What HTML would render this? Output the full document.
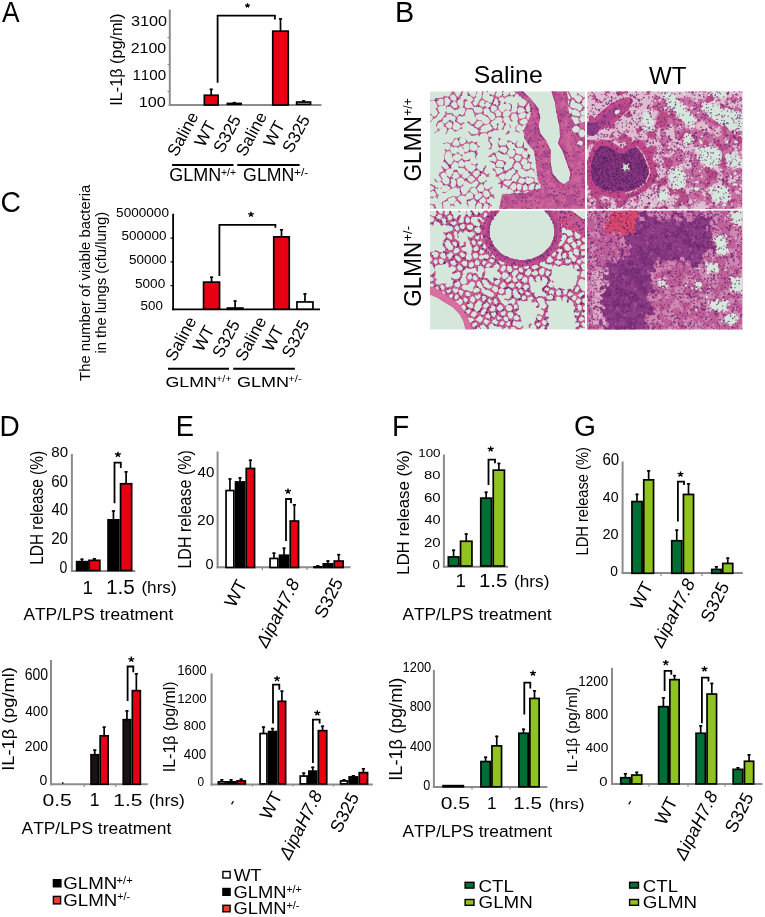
<!DOCTYPE html>
<html><head><meta charset="utf-8"><style>
html,body{margin:0;padding:0;background:#fff;}
svg{display:block;will-change:transform;filter:blur(0.3px);}
text{font-family:"Liberation Sans",sans-serif;font-kerning:none;}
</style></head><body>
<svg width="765" height="917" viewBox="0 0 765 917">
<rect width="765" height="917" fill="#fff"/>
<clipPath id="q1"><rect x="0" y="0" width="155" height="117.6"/></clipPath>
<g transform="translate(430,91.3)" clip-path="url(#q1)">
<rect width="157" height="119.6" fill="#d5e7db"/>
<path fill="#c75b96" fill-rule="evenodd" d="M9 110 5.5 112.5 4 113 0 112.5 0 113.5 2 113.5 3.5 115 4.5 117.5 6 117.5 5 113 7.5 111 9 110.5zM0 92.5 0 94 2.5 95 4 96.5 4 97.5 3 98.5 .5 99.5 0 101 3 99.5 4 99.5 6 103 6 104.5 4.5 105.5 0 105.5 0 106.5 4.5 106 5 105.5 6.5 105.5 7 106 9.5 103.5 8 103.5 7 102.5 5 98 6.5 96.5 8 96.5 7 96.5 4 94zM13.5 52 13.5 53 15 52 17.5 52 19 52.5 20.5 54 20.5 56.5 19 58.5 17.5 59 14.5 57.5 14.5 59 15.5 60 15.5 61 14 64 14 68.5 12.5 71.5 13.5 70.5 15.5 71 17.5 73 19 76 17.5 77.5 15.5 78 11.5 74.5 11.5 76 13.5 79 12 80.5 9.5 81.5 8.5 84 11 87 11.5 89 9.5 90.5 8 90.5 6.5 89.5 5.5 87.5 4 88 6 91 10.5 90.5 12.5 92 13 94.5 11.5 96.5 10 97 10.5 97.5 11.5 97.5 12.5 95 14 94 18 94.5 20 96 20 97.5 18 99.5 15.5 101 13 100.5 10.5 102.5 12 101.5 15 102 19.5 98.5 25.5 96 28 96 29 97 30 99.5 30 102 30.5 102.5 29 104.5 27 105.5 26 105 22.5 105 18 106.5 15.5 109 12 110.5 11.5 112.5 12 113 12.5 117.5 13.5 117.5 13 111.5 16.5 109.5 18 110 20 112 20.5 115.5 19.5 117 20.5 115 22.5 114 25.5 115.5 24 113 24.5 111.5 27 109.5 30.5 112.5 31.5 112.5 31.5 111.5 28 108 27.5 107 28 106 31 104 35 105 36 106 35.5 105.5 36.5 103 38 101 39.5 100 43 103 43.5 106 42.5 107 41.5 107 40 108 38.5 108 38 108.5 37 108 36.5 112 38 115 37.5 117.5 38.5 115 38.5 113 37.5 111 39 109.5 43 108 44 108 46 109.5 46 111.5 45 113.5 45 117.5 46 117.5 45.5 116 46 114.5 48.5 111 50 111.5 52 113.5 51.5 117.5 53 117.5 53.5 113.5 55 112 57 112.5 59 114.5 58 116.5 58 117.5 59 117.5 59 116.5 60.5 114.5 62 115 62 113.5 60.5 113.5 57 110.5 57 108 60.5 105.5 62 105.5 64.5 108 64.5 106 63.5 104.5 64 104 64 102.5 63 103.5 62 103.5 59.5 99.5 59.5 98.5 62.5 96.5 62 95 60 97 58 98 56 98 54 95.5 54 92.5 56 89.5 56 86.5 57 85.5 59.5 85.5 58.5 83.5 58.5 82 57.5 83 56.5 83 54 81 55 77.5 56.5 75.5 56 73.5 54 76 54 77 52.5 79.5 51 80 48 78 46.5 76 46.5 74.5 47.5 73 47 70.5 46.5 72.5 45 73.5 44 73.5 42.5 72.5 41.5 72.5 40 70.5 40.5 67 38 69 34.5 69 33.5 68.5 32 66.5 33 63.5 31.5 63.5 29.5 62.5 28 60.5 28 57 30 55 31.5 55 34.5 60 34 62.5 36.5 62 40.5 60 41 60.5 44.5 61 46 62 45 64 45 66.5 46 67.5 46.5 69.5 46 65.5 48 62.5 47 60.5 47 59 47.5 58.5 47.5 57 50 55.5 50 55 48.5 54.5 47 53 47.5 50 44.5 51.5 41.5 49.5 41.5 48 41.5 49.5 40 51 38 51 36 49 35 46.5 34.5 46.5 36 49 36 50.5 34.5 52 32.5 53 31 53 29 50 29 48.5 28.5 48 29.5 46.5 32 46 29.5 46 29 46.5 24.5 47 23 50 21 52 19.5 52 18 51zM53 106 54 106 56 108.5 56 110 54 112.5 50 111.5 49 110 49.5 109zM25 106 26.5 107.5 25 111 22.5 113 20.5 112.5 18 109.5 18 108 19 107 23.5 105.5zM53.5 100 55 99 57.5 99.5 59.5 102 60 104.5 56.5 106.5 55.5 106 53.5 104 53 102.5zM41.5 97 42.5 96.5 45 96.5 46.5 98 47.5 100 47.5 101.5 50.5 101.5 52.5 104 52 105 48 108.5 46.5 108.5 44.5 106 45.5 103.5 46.5 102.5 44.5 103.5 40.5 100 40 99zM51.5 92.5 53 93.5 54 95.5 54 98.5 53.5 99.5 52 100.5 49.5 100.5 47.5 98.5 47 97 48 95zM31.5 102 30.5 97 33 94 33.5 91.5 34.5 90 35.5 89.5 40 92.5 41.5 92.5 45.5 89.5 47 89.5 48.5 91 47.5 94 45.5 96 43 96 42.5 95.5 41 96 35.5 103 33.5 103.5zM22 87 24 87.5 26 90 26 94.5 23 96.5 22 96 20.5 94 20.5 89zM30 86 32 86.5 34 88.5 34 91 31.5 94.5 29 95 27.5 93 27 88.5zM40 84.5 42.5 85 45 87.5 45 88.5 41 91.5 37 88zM53.5 82.5 56 84.5 56 88.5 54 91 52 92 49 90 48 88.5 48 87.5 49.5 85 52 82.5zM14 81 15.5 81.5 17 84 17 85.5 19.5 88 19.5 91 18 93 15 93 13 91.5 13 90.5 11.5 89.5 12.5 88.5 12.5 87 11.5 86 10.5 83zM25 80 26.5 80.5 29.5 84.5 29.5 85 26.5 87.5 23.5 87.5 22 86 22 84zM35.5 79 37.5 79.5 40.5 83 36.5 87.5 34 87 32 85 33 82zM47 78.5 50 80.5 50 82 47 86 45.5 86 42.5 82.5 44.5 80zM35 78 35 79.5 31.5 83.5 30.5 83.5 28.5 81.5 27 78.5 23 78.5 23.5 80 22.5 83 20 86 18.5 85.5 17 84 16 81 16 79.5 17.5 78 19.5 77 22 77.5 21 76 21 75 22.5 72.5 24.5 70.5 26 70.5 27.5 71.5 28.5 73.5 28.5 77 31.5 76.5 32 77 34 77zM36 70 37.5 70 38 69.5 39.5 70 40.5 71 41.5 73.5 44.5 74 46 76 45.5 77.5 42.5 80.5 40.5 81 36 77 34.5 73 34.5 71.5zM31 69 32.5 69 34.5 71.5 34.5 74.5 33.5 75.5 30 75.5 28.5 74 28.5 71zM23 65 24.5 63 25.5 62.5 28 62.5 30 63.5 32 65.5 32 66.5 29.5 69 27.5 70 26 70 23 67.5zM26.5 55.5 28 57 28 60 26 62.5 24.5 63 21.5 61.5 22 65.5 23.5 68 23.5 69.5 21 73 19.5 73 18.5 72.5 14.5 68 15 67 14.5 66.5 14.5 64.5 16 61.5 17.5 60 20 60 20.5 60.5 20 57.5 21.5 55.5 22.5 55zM38 52 39.5 53.5 39.5 58 37.5 60.5 36 61 34.5 60 32.5 56 32.5 55 34.5 53zM41 52 43 51.5 45.5 52.5 47.5 55 47.5 57.5 46 59.5 42.5 59.5 40 58 40 53zM26.5 47 29 50 29 51.5 29.5 52 29.5 53.5 27.5 55 26.5 54.5 24 54.5 22.5 53.5 22.5 52.5 24 49.5zM58 45 58.5 45.5 58 50 58.5 50 61 53 60.5 56 58 58 61 58 61.5 58.5 61.5 56 62.5 54 62 52.5 60 50.5 59.5 48.5 61.5 46 63 45.5 60.5 46 59 45zM83 41.5 83 42 83.5 42 83.5 41.5zM80 33 79 33.5 80 35.5 79.5 38 76 42 75.5 43.5 76.5 43.5 79.5 40 79 39 79.5 37.5 81 36zM0 9 0 9.5 2 9.5 2.5 9 5 9.5 7.5 14.5 7 16 5.5 17.5 0 18 0 18.5 .5 18 5.5 17.5 8 21.5 6.5 24.5 5 25.5 3 25 0 22 0 23 1 23.5 3 26 2.5 27.5 1 29.5 0 30 0 31.5 3.5 27.5 6 26.5 8.5 23 9 20.5 7.5 17 8 16 10 14.5 14 14.5 15 13.5 14.5 7.5 16 6 17.5 6 19.5 8 20.5 10 20.5 11.5 19.5 13 18 14 17 14 15.5 15.5 16 16.5 16 19.5 15 21 15.5 23 14 24 13.5 25.5 11 28.5 8.5 29.5 7.5 30.5 6 33.5 6 35 7.5 36.5 7.5 38.5 7 39.5 5 41 6 41 13.5 35.5 16 36 17.5 38 16 41.5 15 42.5 16.5 42.5 17 42 18 39 19.5 37.5 21 37.5 23 38.5 25 40.5 27 40 29.5 38 31 38 31.5 36.5 31 35 31.5 34 35 31.5 33 31 31.5 32 30 32 27 29.5 26.5 28 27.5 26 29.5 24.5 33 24.5 33.5 25 35 24.5 35.5 20.5 37.5 18 41.5 18 43 19.5 43 20.5 44.5 23 44 24 46.5 27.5 46 30 43 33 41.5 33 39 30 37.5 30.5 41 34.5 42.5 34 44 36 46 37 48 39 48.5 40.5 48 42 43.5 43.5 41 42.5 39 40 38 40.5 41 44.5 43 44.5 45 43.5 48 43.5 49 45 50 45 50 43.5 52.5 42 56.5 42 58 44 58.5 44 58 43.5 58 42 63 39 68.5 39 69 38.5 73 38.5 74 38 74 36.5 75.5 34 75.5 32.5 74 30.5 73 27.5 74.5 25.5 76 25.5 76.5 25 78 25 79.5 26.5 80 29 81.5 30.5 84 29.5 87 29.5 88.5 31.5 88 33.5 85.5 35.5 85 37 85.5 37.5 85.5 39 84.5 40.5 86 40 88.5 41.5 90 41 90 40.5 88 40 86 38 86.5 35.5 88.5 33.5 90 33.5 92 35.5 92 36.5 92 35.5 94 33.5 95.5 33.5 96 34 96 35 95 36 93.5 39 92.5 38.5 91 40.5 93 39 93.5 39.5 94 45 95 48.5 100 55.5 104 60 104.5 65 105 65.5 105 68.5 105.5 69 105.5 72.5 106 73 106 77 106.5 77.5 106.5 81.5 107 82 107.5 88.5 111 94 111.5 96 109 97.5 105.5 98.5 105 98 105 96.5 106.5 93.5 109 93.5 108.5 92 107 92 105 90.5 104.5 89.5 104.5 87 103.5 86 101 86 98 85 94.5 86 91.5 86 88.5 83 87.5 81 88 79.5 90.5 77.5 92.5 77.5 95.5 80 97 80 101.5 78 103.5 79.5 105 82 105 84 105.5 84 104 77.5 102.5 77.5 101 76 101 73 102.5 71 99.5 70.5 98 68.5 99 66 100.5 65 100 64 98 62.5 97 60.5 97.5 58 97 57.5 95.5 57.5 94 56 94 51 93 50.5 93 53.5 91.5 55.5 87.5 55.5 86.5 54.5 86.5 52.5 88 49.5 87 49.5 86.5 51 85 52.5 82 51 81 49.5 77 49 77.5 51.5 78.5 50.5 80 50.5 82 51.5 85 54 85 55 86.5 57 88 56.5 92 56.5 94 58 94 59.5 91.5 63 88.5 63 86 61.5 85.5 58.5 84.5 57.5 84 58 80.5 58 78.5 57 77 55 77 53.5 76.5 53 77 52.5 75 54 70.5 54.5 68.5 52.5 68.5 49.5 70 47.5 71 47 73.5 47 68 46.5 68.5 47 68.5 50 67.5 52 68 52.5 68 54 69.5 56.5 69.5 58 68.5 59.5 66 61.5 64 61.5 62.5 60.5 63 61 62.5 62 58.5 65 58 64.5 58 65.5 59.5 66 62 64 64 63.5 66.5 67.5 66.5 69.5 65.5 70.5 63 70.5 61 69.5 59.5 69.5 60 70.5 63.5 71.5 65.5 74 65.5 76.5 66 77 66.5 76.5 71.5 77 73.5 79.5 71.5 81.5 67.5 83 66.5 82 65.5 78.5 64.5 77.5 62 77 62.5 78 65 80 66 82 65.5 86 66 85.5 67.5 85.5 71 90 70.5 91 68 91.5 68.5 93 70.5 93 71 93.5 70.5 96.5 71.5 97 72 95 73.5 94 77.5 96.5 77.5 98.5 76.5 100 78 98 80.5 97.5 82 98.5 83.5 100.5 83.5 101.5 81.5 102.5 72 103 69 117.5 155 117.5 155 43.5 153.5 45.5 151.5 46 150.5 45.5 148.5 43 149 40 151.5 38 153.5 38.5 155 40 155 41 155 30.5 151 31.5 149.5 29 149.5 26.5 150 26 149 25 145 24.5 142.5 23.5 141.5 22.5 142 19 145 18 149 20.5 150 22.5 150 24 151 25 155 25 155 24.5 152.5 24.5 151.5 24 150.5 22.5 150.5 21.5 152 19 155 17 155 16 154 15.5 151.5 12.5 152.5 9.5 155 7 155 6 154 6 149.5 3.5 147.5 1.5 147.5 0 147 3.5 145.5 5 147 4 149 4 152.5 6.5 151 10 149 11.5 146.5 10 144 6.5 142.5 6.5 141.5 5.5 139 0 121.5 0 125 11 126.5 22 127 22.5 128 29.5 129.5 34.5 130 45.5 128 52 132.5 59.5 140.5 82 139 89.5 134 93 129.5 90.5 122.5 82.5 122 78.5 121.5 78 121.5 75.5 121 75 121 72.5 120.5 72 120.5 58.5 117.5 53 116.5 50 110.5 42.5 108.5 36 109.5 28.5 110 28 110 25.5 109.5 25 108.5 17.5 101 8 93 0 83.5 0 86 2 82.5 4.5 81.5 4.5 80 3 79 0 78.5 0 79 .5 79 3 74.5 5.5 73.5 5 72.5 3.5 72.5 0 72 0 72 3.5 69.5 5.5 67 5.5 65.5 4 67 0 65.5 0 65 2 63.5 4 61.5 4 59.5 3 58 1.5 57.5 0 56.5 0 58.5 2 59.5 4 62.5 5 63.5 6 62.5 10 61.5 11.5 59.5 11.5 57 9.5 55.5 9.5 52.5 7 52.5 4 53 3.5 53.5 0 52 0 51.5 6.5 49 9.5 47.5 13 45 15 43 12.5 43 10 43.5 8.5 46.5 5.5 46 4.5 47.5 0 46.5 0 45.5 4.5 44 6 41 4.5 39.5 3 38 0 37.5 0 37.5 3.5 38 4 37.5 4.5 39 4 42.5 6.5 43 8.5 41 11 38 10 36 7.5 34 9 32.5 9 33.5 10 33.5 14.5 32.5 16 30 16 28.5 15 27.5 12 27.5 9.5 29 8 31 8 30.5 7.5 30.5 6 33.5 0 31.5 0 31 .5 31 1.5 28.5 5.5 27.5 5.5 26.5 4.5 24 0 22 0 20 4 18 5.5 16 5.5 14.5 4 14 5 12 6.5 5.5 7 5.5 7.5 4 8.5zM99 100.5 96 101.5 94 101.5 93.5 101 97.5 99.5zM84 101.5 84.5 100.5 86 99.5 88.5 99.5 92 101 88.5 102 84.5 102zM104 92.5 105 93.5 104.5 94 104 97.5 101.5 99 99.5 98.5 98.5 97.5 98.5 95 102 92.5zM95 92.5 98 95 98 97.5 96.5 99 94 99.5 93 98.5 93 95zM88 92.5 90.5 93 92 94.5 90.5 99 88 98.5 86.5 96 86.5 94.5zM84 91.5 86 93 86 97.5 84.5 99 83 99 80.5 97.5 80 96 81 94zM95.5 87.5 97 86 99 86 102.5 87 104 88.5 104 89.5 102.5 91 98 93 95.5 91zM91.5 86 93 86 95 88 95 90.5 92.5 92.5 90 92 88 90.5 89.5 87.5zM88 83 89 86 86 90.5 84.5 90.5 84 90 82 90.5 80 93.5 78 95 73.5 92 73.5 90.5 75 89.5 77 89.5 77.5 89 81 89.5 82 88.5 82 86.5 83.5 84 86.5 82zM74 82 75 83 74.5 87.5 74 88.5 72.5 89.5 69.5 87 68.5 85.5 68.5 84.5 72 82.5 73.5 82.5zM83.5 77.5 85.5 79.5 85 82 82 84 81 87 80 88 78.5 88 78 88.5 75.5 88 74.5 87 74.5 85.5 75 85 75 83.5 76 82.5 76 81.5 77.5 81 80 78.5 82 77.5zM98.5 71.5 99.5 72 100.5 73.5 100.5 76 99.5 77.5 96.5 79 93 76.5 93 75 97 71.5zM86 71 89 71.5 91.5 75.5 91 77 88.5 79 86 79 83.5 76.5 83.5 75zM67.5 70 68.5 69.5 71 69.5 73 70.5 74 72 73.5 75 71.5 76.5 71 76 68 76 67 75.5 66 74 66 72.5zM95.5 67.5 97.5 69 97.5 71 94 74 92 74 90.5 72 92 68.5 93 67.5zM86.5 63.5 90.5 64.5 91.5 66 90.5 68.5 89 70 87.5 70 85.5 69 84 66.5zM65.5 62.5 67 61 69 61 72 63 73.5 63 74 63.5 76.5 63 77.5 63.5 79.5 65.5 79.5 68 81 67 82.5 67 84.5 69.5 82 74.5 82.5 75.5 75.5 80 73.5 77 73.5 75 77 70.5 75.5 71 73 69 68.5 68.5 67 67zM94.5 59.5 96 59.5 98 62.5 98 65.5 96.5 67 94 66.5 92 64 92 62.5zM79.5 58 83.5 58 85.5 61 84 64.5 82 66 79.5 65 77 62 78 60.5 78 59.5zM70.5 56 72 55.5 76 55.5 77.5 57.5 76.5 60.5 74 62.5 71.5 61 69.5 59 69.5 57zM147 51.5 148.5 50 151 49.5 152.5 50.5 153 52.5 152 54 149.5 54.5 147 52.5zM144 35 147 34.5 149.5 36.5 150 38.5 148 41 145.5 41.5 144 41 142.5 39.5 142 37.5zM62.5 36.5 62 38 59 39.5 58 39.5 56.5 41 51 41 49.5 39.5 50 37.5 53 34.5 57 33.5 58 32.5 60 33zM19 30.5 21 30.5 22.5 32 22 35.5 20 37.5 17.5 36.5 15.5 34 16 33zM10 30.5 12 31 13.5 32.5 14 35 11 37.5 8.5 37.5 7 36 7 34.5 8.5 31.5zM52 30.5 53 31.5 52 33.5 49.5 36 47 36.5 45 35 45 33.5 47.5 30 50 29.5zM89.5 30 93.5 27.5 96 27.5 97 28 98 29.5 97.5 31.5 94.5 33.5 91.5 33 89.5 31zM67.5 26 71 26 72.5 27.5 72.5 29.5 72 30.5 70.5 31.5 73 31 74 32.5 74 33.5 71.5 38.5 69 38.5 68 37.5 68 34.5 69.5 32 67.5 33 67 36 66 37.5 64.5 37.5 62.5 35.5 60.5 32 62 30 65 28.5 65 27.5zM141.5 26 142.5 25 143 25.5 145.5 25.5 148.5 27 148.5 29.5 150 31.5 148 32.5 145 33 142.5 28 141.5 27zM16.5 23.5 22 23 25.5 26 26 27 25 29 25.5 30.5 29 32.5 31 35 31 36 28.5 38.5 25.5 39.5 23.5 38 22.5 36 23.5 33 23.5 30.5 22 29.5 19.5 29 15.5 32 13.5 32 12 30.5 12.5 28.5 13.5 27 16 25zM45.5 23.5 46.5 22.5 51.5 22.5 53.5 24 56.5 25 58.5 27 60 30 58 32.5 55.5 33 53.5 32 51.5 29 49 29 47 28 46 26.5zM82 22.5 85 22 86.5 23 88 27 88 28 87 29.5 82.5 29.5 81.5 28.5 80.5 25zM94.5 21 96 22.5 95.5 25.5 93.5 27 89.5 27.5 88 24 91.5 21.5zM100 20.5 100.5 21 100.5 24 99 27 99 28 98 28.5 96.5 26.5 96.5 23 97.5 21.5zM65 20.5 67.5 18.5 68.5 19 71 21.5 71.5 24 69.5 25 66.5 25 64.5 22zM55 17 58 17 59.5 18.5 60.5 21 64 22.5 65 24.5 65 27 64 28 62 29 60.5 28.5 58 24.5 56.5 23.5 55 23.5 53.5 22 53 19.5zM87.5 21 88 17 89 16 92.5 16.5 95 18.5 95 19.5 94 20.5 93 20.5 91.5 21.5 88.5 22zM32.5 16 34.5 17 35.5 18.5 34 22.5 32.5 24 30 23.5 29 22.5 28 19.5 28 18 29.5 16.5zM139 15.5 142 18 142 20 140.5 22.5 139 22 139 19.5 138.5 19 138.5 16zM18 14.5 21 16 23 18 27 18 28 19 29 23 27 25.5 24 24 23 22.5 21.5 21.5 17.5 22 16.5 21 16 19.5 16.5 16.5zM62.5 14 65.5 15 67 16.5 66.5 18.5 64 20.5 62 20.5 60.5 18.5 60.5 16.5zM98.5 12 99.5 13 100 20 99.5 20.5 97 20.5 95.5 18 95.5 17zM56.5 10.5 59.5 11.5 61 13.5 59 16.5 56 16.5 54.5 15 54.5 13zM35 11 36 10 38 10 40.5 11 43.5 15.5 48.5 15 51.5 16.5 52.5 17.5 52.5 20 51 21.5 46 21.5 44.5 20.5 43.5 17.5 42 16.5 36.5 17 34.5 14.5 35 13.5zM23.5 10 25 10 26.5 11.5 27.5 15.5 26 17 23.5 16.5 20.5 13 21 12zM138.5 9 139.5 10 138.5 13.5 138 13 138 9.5zM141 9.5 142 8.5 143 8.5 147 12 150.5 13 152.5 15 153 16 152.5 17 150.5 19 149 19.5 146.5 17.5 141.5 16.5 140 14.5zM52 8.5 54 9.5 55 11 54.5 14 53 16 49 14 49.5 11.5zM6.5 9.5 8.5 8 12.5 7.5 13.5 8.5 13.5 13 12.5 14 9 14 8 13zM65.5 7 67 7.5 69 12.5 68.5 13.5 67 14.5 64.5 13.5 63 12zM69.5 6.5 72.5 5.5 74.5 7.5 74.5 11 74 12 75.5 13 76.5 12 78.5 12 81 14 81 16.5 79.5 19 77.5 19 76.5 18 75 18.5 73.5 20.5 72 21 69 18.5 68.5 15.5 70.5 13 70.5 11.5 69 8.5 69 7zM96.5 10 96.5 11.5 94 15.5 89.5 14 88.5 13 88.5 11.5 88 11 87.5 11.5 87.5 17 86.5 20 84.5 21.5 83 21 81 21.5 80 23.5 78 25 74 25.5 72.5 24 73 21.5 76 19 78 19 80.5 20.5 81.5 20 81.5 17.5 82 17 82 14 81.5 13 78.5 11.5 78 12 76.5 12 74.5 9.5 74.5 7.5 76 6 79.5 4.5 80.5 5 83.5 5 87 2.5 89.5 4 92 7 93.5 7.5zM22 2.5 23 2.5 25.5 5 26.5 7 26.5 8.5 25 9.5 22.5 9.5 21 8 20 5zM137.5 .5 140.5 6.5 139.5 8 137.5 7 137.5 3 137 2.5 137 1z"/>
<path fill="#b4447f" fill-rule="evenodd" d="M92 0 92 1.5 100 9.5 107.5 19 108 23.5 108.5 24 108.5 29.5 107.5 33 107.5 37.5 109.5 44 115.5 51.5 116.5 54.5 119.5 60 119.5 73.5 120 74 120 76.5 120.5 77 120.5 79.5 121 80 121.5 84 128 91.5 132.5 94 135.5 94 140 91 140.5 87.5 141.5 85 141.5 80.5 133.5 58 129.5 51.5 131 47 130.5 33 130 32.5 130 30.5 129.5 30 128 21 127.5 20.5 126 9.5 123.5 2.5 123.5 1 123 0 121.5 0 125 11 126.5 22 127 22.5 128 29.5 129.5 34.5 130 45.5 128 52 132.5 59.5 140.5 82 139 89.5 134 93 129.5 90.5 122.5 82.5 122 78.5 121.5 78 121.5 75.5 121 75 121 72.5 120.5 72 120.5 58.5 117.5 53 116.5 50 110.5 42.5 108.5 36 109.5 28.5 110 28 110 25.5 109.5 25 108.5 17.5 101 8 93 0z"/>
<path fill="#8c3a86" fill-rule="evenodd" fill-opacity="0.35" d="M106.5 117 106.5 117.5 109 117.5 108 116zM94.5 117.5 98.5 117.5 96.5 116 95.5 116zM134.5 114 133.5 115 134.5 116.5 134.5 117.5 136.5 117.5 136.5 115.5zM114.5 114 113.5 114 113.5 117 114 117.5 115 115.5zM86 110 82.5 110.5 81.5 111.5 81 113.5 84 114 85 113zM117.5 109 117 109 116.5 110 117.5 110zM96 108.5 95 110.5 95.5 112 97 111 97 110zM127 108 126 109.5 126 113 127 115.5 128.5 115.5 130.5 114 131 111.5 129.5 108.5zM73.5 104.5 73 105 75.5 108.5 75 109 75 112 77.5 114 77.5 115.5 79 116 79.5 114.5 77.5 114 77 112.5 77.5 111 79.5 109 79.5 107 78 105zM120 103.5 119.5 104 119.5 105.5 121 106 121.5 105 121 103.5zM145 103 143.5 103.5 139 103.5 136.5 105 136 106.5 136.5 109 138 110.5 138 113 140 114.5 142.5 114 142.5 112 143.5 111 145 111 145.5 111.5 147.5 111 147.5 110 145 107.5 145 105.5 145.5 105 145.5 103.5zM116.5 103.5 116 103 115 103.5 113.5 105.5 112 105.5 110.5 104 109 104 107 105.5 107 106.5 112.5 108.5 116.5 106.5zM155 101.5 154.5 102 154 107.5 151 111.5 151 112.5 149.5 114 150 115.5 151.5 115 151.5 112.5 152.5 111.5 155 110.5zM93 101.5 90.5 101.5 88.5 104 87.5 103.5 87 102 85 102 85 105 87.5 108 87 109.5 90 109.5 90.5 109 90 107.5 90.5 106.5 94 104 94 103zM105.5 100 104.5 99 100.5 101 97.5 101 96.5 102 96 104 96.5 104.5 98.5 104.5 100 103.5 103 103.5zM110 97 108 97.5 106.5 100 109 100.5 110 99.5zM132.5 98.5 133 99 134.5 99 136.5 97.5 140 98 140.5 97 140 96.5 134.5 96.5 133 97zM143.5 92.5 141.5 94 141.5 96.5 144 98 145.5 100.5 146 100 145 98.5 146 96.5 146 93.5 145.5 92.5zM153.5 89.5 149.5 93 152.5 92.5 153.5 93.5 153.5 97 155 97.5 155 89.5zM110 87.5 110 88.5 112.5 89.5 113.5 91 114.5 91.5 115.5 91 115.5 89 113.5 89.5 112 87.5zM140 85 139.5 86 140.5 87 141.5 87 141.5 86zM114 86 115 87 116 87 117 85 114.5 85zM123.5 84.5 120.5 87 120.5 88 122 88.5 125 87 126 88 126 90 127 93 126.5 94 126.5 96.5 127 97 129.5 94 129.5 91.5 130 90.5zM151 81.5 151 83.5 152.5 84.5 153.5 83zM145.5 80.5 144.5 82 144.5 83.5 145 84 146.5 83 146.5 81.5zM155 71.5 153.5 75.5 153.5 76.5 155 78.5zM121 74 118 73.5 115 71.5 112 72 111.5 73.5 115 78.5 111.5 80.5 108.5 79.5 107.5 81 107.5 82.5 109 84 111.5 84 112.5 83.5 115 78.5 118.5 78.5 120 77.5 121.5 75.5zM141.5 68 140 69 140 70.5 141 71.5 142.5 71 142.5 69.5zM135 64.5 134.5 65.5 135.5 68.5 136.5 69 137.5 67 137.5 65 137 64.5zM155 64 154 65 154 66 155 66zM150 60 148 61.5 144.5 61 144.5 62.5 143 65.5 143 66.5 144.5 67 146 68.5 145.5 69.5 145.5 71 146 71.5 148 68.5 150 68.5 151.5 66.5 151 65.5 149 65.5 149 66.5 148 67.5 147 66.5 148 64.5 148 62.5zM120.5 60 119 60 116.5 58.5 113 62 109.5 64 108 64 106 61.5 104.5 61.5 104 60.5 104 61.5 105 62.5 105 64.5 106 64.5 108 66.5 114 66.5 117 63 119 61.5 120.5 61.5zM106.5 55.5 106.5 56.5 107.5 58 111 56 108 54.5zM132 52.5 130 55.5 131 56.5 133 61.5 134.5 61.5 136.5 60 136.5 59 133.5 55.5 133.5 53.5 134 53 134 51.5zM130 47 129.5 47 128.5 50.5 131.5 48.5zM155 46.5 151.5 46 151 45.5 151 47 152.5 49 152.5 51 153 51.5 152.5 53.5 151 54.5 149.5 54.5 147 52.5 147.5 49 148 48.5 147.5 47 144.5 47.5 143 50.5 143.5 51 145.5 51 148.5 55 150.5 55.5 153.5 53.5 155 53.5zM146 41.5 148 44 149.5 44.5 148.5 43 148.5 41.5 149 41zM97.5 31 97.5 32 94.5 37 97 39 98 40.5 98 42.5 98.5 43 100 42.5 100 41 101 40 102.5 40 103.5 41 103.5 41.5 101.5 43 102 45 103.5 46.5 103.5 48 102.5 49 100.5 49 100 49.5 97.5 49 97 50 98.5 52.5 98.5 53.5 99 54 103 51 106 51.5 108.5 50 108.5 48 107 46 107 44.5 108 43.5 110 44 112 46 112.5 47.5 114 47.5 113.5 46 111.5 44 110 41.5 110 40 108.5 35.5 105 34.5 103 37.5 100 37.5 98 35zM142 28.5 139 28.5 138.5 29 138.5 30.5 140 32 140 33.5 135.5 38 132.5 38 132 37.5 130.5 38 131.5 39 137 39.5 138 39 140.5 36 141.5 36 142.5 37 144 35 145 35 145 33 143.5 31.5zM101.5 30 104 30 105.5 29.5 106 28.5 104 26.5 102.5 26.5zM109.5 22.5 108.5 22.5 107.5 23.5 107.5 25.5 109 26.5 110 26 109.5 25zM100.5 21.5 100.5 23.5 101 23.5 101.5 22.5zM139 20 136.5 20.5 135.5 20 133.5 17.5 130.5 17.5 129.5 17 127 20.5 129.5 24 129.5 26 128 27 128 29.5 129 32.5 131.5 31 132.5 28.5 132.5 27 134 26 137.5 22 139 21.5zM100 17.5 101.5 17.5 101 17zM106.5 15 106 15 103.5 18 105 20.5 106 20.5 108.5 17.5zM122 0 122.5 4 123.5 7 125 9 127.5 9.5 133 7.5 135 10 137.5 10.5 138 9.5 137.5 6 137 5.5 137.5 3 136.5 0 133.5 0 133.5 1.5 136 4 136 5 133.5 7.5 129.5 2 127.5 2 127 2.5 126.5 2 127.5 0zM126.5 4.5 127.5 4.5 128.5 5.5 128.5 7 127.5 8 126.5 8 125 6.5zM89 0 87 2.5 94 7.5 94.5 5 95.5 4 97 4 93 0z"/>
<path fill="#d0689e" fill-rule="evenodd" fill-opacity="0.8" d="M152 117.5 153.5 117.5 153.5 117zM128.5 117 128.5 117.5 133 117.5 131.5 116 130 116zM122 116.5 122 117.5 124 117.5 124 116.5 123 116zM84 117 84 117.5 87 117.5 85.5 116zM88 117 88 117.5 93.5 117.5 92.5 115.5 89.5 115.5zM149.5 117.5 146 113.5 145 113.5 143.5 115.5 139 116 138.5 116.5 138.5 117.5zM74.5 114 73 113.5 72 116 71 117 69 116.5 69 117.5 74 117.5zM154.5 113 154 114 155 114.5 155 113zM97.5 113.5 97.5 114.5 100.5 115.5 100.5 117.5 104.5 117.5 107 114.5 108.5 114.5 110 116 110.5 117.5 112 117.5 112 113 113.5 112 114 111 112.5 110 110.5 110 109 108.5 106 108.5 105.5 110 106.5 111 110 111 110.5 111.5 109.5 113 108 113 106 114 101 114 100 112.5 99 112.5zM93 107.5 93 108 93.5 108 93.5 107.5zM71.5 106.5 71 107 70.5 110.5 71 110 73 110 73 108zM82.5 106 82 107.5 82.5 108 84 108 84 106.5zM134 105.5 132.5 106 131.5 107.5 131.5 110 132.5 112.5 133.5 111.5 135.5 111.5zM98.5 105.5 97.5 106.5 97.5 108 99 109.5 102 110.5 102.5 110 102.5 107 103 106 102.5 105.5zM78 102.5 72 103 78 103zM83 102 82.5 102 82.5 102.5zM152 101.5 151 101.5 150 104.5 149 105.5 148 105 146.5 107 149 109 151 108.5 152.5 106.5 153 104zM134 103 134.5 104 135 104 138 102 143 101.5 143.5 100.5 143 99.5 141 99.5 140.5 100 136 99.5 134 101zM131 100.5 130 100 128 101.5 127.5 101 125.5 101 124 100 123.5 98 122.5 97.5 120 98 118 99.5 118 100.5 119 101.5 121 101.5 122.5 102.5 124 106 124 108 120.5 109.5 120.5 110 117 113 117 115 117.5 115.5 120 115.5 121 113.5 124 111.5 124 108.5 126 107 126.5 104.5 128.5 102 131 102 131.5 101.5zM151 96 148 96.5 147.5 97 147.5 98.5 150.5 97.5zM131 91.5 131.5 93 133.5 92.5zM108 89 110 93 111.5 94.5 111.5 101.5 113 102 114.5 100.5 115 96.5 116 95 112.5 93 111 90.5zM118 88 117.5 89 117.5 92 118 92.5 117.5 95 118 95.5 119.5 95.5 121.5 94.5 122.5 95.5 124 95.5 125 94.5 125 92.5 124.5 92 122 92 121.5 91zM154 86 154 87.5 155 88 155 85.5zM151 86.5 148 84 146.5 85.5 145 86 142.5 89.5 140.5 90 139 88.5 139 89.5 138 90.5 134.5 92.5 135 93.5 138 94.5 138.5 94 138.5 92.5 140 90.5 142.5 90.5 144 89.5 145.5 90 147 91.5 148.5 91.5 149.5 90 149.5 89 151 87.5zM142.5 78.5 141 79.5 141.5 83 142.5 83 143 82 143 79zM122 78.5 121 78 119.5 79.5 116.5 80.5 115.5 81.5 115.5 82.5 120 83 122 80zM109.5 77 109.5 77.5 111 78.5 112 78 112 77.5 110.5 76.5zM138 72 138.5 73 140 73.5 140.5 74.5 143 76.5 145 75.5 145.5 73.5 144 72.5 140.5 73.5zM152.5 71.5 151 71 148.5 71 147.5 72.5 147.5 78.5 148 79.5 149 79.5 150 78.5 149.5 75.5 150.5 74.5 152 74.5 153 73zM119 71 119.5 72 120.5 72 120.5 71zM120.5 63.5 119.5 63.5 119.5 66 118 67.5 116 67.5 114.5 69 112.5 69 111 68 109 68.5 108 69.5 108 71 107 72 105.5 72 106 73 106 75.5 107 75 110.5 71 113 69.5 117.5 70.5 117.5 68.5 118 68 120.5 68.5zM142 63 140 63 139.5 63.5 139.5 65.5 140.5 65.5zM154 59.5 152.5 60 150.5 62.5 151 64 153.5 63.5 154.5 61zM114 58 113.5 57.5 111 59 111 60 111.5 59.5 113.5 59.5zM145.5 56 145 57.5 146.5 59 147.5 59 148 58.5 148 57 147 56zM155 54.5 153.5 55 152.5 56.5 153 57 155 57zM103 53.5 102 55 102.5 55.5 104 55.5 104.5 55 104.5 53.5zM149.5 48.5 149.5 49.5 151 49.5zM108.5 52 109.5 53.5 110.5 53.5 112 52.5 116 52.5 117.5 54 118.5 56 118.5 57.5 119 58 120 57.5 115.5 48.5 113.5 49 111.5 51.5zM109.5 46 109.5 47 110 47zM155 43.5 154 45 155 45zM140.5 40 139 40 137.5 41 137 42.5 135 44.5 135.5 45 136 49.5 136.5 50 136 55.5 137 56 138 57.5 138 60.5 138.5 61 142 58 142.5 56.5 142 55.5 141 55.5 140 54.5 140 52.5 139 50.5 139.5 48.5 141 47 140.5 43 141.5 42 143 43 144 45 145.5 45 146 44.5 145.5 43 143.5 41zM93.5 39.5 94.5 46 98 46 99.5 47 100.5 47 100.5 45.5 100 45 97.5 44.5 96.5 43.5 95.5 40 95 39.5zM100.5 33 100 34.5 101 35.5 102.5 35.5 102.5 33.5 102 33zM149.5 32 150.5 33.5 149.5 35.5 149.5 37 150 37.5 149.5 39.5 150.5 38.5 152.5 38 155 40 155 41 155 34 154.5 33.5 155 30.5zM109.5 29.5 106 32 106 32.5 108 34 109 33.5zM99.5 26.5 99 27 99 28.5 99.5 28zM140 24 138.5 25.5 137.5 25.5 136 26.5 136 28.5 134.5 29 133.5 30.5 133.5 34 133 34.5 130.5 34 131.5 35.5 134.5 36 137.5 33.5 137.5 32 136 29.5 136 28.5 139 26.5 141.5 26.5zM127 23 127.5 25.5 128 24zM104 22 103.5 22.5 103.5 24 104.5 25 105.5 25 106 23.5 105.5 22.5zM128 13.5 126.5 13.5 125.5 15 126 17.5 128.5 14.5zM130.5 11 131.5 14.5 132.5 15 136.5 14.5 138.5 16 138 13 136 13 132.5 10 131.5 10zM96.5 6 96 6.5 96.5 10 99.5 13 99.5 15.5 104 16 104.5 15 104.5 12.5 99 6z"/>
<path stroke="#4e1c62" stroke-opacity="0.6" stroke-width="1.2" stroke-linecap="round" d="M124.9 99.7h0M106.6 68.8h0M141.4 44.3h0M116.4 92.5h0M125.6 117.4h0M129.2 95.7h0M138.9 97.1h0M135.5 61.6h0M152.8 69.3h0M113.7 76.9h0M95.8 46.9h0M153.2 36.9h0M95.2 103.6h0M118.2 54.5h0M105.1 60.2h0M115.4 72.1h0M105.5 109.4h0M146 42.3h0M117.1 98.5h0M148.3 114.1h0M101.6 18.1h0M92.3 1.1h0M118.1 60.8h0M108.8 112.6h0M95.3 104.8h0M136.2 111.4h0M96.4 109h0M144.2 75.7h0M101.1 20.1h0M141.2 103.9h0M142.6 42.3h0M147.1 106.4h0M149.7 60.7h0M154.7 38.8h0M97.7 105.9h0M118 65.9h0M138.9 68.9h0M116.1 83h0M143.3 69.7h0M141.1 80.2h0M99.1 34.9h0M148.4 45h0M117 102.2h0M81.1 109.8h0M155.3 82.9h0M155.5 51.3h0M114.7 52.5h0M151.7 73.4h0M120.6 72.7h0M145.3 52.9h0M153.9 91.2h0M98.6 10.2h0M153.9 96.1h0M108.2 48.7h0M131 46.2h0M132.7 106.7h0M101.4 49.4h0M126.4 111.1h0M136.8 12.8h0M118.6 95.9h0M95.4 47h0M138.6 32h0M155.2 53.5h0M120.3 72.9h0M74.6 107.6h0M72.2 110.8h0M106.4 99.7h0M140 39.1h0M147.8 74.4h0M73.7 117.6h0M92.8 106.4h0M99.1 110.3h0M152.2 82.6h0M95 7.7h0M108.9 37.3h0M100.8 47.7h0M132.5 102.9h0M96.1 110.1h0M79.6 112.9h0M107.7 100.1h0M107.5 111.1h0M136.3 101.3h0M152.9 108.6h0M104.2 56.6h0M150.1 108.8h0M149.9 81.8h0M101.6 49.7h0M98.4 50.5h0M89.6 103.1h0M148 33.9h0M155.3 33.7h0M155 31.3h0M103.8 12.4h0M144.7 111h0M100.9 14.2h0M148.9 55.9h0M114.2 90h0M115.2 98h0M109.7 91.4h0M132.6 102.6h0M114.7 100.5h0M134.2 3.8h0M145 73.8h0M149.2 60.9h0M141.9 52.5h0M138 93.3h0M100.5 11.1h0M111.9 76.2h0M134.7 17.3h0M137.4 40.4h0M106.9 72.1h0M139.3 35.8h0M154.1 81.9h0M95.6 115.5h0M113.9 48h0M138.3 90.9h0M145.5 108.4h0M143.8 57.4h0M75.7 115.3h0M128 110.5h0M147.2 51h0M122.7 97.1h0M147.4 91.7h0M107.8 83.3h0M151.7 113.9h0M101.3 34.6h0M117.6 92.9h0M92.2 103h0M105.5 41.4h0M149 78.5h0M71.7 114.7h0M105.3 32.7h0M137.4 104.8h0M119.8 103.1h0M130.8 98.2h0M127.2 11.3h0M138.2 25.4h0M128.3 25.2h0M96.1 106.9h0M123.4 100.4h0M148.9 34.6h0M152.4 82.4h0M135.1 55.4h0M121 110h0M142.9 35.3h0M105.2 36.1h0M120.5 104.5h0M150 105h0M136.9 46.7h0M136 26.5h0M149.4 110.2h0M155 56.9h0M85.9 109.4h0M132.8 25.9h0M117.1 64.4h0M104.5 32.9h0M132.4 110.8h0M138.3 64.7h0M136.6 99h0M105.6 31.6h0M133.4 102.1h0M126.7 20.5h0M132.4 43h0M114.1 62.2h0M99.1 48.7h0M98.4 9.9h0M100.6 105.3h0M136.3 100.8h0M102 113.6h0M131.5 42.2h0M86.1 106.4h0M93.5 40.2h0M150.1 47h0M144.2 63.9h0M118.4 117.8h0M136.8 114.3h0M107.5 69.5h0M107.2 56.2h0M78 111.3h0M77.1 116.8h0M153.2 72.5h0M130.6 9.8h0M120.5 59.3h0M113 54.9h0M145.5 104.3h0M76.1 102.9h0M107.4 84.2h0M115.4 97.8h0M81.8 102.6h0M134.5 60h0M106.3 63.5h0M143.5 60.7h0M112.2 71.8h0M116.6 104.1h0M132.5 45.5h0M154.1 96.2h0M115.1 80.2h0M123.4 105.6h0M96.3 111.5h0M155.2 95.1h0M102 33.7h0M138.5 100.7h0M129.6 101.7h0M151 61h0M120.3 90.1h0M113.8 84.9h0M109.3 70.4h0M106.9 17.9h0M152.9 86.6h0M84 110.6h0M106.8 32.6h0M139.2 26.1h0M136.3 67.2h0M140.1 93.9h0M109.4 74.3h0M111.5 48.8h0M100.2 114.1h0M152.4 59h0M128.7 15.3h0M110.5 102.6h0M152.5 79.2h0M105.9 63.9h0M144.8 100.4h0M134 35.8h0M136.5 10.7h0M153.5 59.7h0M121.3 79.1h0M147.9 43.5h0M148.3 100.7h0M146.1 82.1h0M139.5 116.4h0M71 112.2h0M125.1 1.7h0M102.6 115.3h0M118.5 117.2h0"/>
<path stroke="#4e1c62" stroke-opacity="0.6" stroke-width="1.6" stroke-linecap="round" d="M118.2 105.8h0M107 116.7h0M152.7 77.4h0M148 96.6h0M100.8 13.8h0M101.2 117.9h0M91.2 110.2h0M98.9 48.8h0M134.7 103.6h0M120.8 81.5h0M109.6 44.7h0M94.7 46h0M96.8 35.2h0M148.9 99.9h0M107.6 52.5h0M113.9 93.2h0M139.9 25h0M105.1 13.9h0M108.2 22.6h0M111.8 84.1h0M89.5 4.5h0M92.2 116.6h0M123.1 103.8h0M101 40.2h0M109.8 26.2h0M118.4 65.3h0M109.3 48.1h0M97.8 117.6h0M130.9 29.6h0M134.6 113.8h0M114.7 117.9h0M116.9 62.5h0M153.3 108h0M148.2 32.6h0M152 113.6h0M113.2 55.1h0M110.8 68.3h0M125.9 110h0M109.5 24h0M102.4 23.2h0M136.2 62.3h0M101.2 109.4h0M132.1 23.5h0M102.2 103.4h0M154 52.7h0M141.4 82.9h0M134.8 15.9h0M124.1 91h0M115.5 64.8h0M125.1 105.8h0M135.9 20.4h0M133.8 30.7h0M82.9 109.4h0M111.2 44.7h0M146.6 43.1h0M125.9 104.1h0M104.3 55.7h0M99.9 46.3h0M135 102.7h0M107.6 60.8h0M92.6 109.3h0M101.2 46.5h0M149.2 102.2h0M125.7 88.9h0M144.2 95.2h0M74.4 117.1h0M114.3 60.4h0M150.4 82.9h0M99.7 103.6h0M148.1 54h0M117.1 72.3h0M132.2 39.7h0M119.6 62h0M124.2 100.4h0M84.6 102.3h0M96.3 42.3h0M152 95.3h0M138 22h0M72.1 109.9h0M105.8 63.1h0M98.3 51.6h0M130.1 23.1h0M138 95.8h0M151.7 48.6h0M143.8 103.6h0M97.4 117.7h0M121.3 102.5h0M149.3 54h0M118.7 104h0M91.9 106.4h0M90 101.9h0M94.8 39.2h0M141 79.1h0M145.1 46.4h0M143.7 44.3h0M115.2 95.8h0M137.7 35.5h0M139 76.2h0M153.6 72.5h0M107.2 55.2h0M86.8 112.1h0M124.9 86.1h0M111.1 94.8h0M134.4 60.8h0M137.4 61.4h0M112.9 73.9h0M137.7 114h0M124 104.2h0M100.9 19.7h0M152.4 88.6h0M95 106.8h0M105.5 38.1h0M125.9 109h0M145.9 112.8h0M106.1 105.2h0M102.4 16.4h0M124.3 107.7h0M134.3 2.8h0M121 97.3h0M134.9 24h0M131.7 7.4h0M142.6 65h0M148.3 78.7h0M101.8 17.2h0M82 115.7h0M97.4 44.5h0M113.3 86h0M99.9 117.3h0M137 6.1h0M147.5 60.4h0M106.9 33.5h0M109.9 110.6h0M72.2 110.3h0M133.1 95.3h0M141.9 78.1h0M125 85.8h0M123 83.7h0M127.4 104.1h0M72.1 114.7h0M147.4 105.1h0M93.1 104.7h0M130.1 101.6h0M146.7 101.9h0M139.2 64.8h0M107.1 26.9h0"/>
<path stroke="#4e1c62" stroke-opacity="0.7" stroke-width="1.2" stroke-linecap="round" d="M26.7 70.5h0M98.2 64h0M96.9 57.6h0M6.5 24.9h0M61.8 104h0M88.3 16.3h0M84.4 68.3h0M27.2 27.8h0M46.4 62.7h0M71.8 91.9h0M98.2 63.1h0M25.7 106.9h0M98.5 86.2h0M93.5 86.7h0M20.7 60.5h0M77.5 56.6h0M43.8 104.2h0M29.9 23.2h0M84.7 100.5h0M93.2 53.8h0M40.4 109.3h0M83.4 4.4h0M20.6 90.4h0M86.4 79.1h0M145.2 25.7h0M25.7 29.3h0M97.9 29.5h0M86.9 79.9h0M98.7 65.6h0M29.1 110.6h0M71.2 25.4h0M30.7 85.8h0M72.3 23.1h0M61.2 33.8h0M86.7 99.9h0M104.7 98.1h0M4.2 26.4h0M99.7 64.1h0M17.1 37.8h0M33 94.5h0M74.3 12.1h0M22.3 31.4h0M73.5 76.3h0M86.3 98h0M87.5 21.8h0M70 10.1h0M60.5 4.3h0M26.8 79.4h0M39.5 108.5h0M75.1 73.2h0M63.5 9h0M83.7 58.1h0M15.4 109.5h0M17.9 85.2h0M45.1 36.3h0M1.1 23.4h0M72.3 91.5h0M105.1 96.5h0M12.2 28.8h0M79.2 40.8h0M49.4 111h0M31.7 101.6h0M95.7 17.9h0M17.2 73h0M20.1 88.8h0M18.7 94.7h0M91.1 73.1h0M60.3 19h0M25.6 29.6h0M38.2 4.1h0M15 70.8h0M40.3 17.5h0M22.8 32h0M81.5 16.4h0M62.9 38.5h0M81.2 14.4h0M57 25h0M59.6 11.5h0M81 24.8h0M33.8 14.8h0M77.1 56.4h0M97.6 71.7h0M140.8 24.1h0M92.3 6.8h0M78.3 50.6h0M5.1 41.2h0M44.3 15h0M54.8 12.1h0M8.9 39.5h0M141.1 17.4h0M105.3 98.3h0M65.5 72.3h0M30.7 24.3h0M50.5 84.1h0M94.7 87.1h0M13.8 52.3h0M46.2 23.2h0M19 6.8h0M68.7 13.1h0M20.7 30.8h0M6.2 7.2h0M6 7.7h0M47.7 110.3h0M139.3 12.4h0M95.2 91.9h0M99.4 66.9h0M84.9 71.3h0M22 11.3h0M68.5 83.9h0M48.5 102h0M79.1 4.6h0M14.6 78.4h0M48.5 109h0M45.3 78.5h0M44.6 89.7h0M9.6 30.4h0M83 76.2h0M22.5 9.9h0M5.4 116.2h0M97.6 93.3h0M58.9 82.8h0M47.6 23h0M87.5 16h0M26.3 27.4h0M49.1 14h0M60.4 51.7h0M104.8 94.8h0M149.5 25h0M52.5 112.2h0M16.7 5.6h0M17.6 37.7h0M150.9 11.1h0M58.3 98.2h0M19.8 94.2h0M37 88.1h0M24.8 18.4h0M150 26.3h0M27.4 7.3h0M150.2 29.8h0M44 105.1h0M16 25.3h0M60.7 17.5h0M45.3 60.6h0M33.2 56.7h0M90.9 100h0M20.2 87.2h0M29.9 46.6h0M33.7 69.5h0M50.1 81.1h0M56.3 89.9h0M63.6 78.8h0M40.5 82.8h0M81.4 97.8h0"/>
<path stroke="#4e1c62" stroke-opacity="0.7" stroke-width="1.6" stroke-linecap="round" d="M74.6 71.5h0M35 8.7h0M72.9 .4h0M19.9 12.7h0M8.9 21.4h0M30.4 112.3h0M4.3 99.2h0M46.3 78.5h0M45.2 61.8h0M45.7 108.9h0M62.7 70.8h0M146 11h0M75.6 80.6h0M73 62.3h0M83.6 90.9h0M75.5 32.7h0M88.3 31.2h0M48.6 15.3h0M97.1 78.8h0M50.7 101.2h0M38 69.2h0M39 81.4h0M98 95.9h0M59.3 112.3h0M59.4 16.6h0M47.7 94.8h0M62.1 35.2h0M21.9 3.2h0M65.4 13.6h0M55.5 15.7h0M43 43.5h0M38.8 100.8h0M20.5 11.8h0M71.5 61.1h0M22.5 83.5h0M73.2 62h0M28.7 48.6h0M28.8 14.7h0M24.9 39.2h0M83.9 4.8h0M69.5 48.4h0M61.3 64.9h0M47.1 73.2h0M65.3 22.8h0M73 77.1h0M96.3 21h0M25.6 79.9h0M95.3 57.5h0M98 65.6h0M26.2 94h0M69.4 55.5h0M2.1 106.3h0M140.6 9.8h0M140.6 23h0M151 10.6h0M7.2 106.5h0M152.8 16.9h0M31.5 3.8h0M72.9 3.2h0M39.6 60.4h0M53.3 20.8h0M36.7 49.8h0M38.1 31.2h0M8 9h0M43.9 9.7h0M22.5 87h0M19.9 29.2h0M85.8 54.8h0M97.8 21.8h0M82.7 52.1h0M25.8 17.7h0M42.5 33.9h0M53 91.6h0M22.6 24h0M64.3 63.1h0M152.8 19h0M16.6 71.3h0M97.5 93.8h0M84.5 83h0M50.2 38.1h0M78.2 41.8h0M46.5 15.2h0M45 43.7h0M68.9 11.1h0M94.9 17.1h0M20.4 76.5h0M36 87.8h0M24.5 63.3h0M31.9 24.7h0M61.1 53h0M54 77.5h0M39.6 80.8h0M14.9 69.1h0M18.7 74.3h0M53.5 114h0M50.6 80.6h0M5.8 9.6h0M27.4 96.4h0M7.6 97h0M67.5 33.1h0M71.7 95.6h0M39.2 3.5h0M30.3 99.9h0M62.4 12.3h0M62 39.7h0M27.6 8.1h0M57.4 0h0M23.6 55.5h0M13.7 92.8h0M58.4 107.1h0M91.9 86.5h0M80.9 78.1h0M18.6 14.6h0M20.4 91.5h0M45.2 52.3h0M63.4 9.9h0M61 3.7h0M106.9 91.9h0M94.1 93h0M71.1 91h0M37.6 109.3h0M28.6 47.9h0M20.4 75.1h0M94.8 15.2h0M76.7 55.5h0M60.9 46.4h0M31.7 36.7h0"/>
</g>
<clipPath id="q2"><rect x="0" y="0" width="155.3" height="117.6"/></clipPath>
<g transform="translate(587.1,91.3)" clip-path="url(#q2)">
<rect width="157.3" height="119.6" fill="#e0bcd0"/>
<path fill="#c86ea2" fill-rule="evenodd" d="M41 117 41 117.5 48.5 117.5 48.5 117 46.5 116.5 45 115zM69.5 116 70 117.5 76 117.5 76.5 116.5 78 117.5 81.5 117.5 81 115.5 79.5 114 78.5 114.5 75.5 114 74.5 114.5 73 116.5 71 115zM63 114.5 62 114 62 113 62 114 61 115 57 114.5 56.5 117 57 117.5 59.5 117.5 60 117 62.5 117.5 62 115zM70.5 106.5 72.5 107 72.5 106zM78 98.5 78 99 78.5 99 78.5 98.5zM39.5 94 41 93.5 43 95 43 96.5 41.5 98 40.5 98 40.5 99 43.5 102 43.5 104.5 44 105.5 45 106 46 104.5 48 104.5 49 105.5 49 107 48.5 107.5 46.5 107.5 46.5 110 48 111 51 111.5 52.5 109 52.5 107 51 106 51 103 48.5 101 49 100 48.5 96.5 47.5 95.5 44.5 96 43.5 95 43.5 93.5 43 93zM97 91.5 97 92.5 97.5 92.5 97.5 91.5zM6 86 6.5 87.5 9 90.5 9 92 8 93 8 95 8.5 95.5 9.5 95 9.5 92.5 10.5 91.5 13 91.5 15 89.5 17 89.5 17.5 90 17.5 92.5 12 98.5 7.5 98.5 4.5 97 3.5 99.5 2.5 100.5 2.5 102.5 4 106 3 107 0 107 0 111.5 2 111.5 2.5 112 3 111.5 3 108 4 106.5 5 106.5 8 108 8.5 109 8.5 113 4.5 114.5 2.5 114.5 0 113 0 117 .5 117.5 2.5 117.5 2.5 116.5 4 115.5 5 116.5 5 117.5 6 117.5 5.5 116 7 115 8 115.5 9.5 117.5 21 117.5 21 116.5 20 116 20 114.5 21.5 114 22 114.5 22 116.5 24 116.5 25 117.5 23.5 115.5 23.5 114.5 25 112.5 24 111 22 110.5 20 108 18.5 108.5 18.5 110 17.5 111 16.5 111 15 109 13.5 109 13 108.5 14 106 15 105 15 102 17 100.5 18.5 100.5 21 103.5 23.5 104 25.5 106 26.5 108 26.5 110 27.5 110 29 111 29.5 112 29 113.5 29.5 115 29 117.5 30 117.5 31 116 33 117 37 113.5 38 114 36 116.5 36 117.5 37 117.5 39.5 112 43 109 43 107.5 41.5 104 36.5 103.5 34.5 104.5 34 106 31 108.5 30.5 108 30.5 106.5 29.5 105.5 28 105.5 27.5 105 27.5 103.5 28.5 102.5 28.5 100 29 99.5 28.5 97 29.5 96 30.5 96 32 94 33.5 94 34 94.5 35 94 36 95 37 95 37 94 35.5 94.5 33 91 31.5 91.5 30.5 90.5 30 87.5 28 87 27.5 87.5 24 88 22.5 86 15.5 84 14.5 82.5 12 82.5 11.5 82 9.5 83 8.5 85.5zM17.5 89.5 18 89 19 89.5 18.5 90zM11 86.5 12 86 13 87.5 11.5 88zM3.5 79 2.5 79.5 2.5 80.5 1.5 81.5 0 81.5 0 94.5 2 93.5 3.5 91.5 5.5 90.5 5.5 88.5 3.5 88.5 2.5 87 2.5 84 3.5 82zM67.5 78 66 80.5 66.5 81.5 67 81.5 68 79.5zM126.5 74 125.5 74.5 126.5 74.5zM128.5 73 128 73.5 129.5 74.5 129.5 73.5zM46 72.5 45 74 45 75 47.5 76.5 48.5 81.5 50.5 82.5 49.5 83.5 48 83.5 47 82.5 45 82 43.5 80 42.5 79.5 40 80 39.5 80.5 39.5 82 41.5 83.5 41.5 84.5 42.5 85.5 44 86 44.5 88 46.5 89.5 45.5 91 46 92 47 92.5 49.5 95.5 51.5 94.5 51.5 93 50 90.5 48 89.5 48 88.5 49 87.5 49 86 50.5 83.5 51.5 83 52.5 81.5 54 81.5 54 80 55 78.5 54.5 78 50 78 48.5 76.5 47.5 76.5 47 76 47.5 74 47 73zM42 71.5 41.5 71 40 72.5 41.5 73zM0 68.5 0 74 4 76 6 75 7.5 72.5 10 73 12 76 14 76 14.5 75.5 14.5 72.5 13.5 71.5 13.5 70 14 69.5 13.5 68.5 13 69 10.5 69 6 67.5 5 70.5 2.5 68.5 2 69 1.5 68.5zM132.5 67 132 68.5 133 69 132.5 70.5 133 70.5 133 67.5zM140 65.5 140 66.5 140.5 66zM111 61.5 112.5 65 111 66 111 66.5 112.5 66.5 113 63.5 112.5 63.5zM2 60.5 1.5 61.5 2.5 62 3 61zM104.5 47 104.5 48 105.5 47.5zM99.5 44.5 99 44.5 99 45zM44 39.5 45 41 46.5 40.5 46 39.5zM38 39.5 38.5 41 41 41 43 40 43 39.5 42 39 40.5 39.5 38.5 39zM83.5 35.5 83 37 83.5 37.5 83 37 84.5 36 85 37.5 85 36.5zM52 34 48.5 37 48.5 38.5 49.5 40 49.5 42 50 42.5 52 42.5 52.5 41 55 39.5 54.5 36.5zM50.5 35 52 35.5 52 36.5 51 37.5 49.5 37 49.5 36zM129 27.5 129 28.5 130.5 28.5 131 29 131.5 28.5zM4 24 2 24.5 1.5 25.5 2 30 0 31.5 0 33.5 .5 34 0 35.5 0 41.5 1.5 42 2.5 41.5 1.5 40.5 1.5 38.5 2 38 3.5 38 4.5 39.5 6.5 40 7 38.5 8.5 37.5 8 37 8.5 33.5 10 31 10 30 7.5 28.5 7.5 26.5zM8 30.5 9 30 9.5 31.5 9 32zM89.5 23 90 24 91 24zM53 20 51 22.5 50 22 50 20.5 50 22 52 24 52.5 23.5 52 22zM117.5 19 117.5 19.5 118 19.5 118 19zM43 18.5 42 18.5 41 19.5 41 20.5 38.5 23 39.5 25.5 39.5 27 39 27.5 44.5 25 45.5 24 45 22.5 43.5 22.5 43 22 43.5 21zM5 18.5 4 18.5 2 20 2.5 20.5 5 20.5zM3.5 19.5 4 19 4.5 19.5 4 20zM29.5 17.5 28.5 17.5 26 20.5 24.5 19.5 22.5 19.5 21.5 20.5 21.5 23.5 22 24.5 26 27 26 28.5 25 29.5 23.5 29 22 29.5 22 34.5 21 35.5 21.5 36.5 21 39.5 21.5 40 24 37 25.5 38 27.5 38 29.5 35 27 32 27.5 31 29 31.5 30.5 31 30 31.5 29 30.5 29.5 29.5 31 30 29.5 28 29.5 27 30.5 25.5 32 25.5 32 25 31 25.5 29.5 25 29 20.5 31 19zM27 35.5 28 34.5 29 35 28.5 36zM27 25.5 27.5 25 29 25 29.5 26 28 27zM23 24 24.5 23.5 25.5 24.5 25 25 23.5 25zM26.5 22.5 27 21.5 28 22 27 23zM98 16.5 97.5 18 98.5 18.5 98.5 17zM41.5 15 41.5 16 42 16 42 15zM155 14.5 154.5 15 154.5 16.5 155 17 155 15.5 154.5 15zM52.5 12.5 50.5 15 49 14.5 50 13 49.5 12.5 48.5 13 48 15.5 49 17 50.5 17 51 17.5 50.5 19.5 51.5 18 51.5 16.5 53 15 54.5 14.5 54.5 13.5zM53 13 54 14 52.5 15 52 14zM126.5 12 126 11.5 124 12 126 13zM23.5 11 22.5 12.5 23.5 13.5 24.5 13.5 24.5 12 24 11zM22.5 12 24 11.5 24.5 13 23.5 13.5zM131 5.5 130 5.5 131 7 131 8 130.5 8.5 129 8.5 128 9.5 128.5 10.5 130.5 10.5 130.5 9 132.5 7.5zM132.5 10.5 133 13.5 134.5 13.5 135 14 134.5 15 133 15.5 133 16.5 133.5 17 135.5 17 137 19 137.5 19 137.5 18 136.5 16.5 138 15.5 139.5 16.5 140.5 16.5 141.5 18 145 17.5 148.5 20 150 20 152 19 154 20.5 153.5 22 155 22 155 20 154 19 154 18 152 17 149.5 14.5 148.5 14.5 147.5 16.5 144 17 141 14 141 11 140.5 10.5 141 9.5 143 8.5 143.5 10 145.5 12 147 12 149 10 150.5 10 151 10.5 152.5 10.5 153.5 9.5 155 10 155 7 153 6.5 151 7.5 149.5 5.5 147 5.5 145.5 4.5 143 6.5 142 6 140 6 139.5 6.5 139.5 8 138 10 138.5 10.5 138.5 12.5 137.5 13.5 135.5 13zM150 9 151.5 8.5 152 9.5 151 10zM137 4.5 136.5 5 137 5zM43 4.5 42.5 6 44 6.5 44 5zM45.5 3 45 5 46.5 6.5 48.5 6.5 49 5.5 47.5 3 47.5 4.5 46.5 5zM84 2 84.5 3 86 2.5zM4 5.5 4.5 6.5 4.5 9.5 6.5 8 8 8 8.5 9 7.5 11 8 11.5 10 11.5 12 13 11.5 12 12 11 13 11 14 12 15 10.5 18 9.5 18.5 8.5 17 6 17 8 13.5 11 11 9 10.5 7.5 9 7 9 5 8 4 8 2.5 7 2 7.5 2.5 7 4 4.5 4.5 5 4.5 6.5 6.5 5 7zM4.5 1 4.5 1.5 6 1.5 6 1zM142 0 141.5 0 140.5 1.5 139.5 1 139 2.5 140.5 3.5 142 2zM155 116.5 155 114.5 153.5 113 153 110.5 155 109.5 155 103.5 154 102.5 153 102.5 151.5 103.5 150 103.5 147.5 100.5 148.5 99.5 150.5 99 155 101.5 155 96.5 152 95 152 94 153 93 155 93 154.5 91.5 155 91 155 78 154 77.5 154 76.5 152 76.5 151.5 76 152 76.5 151 77.5 148.5 78 148 77.5 148 76 148.5 75.5 150 75.5 150 75 148 75 146.5 76 146 77 147 78.5 145.5 79 145 78.5 145 77 144 76.5 142 74 141.5 74.5 143 76.5 142 77.5 141 77.5 140 76.5 140.5 74.5 140 75 139 74.5 139 73 140 71.5 139 70 139 67.5 138.5 67.5 137.5 66 138.5 64.5 138 63 138.5 62.5 140.5 62.5 141 61.5 142 62 142.5 63.5 144.5 63.5 144.5 62 145.5 60.5 147 60 147.5 59 147 57 146.5 57 145 55 146 54 147.5 54.5 149.5 54 150 54.5 149.5 57 151 58.5 151 60.5 152 61.5 150.5 63.5 152 63.5 153 64.5 153 67 154 67.5 153 65.5 155 64 155 63 154 63 153 62 153 60.5 154 59.5 155 59.5 155 46.5 152 45 151.5 44 152.5 43 155 43 155 40 154 41 153 39.5 151.5 39.5 151 40.5 149.5 40.5 148 39.5 149.5 39 149.5 37.5 147 39 145 39 144 40 142.5 39.5 140.5 36.5 137.5 34 137.5 32.5 137 32 135 33 136.5 35 135 35.5 133 33 131.5 33 131 32.5 131 31 129 30.5 124.5 27 124.5 24.5 125 24 124.5 23 124.5 24.5 123 26.5 121.5 25.5 121.5 24.5 122.5 23.5 120.5 23.5 119 21.5 118.5 21.5 118 22.5 116 21 116.5 20 115 19.5 114.5 18.5 113.5 18 114 16.5 115.5 15.5 115.5 14.5 114 13.5 115 11 115.5 11 116 12 118 10 118.5 11 119.5 11 121 12 122 11 123.5 11 124 10 126.5 9.5 126.5 8 127.5 7 128.5 7 128 5.5 127.5 5.5 127 7 126 6 126 5 125 3.5 125.5 2 124.5 1 124.5 0 123.5 0 123 1 122 .5 120 2.5 119 4.5 119 6.5 117 9 115 7.5 113.5 7.5 112.5 8 109.5 11.5 108.5 11.5 107.5 10 105.5 9 105 6 102 6 100 5 99 6.5 98 5 99.5 4 99.5 3.5 98 4.5 97 6 95 7 93.5 7 93 6.5 92 7.5 91 6 89 7 89 7.5 91.5 8 92 9.5 93.5 10 93.5 11 93 11.5 92.5 11 93 12 96 11 96.5 11.5 96.5 14.5 97.5 13 98 14 100 14 101.5 16 101.5 18 100.5 18.5 101.5 20.5 102 19.5 103.5 20.5 103 23.5 104 24 104.5 23 105.5 22.5 106 23 105.5 24 108 25.5 107.5 28 108 28 109 26.5 110 27.5 110 30 109 31 107 30.5 108 32 106.5 33 107 34 107.5 33.5 109 34 108.5 35.5 107 37 106 37 105 35.5 105 36.5 106.5 38.5 106 39 103.5 38.5 101.5 36.5 102 35 103.5 34.5 103 34 100 34 100 35 101.5 36 99 37.5 97.5 34.5 98 33 95.5 31.5 95 28.5 92.5 28 91.5 26.5 90.5 26 89.5 26.5 89 25.5 88 25 88.5 23.5 87.5 22 89.5 21 88 19.5 87 20.5 84.5 18.5 83.5 19 81.5 16.5 82.5 15.5 84 15.5 83.5 15 83 15.5 80 15 79 14 81.5 11 81 11 80 12.5 78.5 11.5 79.5 10 79.5 8.5 76 7.5 76 6.5 77 5 76 5.5 75 7.5 74 7.5 68 2.5 67 4 67 6 66 7 66 15.5 65.5 16 63.5 16 62.5 14.5 60.5 14 59.5 15.5 60 18.5 61 17.5 64 18.5 65.5 16.5 66 17 66 21 67.5 19 69 19 71 20.5 71 22 68.5 25 69 28 68.5 28.5 69.5 30.5 68.5 31.5 67.5 31.5 68 32.5 67 34 68 36 68 38 66.5 39 65.5 40.5 62.5 40.5 61.5 40 60 40.5 59 42 59 43.5 61 45.5 63 46.5 63.5 47.5 62.5 48.5 51.5 48.5 50 50.5 50.5 53.5 49 55 47.5 55 46.5 54 46.5 52.5 48.5 51 50 48.5 46 48.5 46.5 49 46.5 51.5 45.5 52.5 44.5 51.5 45 48.5 43.5 48 44 45.5 43 46 41.5 45 39.5 45 38.5 42 34.5 41.5 33.5 42.5 33.5 44 33 44.5 32 44 31.5 44.5 31.5 46 31 46.5 29.5 46.5 25.5 43 25.5 41.5 24.5 43.5 23.5 42.5 24 41 23 44 22 45 22 46.5 24.5 48 24 48.5 20 48.5 20.5 49 22.5 48.5 23.5 50 23.5 52 24 52.5 26 52.5 26 50 27 49 28 49 30 50.5 32.5 50.5 34 51.5 35.5 51.5 37.5 50.5 39 53.5 38 58 40 58 40 56.5 39 55.5 39 54.5 40.5 53.5 41.5 53.5 44 57 43 58.5 40.5 59.5 38.5 61.5 36.5 62.5 33.5 62.5 32 61.5 30 63 30 64.5 29.5 65 26 64.5 25 63.5 24 63.5 22.5 62.5 23 61 23 56.5 21.5 54.5 20.5 54.5 21 55.5 20 56.5 18.5 55.5 18 54.5 18.5 53.5 16 51.5 16 49 15.5 48.5 13 48.5 12.5 50 9.5 48.5 5.5 48.5 5 49 0 48.5 0 58 1 58 2 55 3.5 53.5 5 53 7 54.5 7.5 55.5 7.5 59.5 8 60.5 9 61 12 61 12 57 13.5 55.5 14.5 55.5 15.5 56.5 15.5 58 16 58.5 17.5 58.5 19.5 57 22.5 59.5 19 62 19 64 20.5 67.5 22 68 23.5 69.5 24 73.5 23 75.5 20 77 18.5 79.5 20.5 78 22.5 79 24.5 76.5 25.5 76.5 27 79.5 29 79 30 80 30 81 32.5 81.5 34 82.5 35.5 81 35 77 37.5 75 38.5 75.5 39 74 37.5 75 34.5 75.5 33 74 31.5 74 30.5 73 31.5 72 32.5 72 36.5 67 39 67 40.5 65.5 43 65.5 43.5 66 43.5 68.5 45 69.5 48.5 69.5 49.5 67 52 67.5 56 72 55.5 75.5 58 79 63 79.5 63 78 61 77 61 75 62.5 73 63 73 65 75.5 69 75.5 70.5 77 72.5 77.5 73 75.5 72 74 72 73 65.5 68.5 65.5 67.5 66.5 66.5 66.5 64 67.5 63 70 63.5 69.5 61 70 60.5 70.5 56 68.5 54 64 54.5 58.5 57 56.5 55.5 58 53 61.5 51 62.5 48.5 70 48.5 71 47.5 72.5 51.5 74 52.5 74 53.5 75.5 55.5 75.5 57.5 74.5 58.5 74.5 59.5 73 60 72 61.5 72 62.5 73.5 64.5 74.5 67.5 77 69.5 77 72.5 76.5 73 74 72.5 74 73 75.5 74 75.5 77 77.5 76.5 79 78 79 79.5 78 80.5 79 82 79 83 76.5 86 74.5 86.5 72 89.5 69.5 88 66.5 88 62.5 85 62.5 83 60 80.5 57 81.5 56.5 82 57.5 83.5 57.5 84.5 56 85.5 56 87 55.5 87.5 56 91.5 54.5 93.5 54.5 94.5 56 95.5 58.5 95.5 59 96 61 95.5 62.5 97.5 65 99 65 100.5 66.5 101 67 102.5 68 102.5 69.5 103.5 71 103.5 71 103 69.5 103 68.5 101.5 69.5 101 70.5 102 70.5 101 71 100.5 71.5 101 72 100 71.5 99.5 73 98.5 72.5 98 73 96.5 76 94.5 78.5 95 80 96.5 79.5 97 80 97 82 99.5 81.5 100 83 101 83 102 81.5 103 81.5 103.5 83 104 83 105.5 86 103 88 103 89.5 104 91 104 92 106 90 107.5 90.5 110 89 111.5 88 111 87 111.5 87.5 117.5 89.5 117.5 89.5 116.5 91 115 93.5 115 94 114.5 95 115 98 114.5 98.5 115.5 100 116 101 117.5 102.5 117.5 106.5 112.5 108.5 112.5 109 112 109.5 112.5 111 112.5 111 111.5 109.5 111.5 108 109.5 106.5 109.5 106 109 107 107.5 110 108.5 111 109.5 113 109.5 114 111 115 111 114.5 110.5 115.5 109.5 116.5 110.5 116 111 117 110 118 110.5 118 111.5 119.5 111 120 111.5 118.5 112.5 120 114 120 115 124.5 112 125 113.5 122.5 114.5 121.5 115.5 121.5 117.5 148 117.5 148.5 116.5 149.5 116.5 151 115.5 153.5 115.5zM146.5 115 147 114.5 148 115 147.5 115.5zM131 114.5 132 115 131.5 116.5 130 115.5zM151.5 113 152.5 114 152 115 150.5 114.5zM131.5 112.5 132 112 132.5 112.5 132 113zM144.5 111.5 145.5 112.5 145.5 114 145 114.5 143.5 113.5 143.5 112.5zM138 111.5 139 112.5 139 114.5 138.5 116 137 117.5 135 115 135 113.5zM126 111 126.5 110.5 127 111.5 126.5 112zM95 110.5 97.5 113.5 97 114.5 96 114.5 93.5 112zM133.5 110.5 134 110 135 110.5 134.5 111zM102 108 104 108 106 109.5 106 110.5 104 112.5 102 112.5 100.5 110.5 100.5 109.5zM116.5 108 117 107 118.5 107.5 117.5 108.5zM142.5 100.5 143 100 143.5 100.5 143 101zM86.5 100 88 99.5 88.5 100.5 87 101zM88 99 88.5 98.5 89 99 88.5 99.5zM95 98 96.5 97.5 97 98.5 95.5 99zM152 97 153.5 96.5 154.5 98 153.5 99 152.5 99 152 98.5zM114.5 95.5 115.5 95.5 116.5 96.5 116 100 119.5 101 118.5 102.5 118.5 104 119 104.5 118.5 105.5 117.5 105.5 114.5 102.5 114.5 99.5 113.5 98.5 113.5 96.5zM106.5 99 106.5 97.5 108 95.5 109 96 111.5 96 112.5 97.5 111 99.5 107 99.5zM105.5 95.5 106 97 105 100.5 102 102.5 99.5 102 98.5 100.5 99.5 98.5 98.5 98.5 97.5 97.5 98 97 100 97.5 99.5 96.5 101 95 103 96zM121.5 94 123 95 121.5 96 120.5 95zM102 94.5 103 94 103.5 95 102.5 95.5zM109 93.5 109.5 93 110 93.5 109.5 94zM99 93.5 99.5 93 100 93.5 99.5 94zM79.5 93 80.5 94 79.5 95 78.5 94zM66.5 92.5 68.5 92.5 70.5 95.5 70.5 96.5 69 99 70 99.5 69 100.5 65 97 64.5 94zM145 93.5 147.5 91.5 149 91.5 150.5 93 150 94.5 146.5 94.5zM101.5 91.5 102.5 91 103 92.5 102 93zM129.5 91 130 90.5 130.5 91.5 130 92zM118 90 119 89.5 120 90.5 119 91.5zM111.5 90 111.5 91.5 111 92 105.5 92 105 91.5 110 89.5zM105 85 105.5 85 106.5 86.5 105.5 87.5 103.5 86.5zM100.5 85.5 101.5 85 102.5 86.5 101 87zM118.5 84.5 119.5 85.5 118 86.5 117 85.5zM107.5 85 108 84.5 108.5 85 108 85.5zM153.5 84 154.5 87.5 153.5 89 153 89 151.5 87 149 90.5 147 90.5 144.5 92 142 92 141 91 141 89.5 140.5 89 140.5 87 141 86.5 142.5 86.5 144 87.5 145 87.5 148 85 149 86 148.5 86.5 149.5 87 148.5 85.5 150 83.5 153 83.5zM142.5 84 144 83.5 145.5 86 144 87 142.5 85.5zM112.5 84 113 83.5 114.5 83.5 115.5 84.5 116 86.5 114.5 87zM101 82 102 81.5 102.5 82.5 101.5 83zM149 80.5 149.5 81 149.5 82.5 148 84 146.5 83 146.5 82 148 80.5zM80.5 79.5 82.5 80.5 81 83 80.5 83 79.5 81.5 79.5 80.5zM140 79.5 140.5 79 141.5 80.5 141 81zM111.5 79 113 78.5 114 80 112.5 81 111.5 80zM150.5 78.5 151 78 152 78.5 151.5 79zM31 78.5 31.5 78 32 78.5 31.5 79zM133.5 77 135 78 135 79 134 80 132.5 78.5zM146 77 147 76.5 148 77.5 147 78.5zM113.5 77 114.5 76.5 115.5 78 114.5 78.5zM118 73.5 118.5 74 118.5 76 117 76.5 116 75zM70 74 70.5 73.5 71 74 70.5 74.5zM112.5 71 113 70.5 113.5 71 113 71.5zM105.5 66.5 106.5 67.5 106 68.5 104.5 68zM92 66.5 93 67.5 92.5 69 91 68.5 91 67.5zM30.5 67 31 66.5 31.5 67.5 31 68zM76.5 65.5 77 65 77.5 65.5 77 66zM101.5 64 103.5 65.5 102.5 67 102.5 70 101.5 70.5 102 71.5 103.5 71.5 104 71 104.5 71.5 104 73.5 105 75.5 102 77.5 99.5 78 98.5 79.5 96 79 94.5 80 94.5 80.5 96.5 80 97.5 81 97.5 82 99.5 83 98.5 83.5 100 85.5 99.5 88 98.5 88.5 98 88 98 86 97.5 86 97.5 87.5 96 89 96 89.5 96.5 89.5 98 88 98.5 88.5 98.5 90.5 99.5 91.5 99.5 92 98.5 92.5 99 93.5 98 95 98.5 96.5 98 97 96.5 97 95 96 91 98.5 90 98.5 89.5 97.5 88 97.5 87.5 98.5 85.5 98.5 85 98 85.5 96 85 96 84.5 95 84 95 84.5 96.5 83.5 97.5 83 96 81 95 81.5 94.5 80.5 92 81.5 90.5 80 89.5 80.5 88 79 87 79.5 86 79 84 80 83.5 81 85 81 83 82.5 81 82 78 83.5 77 84 75.5 86 75 87 76 85.5 78.5 86.5 79 88 77.5 88.5 75.5 89.5 74.5 90 75 91.5 74.5 92.5 73 95.5 72 97.5 69.5 100 70.5 100.5 69 99 69 98.5 69.5 97 66 98 64zM76 64.5 76.5 64 77 64.5 76.5 65zM51.5 65 52 64 53 64.5 52 65.5zM45 64 45.5 64.5 44 65.5 43.5 65zM88 63.5 89.5 65 88.5 66.5 87 65.5 87 64.5zM94 63 96 62 97 63.5 96.5 64 94.5 64zM75.5 62 76.5 63 76 64.5 75 64.5 74 63.5zM98 62 99 61.5 99.5 62.5 98.5 63zM74.5 60 75 59.5 76.5 59.5 77 61 76.5 61.5 75 61.5zM45 59 45.5 58.5 47 59 46.5 59.5zM143 57.5 144 57 144.5 58 143.5 58.5zM81.5 55 82.5 55 83.5 56 83.5 57 84.5 58 84.5 60.5 86.5 59.5 88 60.5 88 61.5 87 62.5 86 62.5 83 66 82.5 65.5 80 66 79.5 65.5 78 65.5 77 64.5 77 64 79 62.5 81 62.5 82 63.5 83 63 83 62 81.5 61 82.5 58 81.5 58 80 56.5zM151 54 152.5 54.5 152.5 56 153 56.5 152 57.5 150.5 55.5zM121.5 53.5 122 52.5 123.5 52 125 52.5 124.5 53.5 123 53.5 122.5 54zM42 52.5 43.5 52 44 53 42.5 53.5zM85.5 52 86.5 51.5 87.5 52.5 87.5 53.5 86.5 54 85.5 53zM79.5 51 80 52.5 79 53.5 78 52.5zM124.5 51 125.5 50.5 126 51.5 125 52zM83.5 50.5 84.5 51.5 84.5 53 83 54.5 82 54.5 81 53.5 81 52.5 82 51zM149 48.5 151 50 151 51 150 52 147.5 52 147 51.5 147 50zM141 48.5 142 49.5 141 51 141 52 139.5 52.5 137.5 50.5 138.5 49.5zM112.5 48 115.5 50.5 115.5 53 114.5 54 113 53 113 52 112 50.5 112 48.5zM37.5 48 38 47.5 39 48 38.5 48.5zM138.5 46.5 139.5 48 138.5 49 137.5 49 137 48zM24 47.5 25 46 27 46 28 47 27 48.5 25 48.5zM127 45 128 45.5 127.5 47 126 46zM86.5 45.5 87.5 45 88.5 46 87 46.5zM115.5 44 116 45 115.5 46 114 47 113.5 46.5 113.5 45zM70 44 71 46 70.5 47.5 69 47zM108 43.5 109 43 109.5 44 108.5 44.5zM68.5 41.5 69 41 69.5 42 69 42.5zM124.5 39.5 125.5 40 125.5 42 125 42.5 124 42 124 40zM93 40 93.5 39.5 94 40 93.5 40.5zM147 39 148.5 40 148.5 41.5 149 42 148 43.5 146.5 43 147 41.5 146 40zM116 39.5 117 39 118 39.5 118.5 40.5 118 41 116.5 41zM70.5 36.5 73.5 36.5 74 37 73 40 73 44.5 74.5 46.5 73 47.5 71.5 46.5 71.5 45 70.5 44.5 70 43.5 69.5 44.5 69 44 69 43 70.5 40.5 70.5 39.5 69.5 38zM132.5 35 133.5 36 132.5 37.5 132.5 38.5 133 38 134.5 40 134 40.5 132.5 40.5 132 39.5 132 40.5 134 42 134 43.5 131 45.5 129.5 45.5 128 44 128 42.5 127 42.5 125.5 40 127 37.5 129.5 37zM125 36 126 35 127.5 35.5 127 36.5 125.5 36.5zM96 35 95.5 36.5 94.5 37.5 93 37.5 92.5 39 90 39.5 89 38.5 90 36.5 93 34 95 34zM136 34 137 33.5 138 34.5 136.5 35zM84 32.5 85 33 85.5 35 87 34 88.5 35 87 37 87 39 88 40.5 88 42 87.5 42.5 88 44 86.5 45 86.5 46 89 47 90.5 48.5 93 49 95 51 94.5 54 95.5 54 96.5 52.5 95.5 52 96.5 49.5 95.5 48 95.5 47 96 46.5 97 47.5 97.5 47 97.5 46 97 46 96 44.5 97.5 43 98 41.5 100.5 41.5 101 41 102 42.5 103.5 42.5 104 42 105 43 104 44.5 104 45.5 105 46 106 45 107 46 106.5 47.5 107.5 48.5 106.5 50 107 51 106.5 52 101.5 52 101.5 53.5 102.5 54 106 52.5 106.5 54 105 54.5 106 55.5 110 55.5 111 54.5 113 54.5 113.5 55 110.5 59 114.5 56 116 56.5 117.5 56 117 54.5 117.5 53.5 119 54 119 55.5 121.5 55.5 122 55 123 55.5 123 55 124 54.5 124.5 55 124 56 124.5 55 126 55 126 54 127 53 128.5 54.5 127.5 56.5 127 56 127 57 128.5 56 131 56 131.5 57 130.5 58 129.5 58 129.5 58.5 133.5 59 134 60 135 60.5 134.5 63.5 136 65.5 134 68 134.5 71 133 72.5 131.5 72.5 131 73 132.5 75 131 76 130 76 131 76 132.5 77 132.5 79.5 135 81.5 135.5 86 135 87 133 88.5 135 89.5 135 94 135.5 94.5 137 94 138 95 137.5 95.5 138 96.5 140 95.5 141.5 96 143 98 142.5 98.5 140.5 98.5 140.5 99.5 142.5 101 141.5 102 141.5 103 143 102.5 144.5 103 144 104.5 143 105 142 104 141 105 141 106.5 143 105.5 144.5 106 144.5 107 142.5 110 142 110 141.5 108.5 141 108.5 141.5 109.5 140 110.5 139.5 112 138 111 136.5 112 135.5 111 135.5 110 134 109.5 132.5 110.5 131.5 112 130.5 112 130.5 113.5 129 114.5 128 113.5 127.5 111.5 126.5 110.5 125.5 111 124.5 110 124.5 106.5 123.5 105.5 124 104.5 123.5 103.5 121 102 121.5 99.5 122.5 98.5 122 98.5 121.5 99.5 120.5 99 119.5 100 119 100 118 98.5 119.5 97 120.5 98 122.5 95.5 124.5 95.5 125 94 127.5 91.5 130.5 92 131 91 130.5 90 130.5 85 133 82 132.5 81.5 130.5 81.5 129.5 80.5 129.5 79.5 127 78 126 76.5 125 76.5 124 78 123 78 122.5 77.5 122.5 76 120 76 118.5 73.5 117 72.5 116.5 74 115.5 74.5 114 74 113 73 113 72 114 71.5 113 70.5 113.5 69.5 110.5 68.5 109.5 67 109.5 64.5 110 64 108.5 64.5 107.5 64 106.5 62.5 107.5 60.5 105 60 102.5 61 96.5 61 94.5 58 93 58.5 92 58 90.5 56 89.5 56 89.5 58 89 58.5 87 58.5 83.5 56 83.5 54.5 84 54 87.5 54.5 88 53.5 87.5 52.5 88 50.5 85 50.5 82 47 81 47 78.5 42.5 76.5 41.5 76.5 40 79 38 80.5 38.5 81 38 81 35.5 82.5 35zM68 32.5 68.5 32 69 32.5 68.5 33zM119.5 32 120.5 31.5 121.5 33 120.5 33.5zM124 29.5 124.5 29 125 29.5 124.5 30zM110.5 31 113.5 31 115 28.5 116 29.5 116 31 117 30.5 118.5 31 119 32.5 121.5 35 121.5 36.5 124 38 123.5 41 122.5 42 121.5 40.5 116.5 38 115 38 114.5 38.5 111 38.5 109 37 109 33zM70 24 71 25 70.5 26.5 69 25.5zM81.5 21 82.5 21 83.5 22 83.5 22.5 82 23.5 80.5 23 80.5 22zM85.5 21 86 20.5 87.5 21 87 21.5zM111 19.5 113 21 111.5 22.5 110.5 22.5 109.5 21.5zM79.5 18.5 80.5 17.5 82 17.5 82.5 18 82 19.5 80.5 19.5zM69 17 69.5 16.5 70.5 18 70 18.5zM75 16 75.5 17.5 74.5 18.5 74 17zM102 17.5 104 15 105 15 107.5 16.5 104.5 18.5 103 18.5zM79.5 14.5 80 15 80 17 77.5 19 76.5 18 77 16.5zM111.5 11 112.5 12 112 13.5 111 12zM112 10.5 112.5 10 113 10.5 112.5 11zM114.5 9.5 115 9 115.5 9.5 115 10zM116 9 116.5 8.5 117 9 116.5 9.5zM68 8.5 69.5 9.5 68.5 11 67 9.5zM71.5 8 72 7.5 73.5 8 74 9.5 72.5 10.5 71.5 9.5zM103.5 7 104.5 6.5 105 7.5 104 8zM122.5 2 123.5 3 123.5 4 122.5 5 120.5 5 120 4zM123 2.5 123.5 1 125 1.5 124 3zM114 .5 115 .5 116 2 119 1.5 120 0 114 0zM108 0 108 1.5 109 2 108 1zM102 0 102 .5 104 2 104.5 3.5 105.5 4 105.5 2.5 105 2 105.5 0 104.5 0 104 1 103 1zM70.5 0 70.5 1 71.5 2 75 2 75.5 0 74 2 72.5 2 71 0zM59 0 59.5 3.5 60 4 62 3.5 62.5 3 62.5 1 61.5 0zM29 0 29 1.5 30.5 3.5 31.5 4 34 4 36 2.5 37.5 3 38 2 40 3.5 40 2 41 1 41 0 37.5 0 36.5 1.5 36 1.5 35 0 31 0 30.5 .5zM15 0 15.5 1.5 17 3 18.5 3 19.5 3.5 20.5 2 21 2.5 22.5 2.5 23.5 0 16.5 0 18 1.5 16.5 2.5z"/>
<path fill="#b4447f" fill-rule="evenodd" fill-opacity="0.8" d="M2.5 116.5 1.5 117 1.5 117.5 2.5 117.5zM56.5 116.5 57 117.5 59.5 117.5 60 117 61.5 117.5 60 115 58.5 115zM72 117.5 76 117.5 76.5 116.5 78 117.5 81 117.5 81 116.5 78.5 114.5 75.5 114.5zM1 109.5 0 109.5 0 111.5 1.5 110.5zM149 109 148 108 144 107.5 142.5 110 142 110 141.5 108.5 141 108.5 141.5 109.5 140 110.5 140 111 143.5 112 148 110zM120 106.5 119.5 107 120 108 122 110 123.5 110.5 124 110 123.5 108.5 122 107zM40 106 37.5 105 36 105 35.5 105.5 35.5 107.5 34 109.5 31 109.5 30.5 109 29 109 28.5 109.5 30 114 30 117.5 31 116 33 117 36 114 38.5 112.5 41 108zM48 103 48 104 50 107 51 106 51 105 49.5 103.5zM108.5 102 108 102.5 108 104 109.5 105.5 112.5 106.5 113 106 113 104.5 111.5 103zM154.5 99.5 154 101 155 101.5 155 99.5zM43.5 99.5 44.5 101 45 100 44.5 99zM85 96 83.5 97.5 81 98 82 99.5 81.5 100 83 101 83 102 81.5 103 81.5 103.5 82.5 103.5 83 104.5 84 104.5 86 103 89.5 102.5 90 102 91.5 102.5 93 104 93 106 90.5 108.5 90.5 110 89 111.5 89.5 114.5 88.5 117.5 89.5 117.5 89.5 116.5 91 115 95 113.5 93.5 112 95 110.5 97 113 99.5 111.5 100 104 94.5 99 90 98.5 89.5 97.5 88 97.5 87.5 98.5 85.5 98.5 85 98 85.5 96zM86.5 100 88 99.5 88.5 100.5 87 101zM88 99 88.5 98.5 89 99 88.5 99.5zM147 95.5 146 95.5 144 97 144.5 99.5 146.5 99.5 147.5 98.5 147.5 96zM97 91.5 97 92.5 97.5 92.5 97.5 91.5zM97 88 96 89.5 97 89zM29 88 27.5 88 27 87.5 21.5 90 18 94 16.5 94.5 15 96 14.5 99 13.5 100 11.5 100 10 99 7 98.5 3.5 100.5 3 102.5 4 104.5 5 105.5 7.5 106.5 9.5 108.5 9.5 112.5 9 113 9.5 117.5 16 117.5 16 116.5 18.5 114 21 113 20 112 19 112.5 15.5 112.5 14.5 112 12.5 110 11.5 107 13.5 103 16.5 100.5 19 100.5 25.5 103.5 26.5 103 28.5 97 29.5 96 30.5 96 31 95 32.5 94 32 91.5 30.5 90.5 30.5 89.5zM15 86 14 85 12 84.5 10 86 10 88 11 89 13 88.5zM11 86.5 12 86 13 87.5 11.5 88zM41.5 82.5 41.5 84.5 42.5 85.5 43.5 85.5 44 86.5 47 89 48 92.5 49.5 93 50 92.5 50 91 49.5 90 48 89.5 46.5 84.5 45 83.5 43.5 83.5zM0 82.5 0 93.5 1 93.5 2.5 92.5 3 89.5 2.5 89 2 84zM104.5 82 104 82.5 104 84.5 106.5 85 107 84.5 107 83 106 82zM57.5 82 57.5 85.5 56.5 88.5 56.5 93.5 58 94.5 61.5 95 64.5 92.5 68 92 68.5 91.5 70 91.5 71.5 93 72 94.5 73.5 94.5 76.5 93 78.5 93 79.5 92.5 80 91.5 80 88.5 80.5 88 79 87 79.5 86 77 86.5 73.5 88.5 72.5 88.5 72 89.5 69.5 90 67 89 62 85.5 60 83 60 80.5zM50.5 78 50.5 79 51 79 51 78zM153.5 76.5 152.5 78 152.5 79 153.5 80 155 80 155 78 154.5 78 154 76.5zM119 75 118.5 75 118 76.5 117 76.5 117 78 120 83 120.5 85.5 116.5 90.5 115 91 115 92 118.5 95.5 124.5 89 129 85.5 130 83.5 129.5 81.5 128 80 125.5 79.5 124 78 123 78 122.5 77.5 122.5 76 120 76zM118 90 119 89.5 120 90.5 119 91.5zM133 69.5 132.5 70.5 133 70.5zM13.5 70.5 12 69.5 7 69.5 5 70.5 4 70 0 70 0 72.5 1 73 4 73 6 71.5 8 71.5 11 73.5 13 73.5zM88 68.5 88.5 69.5 92.5 71 93.5 71 94.5 70 94.5 69 92.5 67 93 68.5 92.5 69 91 68.5 91.5 66.5 89.5 67zM136 66 134 68.5 134.5 69 134.5 71 133 72.5 132 72.5 136.5 77.5 138.5 77.5 140 76.5 140.5 74.5 140 75 139 74.5 139 72.5 138 71 138 68 138.5 67.5 137.5 66zM76 66 75.5 68 77 69.5 77 71.5 79.5 74 80 76 82 79 82 78 83.5 77 83.5 76 85.5 74.5 85.5 72.5 86.5 69.5zM112.5 65.5 111.5 66.5 112.5 66.5zM22 63.5 21.5 66.5 24.5 70.5 25.5 76 28.5 78.5 33 79.5 33.5 79 33.5 77 32 75.5 29.5 74.5 28.5 73.5 29 69 24 64zM31 78.5 31.5 78 32 78.5 31.5 79zM74 62.5 74 64 75.5 64.5 74 63.5 75 62.5zM44 62 43 61 40.5 61 37 64.5 33 64.5 32.5 66.5 33.5 68 35.5 68 37.5 66 42 65.5 44 64zM92 60.5 91.5 62 93 62 93 61zM9.5 57 9 58 9.5 59 10.5 59 10 57zM51.5 49.5 51 50 51 52.5 52.5 55 51 56.5 47.5 57.5 47 61.5 49 64 52.5 64 53.5 65.5 53.5 68 56 72 58 79 60 79.5 60.5 76 62.5 73 63 73 65 75.5 70 75.5 71 75 71.5 74 69.5 72 67 71 65 69 66 64 68.5 60 68.5 56.5 66 55.5 62 55.5 58 58.5 56 58.5 53.5 55.5 53.5 54.5 54.5 53 54.5 50.5 53.5 49.5zM70 74 70.5 73.5 71 74 70.5 74.5zM106.5 50.5 107 51.5 110 51 111 50 111 49 108 49 107.5 48.5zM0 48.5 0 58 .5 58 .5 55 2.5 53 5 52 7.5 52.5 9.5 55 11 54.5 17.5 55 17 52.5 14.5 49.5 11.5 50.5 8.5 50.5 3 48.5zM130 48.5 129.5 49.5 129.5 52.5 131.5 54.5 131.5 56.5 133 59 134 59.5 136.5 59.5 141 56 141.5 55 141 54 136 54.5 133.5 53.5 132.5 52 132.5 48zM119 48 118 48 116.5 49.5 116 51 116 55.5 116.5 56 117.5 56 117 54.5 117.5 53.5 119 54 119 55.5 120 55.5 121.5 54.5 121.5 53 122 52.5 121.5 51zM104.5 47 104.5 48 105.5 47.5zM99.5 44.5 99 44.5 99 45zM26 43.5 24 43.5 23.5 44 23 46 24 47 26.5 45.5 26.5 44zM31.5 46.5 31 48 32 49.5 36 49.5 36.5 49 38 50 39 52.5 40.5 53.5 42.5 53.5 42 52.5 43.5 52 44 51 44 48.5 43.5 47.5 39.5 45 38.5 42.5 36.5 42.5 34.5 43.5zM37.5 48 38 47.5 39 48 38.5 48.5zM113 41 112.5 40.5 111.5 41 111.5 42 112.5 42zM103.5 41.5 101.5 39.5 97.5 39.5 92.5 43.5 92.5 45.5 94 47.5 95.5 47.5 96 46.5 97 47 97.5 46 97 46 96 44.5 97.5 43 98 41.5 100.5 41.5 101 41 102 42.5 103.5 42.5zM66 39.5 65.5 40.5 62 40.5 60.5 41.5 60.5 45 62.5 46 63 47 64 46.5 68.5 47 69 46.5 68.5 42.5 67.5 40.5zM149 37.5 147 39 145 39 145.5 43.5 142 46 143.5 47.5 145 48 145.5 47.5 147.5 47.5 148 49 149.5 48.5 151 50 151 51 149.5 52 151 53 155 52 155 47 153.5 47 152 46 149 46 148.5 45.5 151 41 153 39.5 151.5 39.5 151 40.5 149.5 40.5 148 39.5 149.5 39 149.5 37.5zM147 39 148.5 40 148.5 41.5 149 42 148 43.5 146.5 43 147 41.5 146 40zM53 35 52 35.5 52 36.5 51 37.5 49.5 37 48.5 38 49.5 40 49.5 41.5 52 41.5 55 39 54.5 36.5zM91 28.5 91.5 30 94 31 95.5 31 95 28.5 94 28zM129 27.5 129 28.5 130.5 28.5 131 29 131.5 28.5zM29 25 29.5 26 28 27 27.5 26.5 25.5 26.5 26 27 26 28.5 25 29.5 23 29 22 30 22 34.5 21.5 35 21.5 36.5 22 37 24.5 37 27.5 36 27 35.5 27.5 35 27.5 32.5 27 31.5 30 29 29.5 28 30 25.5zM113.5 25.5 114 27 119 27 120 27.5 122.5 31 126 32 127 33.5 133.5 34.5 135.5 37 135.5 40 136 40.5 136 43.5 136.5 44.5 138 45.5 140.5 45.5 139.5 43.5 139.5 39.5 141 37.5 136.5 32.5 135 33 136.5 35 135 35.5 133 33 131.5 33 131 32.5 131 31 129 30.5 127.5 29 126 30 124.5 30 124 29 120.5 27.5 118 24.5 115 24.5zM136 34 137 33.5 138 34.5 136.5 35zM4 24 3 24 2 25 2 30 0 32 0 33.5 .5 34 0 35.5 0 41.5 1.5 41.5 2 41 1.5 40.5 1.5 38.5 2 38 3.5 38 4.5 39.5 6.5 38 7.5 35 7.5 33 8.5 31.5 8 30.5 9 30 9 29 7.5 28.5 7.5 26.5zM24.5 21.5 23.5 21.5 23.5 23.5 24 23.5zM43 20 41 20 38.5 23 39.5 26 42.5 26 44.5 24.5 45 22.5 43.5 22.5 43 22 43.5 21zM30.5 19 28 19.5 27 21.5 28 22 27.5 22.5 29.5 24 29 20.5 30.5 19.5zM150.5 18 149.5 19 150 19zM135 15 133.5 17 135.5 17 137 19 137.5 19 137.5 18 136.5 16.5 137.5 15.5 140 16.5 139.5 15.5 137.5 14.5zM64.5 16 68 17 69 18 71.5 19 73 21 73 23 72.5 23.5 71.5 29 71 30 68.5 32 69 32.5 68.5 33 69.5 34 72.5 34.5 75.5 36 78.5 36 80 34 80.5 27.5 81.5 26.5 83.5 26.5 85.5 28.5 85.5 30 87 32 88.5 31 88.5 30 86.5 27.5 87.5 24 87.5 22 88.5 21 88 19.5 87 20.5 85.5 19 84.5 19 82 21 82.5 21 83.5 22.5 82 23.5 81 23.5 80.5 23 81 21.5 77 21 73 19 72.5 15.5 70.5 14 67 14 66 14.5 65.5 16zM85.5 21 86 20.5 87.5 21 87 21.5zM69 17 69.5 16.5 70.5 18 70 18.5zM49.5 13 49 16 50.5 16 51.5 15 51.5 13.5 50.5 15 49.5 15 49 14.5 50 13.5 50 13zM117 11 113 11 112 11.5 112.5 12 112 13.5 111 12 111 15 112.5 17 114 17 114 16.5 115.5 15.5 115.5 14.5 114 13.5 114.5 13 114.5 11.5 115.5 11 116 12zM101 11 101.5 12.5 103 12.5 103.5 11.5 102 10.5zM79 10 76.5 10.5 75.5 12 76.5 13 78.5 13 79 12.5 78.5 11.5zM69 7 69 8.5 70.5 9 70.5 7.5zM17 6 17 8 16.5 8.5 18 8zM130 6 131 5.5 130 5.5zM43.5 5 43.5 6.5 44 6.5 44 5zM45 4.5 46.5 6.5 48.5 6.5 49 6 48.5 4.5 47.5 4 47 5 46.5 5 46 4zM7.5 3 7 4 5.5 4.5 6.5 6.5 5.5 7 5.5 8.5 8 8 8.5 8.5 8 9.5 10 9.5 10.5 9 10.5 7.5 9 7 9 5 8 4 8 3zM125 1.5 122.5 5 121 5 118.5 9 118.5 11 119.5 11 121 12 122 11 123.5 11 124 10 126.5 9.5 126.5 8 127.5 7 128.5 7 128 5.5 127.5 5.5 127 7 126 6 126 5 125 3.5 125.5 2zM59.5 0 60 2.5 61 3.5 62 3.5 62.5 3 62.5 1 61.5 0zM29 0 29.5 2 30.5 3.5 31.5 4 34 4 36.5 2 40 1 40 0 37.5 0 36.5 1.5 36 1.5 35 0 31 0 30.5 .5zM19 0 20 2 21 2 22 1 22 0z"/>
<path fill="#d5e7db" fill-rule="evenodd" d="M76.5 117 76.5 117.5 77.5 117.5zM3.5 116 3 117.5 4.5 117.5 4.5 116.5zM130.5 115.5 131.5 116 131.5 115zM20.5 114.5 20.5 116 21.5 116.5 21.5 117.5 24.5 117.5 24 117 22 117 21.5 116.5 21.5 114.5zM37.5 114 36 114.5 33 117.5 31 116.5 30.5 117.5 35.5 117.5 35.5 116.5zM151.5 113.5 151 114.5 152 114.5zM62.5 112.5 62.5 114 66 115 66 114 65 112.5zM138 112 135.5 113.5 135.5 115 137 117 138.5 114.5 138.5 112.5zM95 111 94 112 96 114 97 114zM115.5 110 115 110.5 115.5 111 116 110.5zM117 108 118 107.5 117 107.5zM69 101.5 69.5 102.5 70.5 102.5zM87 100 87 100.5 88 100.5 88 100zM69.5 99.5 69 99.5 69 100zM95.5 98 95.5 98.5 96.5 98.5 96.5 98zM98 97.5 98.5 98 101.5 98zM80 97.5 77.5 97.5 74.5 100 74 100 73.5 99 72 99.5 72.5 100 71.5 102 71.5 103.5 71 104 69.5 104 69.5 105.5 71 108 70.5 109.5 72.5 109 73.5 110 72 110.5 72 111 73 111 73.5 110 75 109.5 76 110.5 75.5 111 76 111.5 76 110 74.5 109 75.5 107.5 77 108 77 109.5 78 109.5 79 108 80 108 81.5 109.5 82.5 109.5 83 108.5 82.5 104 81 104 80.5 103.5 81 102.5 82.5 102 82.5 101 81 100 81.5 99.5zM70 106.5 71.5 105.5 73 106 72.5 107.5zM80.5 105 81.5 106 81.5 107.5 81 108 80 107.5 80 105.5zM79 101 79.5 100.5 80.5 101.5 79.5 102zM77 98.5 78.5 98 79 99 78 99.5zM152.5 97 152.5 98.5 153.5 98.5 154 97.5zM107 99 111 99 112 97.5 111.5 96.5 109 96.5 108 96 107 97.5zM121 95 121.5 95.5 122.5 95 121.5 94.5zM102.5 94.5 102.5 95 103 95 103 94.5zM120.5 98.5 122 99.5 122.5 100.5 122 101.5 124 103 123.5 101.5 124.5 100.5 126 101.5 126 103.5 125.5 104.5 124 105.5 125 107 129 110.5 129 111.5 128 112 128.5 112.5 131.5 111.5 132 110.5 134 109 135 109 136.5 111.5 138 110.5 139.5 111.5 139.5 110.5 141 109.5 140.5 109 141 108 142 108.5 142 109.5 143 109 144 106 143 106 141.5 107 140.5 106.5 140.5 105 142 103.5 143 104.5 144 104 144 103 142.5 103.5 141 103 141 102 142 101 140 99.5 140 98.5 140.5 98 142.5 98 141.5 96.5 140 96 138 97 137 96 137.5 95 137 94.5 133.5 95 133 93.5 132 93.5 131.5 94 132.5 95 132.5 96.5 132 97 131 97 130 96 130.5 94.5 128.5 94.5 128 95.5 128.5 96.5 128 97 126.5 95.5 126 95.5 125 97 124 96 122.5 96zM121.5 99 122 98 123 98.5 122 99.5zM79.5 93.5 79 94 79.5 94.5 80 94zM82.5 92.5 82.5 95.5 83.5 96 83.5 97 84 96.5 83.5 96 83.5 92.5zM145.5 93.5 146.5 94 150 94 150 93 149 92 147.5 92zM118.5 90 119 91 119.5 90.5zM111 90 105.5 91.5 111 91.5zM105 85.5 104 86.5 105.5 87 106 86.5 105.5 85.5zM101 85.5 101 86.5 102 86.5 102 86zM143 84 143 85.5 144.5 86.5 145 86 144.5 84.5zM101.5 82 101.5 82.5 102 82.5 102 82zM149 81 148 81 147 82 147 83 148 83.5 149 82.5zM80.5 80 80 81.5 80.5 82.5 81 82.5 82 80.5zM112 79 112 80 113 80.5 113.5 79.5zM133.5 77.5 133 78.5 134 79.5 134.5 78zM146.5 77 147 78 147.5 77.5zM84 76 84 77 82.5 78 82.5 79.5 84 82 81 85.5 80 84 79.5 84 80 85.5 79.5 87 81 88 80.5 89.5 82.5 91 83.5 91 85.5 93 85 94 85 95.5 86 96 85.5 98 87.5 98 88 97 89.5 97 90 98 91 98 95 95.5 96.5 96.5 98 96.5 97.5 95 98.5 93.5 98 92.5 99 92 98 90.5 98 88.5 99 88 99.5 85.5 98 84 98 83.5 99 83 97.5 82.5 96.5 80.5 95 81 94 80.5 94 79 94.5 78.5 94 78 95 77 93.5 75.5 92.5 76.5 90.5 76.5 88.5 77.5 86 79.5 85 78.5 86.5 76 86 75.5zM95.5 93.5 96 93 96.5 94 96 94.5zM96.5 91.5 97.5 91 98 92.5 97 93zM82 86 83.5 86.5 82.5 88.5 81.5 88 81.5 86.5zM98 85.5 98.5 86 98.5 88 96 90 95.5 89 97 87.5 97 86zM92.5 78 93 77.5 94 79 93 79.5zM118 74 116.5 75 117 76 118 76zM92 67 91.5 68.5 92.5 68.5zM98.5 62 98.5 62.5 99 62.5 99 62zM138.5 63 139 64.5 138 66 138.5 67 139.5 67.5 139.5 69 141.5 71 141.5 71.5 139.5 73 139.5 74.5 140.5 74 141 74.5 140.5 76 141 77 142.5 76.5 141 74.5 142 73.5 143.5 75 145.5 75 146 75.5 147 75.5 148 74.5 150 74.5 150.5 75.5 150 76 148.5 76 148.5 77.5 151 77 152 76 154 76 154.5 77.5 155 77.5 155 66.5 153.5 65.5 154.5 67.5 153.5 68 152 67 151 64 148.5 64 148 64.5 146.5 64 148 61.5 151 62 151.5 61.5 149.5 60.5 148 61.5 147 60.5 146 60.5 144.5 64 142.5 64 141.5 63 141.5 62 141 62 140.5 63zM151 76 151.5 75.5 152 76 151.5 76.5zM139.5 66.5 140 65 141 66 140 67zM75 60 75 61 76.5 61 76.5 60zM143.5 57.5 143.5 58 144 58 144 57.5zM96 57.5 95 57.5 95.5 58.5zM96.5 54 96.5 54.5 97.5 55 97.5 54.5zM111 55 111 55.5 108.5 57.5 109 60.5 109.5 61 111 61 112 62 110 64.5 110 67 110.5 68 111.5 68 114 69.5 113 71 113.5 70.5 114.5 71.5 114.5 72.5 115.5 74 115 72 116 71.5 118 72.5 120 75.5 122.5 75.5 123 76 123 77.5 124 77.5 125 76 126 76 126 75 125 74.5 126 73.5 127.5 74.5 128 76.5 129 75.5 132 75 130.5 73 131.5 72 133 72 134 71 133.5 68 135.5 65 135 65 134 63.5 134.5 60.5 134 60.5 133.5 59.5 129.5 59 129 58 130.5 57.5 131 56.5 128.5 56.5 127 57.5 126.5 56 128 55 127 53.5 126 55.5 124.5 55.5 124 56.5 122.5 55.5 121.5 56 119 56 118.5 55.5 118.5 54 117.5 54 118 55 117.5 56.5 116.5 57 114.5 56.5 111.5 58.5 111 57.5 113 55zM128.5 72.5 130 73.5 129.5 75 127.5 74zM132.5 66.5 133.5 67.5 133.5 70.5 133 71 132 70.5 132.5 69 131.5 68.5 131.5 67.5zM112 62.5 113.5 63.5 113.5 64.5 113 65 113 66.5 112.5 67 111 67 110.5 66 112 65 111.5 64.5 111.5 63zM111 58 111.5 59 110.5 59.5 110 59zM106 53 102.5 54.5 106 54zM124.5 52.5 122 53 122 53.5 124.5 53zM86 52 86 53 87 53.5 87 52.5zM79.5 51.5 78.5 52.5 79 53zM150.5 50 149 49 147.5 50 147.5 51.5 150 51.5zM141.5 49.5 141 49 138 50.5 139.5 52 140.5 52 140.5 51zM112.5 48.5 112.5 50.5 113.5 52 113.5 53 114.5 53.5 115 53 115 50.5zM126.5 46 127.5 46.5 127.5 45.5zM87 45.5 87 46 88 46zM115.5 44.5 114 45 114 46.5 115 46zM54 43 53.5 43.5 54 44 54.5 43.5zM101 41.5 100.5 42 98 42 98 43 96.5 44.5 96.5 45 98 46 98 47 97 48 96 47 96 48 97 49.5 96 52 98 52.5 98.5 54 101.5 54.5 100.5 53 101.5 51.5 106.5 51.5 106 50 107 49 106 47.5 106.5 46 106 45.5 104.5 46.5 103.5 45.5 103.5 44.5 104.5 43 104 42.5 103.5 43 102 43zM97 49 97.5 48.5 98 49 97.5 49.5zM104 48 104.5 46.5 106 47.5 105 48.5zM101.5 44.5 102 44 102.5 44.5 102 45zM98.5 45 99 44 100 44.5 99 45.5zM25 41 24 41.5 24.5 43zM58.5 40.5 58.5 41 59.5 41zM124.5 40 124.5 42 125 42 125 40zM116.5 39.5 116.5 40.5 118 40.5 118 40zM133 38.5 132.5 40 134 40zM83.5 37 84.5 37.5 84.5 36.5zM8.5 36 8.5 37 9 37zM125.5 36 127 36 127 35.5zM51.5 35.5 50.5 35.5 50 37 51 37zM28.5 35 27.5 35.5 28.5 35.5zM17 33.5 18 35 19 35 18.5 33.5zM120 32 120 32.5 121 33 121 32.5zM8.5 30.5 9 31.5 9 30.5zM30.5 30 29.5 30 30 31zM38.5 28 38 29.5 38.5 30.5 39.5 31 40.5 29.5 39.5 28zM66.5 26.5 67 28 67 26.5zM50.5 26 49.5 25.5 48.5 27 46.5 28.5 47 29 49.5 29 50.5 28zM70 24.5 69.5 25.5 70.5 26zM52.5 24 52.5 25 53 25 53 24zM23.5 24 23.5 24.5 25 24.5zM81 22 81 23 83 22.5 82.5 21.5zM63 20.5 63.5 21.5 65.5 21.5 65 20.5 64 20zM58 18.5 57 19 57.5 20.5 56 21.5 56 22.5 57 24 54.5 25 54.5 26 57 27 56.5 28 54.5 29.5 54.5 30.5 55.5 31.5 57 31.5 58 32.5 58.5 35.5 58 36 56.5 36 55.5 35 54.5 35 54.5 36 57.5 38.5 57 39.5 58.5 39 59 39.5 65.5 40 65.5 39.5 67.5 38 67.5 37 65 36 64 35 64 34 65 32.5 66 34.5 67.5 32.5 67 32 67.5 30 64 28 63.5 27 65 26.5 66.5 24.5 65 24 64.5 26 63.5 26.5 62.5 25.5 63 22.5 62 22.5 61 21.5 62 20 59.5 18.5 59 19zM63 38 63.5 37.5 64 38 63.5 38.5zM60.5 37.5 61.5 38.5 60.5 39.5 59.5 38.5zM57.5 20.5 58.5 19.5 60 20.5 59.5 21 58 21zM52 18.5 51.5 18.5 50.5 20 50.5 22 51 22 52.5 20zM99 16.5 99 17.5 100.5 17 100.5 16.5zM18 15 20 15 19.5 14.5zM53.5 14 53 13.5 52.5 14.5zM23 12 23 12.5 24 13 24 12zM12 11.5 12.5 13 13.5 13.5 14 12.5 13 11.5zM150.5 9 151.5 9.5 151.5 9zM68 9 67.5 9.5 68.5 10.5 69 9.5zM72 8 72 9.5 73 10 73.5 8.5zM104 7 104 7.5 104.5 7.5 104.5 7zM4.5 5 4.5 6 6 6.5 6 6zM93 3.5 92 4 92.5 5zM46 3 46.5 4.5 47 4.5 47 3zM38 2.5 38 4 39 4 39 3zM125 0 125 1 123.5 1.5 123 3 122 2.5 120.5 4.5 122.5 4.5 123 3 124 2.5 125 1 126 2 125.5 3.5 126.5 5 126.5 6 127 6.5 127 5.5 128 5 129 7 127 8 127 9.5 126.5 10 124 10.5 123.5 11.5 122 11.5 121 12.5 118 11 116 12.5 115.5 11.5 115 11.5 115 13 114.5 13.5 116 14.5 116 15.5 114.5 16.5 114 18 114.5 18 115 19 116 19 117 20 116.5 21 118 22 118 21.5 119 21 120.5 23 122.5 23 123 23.5 122 24.5 122 25.5 123 26 124.5 22.5 125.5 23.5 125 24.5 125 27 129 30 131 30.5 131.5 31 131.5 32.5 133 32.5 135 35 138 34 141 36.5 142.5 39 144 39.5 145 38.5 147 38.5 149.5 37 150 37.5 150 39 148 40 147.5 39.5 146.5 40 147.5 41.5 147 43 148.5 42.5 148 41.5 148 40 148.5 39.5 151 40 151.5 39 153 39 154 40.5 155 39.5 155 22.5 153.5 22.5 153 22 153.5 21 153 20 152 19.5 150 20.5 148.5 20.5 145 18 141.5 18.5 140.5 17 139.5 17 138 16 137 16.5 138 18 138 19 137 19.5 135.5 17.5 133.5 17.5 132.5 16.5 132.5 15.5 133.5 14.5 134.5 14.5 134.5 14 131 14 130.5 13.5 131 13 130.5 12 129.5 13 127 13 126.5 13.5 125.5 13.5 123.5 12 125.5 11 127 11.5 128 10.5 127.5 9.5 129 8 130.5 8 130.5 7 129.5 6 130 5 131 5 132 6 132.5 5.5 133.5 7 134.5 7 137 4 137.5 5.5 136.5 6.5 137 7 138 5.5 138.5 6.5 139 6.5 140 5.5 139 5 139.5 3.5 138.5 2.5 139.5 .5 140.5 1 141 0zM151 37 151.5 36.5 152 37 151.5 37.5zM142.5 37 143 36.5 144 37 143.5 37.5zM137 31.5 138 32.5 138 34 137.5 34.5 136.5 34 136 35 134.5 33zM133.5 32 134 31.5 135 32 134.5 32.5zM128.5 27.5 129.5 27 132 28.5 131 29.5 130.5 29 129 29zM151 22.5 151.5 22 152 22.5 151.5 23zM121 21.5 121.5 21 122 21.5 121.5 22zM143.5 20 144 19.5 145.5 19.5 146 20 146 21.5 145.5 22 144.5 21.5zM117 19 118 18.5 118.5 19.5 117.5 20zM139.5 18.5 140 18 140.5 18.5 140 19zM129.5 15.5 130 15 131.5 15.5 131 16zM122 0 123 .5 123 0zM108.5 0 109 1.5 110.5 1 110.5 0zM102.5 0 104 .5 104 0zM95 0 96.5 2.5 96 3 97 4.5 98.5 4 99 3 97 1 97 0zM76 0 76 .5 77.5 1 75.5 2.5 75.5 4 77.5 5 76.5 6.5 76.5 7.5 78 7.5 80 8.5 80 10 79 11 79.5 12 80 12 81 10.5 82 11 82 11.5 79.5 13.5 80 14.5 77.5 16.5 77 18 77.5 18.5 79.5 17 79.5 15 80 14.5 81.5 14.5 82 15 83.5 14.5 84.5 15.5 84 16 82.5 16 82 17 82.5 17 83.5 18.5 84.5 18 87 20 88 19 90 21 89 22 88 22 89 23.5 88.5 25 91.5 26 92.5 27.5 95 28 96 31.5 97.5 32.5 99 32.5 99.5 33 99 34.5 100.5 36 101 36 99.5 35 99.5 34 100 33.5 103 33.5 104 34.5 102.5 35 102 36.5 103.5 38 104.5 38 104 36 105 35 106 36.5 107 36.5 108.5 34 107 34.5 106 33.5 106.5 30.5 107 30 109 30.5 109.5 30 109.5 27.5 109 27 108.5 28 107.5 28.5 107 28 107.5 25.5 106.5 25.5 105 24 105.5 23 103.5 24.5 102.5 23.5 103 20.5 102 20 101.5 21 100 19 98 19 97 18 97 17 98.5 15 97.5 13.5 96.5 15 96 14.5 96 11.5 93 12.5 92 11.5 92.5 10.5 93 11 93 10 92 10 91.5 8.5 88.5 7.5 88 6 89 5 90 5.5 90 4.5 88 4.5 86.5 3 85.5 3.5 84 3 83.5 1.5 84.5 0zM89 23 90 22.5 91.5 24 90 24.5zM84.5 17 85 16.5 86.5 17 86 17.5zM93.5 13.5 94 13 94.5 13.5 94 14zM81 1.5 81.5 1 82.5 1.5 82 2zM71.5 0 72.5 1.5 74 1.5 75 .5 75 0zM35.5 0 36 1 37 .5 37 0zM15.5 0 16 1.5 17 2 17.5 1.5z"/>
<ellipse cx="24" cy="23" rx="26" ry="8.5" transform="rotate(-37 24 23)" fill="#c24c8c"/>
<ellipse cx="22" cy="25" rx="19" ry="4.5" transform="rotate(-37 22 25)" fill="#a8458c"/>
<ellipse cx="4" cy="38" rx="8" ry="6.5" fill="#8a3c88"/>
<ellipse cx="30" cy="20.5" rx="3" ry="2" transform="rotate(-37 30 20.5)" fill="#d5e7db"/>
<polygon points="0,70 5,56 13,48 22,49 30,54 35,57 42,52 50,48 57,51 62,60 67,72 71,84 66,92 58,100 46,106 36,108 22,106 10,103 2,98 0,90" fill="#c04888"/>
<polyline points="50,55 57,64 63,80 59,91 49,99 38,102" fill="none" stroke="#d5e7db" stroke-width="1"/>
<polygon points="4,72 8,60 14,54 23,56 32,62 37,62 44,57 50,56 55,63 59,73 62,82 57,91 49,97 39,100 27,100 15,98 7,93 4,84" fill="#86367e"/>
<polygon points="36,72 39,74 42,71 41,76 44,79 40,79 38,82 37,78 33,78 36,76" fill="#d5e7db"/>
<path stroke="#6a2468" stroke-opacity="0.75" stroke-width="1.2" stroke-linecap="round" d="M61.8 60.4h0M82.2 114.5h0M74.9 1.9h0M98.9 60h0M87 32.3h0M88.6 61.5h0M104 98.9h0M2.3 61.9h0M8.8 110.7h0M53.6 26.5h0M77.4 9.6h0M120.8 92.3h0M64.6 60.9h0M71.2 75.5h0M27.2 35.9h0M145.5 16.8h0M58.2 91.3h0M36.5 116.8h0M141.4 99.9h0M119.7 45.5h0M8.2 22.8h0M99.8 56h0M112.5 4.1h0M79.2 91.2h0M149.4 79.8h0M97.9 101.1h0M.8 106.9h0M57 57.5h0M102.4 39.7h0M50.4 42.3h0M95.6 51.2h0M114.2 19.2h0M2.1 67.3h0M80.1 82.3h0M66.4 83.7h0M60.8 61.9h0M59.5 95.6h0M78.5 72.2h0M143.6 49.6h0M61.4 77.5h0M112 54.8h0M96.2 75.5h0M86.2 35h0M121.7 1.3h0M153.4 45.3h0M60.6 105h0M55.7 .9h0M100.7 107.6h0M93 68.5h0M64.5 54.2h0M155.2 17.5h0M110.1 48.3h0M105.9 .9h0M149.4 109.7h0M89.9 32.6h0M107.8 69.3h0M131.7 42.9h0M91 47.7h0M66.8 97.9h0M83.1 77.3h0M105.9 3.7h0M14.5 3.2h0M5.4 107.5h0M25 6.3h0M144.9 80.8h0M108.4 80.2h0M4.6 88h0M82.7 97.3h0M59.9 59.8h0M110.5 19.9h0M12.8 102.4h0M26.9 7.4h0M68.6 27.5h0M2.5 88.5h0M106.8 114.8h0M59.7 53.2h0M74.3 39.5h0M.2 16.1h0M119.8 94.4h0M119.2 37.3h0M86.3 66h0M72 90.5h0M77.2 26.8h0M126.3 115.8h0M121.9 5h0M80.1 54.8h0M94.2 45.6h0M8.3 28.1h0M97 63.1h0M33.6 46.9h0M59.1 95h0M73.5 54.2h0M9.5 41.8h0M59 116.7h0M84.8 110.3h0M47.7 116.6h0M97.3 62.3h0M112.9 78.2h0M59.8 68.5h0M109.8 26h0M36.4 53.4h0M71.1 26.8h0M154 5.9h0M53.3 28.6h0M71 69.5h0M84.6 23.3h0M20.4 113.6h0M67.2 97.6h0M119.8 32.2h0M84.8 1.7h0M96.9 65.3h0M151.1 83.7h0M51.6 48h0M81.4 38.1h0M74.6 57.5h0M93.1 65h0M94 7.5h0M55.3 26.8h0M3.4 55.3h0M12.6 19.3h0M108.3 64.9h0M70.1 61.3h0M137.3 67.5h0M65.6 91h0M34.1 59.5h0M152.7 51.4h0M151.2 79.3h0M6.9 49.5h0M141.1 94.7h0M115.2 15.1h0M26.1 100.5h0M97.5 5h0M70 78.9h0M12 96.6h0M18.9 2.6h0M77.9 114.4h0M71.4 95.8h0M118.7 100.5h0M142.9 54.6h0M105.6 75.3h0M143.1 43.9h0M44.6 53.9h0M66.4 50h0M90.9 8.2h0M136.4 63h0M109.5 73.9h0M46.8 54.2h0M45.2 103.3h0M36.3 6.3h0M152.8 105.5h0M102.7 99.8h0M37.7 20.7h0M9.2 25.6h0M19.3 99.3h0M2.5 27.5h0M32.9 26.1h0M34 15.2h0M28.2 112.9h0M3.7 83.8h0M38.3 9.9h0M43.4 47.9h0M79.1 81.8h0M106.3 113h0M96 49.1h0M26.6 117.4h0M122.6 92.2h0M153.1 6.1h0M37.5 12.3h0M113.7 40.7h0M106.2 110.3h0M46.8 15.1h0M152.7 100.6h0M141.7 98.9h0M77.8 44.6h0M72.5 98.8h0M54.6 21.9h0M147.9 53.2h0M53.6 103.9h0M70.4 83.2h0M68.3 69.2h0M1.1 81.1h0M107.8 44.1h0M155.4 43h0M63.6 54.5h0M7.9 97.3h0M115.4 38h0M23.1 50.6h0M109.5 77.4h0M93 110.9h0M94.5 97.5h0M28.8 39.7h0M143.7 11.8h0M146.9 9.6h0M122.4 91h0M108.1 11.3h0M20.3 117.2h0M59.1 112.2h0M50.4 98h0M105.9 .1h0M72.9 50.1h0M38.3 60.2h0M52.8 9h0M133.7 13h0M70.9 94.2h0M42.4 32.3h0M118.5 27h0M146.5 44.5h0M63.6 77.6h0M65.6 108.5h0M25.1 45.7h0M91.2 76.3h0M58.6 99.3h0M47 98.9h0M97.6 38.9h0M41.4 17.8h0M24 53.9h0M63.5 12.8h0M128 91.7h0M116.9 38.9h0M9.8 33.4h0M93.4 46.9h0M150.1 80.6h0M22.6 9.2h0M58 92.8h0M139.6 44.9h0M56.5 45.7h0M66.4 51.6h0M11.2 30h0M19.4 35.8h0M119.9 54.5h0M15.1 14.2h0M67.8 84.8h0M51.1 24.2h0M101.7 42.1h0M35 51.1h0M135.1 81.6h0M104.1 64.3h0M113.9 9.7h0M5.1 49.2h0M1.3 85.7h0M108.1 55.1h0M3.3 57.7h0M139.1 92h0M26.9 2h0M85.6 23.9h0M128.1 80.8h0M19.8 17.9h0M58.2 115h0M7.1 23.2h0M21.4 11.4h0M136.9 5.3h0M118.3 113.2h0M74.3 34.9h0M146.9 51.8h0M57.3 6.2h0M102.5 103.2h0M68.6 56.2h0M87.6 110h0M145.7 3.5h0M98.9 .9h0M145.5 15h0M95.1 105.2h0M122.2 36.1h0M7.5 13.9h0M129.7 73.9h0M77.2 25.8h0M66.2 40.6h0M134.7 13h0M50.1 108.2h0M68.5 105.6h0M105.7 109.6h0M105.4 116.5h0M76.4 91.1h0M145.6 52.8h0M69.4 115.5h0M138.2 67.9h0M49 116.7h0M80.8 111.1h0M151.5 94.5h0M76.6 54.9h0M41.8 113.1h0M52.9 29.9h0M53.5 13.2h0M35.1 34.7h0M58 101h0M38 109.7h0M138 10.7h0M27.1 22.8h0M133.5 16.9h0M120 110.8h0M33.6 22.1h0M55.8 111.4h0M37.2 109.6h0M132.4 88.1h0M104.9 58.6h0M82 82h0M69.5 5h0M3.9 111h0M4.6 115.4h0M126.5 80.7h0M35.3 35.9h0M26.7 47.2h0M117.9 24h0M80.5 34.4h0M144.6 91.6h0M31.8 31.7h0M102.2 70.3h0M79.9 83.5h0M2 76h0M22.6 111.5h0M140 72.1h0M122 44.2h0M30.1 32.9h0M109.8 114.5h0M71.4 84.3h0M53.1 26.3h0M71.9 58.5h0M135.4 93.2h0M52.1 96.1h0M73.2 38.4h0M116.3 38.4h0M75.9 7.3h0M61.8 7.3h0M64.6 76.8h0M103.3 101.2h0M61.7 105.7h0M120.3 112h0M71.8 62h0M54 103.6h0M11.3 47.1h0M51.1 9.8h0M26.9 106.5h0M137.3 72.1h0M110.4 72.7h0M97.6 99.3h0M149.4 2.2h0M71.5 54.5h0M69 62.9h0M46.9 106.9h0M124.9 111.2h0M139.8 2h0M89 55.6h0M91.4 73h0M74.6 51.3h0M4.2 63.8h0M40.3 52.5h0M118.5 79.7h0M93.7 113.9h0M141.3 12.5h0M.7 105.5h0M102.2 81.4h0M133.1 88.6h0M97.1 76.9h0M104.4 80.5h0M14.2 17.3h0M66.3 96.1h0M105.3 82.1h0M146.5 109.4h0M126.7 47.3h0M130 8.5h0M109.7 48.7h0M65.1 50.7h0M96 44.2h0M153.2 9h0M32 9h0M124.9 84.6h0M75.6 109.2h0M82.1 46.6h0M117.2 27.9h0M139.4 96.4h0M37.4 23.2h0M94.7 40.8h0M119 38.8h0M72.2 87.5h0M83.5 98.8h0M135.3 68.9h0M84 60.9h0M103.5 20.9h0M138 82.3h0M54.7 43.1h0M44.2 15.4h0M119.2 106.2h0M15.4 11.2h0M53.1 105.5h0M49.5 1.6h0M35.5 4.8h0M95.7 71.7h0M51.5 3.2h0M147.3 56.8h0M112.3 18.2h0M9.4 18.6h0M101.8 55.7h0M58.8 42h0M84.1 70.1h0M12.8 115.7h0M90 65.1h0M139.3 45.1h0M91.4 48.9h0M84.1 36.1h0M104.7 100.8h0M104.7 63.2h0M77.9 66.7h0M151.3 86.1h0M37.2 20.2h0M92.4 44.8h0M77.1 92.8h0M154.7 80.1h0M143.3 113.2h0M152 16.6h0M144.1 109.2h0M128.6 85.6h0M155.2 107.5h0M40.5 101.5h0M40.6 13h0M54.4 12h0M10.5 48.2h0M99.5 89.4h0M40.8 113.1h0M148.9 88.3h0M123.6 3.2h0M52.4 114.9h0M106.7 92.6h0M88.8 20.9h0M21.1 5.9h0M41.9 112.9h0M24.6 107.6h0M75.1 99.2h0M16.4 45.6h0M10.2 8.4h0M60.9 67.9h0M34.9 3.8h0M151.1 48.9h0M136.5 89.7h0M77.3 33.2h0M13 23.4h0M42.6 23.2h0M32.2 105.1h0M19.7 116.7h0M81.6 70.2h0M144 94.6h0M62.1 68.2h0M132 113.4h0M40 22.6h0M12.5 19.7h0M5.2 25h0M33.2 26.2h0M109.2 69.7h0M66.3 107.2h0M10.7 31.3h0M90.6 38.6h0M18.6 108.2h0M15.4 98.9h0M53.6 106.8h0M5.8 13.4h0M81.1 45.1h0M13.8 99.2h0M67 88.4h0M133.6 83.7h0M107.4 107.5h0M108.3 49.8h0M11.6 44.5h0M17.3 32h0M127.9 96.1h0M127.2 39.6h0M43.1 114.1h0M89 111.2h0M26.5 17h0M10.5 52.6h0M4.4 43.7h0M130.7 90.3h0M116.3 38.7h0M72.1 63.1h0M108.8 88.5h0M60.4 48.6h0M124.1 106.8h0M79.8 17.9h0M128.2 85.9h0M74.7 112.4h0M97.7 79.1h0M65.2 88.2h0M25 51.5h0M113.3 56.2h0M7.1 61.8h0M55.2 104h0M87.9 36.2h0M81.3 110.5h0M16.5 23.2h0M147.8 107.7h0M124.4 35.4h0M44.8 8.1h0M84.4 22.6h0M137.2 79.5h0"/>
<path stroke="#6a2468" stroke-opacity="0.75" stroke-width="1.6" stroke-linecap="round" d="M107.3 71.8h0M145.2 41.1h0M53.3 38.1h0M66.2 90h0M26.3 48.5h0M50.2 114.2h0M79.3 81h0M107.2 46.4h0M59.6 105.4h0M6 41.1h0M143.2 61.8h0M154.6 7.7h0M88.7 42.8h0M62.2 65.8h0M49.8 51.7h0M86.9 28.2h0M101 52.7h0M79.8 12.6h0M116.7 3.4h0M6.3 22.9h0M105.9 44.7h0M117.1 6.3h0M19.3 117.7h0M48.9 .3h0M17.6 30h0M141.8 112.4h0M106.8 14.7h0M107.6 45.1h0M141 88.4h0M140.8 43.9h0M23.2 107.1h0M22.3 19.3h0M145.7 58.7h0M92.7 2.1h0M92.5 47.6h0M132.1 67.7h0M104.4 92.4h0M71.6 85.6h0M30.2 58.7h0M149.3 3.8h0M138.5 116.7h0M34 28.2h0M64.5 102.9h0M77.7 28.5h0M1.3 22.8h0M65.4 5.6h0M69 35.9h0M62 87.4h0M39.6 38.7h0M136.2 92.4h0M147.2 46.1h0M7.6 59.9h0M113.3 83.9h0M48 46h0M80.9 79.8h0M65.9 87.4h0M48.1 30.9h0M150.6 3.5h0M71.9 95.4h0M42.2 35.9h0M14.2 45.7h0M33.1 41.7h0M14 42.4h0M50.3 33h0M3.3 116.3h0M148 9.7h0M130.4 32.5h0M65.3 102.9h0M102.4 114.3h0M122.9 36.5h0M118.3 85.3h0M87.9 24.8h0M154.8 101.8h0M78.4 52.2h0M135.3 89.6h0M68.1 84.8h0M116.3 97.9h0M17.2 44.3h0M57.6 92.4h0M45.2 3.9h0M10.8 43.3h0M101.9 .8h0M120.8 103h0M29.4 9.4h0M12.4 111.3h0M8.7 34.8h0M33.9 54.8h0M79.1 30.3h0M87.3 107.1h0M50.7 8.1h0M84.9 59.1h0M25.4 49.3h0M97 100.7h0M103.6 66.6h0M47.4 35.7h0M74.1 44.4h0M39.8 44.4h0M43.5 7.8h0M122.5 103.7h0M42.6 15.1h0M47.6 108.4h0M49.9 32.6h0M44.4 33.2h0M91.1 33.7h0M106.5 43.9h0M106.4 17.8h0M83 15.8h0M23.4 34.8h0M63.2 22.5h0M107.5 7.6h0M109.8 109.6h0M26.8 33.7h0M71 28h0M131.5 74h0M72.7 66.1h0M84.8 48.3h0M150.6 103.4h0M133.9 80.5h0M95.7 97.6h0M72.6 19.4h0M121.7 80.1h0M27.7 14.8h0M5 94.2h0M123 85.8h0M46.3 29.4h0M73.4 61.7h0M31 4.3h0M99.9 90.6h0M47.7 22h0M140.4 7.8h0M122.7 117.4h0M74.8 38.4h0M136.3 80.3h0M139.3 53.3h0M63.4 84h0M95.2 54h0M.9 79.5h0M75.3 48.5h0M63 97.3h0M89.2 108.1h0M52.7 57.7h0M10.1 100.9h0M100.9 18.4h0M140.5 92.6h0M112.8 4.6h0M4.5 41.1h0M68.1 35h0M42.4 111.7h0M24.8 12.1h0M6.9 110.1h0M94.7 35.9h0M98.6 66h0M92 37.1h0M147.7 19.4h0M68.3 6.7h0M55.5 62.5h0M58.1 3.2h0M133.2 40.5h0M102.3 17.9h0M154.3 13.9h0M108.6 17.9h0M151.2 88.8h0M102.2 91.2h0M.3 108.4h0M92.2 48.3h0M22.4 49.5h0M39.9 31.9h0M133.3 69.7h0M72.4 5.7h0M11.3 23.5h0M61.2 76.2h0M6.5 59.7h0M108 63.3h0M140.3 82h0M92.6 67h0M70.4 36.7h0M94.4 98.5h0M20.4 114.6h0M69.9 100.2h0M119.8 41.7h0M147.2 45.2h0M40.3 1h0M18.1 3.5h0M18.2 19.3h0M141.5 110h0M31.2 25.2h0M110.4 71.6h0M150.7 13.7h0M58.4 69.2h0M114.2 26.7h0M69.7 83.4h0M66.2 117.1h0M45.3 10.4h0M52.9 35.7h0M97.3 56.3h0M152.6 86h0M25.8 101h0M64.7 10h0M3.4 4h0M8.5 17.3h0M114.6 101h0M98.9 77.9h0M.3 26h0M133 54.3h0M124.3 36.9h0M141.2 84.7h0M148.8 91.5h0M25 43.7h0M91.4 28.8h0M6.6 3h0M19.9 43.4h0M31.9 101.7h0M118 41.4h0M144 116.6h0M21.7 12h0M91.4 116.6h0M54.5 94.3h0M92.3 41.9h0M13.6 11.4h0M6.4 20.9h0M56.9 104.2h0M52.1 9.8h0M35.8 7.8h0M12.2 18.4h0M113.4 91.8h0M145.9 4.4h0M77.9 53.6h0M67.8 94.4h0M25.4 55.9h0M91.7 98.8h0M91.1 40h0M67.7 85.8h0M20.6 43.8h0M49.3 47.2h0M105 72.7h0M145.6 10.1h0M62.8 112.3h0M111.7 28.8h0M18.6 25.6h0M106 72.3h0M37.1 40.6h0M135.5 66.5h0M127.8 39.1h0M67.9 95h0M19.2 112h0M55.7 102.3h0M82.9 58.3h0M72 6.9h0M146 39.8h0M93 28.5h0M144.4 7.4h0M70.1 61.6h0M133 84.5h0M142.1 112.9h0M89.6 52.7h0M75.6 45.2h0M40 19.3h0M69.7 85.2h0M136.8 32.8h0M28.3 110.3h0M49.5 103.2h0M30.3 110.1h0M71.3 111.9h0M76.5 75.8h0M112.3 19.7h0M111.7 83.9h0M13.5 108.9h0M111.8 8.5h0M6.8 51.3h0M74.3 30.6h0M37.2 112.5h0M30.3 101h0M70.4 113.5h0M77.2 41.3h0M36.8 112.5h0M43.8 46.6h0M22.7 9.6h0M10 31.8h0M18.7 25.3h0M112.7 .2h0M120.4 24.3h0M5.2 111.8h0M47 19.7h0M24.5 7.8h0M4.9 113.3h0M154.9 .7h0M78.3 41.6h0M40.7 40.9h0M147.7 11.6h0M155.5 47h0M87.7 60.2h0M22.1 101.3h0M6.3 58.4h0M96.7 13h0M109.2 13.8h0M84 57.3h0M33.8 54.2h0M127.9 88h0M75.6 73.5h0M66 51.8h0M89.1 7.7h0M126.8 114.9h0M112.4 66.3h0M82.7 35.6h0M122.7 85.8h0M144.6 83.3h0M155.5 90h0M77.3 116h0M135.1 59.3h0M.3 45.2h0M88.7 28h0M151.9 81.2h0M18.8 7.5h0M100.5 105h0M106.7 58.9h0M87.9 40.6h0M63.8 86.8h0M111 84.4h0M48.8 15.3h0M82.2 20.5h0M68.6 74.2h0M30 37.1h0M46 100h0M118.6 95.2h0M72.8 78.5h0M131.7 8.7h0M117.2 56.3h0M99.4 45.5h0M142.4 55.3h0M56 38.3h0M31.8 28.6h0M119.5 102.2h0M18.5 32.6h0M153.7 109.2h0M19.1 11.3h0M33.3 28.9h0M150.2 55.9h0M53.4 99.4h0M69.3 116.9h0M76.2 19.2h0M75.4 79.4h0M123.4 117.6h0M131.7 87.3h0M13.6 115.8h0M47.5 50.6h0M105 79.2h0M149.9 89.5h0M37.5 110.4h0M39.5 106.5h0M3.9 107.2h0M146.4 40.5h0M15.5 100.6h0M135.6 88h0M111.9 111.1h0M16.3 34.3h0M93.5 64.5h0M85.1 113.7h0M1 31h0M21.1 38.5h0M31.8 29.1h0M148.3 3.2h0M30 115.2h0M73.3 12.8h0M101.4 91.3h0M3.8 80.6h0M100 84.8h0M127 51h0M101 19.1h0M76.4 7.9h0M139.9 57.8h0M17.4 43.2h0M145.9 85.7h0M129.6 81.3h0M107.8 102.4h0M83.4 48.1h0M70.5 37.3h0M63.2 19h0M118.7 22.5h0M118.7 32.1h0M87.5 63.5h0M109.5 45.2h0M125.2 82.4h0M97.1 38h0M32.7 41.6h0M47 6.2h0M75.4 37.9h0M68.5 116.6h0M75.9 58.6h0M24.6 53.7h0M107.1 93.6h0M36.9 55h0M75.1 15.1h0M38.5 116.4h0M30.2 108.1h0M28.7 6.8h0M53.9 35.7h0M73.1 35.6h0M52.2 8.2h0M22 115.7h0M42.2 24.8h0M54.7 7.9h0M54.6 113.6h0M19.1 37.8h0M50.7 105.2h0M50.5 33h0M78.1 112.6h0M14.7 105.4h0M33.1 7.4h0M17.8 45.3h0M42.4 12.3h0M23.4 13.1h0M44.8 9.2h0M55 13.3h0M92.2 57.3h0M87.7 33.9h0M39.3 34.5h0M68.8 39.3h0M79.3 81.1h0M136.9 47h0M135.5 14.4h0M68.5 47.2h0M71.8 71.8h0M116 22.6h0M129 82.9h0M91.9 114.6h0M140.1 86.1h0M134 53.5h0M1.4 33.2h0M6.2 31.9h0M19.9 45.3h0M150.6 10.9h0M142.3 15.9h0M101.3 74h0M11.6 37h0M101.2 113.8h0M152.2 95.4h0M145.3 56.7h0M109.2 40.7h0M121.5 46.1h0M76.6 54.1h0M30.4 18.1h0M114.4 97.9h0M13.4 36h0M54.6 109.5h0M93.6 33.6h0M44.6 32.4h0M106 1.8h0M52.7 12.2h0M152.9 88.3h0M21.9 50.2h0M100.4 110.2h0M107.9 12.3h0M41.4 58.1h0M4.1 91.5h0M72.8 74.3h0M16.3 23.7h0M116.6 5.5h0M63.4 40.6h0M56.8 40.6h0M14 32.1h0M50.2 111.5h0M148.1 95.5h0M.2 80.1h0M5.1 4.9h0M143.2 48.3h0M45.9 52.1h0M51.7 96.5h0M94.9 67.2h0M107.1 94.9h0M76.9 5.2h0M27.9 25h0M27.3 58.5h0M136.7 90.9h0M49.5 12.4h0M5.5 43.2h0M108 75.5h0M48.9 12.3h0M126.2 54.3h0M111.9 3.4h0M5 33.3h0M147.3 .2h0M107.9 67.4h0M37.8 16.9h0M39.4 15.5h0M46 101.4h0M72.6 82.9h0M141.8 53.9h0M124.8 44.5h0M62 111.8h0M32.1 25.7h0M52.3 43.4h0M23.5 102.1h0M17.1 108.8h0M111.1 69.2h0M119.9 81.2h0M122.1 92.3h0M116.8 44.3h0M153.9 111.1h0M35.2 31.8h0M.9 109.3h0M122.7 104.6h0M96.5 9.5h0M132.7 9.1h0M87.6 2.8h0M79.6 37.1h0M128.1 49.6h0M56.6 56.5h0M58 60.6h0M138.6 90.6h0M72.8 93.3h0M14.7 30h0M18.8 36.8h0M60.6 112.9h0M152.3 .3h0M102.9 101.2h0M136.6 89.4h0M12.5 9h0M72.7 56.5h0M94.7 63.7h0M74.8 87.7h0M65.5 89.9h0M.8 98.2h0M11.3 35.5h0M152.3 42.9h0M1.6 31.7h0M89 51.4h0M142.6 49h0M105.4 80.2h0M63.3 61.3h0M51.9 45.6h0M52.1 9h0M82.6 67.7h0M79 18.5h0M74.7 47h0M49.7 33.5h0M2.6 78.9h0M139.8 93.4h0M151.7 37.5h0M48.7 7.2h0M61.4 103.2h0M142.3 51.8h0M76 72h0M95.1 60.3h0M102.8 10.1h0M102.5 117.7h0M88 104h0M145.6 87.3h0M107.7 3.8h0M120.6 93h0M74 16.3h0M31.8 51h0M2.2 84h0M111.8 100h0M140.2 13h0M1.5 5.7h0M141.4 105.6h0M85.3 19.7h0M58.4 35.3h0M37 46.2h0M151.1 59.2h0M118.3 23.8h0M30.5 102.9h0M51.3 30.7h0M127.4 48h0M67.3 101.9h0M149.5 41.6h0M38.9 55.6h0M77.1 82.8h0M69.9 14.3h0M100.8 62h0M124.8 6.9h0M101.5 96h0M155 15.2h0M154.4 99.7h0M22.9 108.9h0M65.4 15.1h0M127.1 112.3h0M61.8 5.7h0M106.4 52h0M19.2 108.6h0M58.6 92h0M68.8 43.8h0M5.3 17h0M79.1 67.4h0M122.5 28.7h0M128.3 51.4h0M98.6 71.2h0M73.1 93.9h0M47.6 103.8h0M30.8 39.4h0M15 43.3h0M100.9 65.3h0M54.7 38h0M34.8 114.7h0M49.6 101.6h0M94.2 58.8h0M44.2 9.5h0M94.3 69.2h0M70.2 31.5h0M45 115.2h0M102.5 69.5h0M109 64.1h0M5.1 1.2h0M108.8 48.2h0M15.6 37.1h0M148.6 8.6h0M63 72.3h0M122.2 99h0M115 39.2h0M32.9 51h0M22.4 9.6h0M94.9 100.8h0M19 12.6h0M90.2 34.9h0M15.2 51.6h0M105.2 1.1h0M44.2 48.4h0M115.5 23h0M127.2 111.4h0M73.6 116.6h0M90.5 52h0M20.6 35.8h0M94.5 34.2h0M76 38.2h0M100 105h0M56.5 6.3h0M49.7 3.6h0M48.2 19.5h0M105.9 85.4h0M3 38.4h0M37.8 57h0M88.2 65.5h0M1.1 49.9h0M6.7 37.1h0M19.7 4.4h0M8.4 101.8h0M107.8 17.8h0M114 36.1h0M44.6 24.6h0M112.4 46.2h0M115.1 46.7h0M81.2 33.5h0M146.2 10.2h0M31.3 44h0M94.2 64.1h0"/>
<path stroke="#6a2468" stroke-opacity="0.75" stroke-width="2" stroke-linecap="round" d="M8.4 32h0M143.6 17.3h0M136.1 88.4h0M140.7 2.6h0M100.4 110.8h0M107 99.3h0M109.6 16.3h0M92.8 112.9h0M6 111.5h0M24.4 5.7h0M139.3 85.6h0M84.8 93.7h0M142.1 50.4h0M90.8 41.4h0M42.1 21.6h0M64 104.1h0M83.2 48.5h0M151.1 53.9h0M4.7 103.1h0M90.8 51.5h0M51.5 102.5h0M31.6 41h0M120.9 107h0M34.1 53.4h0M62.1 112.6h0M41.5 104.8h0M26.3 12.1h0M101.1 53.1h0M68.1 75h0M31.5 105.1h0M46.3 13.9h0M61.1 89.4h0M15.3 116.6h0M139.7 89.2h0M106.1 78h0M11.5 18.5h0M119.2 38.5h0M70.3 68.5h0M22.3 113.7h0M50.5 106.3h0M75.4 53.2h0M135.8 13.9h0M141.2 1.1h0M119.6 117.4h0M31.7 2.7h0M104.1 69.7h0M28.4 17.8h0M13.2 10.6h0M115.3 96.9h0M131.6 95.6h0M107.5 42.4h0M101.1 108.9h0M51 50.6h0M130.3 53.4h0M71.3 94.7h0M79.6 74.4h0M32.2 13.7h0M87 78.8h0M69.4 49.8h0M60.2 115.4h0M30 2.2h0M52.2 27.2h0M38.3 44.5h0M154.8 112.4h0M22 31.3h0M26.8 20.4h0M87.1 114.6h0M80 50.2h0M38.1 24.5h0M16.6 20.5h0M111.4 28.8h0M107.2 74.5h0M63.1 51.6h0M130.1 41.9h0M68.1 65.1h0M105.4 44h0M146 115.8h0M109.4 46.5h0M113.6 90.1h0M70.7 97.6h0M108.9 85h0M3.2 69.6h0M29.4 57.1h0M110.7 54.8h0M43.2 3.7h0M119.7 42.8h0M79.1 14.4h0M148.1 46.1h0M16.5 14.5h0M91.8 8.3h0M81.7 46.7h0M152.6 86.2h0M61.8 111.6h0M61.2 46.4h0M89.9 68.2h0M45.1 27.5h0M64 25.1h0M81.6 35h0M100.5 73.7h0M131.3 49.9h0M79.6 58.1h0M67.3 97.1h0M61.7 14.2h0M82.2 45h0M.2 71.5h0M24.5 9.8h0M62.6 .3h0M71.2 25.6h0M91.2 58.6h0M73.8 70.1h0M77.9 89.3h0M2.7 33.2h0M17 25.3h0M77.5 110.2h0M122 77h0M1.7 103.2h0M87.4 55.3h0M117.8 43.5h0M61.7 106.9h0M136.8 32.1h0M35.5 21.9h0M20.4 12.9h0M81.9 58.9h0M70.8 101.4h0M5.7 43.8h0M108.9 41.7h0M72 118h0M145.9 99.4h0M139.6 44h0M44 109.8h0M59.8 49.9h0M17.7 99.7h0M4.8 112h0M79.2 116.8h0M108.7 23.8h0M75.7 17.7h0M9.4 8.6h0M71.3 103.9h0M137.5 53.5h0M3.1 66.6h0M93.1 53h0M152.3 46.2h0M44.7 103.9h0M19 115.8h0M26.5 41.3h0M60.7 16.6h0M75.6 61.5h0M15.7 30.6h0M43.6 11.2h0M43.2 31.3h0M101.5 60.2h0M48.7 115.6h0M47 21.6h0M2.2 97.1h0M5.4 13.8h0M153.3 18.8h0M21.7 32.7h0M127.1 111.6h0M67.2 89.2h0M43.7 4.4h0M71.6 12.7h0M53.8 45.4h0M88.9 46.8h0"/>
<path stroke="#6a2a72" stroke-opacity="0.75" stroke-width="1.2" stroke-linecap="round" d="M84 18h0M102.4 86.5h0M129.7 24.2h0M129.6 67.5h0M101.3 43.9h0M148.1 23.9h0M121.3 19.2h0M82.1 107.6h0M149.9 49.4h0M111.6 57.4h0M117.4 68.5h0M149.5 21.4h0M144.5 26.7h0M117.9 59.9h0M80.4 87.8h0M86.9 16.5h0M133.3 107.7h0M83.8 10.1h0M62.9 40.1h0M86.9 86.6h0M133.7 32h0M75.9 61.1h0M135.9 105.5h0M99.2 20.3h0M130.5 13.7h0M124.8 61.7h0M90.6 25.5h0M121.5 63.5h0M96.7 30.8h0M144 65.8h0M101.3 31.6h0M129 24.1h0M126.8 68.7h0M99.6 17.1h0M83.5 3.9h0M132.4 .9h0M96.7 54.6h0M134.7 19.7h0M98.4 85.4h0M131.4 70.6h0M148.6 65.1h0M86.4 82.2h0M106.4 25.3h0M125.3 72.5h0M148.5 67.8h0M96.4 17.7h0M90.8 86.2h0M97.4 32.5h0M123.8 61.4h0M75.2 60.3h0M87.2 17.3h0M123.3 73.1h0M114.9 72.7h0M84.7 80.7h0M82.7 22.8h0M66.9 27.9h0M142.2 69.6h0M88.7 23.1h0M96.5 31h0M136.1 25.9h0M146 67.9h0M39.3 3.4h0M128.3 2.8h0M123.8 71.5h0M97.7 52h0M129.2 99.1h0M133.8 60.7h0M132.5 23.3h0M100 51.1h0M115.5 69.2h0M78.5 101.7h0M135.1 25.6h0M88.2 14h0M136.6 102.4h0M137.9 115.3h0M60.8 36.4h0M105.4 33h0M124.3 106h0M130.7 23.7h0M140.2 31.3h0M149.1 31.7h0M153.6 35.3h0M61 28.5h0M80.1 1.5h0M87.5 86.2h0M123.7 67.4h0M72.2 110.6h0M129.4 0h0M149.3 21h0M93.6 14.5h0M77.7 2.7h0M120.9 62.4h0M62.5 22.7h0M120.1 20.9h0M92.1 24.8h0M151.1 26.6h0M88 13.9h0M124.3 21.6h0M136.8 115.3h0M73.9 1.7h0M112.7 69.3h0M90 88.6h0M123.9 65.4h0M112.9 59.3h0M114.6 60.7h0M90.6 94.2h0M105.1 49.2h0M103.2 47.7h0M133.4 110.2h0M87.9 98.2h0M149.3 69.5h0M87.8 16h0M143.9 20.6h0M86.2 16.3h0M84.9 91.7h0M134.6 108h0M121.2 16.3h0M92.6 22.7h0M129.1 108.6h0M105.3 30.5h0M116.2 63.7h0M114.4 53.3h0M78.9 7.2h0"/>
<path stroke="#6a2a72" stroke-opacity="0.75" stroke-width="1.6" stroke-linecap="round" d="M106.7 51.1h0M137.5 24.3h0M85.2 18h0M114.7 66.2h0M49.3 27.7h0M96.8 113.1h0M141.5 76.2h0M104.1 50.4h0M155.3 32h0M80.1 85.8h0M82.2 89.7h0M139.4 32.1h0M152.8 23.8h0M134.7 29.2h0M108.9 .8h0M144.2 71.9h0M106.1 46.3h0M150.4 25.8h0M126.8 56h0M62.4 36.8h0M117.9 21h0M150.3 37.2h0M127.8 99.2h0M78.2 1.3h0M88.6 93.5h0M88.4 85.6h0M85.4 77.3h0M152.7 27.3h0M143.1 73.2h0M59.2 39.5h0M150.8 23.7h0M105.6 50.1h0M154.3 40.7h0M136.9 106.7h0M71.2 105.1h0M85.5 17.8h0M120.6 61.2h0M124.3 18.2h0M36.4 .9h0M62.3 35.9h0M149.1 27.6h0M146.9 31.1h0M134.1 14.5h0M134.4 97.1h0M78 2.1h0M66 38.2h0M81.1 101.6h0M126.1 61.6h0M80.8 87.9h0M59.8 28.2h0M137.8 16.2h0M53.4 14.7h0M135.4 65h0M131.3 100.6h0M135.2 24.9h0M120.1 65.4h0M143.2 71.3h0M138.9 101.5h0M95.7 112h0M104.5 37.3h0M24.8 41.9h0M83.2 18h0M133.7 14.4h0M151.6 34.4h0M88.5 13.3h0M111.9 67.8h0M155.3 27.4h0M95.9 23.8h0M94.1 91h0M141 32.1h0M82.7 11.2h0M96.9 85h0M65.3 38.2h0M81.4 7.8h0M152.6 73.6h0M121.7 94.6h0M152.6 71.3h0M119.5 16.6h0M107.4 91.9h0M131 95.7h0M130.6 1.3h0M63.1 21.5h0M144.9 70h0M141.1 24.9h0M133.2 2.5h0M140.4 19.8h0M150.2 77.5h0M134 14.7h0M152.2 32.2h0M82.4 5h0M61.9 37.4h0M92.3 83.2h0M119.4 12.9h0M117 19.2h0M126.5 97.9h0M101.9 31h0M94.4 80.1h0M126.1 70.7h0M151.5 72.9h0M153.6 24.4h0M61.1 31.6h0M152.5 25.9h0M76.5 99.6h0M61.1 20.5h0M72.7 100.8h0M128.2 4.1h0M151.8 30h0M113.6 63.7h0M125.9 99.4h0M88.3 11.3h0M70.4 18h0M132.9 106.6h0M137.6 34.6h0M84.5 78.2h0M130 5.6h0M77.5 98.7h0M144.6 18.5h0M55.9 35.1h0M150.5 26.6h0M126 14.7h0M91.3 78.7h0M36.9 114.9h0M124.2 56.6h0M119.1 68.9h0M145 27.3h0M86.4 90.3h0M137.2 29.6h0M141.9 98h0M39 29.8h0M132.4 63.8h0M152.3 20.4h0M131.8 22.9h0M146.3 28.8h0M154.7 66.8h0M103 24h0M134.8 24.5h0M123.2 21.6h0"/>
<path stroke="#4a1a58" stroke-opacity="0.7" stroke-width="1.2" stroke-linecap="round" d="M52.4 87.1h0M48 95.3h0M7.7 66.1h0M31.4 79.9h0M9 76.4h0M15.6 68.8h0M17.8 93.8h0M31.5 62.9h0M20.2 86.5h0M6.2 65.8h0M53.6 81.2h0M10.7 69.9h0M38.9 78.8h0M51.4 84h0M37.4 70h0M53.8 79h0M17.7 87.2h0M36.7 74h0M38.4 79.7h0M10.1 88.5h0M28.4 89.3h0M29 78.6h0M41 81.9h0M48.7 74.9h0M43.8 59.6h0M28.6 91.6h0M46.3 88.6h0M23.6 85h0M35.3 66.6h0M20.5 67.4h0M22.2 69.7h0M5.6 85.2h0M56.8 80.8h0M45.7 92.7h0M15.4 68.3h0M24.2 94.4h0M4.3 74.6h0M45.2 96.2h0M15.1 74.6h0M22.4 83h0M56.4 69.5h0M28.5 99.8h0M10.6 87.4h0M48.7 78.2h0M34.4 97.3h0M59.2 86.3h0M34.4 98.6h0M18 76.2h0M18.5 60.7h0M57.3 77.7h0M47.4 92.8h0M17.4 92.9h0M6 76.8h0M17.5 95.3h0M12.1 73.7h0M47.9 68.2h0M40.4 89.6h0M26.9 84.9h0M44.9 64.1h0M42.5 95.9h0M59 74h0M44.2 57.9h0M10.4 62h0M38.3 80.5h0M45.1 64h0M52 73.4h0M38.6 91.2h0M46.9 62.8h0M39.3 80.1h0M33.4 97.9h0M35.8 76h0M57.3 86.4h0M17.7 87.9h0M61.2 83.1h0M9.2 72.7h0M55.2 76.3h0M52.4 77.9h0M8.3 65.7h0M57.7 81h0M11.6 77.1h0M44.4 87h0M48.7 60.3h0M5.4 69.8h0M52.9 72.6h0M38.1 64.5h0M41.3 74.5h0M12.6 77.1h0M46.1 94.6h0M19 66.2h0M18.6 96.4h0M50.3 75.9h0M42.7 65h0M13.6 72.2h0M34.1 96.7h0M51.8 76.2h0M30.1 79.3h0M12.2 56.6h0M41.3 93.1h0M14.6 66.6h0M25.9 60.1h0M19 83.3h0M18.5 90.7h0M9.8 92.7h0M14.6 91.8h0M14.6 91h0M8.1 84.7h0M50.8 69.4h0M25.8 62h0M44 85.9h0M36.4 70.2h0M41.4 84.9h0M30.8 68.4h0M5.3 87.2h0M57.2 68h0M41.3 69.6h0M17.8 68.6h0M8.1 71h0M16.1 75.7h0M31.7 67.1h0M41.3 67.1h0M54.6 72.3h0M37.9 67.7h0M46.9 64.8h0M17.9 73.2h0M13 76.6h0M15.4 73.6h0M26 85.7h0M20.4 95.2h0M11.7 68.1h0M51.9 71.9h0M32.1 77.5h0M18.5 87.5h0M13.8 57.9h0M12.3 78.4h0M30.6 72.4h0M41.7 78.3h0M38.8 80.4h0M55.6 89.9h0M15.3 94.5h0M34.2 74.5h0M27.8 82.2h0M39.3 75.7h0M24.3 69h0M34 87.6h0M56.7 84.2h0M12.4 88.6h0M18.4 97.4h0M45.8 85.3h0M32.9 90.7h0M16.8 70.7h0M21.5 98.8h0M58 74.6h0M36.9 65.2h0M32.5 95.5h0M34.5 77.5h0M54.1 73.9h0M35.2 67.6h0M47.4 67.1h0M8.9 61.5h0M17.2 66.3h0M46.1 59.3h0M24.7 96.4h0M48.3 76.7h0M60.2 78.9h0M8.6 75.8h0M50.2 89.9h0M20.4 67.3h0M19.3 77.7h0M26 64.8h0M30.9 86.5h0M52.5 80.2h0M27.8 63.8h0M21 62.1h0M36.5 89.7h0M35.6 87.1h0M43.9 83.9h0M44.2 77.4h0M27 62.3h0M16.3 89.9h0M41.4 75.8h0M23.4 58.3h0M39.3 62.3h0M54.6 74h0M49.7 82.5h0M8 80.2h0M12.3 84.4h0M19.9 69.8h0M26.3 64.3h0M47.6 88.1h0M31.6 74h0M17 72.1h0M4.3 80.7h0M25.4 82.4h0M32.6 73.7h0M56.1 68h0M9.4 60.1h0M15.2 96.6h0M42.7 59.5h0M7.4 73.8h0M5.6 89.2h0M18.1 65.3h0M38.9 100.1h0M17.5 55.3h0M42.4 73.8h0M15.2 69.9h0M14.4 95h0M24.9 94h0M47.1 58.3h0M20.9 70.5h0M51.9 81.8h0M20.1 89.1h0M43.5 78.4h0M28.6 69.7h0M12.7 66.4h0M48.7 71.2h0M24.4 90.7h0M5.8 82.1h0M35.3 79.8h0M20 95.3h0M10.8 90.7h0M25.1 70.2h0M27.6 77.6h0M15.3 91.5h0M53.2 69.9h0M45.4 66h0M27 60.1h0M9.5 70.4h0M14.2 56.7h0M39.8 91.1h0M12.6 59h0M10.4 65.7h0M8.2 78.1h0M53.3 89.4h0M49.3 67h0M49 73.9h0M22.9 85.2h0M5.7 76.3h0M7 69.9h0M5.8 79.7h0M11.1 67.7h0M47.8 91.9h0M47.1 64.3h0M16.5 65.7h0M26.4 92.9h0M39.9 69.6h0M6.3 66.7h0M48.2 57.6h0M10 82.7h0M42.9 94.6h0M24.5 96.9h0M34.9 98h0M25.2 80.2h0M38.4 85.3h0M27.4 80.5h0M47.4 57.3h0M11.3 69.8h0M50.2 72.5h0M12.7 85.1h0M38 80.9h0M26.5 99.6h0M42.6 59.8h0M39.7 67.9h0M23.8 60.2h0M33.4 62.5h0M25.7 94.5h0M43.9 58.5h0M44.5 76h0M48.7 87h0M34.6 62.9h0M44.5 82.9h0M35.2 99h0M46.5 96.9h0M18.9 63.9h0M43.4 75.1h0M45 96.4h0M17.4 60.4h0M25.9 63.6h0M31.6 96.4h0M52.6 63.1h0M45.3 87.4h0M55.7 69.5h0M59.8 86.4h0M27.9 64.5h0M19.4 90.1h0M6.6 77.4h0M34.3 82h0M15.3 97.2h0M51.5 67.2h0M24.6 92.3h0M52 75.5h0M56.5 86.2h0M56.8 90.3h0M34.3 63.1h0M40.9 88.1h0M29.1 77.7h0M6.7 85h0M40.4 78.3h0M29.9 90.6h0M38.9 94.8h0M31.6 69.4h0M30.1 64.6h0M31 87.5h0M5 75.8h0M13.2 56.4h0M43.9 95h0M32.3 79.5h0M55.1 89.2h0M55.8 73.1h0M31.2 83.2h0M16.1 77.3h0M43.6 77.7h0M41.8 71.2h0M24 69.7h0M58.2 89.8h0M7.3 67.2h0M12.7 69.6h0M57.2 76.6h0M35.6 64.6h0M51.5 75.5h0M54.7 68.8h0M17.6 66.6h0M11.4 90.4h0M22.8 58.7h0M38.8 64.4h0M25.9 64.6h0M54.2 63.8h0M8.6 88.3h0M28.5 94.4h0M38.8 63.2h0M47.9 60.8h0M26.6 61.7h0M52.4 62.6h0"/>
<path stroke="#4a1a58" stroke-opacity="0.7" stroke-width="1.6" stroke-linecap="round" d="M44 96.1h0M8 78.3h0M6.8 68.4h0M15.3 81.6h0M38.2 65.8h0M12.3 86.3h0M39.4 86.6h0M19.9 81.7h0M43.3 89.4h0M15.3 80h0M48.7 94.7h0M58.8 76.3h0M25.8 82.8h0M19.9 73.2h0M17.1 71.1h0M60.4 82.2h0M20.6 56h0M28.8 82.5h0M21.8 63.7h0M28.1 65.8h0M11.5 92.3h0M51.1 81.2h0M57.4 85.7h0M16.4 66.3h0M43.7 74.6h0M17.2 72.3h0M26.8 88.8h0M20.7 58.6h0M19.6 66.7h0M50.8 64.3h0M50.1 91h0M19.6 60.2h0M32.3 85.2h0M15.7 75.7h0M21.4 87.2h0M15.5 55.7h0M49.8 73.1h0M28.1 87.9h0M32.9 83h0M21.6 85h0M11.7 88h0M9.8 82.5h0M46.3 96.3h0M16 85h0M59.9 74h0M28.6 94.5h0M57.4 83.9h0M56.2 80.6h0M28.3 71.2h0M42.2 90.4h0M36.2 64.4h0M48.5 86.2h0M18.7 80.2h0M32.9 85.3h0M21.8 97.6h0M27.4 85.2h0M8.9 77.8h0M49.1 91.7h0M19.7 98h0M36 90.7h0M21.7 90h0M12.9 74.8h0M45.5 79.5h0M48.5 70.4h0M29.7 87.7h0M35.6 78.1h0M41.2 70.8h0M57.2 91.3h0M37.6 70h0M31.3 76.6h0M43.4 64.3h0M44.2 61.5h0M54.2 71.9h0M19.5 79.5h0M27 93.9h0M50.9 89.7h0M31.7 72.5h0M55.1 74.8h0M15 64.1h0M55.8 83.1h0M24.8 77.6h0M24.4 74.9h0M16.5 97.1h0M5.9 84.3h0M40.4 65.2h0M15.2 83.6h0M15.3 61.3h0M7.4 75.1h0M16.5 78.7h0M10.2 84.1h0M30.1 82.4h0M12 79.6h0M21.5 58.4h0M22.8 65.2h0M24.5 75.9h0M30.7 65.2h0M43.6 72.2h0M8.8 62.7h0M46.2 95.5h0M30.1 83.5h0M56.5 70.5h0M13.3 64.9h0M46.3 62.1h0M23.4 67.9h0M39.5 72.8h0M47 72.4h0M24.7 68.4h0M34.3 66.5h0M23.7 91.2h0M10.9 74.1h0M25.2 83.1h0M21.9 73.9h0M27.9 68.2h0M32.7 92.4h0M41.5 63.8h0M5.9 75h0M57.5 79.3h0M14.9 81.6h0M40 91.8h0M10.8 77.6h0M29.3 67.8h0M33.9 68.9h0M52.1 67.3h0M6.1 86.9h0M52.8 90.4h0M40.8 97.9h0M9.4 81.1h0M51.3 95h0M8.3 90.2h0M15.9 89.3h0M35 76.1h0M52.7 65.6h0M20.5 96.2h0M35.8 87.6h0M40.3 72.3h0M19.3 75.1h0M7 78.1h0M42.5 70.9h0M8.3 79.9h0M22.4 66.6h0M22.3 57.7h0M18.7 56.1h0M17.2 85.4h0M16.3 94.9h0M24.3 59.2h0M27.7 68.6h0M26.5 85h0M51.5 77.5h0M46.4 77.4h0M37.1 66.9h0M57.9 75.2h0M38 89.8h0M35.4 84h0M59.2 75.3h0M44 71.9h0M9.6 63.9h0M10.3 88.3h0M14.2 73h0M30.7 97.8h0M24.5 97.1h0M23.5 58.6h0M21.7 93h0M18.6 81.2h0M45.8 81.3h0M36.5 67.1h0M37.9 88.7h0M45.2 90.6h0M24.5 60.7h0M48.6 79.5h0M25.5 77.3h0M31.5 89.2h0M30.4 97h0M50.4 93.9h0M29.9 77.2h0M36.1 89h0M29.3 92.3h0M17.9 97.4h0M36.9 63.4h0M29.5 80.1h0M44.7 65.4h0M20.5 83.5h0M27.2 86.1h0M25.5 99.2h0M12.9 71.4h0M39.2 96.7h0M57.4 76.4h0M29.2 83.6h0M41.1 70.3h0M39.6 78.3h0M44.8 96.9h0M19.7 82.5h0M22.3 78.8h0M32.2 98.4h0M54.1 70.1h0M60.3 83.3h0M8.5 82.8h0M39.8 64.2h0M20.6 69.4h0M14.6 87.5h0M20.8 78.9h0M35.5 64.9h0M11.3 65.7h0M19.1 96.5h0M15 90.2h0M44.9 93.8h0M21.6 83.6h0M19.4 69.1h0M54.4 83.3h0M42.1 82h0M23.6 72.4h0M44.4 67.6h0M10.6 89.6h0M33.9 89.1h0M42.4 99h0M39.5 71h0M28.6 74.5h0M44.6 84.5h0M11.9 58.3h0M55.6 77.8h0M37.6 68.2h0M32.4 92.1h0M56.1 78.5h0M19.6 78.6h0M15.2 71.1h0M34.3 78.5h0M36.7 89.3h0M43.8 92.9h0M19.1 70.4h0M20.5 76.9h0M35.9 82.6h0M27.8 62.7h0M10.8 59.8h0M33.4 96.3h0M40.1 87.9h0M13.5 83.2h0M13.1 93h0M54.2 93.2h0M22.5 71.2h0M43.1 61.4h0M14.8 77.1h0M17.2 67.6h0M9.2 93.9h0M18.4 70.3h0M44.3 74.5h0M51.5 82.4h0M25.7 99.4h0M15.5 80.6h0M21.6 88.2h0M28.1 71h0M9.5 94h0M13.8 55.9h0M42.6 71.3h0M57.8 71.7h0M10.3 63.1h0M54 76.5h0M43.7 78.7h0M18.1 66.7h0M11.9 59.3h0M7.1 81.8h0M40.6 84.4h0M16.7 57.6h0M9.6 79.1h0M35.7 97.6h0M57.7 87.4h0M58 79.1h0M20.6 69.7h0M26.7 64.3h0M5.6 73.2h0"/>
</g>
<clipPath id="q3"><rect x="0" y="0" width="155" height="119"/></clipPath>
<g transform="translate(430,210.6)" clip-path="url(#q3)">
<rect width="157" height="121" fill="#d5e7db"/>
<path fill="#c75b96" fill-rule="evenodd" d="M102 113.5 101 113 99.5 113 98.5 115 99 117.5 100 117.5 100.5 115.5zM28 0 29 2 30 1.5 30 0zM0 4.5 0 5.5 2 6 4 8 4 10 2.5 11.5 0 12 0 14 1.5 14 3 15 4 15 3.5 13.5 4 12 6 10 7 10 12 14.5 13.5 14.5 14 14 17 14.5 18 14 19 15.5 21.5 15.5 23.5 18 21.5 20.5 18.5 21 16.5 22 13.5 22 13 21.5 13.5 23 16 25.5 15.5 28 13.5 30 13 33.5 12.5 34 12.5 35 15 38 15 40 12.5 41.5 9.5 41.5 8.5 40.5 7.5 40.5 6 39.5 4 41 0 41.5 0 46 .5 46 2.5 48.5 2 50 0 51.5 0 53 1.5 53.5 3.5 55.5 4 58 5 59.5 4 62 2 64 0 64.5 0 66 2.5 67 3.5 68.5 3.5 70 3 70.5 0 71 0 73 2.5 73 4 74.5 2.5 76.5 0 76 0 84 9 88 11.5 90 22.5 96.5 29.5 103.5 33.5 111 35 117.5 36 119 45 119 47.5 116.5 49 116.5 50.5 119 51 119 51 118 50 116.5 50 114 50.5 113.5 53.5 114 56.5 117 56.5 118 58 119 58.5 116 61 113 63.5 113.5 65.5 115.5 68.5 115.5 71 116.5 72 117.5 72 119 73.5 119 73.5 118 75 116 77.5 116.5 78.5 118 78.5 119 80 119 81.5 116.5 84 116.5 85 117 86.5 119 91 119 93.5 116.5 93 115 90 117.5 88.5 117.5 86 115.5 83 115 82 113 83 110.5 84.5 110.5 86.5 111.5 87 111 91 111 91.5 111.5 90 104.5 88.5 104.5 85.5 102 87 100 88.5 99.5 89 100 88 93.5 87 91 89.5 89.5 90.5 89.5 92 91 93 90.5 95.5 90.5 96 90 98.5 90 97.5 89 97.5 88 98.5 87 101.5 86 103.5 87 103 88.5 101 90.5 102.5 92.5 104.5 90.5 106 90.5 108 93 108 94.5 105.5 96.5 106.5 97.5 109 97 109.5 96 109.5 93.5 107 90 107 88.5 109 87 113 88 114.5 89.5 115 93 116.5 94.5 116.5 96 115 98 114 98.5 111 97.5 111 99 112 99 114 100.5 113.5 104 112.5 105 111 105 109.5 103.5 107.5 103.5 106 109 104 113.5 106 116 106.5 119 109.5 119 109.5 118 112 115.5 113.5 115 115 116 115 119 117 119 117.5 116 119 115 119 113 118 112.5 117 111 117 109.5 118.5 108 118.5 106 118 106.5 116 106.5 115.5 106 116 102.5 116.5 102 118 102 118 100.5 117.5 100 118 95.5 117.5 95 117.5 93.5 116.5 92.5 116.5 90.5 118 89.5 120.5 90.5 122 90 124.5 90 125 90.5 127 90 125.5 88 126 87 127.5 86 130 86.5 131.5 88.5 131.5 90 132.5 90.5 132.5 87.5 133.5 86 136 86 137.5 87.5 137.5 89.5 136.5 91.5 137.5 92 139 89.5 140.5 89.5 143.5 92.5 143.5 95.5 144 95.5 145 97 145 98.5 144 99.5 144 103 146 101 147.5 101 149 102.5 149 104.5 147.5 105.5 145.5 105 144.5 104 144.5 107 147 108.5 146.5 110.5 145 111.5 145 113.5 146 111.5 148 111.5 149.5 113 149.5 114.5 146.5 117 145.5 117 145.5 119 148.5 119 151 116.5 152.5 116.5 155 118 155 117 152.5 116 151 113.5 152.5 112 155 111 155 106 152.5 105 151 103 152.5 101.5 155 101.5 155 99.5 154 99.5 153 98.5 153 96.5 154 95 155 95 155 93 153.5 93 153 92.5 152 89.5 154 87 155 87 155 81 153 80.5 150.5 78 150 75.5 148.5 74.5 148 73 149 70 150.5 68.5 152.5 68.5 154 69.5 155 69.5 155 67 152 66.5 150.5 65.5 150.5 62.5 151 61.5 152.5 60.5 155 60 155 59.5 152.5 59 151 57.5 151 54.5 152.5 53 155 53 155 52.5 151.5 49.5 151 48 152 47 155 46.5 155 44.5 152.5 45 151 44 150.5 42.5 151.5 41 155 40.5 155 38.5 151 38.5 150 37.5 150 36.5 151.5 35 153.5 34 155 34 155 32 154 32 152 30 152 28 153.5 27 155 27.5 155 9.5 150.5 7 141.5 0 114 0 118.5 4.5 121 8 123 12 124 15.5 124 17.5 124.5 18 124 27 120.5 35 113.5 42.5 104.5 47.5 101.5 48.5 99.5 48.5 99 49 96.5 49 96 49.5 88.5 49.5 88 49 85 49 84.5 48.5 81 48 76 45.5 75 45.5 70.5 42.5 63.5 35 60 27 59.5 18 60 17.5 60 15.5 61 12 64 6.5 70 0 60.5 0 59 1.5 58.5 1.5 57.5 0 54.5 0 51.5 3 50 3 49 2 48.5 0 48 0 48.5 2.5 46.5 5 44 3 43 0 40.5 0 42 3.5 40.5 5.5 39 6 38 5.5 36.5 3.5 37 3 37 0 36.5 0 36.5 3.5 33.5 7 34 10 33.5 11.5 32 12.5 30.5 12.5 28.5 11 28.5 10 30.5 7 30.5 5.5 30 5 28.5 5 26.5 8.5 24.5 8 23.5 7 23 4.5 22 3.5 20.5 0 19.5 0 19 3 16 5 14.5 3.5 15 0 13 0 12.5 2.5 11.5 3.5 9.5 3 8 0 6 0 6.5 3.5 5 5.5 3 6zM46.5 112 47 112.5 47 114 45 116 43 116.5 42 114.5 42.5 113.5 44.5 112zM108 111.5 109 111.5 110.5 112.5 110.5 114.5 108.5 116.5 108 116.5 106 114 106 113zM77.5 110.5 79.5 110.5 80 111 80.5 114 79.5 115.5 77.5 115.5 76 113.5zM72.5 110.5 73.5 111 74.5 112.5 73 115 71 114.5 69.5 113 71 111zM113.5 109 115 109 116.5 110.5 117 112.5 115.5 114.5 114 114.5 112 112.5 112 111zM54.5 109 57 109 59.5 111 57 114 55.5 113.5 53.5 111.5 53.5 110zM63 109 65.5 108.5 67.5 110.5 68 111.5 66.5 114 64.5 113.5 62 111.5 62 110zM37.5 107.5 38 107 41 107 43.5 108 44.5 109.5 42 111.5 40.5 112 40 113zM149 109.5 149 107.5 150 106 152 106 155 108.5 152 110.5 150 110.5zM75 106 77 106 78 107 78 110 77.5 110.5 75.5 110.5 74 109.5 73.5 107.5zM108 105 109.5 105 112 106.5 112 107.5 110.5 109.5 108 109.5 107 108.5 106.5 106.5zM68.5 105 71.5 107.5 70 109.5 68.5 109.5 67 108 67 106.5zM49.5 105 51 105.5 53 107.5 52.5 110 50 112 45 109 47 108zM83 107 84 105 86.5 104.5 89 106.5 89.5 108 88 109.5 85.5 109.5 84.5 109zM58 103 59 103 60 104.5 60 106 60.5 106.5 59.5 108 57 107.5 55.5 106.5 55.5 105.5zM79.5 101.5 82.5 102 83.5 104 83 106 81.5 108 80 108 78 106 77.5 104.5 78 102.5zM62.5 101.5 64.5 101.5 66 102.5 66 104 64 106.5 62.5 106.5 61 103.5zM43 101 45 101 47 103 46.5 105 45 106.5 43.5 106.5 41 105 41 103zM74 100 75 100.5 76 102 75 104.5 73 105.5 70.5 103.5 70.5 102zM37 98.5 39 98.5 40.5 99.5 40.5 101.5 38.5 103.5 37.5 103 35.5 100.5zM56 98.5 56.5 100 55.5 102 53 104.5 51.5 104.5 50.5 103.5 51.5 100.5 54 98zM62 95 64 95 65.5 97.5 65 100 63.5 101 61.5 101 59.5 99.5 60 97.5zM76 96.5 78 94.5 80 94.5 81.5 95.5 82.5 97.5 82.5 99 80.5 100.5 78 100.5 76 98.5 75.5 97.5zM32.5 94.5 34.5 94.5 35.5 95.5 36 97.5 34.5 100 34 100 31 96.5zM147.5 94.5 149.5 94 151.5 95.5 152 97.5 150.5 100 148.5 100 147 98.5 146.5 96zM83.5 95.5 84.5 94 87 94 88 95.5 88 97 86 98.5 84.5 98.5 83.5 97zM70.5 94 73 96.5 73 98 71 100 68.5 101 67 99 67 96.5 68.5 94.5zM55.5 92 57 92 59 94 59 95 56.5 98 54.5 97.5 53 95.5 53.5 93.5zM37 94 39.5 92 40.5 92 43 94 43.5 96.5 42 97.5 40 97.5 37 95zM49.5 90 52 92 51.5 97 50.5 97.5 50 99 47 101.5 44.5 99.5 44 97 45 96 45 94 48 90.5zM149.5 88 150.5 89 151 91 149.5 93 148 93.5 146 92 146 90.5 147.5 88.5zM31.5 88 33 91.5 31 94 29.5 94.5 27.5 92.5 25 91 28.5 90 29.5 88.5zM65 87.5 67 89 68 92 66 93.5 65 93.5 63.5 91.5 63.5 89.5zM59.5 87.5 61.5 89 62 90.5 60.5 93 58 91 57.5 90 57.5 88.5zM34.5 87 36.5 87.5 38 89 38 90 35.5 92 34.5 91.5 33.5 89.5 33.5 88zM53 85.5 55 85.5 56.5 87 56.5 88.5 54 90.5 52.5 90.5 51 88.5 51.5 87zM42.5 85.5 44.5 87 45.5 89 45.5 90 44 92 42.5 92 40 90 40.5 87zM144 85 145.5 85 146.5 86.5 146.5 88 145 90 143 89.5 141.5 87.5 141.5 87zM93 85 94.5 85 96 86.5 96 88 94.5 89.5 93 89.5 92 88.5 92 87 91.5 86.5zM116 86.5 116.5 85.5 118.5 84 120.5 84 123.5 86 123 88 121 89 118.5 89 117.5 88.5zM27 84 28.5 85.5 28.5 87 27 88.5 25.5 89 24.5 88 24.5 86 26 84zM49.5 83.5 50.5 84.5 50.5 86.5 47.5 89 45.5 87.5 45 85 46.5 84zM22.5 83.5 23 84 23 86.5 21 88 19 86 19 85 21 83.5zM147.5 85 147.5 84.5 151 81.5 153.5 81.5 155 83 151 86.5 150 86.5zM142 81.5 143.5 83.5 141.5 85.5 139 86 138 85 138 83 139.5 81.5zM35.5 82.5 36.5 81.5 38.5 81.5 40.5 83.5 40.5 84.5 39.5 85.5 37 85.5 35.5 84.5zM95.5 82.5 97 81 98 81 100.5 83.5 99.5 84.5 97.5 85 95.5 83.5zM11.5 81.5 13 80.5 15.5 82.5 15.5 83.5 14.5 84zM128.5 79 130 79 131.5 81 131.5 83 131 84 129.5 85 127.5 85 126 83.5 126.5 80.5zM121.5 79 124 80.5 124 83 123 84 120.5 83.5 119 82 119 81zM30.5 79 32.5 80 33.5 81.5 32 85 31 85 29.5 83.5 28.5 81 29 80zM89.5 79 91 78.5 93.5 81.5 92 83 90.5 83 89 80.5zM84 78.5 85.5 78.5 86.5 79.5 88.5 84 89.5 84 90.5 85 91 86.5 90 87.5 87 88 83 85.5 82.5 81zM20 78.5 21 79.5 21 80.5 19.5 82 18 82.5 16.5 81.5 16.5 80zM78 77.5 80.5 78.5 81.5 79.5 81.5 81.5 81 82 81.5 85.5 78.5 88.5 76.5 88.5 75 87.5 74.5 88 74.5 89.5 79.5 90 81 89.5 83.5 87.5 85 89 85.5 91 84 94 82.5 94 80.5 93 78.5 93 77.5 94.5 75.5 95.5 70.5 91.5 70.5 90.5 68.5 88 67.5 85 68.5 84 70.5 84 72.5 85 75 84 76 81.5 75.5 80 76 79zM71 77.5 73 78 74.5 80.5 74 82 72 83.5 69.5 83 68.5 81.5 69 79zM48.5 77.5 50 79.5 49 81 45 82.5 43 81 43.5 79 46 77zM23.5 77.5 25 77 27.5 78 28.5 80 27 82 25 82.5 22.5 79.5zM116 76.5 117.5 76.5 119 78.5 118.5 80 117 81 114.5 79zM148 76 149 77 149.5 79 147 81.5 145.5 81.5 145 81 145 78 146.5 76zM62.5 76 64.5 75.5 67 76.5 68 77.5 68 80 66.5 82 64.5 81.5 62 79 62 76.5zM6.5 75 7.5 75.5 9 78.5 8 79.5 4.5 77 4.5 76.5zM97.5 74 99 75.5 98.5 77 96.5 79.5 95 79.5 93.5 78 93 76 94.5 74.5zM11.5 74 12.5 74 14.5 76.5 14.5 78.5 13 79.5 11 79 10 77.5 10.5 75zM80 73 81.5 72.5 83.5 73 84.5 74.5 84 76.5 82.5 77.5 79.5 76.5 78.5 75.5 78.5 74.5zM88.5 72 89.5 72 91.5 74 91.5 75.5 90 77.5 88.5 77.5 86 75.5 86 74zM74 71.5 75.5 73 76 75.5 73.5 77.5 71.5 77.5 70 75.5 70.5 74 73 71.5zM45.5 73.5 43 77.5 43.5 78.5 42 81 40.5 81 37 79.5 35.5 79.5 35 80 31.5 77.5 32.5 75 34.5 74 37.5 74.5 38.5 74 40.5 71.5 42 71 44 71.5zM47.5 71.5 48.5 70.5 49.5 70.5 51 72 52 75 54 78 55.5 78 58.5 80 60 80 60.5 81 62.5 82 64.5 84.5 63 86 61 86.5 58 85.5 56 84 54 84 51.5 81 51.5 78.5 51 77.5 49.5 77.5 47 75.5 47 74 46.5 73.5zM27 70 28 70 30 72.5 30 75.5 28 77 24.5 75.5 24.5 73.5zM69 69 70 70 70 71 68.5 73.5 67 74.5 65.5 74 64 72.5 64.5 71 67.5 69zM52 70 53.5 69 56.5 70 58.5 72.5 62 75.5 61.5 77 60 78 57.5 78 55.5 76.5 54.5 76.5 53.5 75.5 53.5 73.5 52 71.5zM96 66.5 97 67.5 97.5 70 96 72 94 72.5 91.5 70.5 91.5 69.5 94 66.5zM80.5 66 81.5 67.5 81 70 79 71.5 77 71.5 76 70.5 76.5 68 78 66.5zM100 66.5 102 66 104 68.5 103.5 71 104 70.5 106 70.5 105.5 68 107.5 65.5 108.5 65.5 110 66.5 111 72 111.5 70.5 111 69 112.5 66.5 115 66.5 118 69 117 73 115.5 75 112 78 112.5 80 116 83 116.5 84.5 115.5 86 114 86.5 112 85.5 110.5 85.5 110 86 108.5 85.5 107.5 86.5 105.5 86.5 104 84 105 82 103.5 82 103 82.5 101.5 82 101.5 81 100 78.5 100.5 78 100.5 76 99 71 99 68zM44.5 64.5 45.5 65 47.5 67.5 47.5 69 46.5 70 44 69.5 42.5 67.5 43 66zM89 64 91.5 64 93 65.5 90.5 69 89 69 87.5 67.5 87.5 65.5zM39.5 63.5 40.5 63.5 42 65 42 67 40.5 69 38.5 69 37.5 67.5 37.5 65.5zM73.5 62 76 62 79 64.5 78 66 75 68.5 73.5 68.5 71.5 66 71.5 64.5zM117 60 119 60 120.5 61.5 120.5 62.5 118 65.5 116.5 65 115.5 63.5 116 61zM101.5 62 104 60 106 60 108 61.5 108 63.5 107 65 103.5 65 102 63.5zM86.5 59.5 88 60.5 88.5 62 85.5 65.5 85.5 66.5 86.5 67.5 87.5 70.5 86.5 71.5 84 72 82.5 69 82.5 68 83.5 66.5 82 64 82 62 83.5 60zM98 58.5 99.5 58.5 101 60.5 101 62.5 99 65 97.5 65 95 63.5 95.5 60.5zM111.5 57 112.5 57 114.5 58.5 114.5 61 113.5 63.5 112.5 64.5 111 64.5 109 62 109 60.5zM90 56.5 91 56.5 93 59 93 61.5 92.5 62 91 62 89 60.5 88.5 59zM79 55 81 56 82 58.5 82 60 81 61.5 79 61.5 77 59 77.5 56zM75 55 76 56.5 75.5 58.5 73.5 61 72 61 70.5 59.5 70.5 58.5 73 55zM53.5 57 54.5 60 54 61 52.5 62 52 66 50.5 67.5 48.5 66 47.5 63.5 45.5 62.5 43.5 63 42 62 38.5 62 37.5 62.5 36.5 64 36.5 65.5 35.5 67 36.5 68.5 37 72.5 33.5 74 32 73.5 30.5 72 30.5 70.5 30 70 30.5 68.5 32 67 32.5 61.5 35 58 37.5 57.5 39 58.5 41.5 58.5 42.5 57.5 44.5 57 46 58.5 46.5 61 47.5 61 48 60.5 47.5 56.5 49 55 51 55zM101.5 56.5 102.5 55.5 105 54.5 107 54.5 108.5 55.5 108 57.5 105 59 103 58.5zM98.5 54.5 99.5 56 99 57 97 58.5 95.5 58.5 93.5 56.5 94 55zM83 55 83.5 54.5 87 54.5 88 55 88.5 56 87 57.5 84.5 58zM144.5 55 146 54 147.5 54.5 149.5 57 149 58 147.5 59 145 58.5 144 57zM125 54 127.5 56 129.5 56 132.5 54.5 135.5 54.5 137 55.5 139.5 54 142 54 143 55.5 143 57 142.5 57.5 147 59.5 147.5 60.5 149 61 150 62.5 148.5 65 147 65 147.5 69 146.5 70.5 146.5 74 144 75.5 143.5 78.5 142.5 79.5 141 79.5 139 78 137 79 138 80.5 137.5 81 137.5 82.5 135.5 84 134 84 133 82.5 133 80 134.5 79 129 77 128 78.5 125.5 79 124.5 78 124 76.5 124.5 75.5 123.5 75 123.5 73.5 123.5 75.5 123 76.5 121.5 77.5 120 77 118.5 75.5 118 74 121 70.5 123 72 123 70 121.5 70.5 119.5 68 119.5 66 122 62.5 121.5 58 122.5 57.5 122.5 56zM29.5 54 31 54.5 33 57 33 58 31.5 60 29.5 60 28.5 59.5 27.5 58 27.5 56zM61.5 54.5 59 56.5 57.5 57 56 56 56 55 58 53 60 53zM67 52.5 69 54.5 69.5 56 69 58 67.5 59.5 67 59 67.5 61.5 68.5 61.5 70.5 63 71 65.5 70.5 67 69 68.5 67.5 68.5 65.5 67 63 67.5 64 69 64 71 63 72 61 72 60 71.5 57 68 55 67.5 54 66.5 54 64.5 55.5 62 54.5 58 58 57 63 57 64.5 56.5 64 56 64 54.5 66 52.5zM16 52 17 52 18 53 19.5 57.5 21 56 22.5 55.5 25.5 57 26 58.5 25.5 60 23.5 61.5 22 61.5 22 63.5 27 62 28.5 61 30.5 62.5 30 66.5 27.5 68.5 24.5 68.5 21.5 67 21 67.5 21 69 22 69 23.5 70.5 22.5 73 22.5 75.5 22 76 19.5 76 17.5 77 16.5 76.5 15.5 75 15.5 74 17 73 11.5 73 9.5 74 7 74 5 71.5 7 69 6.5 68 5.5 68 4 67 4.5 65 6 63.5 5.5 63 5.5 60.5 5 60 4.5 56 9 54 9.5 54.5 13.5 54zM41.5 51 42.5 51.5 44 53.5 44 55 42.5 56.5 40.5 57 39 56 39 53.5 39.5 52.5zM109.5 52 111.5 50.5 114 50.5 115.5 51.5 116 53.5 117.5 54 121.5 54 122.5 55.5 122.5 56.5 121 59 118 58.5 116.5 57.5 115.5 57.5 114.5 56.5 112 56.5 109.5 54.5zM55 50 56.5 52 54 54.5 53 54.5 51.5 53 51.5 52 53.5 50zM124.5 51.5 125.5 50 127 49.5 131.5 51 132 52 130.5 53.5 127.5 54.5 126.5 54zM69 50.5 70.5 49.5 74.5 51.5 75 52.5 73.5 54 71 54 69.5 52.5zM45.5 49.5 47.5 49.5 49.5 51.5 49.5 53.5 48.5 54.5 46 54.5 45 53.5 44.5 50.5zM32.5 50 34.5 49.5 37 51.5 37 54 36 55.5 34 55.5 31.5 53 31.5 51zM22.5 49.5 24 49.5 27 52.5 27 53 24.5 55 22 54.5 20 52 20 51.5zM6.5 49 7.5 50.5 7.5 52.5 5.5 54 3.5 52 3.5 50.5 5 49zM149 48.5 150 48.5 151.5 50.5 151 52 149.5 53.5 147 52 147 50.5zM134.5 50 136 48 139 48 140.5 49 141 51 139 52.5 136.5 53 134.5 51.5zM60.5 48 63 48.5 64.5 50 62.5 52.5 60 51.5 59 50zM8.5 49.5 9.5 48 11 48 14 50 14 51.5 12 53.5 10.5 53.5 9.5 52.5zM120 45 121 47 123 49 123 50.5 121 52 118.5 52.5 117 51.5 116.5 50 117.5 47.5zM25 46 26.5 45 28 45.5 30.5 48 31 50 29.5 51 27.5 50 25 47.5zM61 44 62 43.5 65 46 65.5 47 65 47.5 62 46.5 61 45.5zM59 46 57.5 48.5 54 48 50.5 49 49 47.5 49 46 51 44.5 52.5 45 56 43.5 57.5 43.5zM44 42.5 46.5 42.5 48 44 48 46.5 46 48 44.5 48 43 46 43 44.5 42.5 44zM134 42 135.5 42 136.5 44 136.5 47 135.5 48.5 133.5 48 132 46 132 44.5zM31 42 33 42 35 43.5 35 45 33.5 47 32.5 47 30 44.5 30 43zM12.5 42 14 42 15.5 44 15.5 45.5 16 46 14.5 48.5 11.5 47.5 10 45.5 10.5 43.5zM19 41.5 21.5 42 23 43 22.5 46 19.5 48.5 18 48 17 44.5 17.5 43zM139.5 41 141.5 41 143 43 143 44.5 146.5 47.5 146.5 49 144.5 51.5 143 51.5 142 50.5 141.5 48 139.5 46.5 138 43.5zM125 41 126.5 43 123.5 46.5 121.5 44zM3 41.5 5.5 41 7.5 42 8.5 43.5 8.5 45 6.5 47 4.5 47 1.5 43.5zM57.5 39.5 58 39 60.5 42 60 42.5 58.5 42 57.5 40.5zM50 39 52 39 54.5 41 54.5 41.5 51.5 44 49 41.5 49 40zM144.5 38.5 146 38 148.5 39.5 149 40.5 149 43 148 45 145 44.5 143.5 42.5 143.5 39.5zM131 38 132.5 39 132.5 40.5 131 42 130.5 44.5 131.5 46 131.5 48 129 49 127 48 127 46.5 128.5 43 128.5 42 127.5 40.5 127.5 39 129.5 38zM27.5 37 29.5 39.5 29 41 26.5 43 24.5 43 23.5 42 23.5 39.5 26.5 37zM45 35 46 35 49 37 49 38.5 47 40.5 44.5 40.5 43.5 39 44 36.5zM135.5 33.5 137 33.5 140.5 36 141 38 139 40 137.5 40 137 40.5 135 39 134 35.5zM54 33 55 33.5 55.5 35.5 56.5 36.5 56 38 54 38 51.5 36zM143 31.5 144.5 31.5 146.5 34 146.5 36 145 38 143 37.5 141.5 36 141 34.5 141.5 33zM22.5 31 23 30.5 24.5 30.5 27 32.5 27 35 25.5 36 24.5 35.5 22.5 33.5zM147 30.5 149.5 30 151 31.5 151 33.5 149.5 35 148 35 147 34 146.5 31zM49 30 50.5 30 52.5 32 50.5 34.5 49.5 34.5 47.5 32.5zM42.5 29.5 44.5 30 46 31.5 46 32.5 44.5 34.5 43.5 34.5 42 33 41.5 31zM16.5 29.5 19 30 20.5 31.5 21 33.5 23 36 23 38.5 21 40 18 39 15.5 35.5 15.5 34.5 14 33 14.5 31.5zM141 26.5 142 27 143.5 29 143 31 140 32.5 138 32 137 31 138 28 139 27zM51.5 24.5 52.5 25 52.5 27.5 53 28 52.5 28.5 51 27.5 51 25zM135 24 136.5 26 136.5 27.5 132.5 34.5 129 36 128.5 34.5 130.5 31 131.5 26 133 24.5zM47.5 24 48 24 49.5 26 49 28 48 29 47 29 45 27.5 45.5 26zM18 23 19.5 23 22 25.5 22.5 26.5 22.5 28.5 22 29 20.5 29 17.5 27 16.5 25zM145 21 150.5 24.5 150.5 26 149 28 146.5 28.5 145 27.5 144 25 145 23 144.5 22zM24 21 26 21 27 22 27 25 28 26.5 27.5 24 28.5 23.5 30 21 31.5 21 32.5 22.5 33 22.5 35 20 36 20 38.5 21.5 43.5 21 44.5 22 44.5 24 41.5 27 40 27 37 25 37.5 25.5 38 29 39.5 30.5 40 33.5 41 34.5 42.5 38 41.5 40.5 41.5 42.5 40.5 43.5 41.5 45 42 47.5 40.5 49.5 38 50 36 48.5 35.5 47.5 36 47 36 45.5 37.5 43 36 41 33.5 40.5 31.5 39 31.5 37.5 32 37 35 36.5 36 35.5 36 33 35.5 32.5 36.5 31 33.5 31.5 34 34 32.5 35.5 31 36 30 35.5 29 34 30 32.5 29 30.5 28 30.5 24.5 27.5 24.5 25 23 23 23 22zM132 18 134.5 16.5 136.5 18.5 138.5 19.5 140.5 19.5 142.5 21.5 143 23.5 141.5 25 138.5 25.5 135 22.5 133 22.5 132.5 23 132 22.5zM45.5 17 46.5 16.5 49 16.5 51 19.5 51 20.5 49.5 22.5 47.5 22.5 44.5 20 44.5 18.5zM27 15 27.5 15 29 17 29 19 28 20 26.5 20 25 19 25 16.5zM131.5 14.5 132 14 132.5 14.5 132 15zM38 14.5 39.5 14 42 14.5 43 16 43 17.5 41 19.5 38.5 19 37 17.5 37 15.5zM131 14 131.5 13.5 132 14 131.5 14.5zM31.5 13.5 34 13.5 35 15 34.5 17.5 33 19 31.5 19 30 17 30 14.5zM20.5 12 23.5 10 25 10.5 26.5 12 26.5 13 24.5 14.5 22.5 14.5 20.5 13zM13 7 14.5 7 16 9.5 16.5 12.5 15.5 13.5 13 13 11 10.5 11.5 8zM37.5 6.5 39.5 8 40 10.5 39 12 37 12.5 35.5 11 35.5 8.5 36 7.5zM41 8.5 42 7 44 6 45 6.5 47.5 6.5 48.5 6 51.5 7 54 9.5 54 11 53 12 48.5 8 47.5 8.5 47.5 11 48.5 11.5 50.5 14 50.5 15 49 16.5 48 16.5 44.5 15 43 13 41.5 12 41 11zM20.5 4.5 22 6 22 8 19.5 10 18 8.5 17.5 6 19 4.5zM9.5 3.5 11.5 5 12 6.5 11 8 8.5 9 6.5 7.5 6.5 5.5 8 4zM56 2 57.5 4 55 7 54 6.5 52.5 4.5 54.5 2.5z"/>
<path fill="#c24e8e" fill-rule="evenodd" d="M55.5 8 53.5 14.5 53.5 17 53 17.5 53 24.5 53.5 25 54 29.5 57 37 61.5 43 67 48 71.5 51 80 54.5 84 55 84.5 55.5 87 55.5 87.5 56 96 56 96.5 55.5 100 55.5 108.5 53 116.5 48.5 122.5 43 127 37 130 29.5 130.5 25 131 24.5 131 17.5 130.5 17 130 12.5 127.5 6 123 0 114 0 118.5 4.5 121 8 123 12 124 15.5 124 17.5 124.5 18 124 27 120.5 35 119 37 111.5 44 101.5 48.5 96.5 49 96 49.5 88.5 49.5 88 49 85 49 84.5 48.5 81 48 76 45.5 75 45.5 70.5 42.5 63.5 35 60 27 59.5 18 60 17.5 60 15.5 61 12 64 6.5 70 0 61 0 58 3.5z"/>
<path fill="#a24488" fill-rule="evenodd" fill-opacity="0.8" d="M58.5 10 57 15 57 17 56.5 17.5 56.5 24 57 24.5 57.5 29 60.5 36 62.5 39 70 46 75.5 49 82.5 51.5 87.5 52 88 52.5 96 52.5 96.5 52 101.5 51.5 110 48.5 116 44.5 120 40 121.5 39 123.5 36 126.5 29 127 24.5 127.5 24 127.5 17.5 127 17 127 15 125.5 10 122 4 118.5 0 114 0 118.5 4.5 121 8 123 12 124 15.5 124 17.5 124.5 18 124 27 120.5 35 119 37 111.5 44 101.5 48.5 96.5 49 96 49.5 88.5 49.5 88 49 85 49 84.5 48.5 81 48 76 45.5 75 45.5 70.5 42.5 63.5 35 60 27 59.5 18 60 17.5 60 15.5 61 12 64 6.5 70 0 65.5 0 62 4z"/>
<path fill="#d7709f" fill-rule="evenodd" d="M0 76 0 84 9 88 11.5 90 22.5 96.5 29.5 103.5 33.5 111 36 119 42 119 38.5 109 34 100 27.5 92.5 20.5 88.5 13 82.5 7 78.5z"/>
<path fill="#d0406a" fill-rule="evenodd" fill-opacity="0.6" d="M149.5 117.5 147.5 119 148.5 119zM115 117.5 115 119 115.5 119zM100 117 99 117.5 100 117.5zM87 118 87 119 90.5 119 90 117.5 88.5 117.5 88 117zM74.5 115.5 74.5 116.5 75.5 116zM69 115.5 69 116 71 116.5zM151 114.5 151 115 152 115zM115.5 114.5 116.5 116 118 115.5 118 115 117 114.5zM113 115 111.5 114 110.5 114 109 116.5 110 117.5 111 116 113 115.5zM110 116 110.5 115.5 111 116 110.5 116.5zM74 114 72.5 115 73.5 115zM53 114 53 113 51.5 113.5zM42.5 111 40.5 112.5 40.5 114 41.5 115.5 42.5 115.5 41.5 114 41.5 113 42 112.5 44 112.5zM107 111 107.5 112 108 111.5 109.5 112 109.5 111 108.5 110.5zM83 110.5 80 111.5 80.5 112.5 80 115 82 113.5zM55 108.5 53 109 51.5 111 54.5 112.5 53.5 111.5 53.5 110 54.5 109 55.5 109zM60 107 59.5 108.5 60.5 109zM56 107 56.5 108 58 107.5zM76 105.5 76 106 76.5 106 76.5 105.5zM37 105.5 37.5 106.5 38.5 107 38 105.5zM111 105 111 106 112 106.5 111.5 108 112.5 107.5 111.5 105zM108 105 107 105 106.5 106.5zM61 103.5 60 104.5 60 106 61.5 105.5 61.5 104zM54.5 103 53 104.5 51.5 104.5 51 104 50 104 48.5 105 46.5 104.5 44 107.5 43 107.5 42 106.5 44.5 109.5 47 111 47 114 45.5 115.5 47 115.5 47.5 113 48.5 112 47 110 46 110 45 109 46 108.5 46 107.5 47.5 107 49.5 105 51 105.5 52.5 107 53 106.5 53 104.5zM154.5 100.5 153 101 151 102.5 151 103.5 151.5 103.5 151 103 152.5 101.5 155 101.5zM85.5 100.5 85 101.5 87.5 105 87.5 103.5 85.5 102 86 101zM42.5 101.5 41 100.5 39 104 41 103.5zM71.5 99.5 69 101 70.5 103 70.5 102 71.5 101.5zM112.5 99.5 114 100.5 114 102.5 116 103 115.5 101.5 117.5 100.5 117.5 99.5 116.5 98.5 115 98.5zM112 97.5 111 97.5 111 98.5 111.5 98.5zM67 97.5 65.5 98 65 100 63.5 101 62.5 101 61.5 102.5 63 101 65 100.5 67 98.5zM105.5 96.5 106.5 97.5 106.5 97zM88 96 88 97 86.5 98 88.5 99.5 89 98.5 88.5 98 88.5 96zM83.5 96 82.5 97.5 82.5 99 80.5 100.5 78 100.5 76.5 99 76.5 100 75.5 101 76 102 75.5 103.5 76 104 76.5 102.5 78 101 83 100.5 84.5 98.5 83.5 97zM52 96 51.5 96 51.5 97 50.5 97.5 50 99.5 52 97zM143.5 94.5 143.5 95.5 145 95.5 146.5 96.5 146.5 98 146 98.5 145 97.5 144.5 99.5 148 99.5 146.5 97 147 95 144.5 95zM79.5 93 80 94.5 81 95 81.5 96 81 94.5 81.5 93.5zM71.5 93.5 72 94.5 74 94.5 72.5 93zM32.5 92.5 32 93 32.5 93zM155 93 153.5 93 153 92 151.5 95.5 153.5 94 155 94zM61.5 91 61 92.5 63.5 93 63.5 91zM85.5 90.5 84 95 84.5 94 85.5 94 86 91zM94 90.5 95.5 90.5 97.5 89.5 95 89 94 89.5zM67 89 67.5 91 68.5 92 69.5 92 70.5 91 70.5 90.5 68.5 89zM47.5 89 45 90.5 45.5 92.5 44 93.5 43 97.5 44 97 45 95 45 93.5 48 90.5zM117 88.5 116.5 88.5 116.5 90.5 117 90zM38 88.5 38 90 36 91.5 36 93 34.5 93.5 34.5 94.5 36 97 35.5 99.5 36.5 99 36.5 98 38 96.5 37 95 37 94 39.5 92 39.5 90.5zM153 88 151 90 150.5 91.5 152.5 91 152 89.5zM146.5 88 146 88.5 146.5 88.5zM76 88 76 89.5 77.5 89.5 78 88.5 76.5 88.5zM149 87.5 149.5 88 150 87.5zM147 86 147 86.5 147.5 86.5 147.5 86zM57 86 56 86 56.5 88.5 54 90.5 51.5 90 51.5 91.5 52.5 92 53.5 90.5 56 90 57 91 57 92 59 94 59 95 58 96 57.5 98 56.5 99 56.5 100 55.5 101.5 57 101 58.5 98 59 93.5 59.5 93 57.5 90 57.5 86.5zM29 86 30 87 31 87 30.5 85.5zM24.5 88 24.5 86 24 86.5 23 85 23 86.5 21.5 88 19.5 86.5 19.5 87 21 88 22.5 88 23 88.5zM104.5 84.5 103.5 87.5 105 87.5 105.5 87zM81.5 84.5 82 88.5 83.5 87.5 83.5 86zM131 84 129.5 85 130.5 85zM20.5 83.5 22.5 83.5 22.5 82.5 21 82.5zM105 82 104 82 104.5 83zM49.5 83.5 48 83.5 47 82 46 82 45.5 84 44 85 43.5 86 44.5 87 45.5 84.5zM34.5 82 33 82.5 33 83.5 32 85 34.5 84zM147 82.5 145.5 81.5 143.5 83 143 82.5 143.5 83.5 142.5 84.5 143.5 83.5 146.5 83.5zM126 81.5 125.5 82.5 126 82.5zM14.5 81.5 15.5 82.5 15.5 83.5 15.5 82zM75.5 81 74.5 81 73 83 71 84 69.5 83 68.5 81.5 66 82 67 83.5 70.5 84 72.5 85 73.5 84.5 74 82.5 75 82zM118 80.5 117 81 118 81zM86.5 80 87.5 81.5 89 80.5 88.5 80zM149 79.5 148.5 81 149.5 82 153.5 81.5 155 83 153.5 84.5 154.5 86 154 87 155 87 155 81 153.5 81.5 152.5 80 151.5 79.5 150.5 80zM58.5 80 60 80 60.5 81 61.5 81.5 63.5 80.5 62.5 79.5zM98 78.5 97 79 97.5 80.5 98.5 80zM132 78 132.5 80.5 133 80zM28 79 28.5 80 30.5 79 31.5 79.5 29.5 78zM143.5 77.5 143.5 79 144.5 79 145 78.5zM69 76.5 70 78 71 77.5 73 78 73.5 77.5 71.5 77.5 70.5 76.5zM54 76.5 54 77 56 77 55.5 76.5zM79 76 79 78 80.5 78.5 80.5 77zM115 75.5 112 78 113 80.5 115.5 77zM7 75.5 7.5 75.5 9 78.5 8.5 79 11 81 12 81 13.5 79 13 79.5 11 79 10 77zM93 74 93 77.5 93.5 79 94 79 93 77 93 76 94 74.5zM123.5 73.5 123.5 75.5 124 75.5 123.5 75zM65 73.5 63.5 73 62 76 63.5 74.5 65 74.5zM45 73 45.5 73.5 45 74.5 49.5 78.5 49.5 77.5 47 75.5 46.5 73zM99.5 72.5 99 73 99 74.5 100 75zM51 72.5 52 74 52 75 53 75.5 53.5 75 53.5 73.5 52.5 72.5zM0 72.5 0 73 .5 73 .5 72.5zM119.5 72 118.5 72 118.5 73zM74 71.5 76 74 79 73.5 79 72.5 78 71.5zM26.5 70.5 25.5 71 25.5 72zM123 70 122.5 71.5 123 72zM5 70 4 70 3 71 4.5 71.5zM79.5 71 80.5 72 82 72 82.5 72.5 84.5 72.5 85.5 71.5 84 72 83 70.5 83 69.5 81 69.5 81 70zM38.5 69 40 69.5 40 69zM21 68.5 21 69 22 69 23 70zM88 68 87.5 68.5 89.5 71 91 71.5 91.5 71 91.5 69 91 68.5 90.5 69 89 69zM148 67.5 148.5 69.5 149 69.5 149 68zM63 67.5 63.5 68 63.5 67.5zM51.5 67.5 51.5 68.5 53 68.5 52.5 67.5zM47.5 67.5 48.5 69 48 71 49.5 70.5 49.5 69zM106.5 65 104.5 65 104 66 102.5 66 104 68.5 104 70 106 67.5zM53 64.5 52 65 52 66 53 65.5zM39 63.5 38 63.5 37.5 64.5 38 65zM120 63 119 64.5 120.5 64.5zM4 62 2 64 2.5 65.5 3.5 65.5 4.5 64.5zM89 61 89 62 92.5 65 94 65 94.5 64.5 94.5 63.5 93 61.5 92.5 62 91 62zM151 60.5 151 61 152 61 152 60.5zM119.5 60.5 120 61 120 60.5zM155 59.5 154.5 60 155 60zM29 59.5 29 60.5 28 61.5 28.5 61 30.5 62.5 30.5 63.5 32.5 63 32.5 61.5 33.5 60 32 59.5 31.5 60 29.5 60zM67 59 67 60 68 61.5 69.5 62 70 61.5 70 60 68.5 59 67.5 59.5zM27 62 25.5 60.5 26 59 24.5 61 22 61.5 23.5 62 24 63zM82 58.5 82 60 81.5 60.5 82 60zM54 58.5 54.5 59.5 54.5 58.5zM84.5 58.5 84.5 59 86.5 59 86 58zM116 57.5 116 59 117 59.5 117.5 58zM108 57 107.5 58 105 59 102.5 58 102 59.5 102.5 61 103.5 60.5 104 59 105 59 108 61.5 108 62.5 109 62 109 60zM93.5 56.5 93.5 57 94 57zM110.5 55.5 111.5 57 112 56.5zM61 56 60 55.5 59 56.5 60.5 57zM38 55.5 38 57.5 39.5 58 38.5 56.5 39 55zM125.5 54.5 125 54 123.5 54 122.5 55 122.5 56.5 124 54.5 125 54zM106.5 54 105.5 54.5 106.5 54.5zM57 54 54.5 54.5 54.5 55 55.5 55zM70.5 53.5 71.5 54.5 72 54zM44 53.5 43.5 56 45 55.5 45 54.5zM152.5 53 151.5 53 151.5 54zM109.5 54 109.5 53 108 53.5zM131 55.5 132.5 54.5 135.5 54.5 137 55.5 137.5 55 137.5 53.5 134.5 52 133.5 52 133.5 54 133 54.5 131.5 54.5zM50.5 52 50 53 51.5 53.5 51.5 52zM4 50 3 51.5 5 54 4 55.5 4 56.5 4.5 56.5 5 53.5 3.5 52 3.5 50.5zM19.5 50 21 50 21 49.5zM117 49 116 49 113.5 50.5 115.5 51.5 116 53.5 118 52 117 51.5 116.5 50zM43 49.5 42 49 38.5 50 38.5 51.5 39 52 40 52 41.5 51 42 51.5zM132 48.5 131.5 48 130 49 131.5 49zM29 51 31.5 52.5 31.5 51 34 49.5 35 50 35 49 34 47.5 33 48.5 31.5 47.5 30 47.5 31 49 31 50 29.5 51 29 50.5zM23.5 47.5 22.5 49 23 49.5 25 50 26.5 51.5 28 51 25 47zM144 43.5 144.5 44 144.5 46 146.5 47.5 146.5 49 145 51 146 51 149 48.5 148.5 47.5 146.5 47 146 46.5 146.5 45zM8 43 8.5 43.5 8.5 45 7.5 46 8.5 46.5 8.5 49.5 8 50.5 8.5 51.5 9.5 52 8.5 50.5 9 48.5 9.5 48 12 48.5 12 47.5 10.5 46.5zM27.5 42.5 24.5 43 26.5 44zM18 42.5 15.5 43.5 17.5 45 17 44.5zM0 42.5 0 44 1.5 44 1.5 42.5zM151 41.5 150 42 150 43.5 149.5 44 149.5 46 150 46.5 151 46 151 43.5 150.5 43zM55 40 54 40.5 54.5 41.5 52 44 52.5 45 53.5 44.5 56 41.5zM6.5 40.5 6 39.5 4 41 4.5 41.5 5 41 6 41.5zM126 39 125.5 39.5 126 39.5zM23.5 38.5 21 40 20.5 39.5 19.5 41.5 21 42 23 40.5zM150 38 150 38.5 152 40 153.5 39 153.5 38.5 151 38.5zM51.5 37 48.5 35.5 49 39.5 46.5 41.5 43.5 41 42 43 43 45 42.5 44 44 42.5 46.5 42.5 48 44.5 49 43.5 48.5 40.5zM138.5 34.5 140.5 36 141 37 140.5 38.5 142 38.5 142.5 39 144 39 144.5 38zM14.5 34.5 13.5 34.5 13 35.5 13.5 36zM134 32.5 133 33 132 35 129.5 36.5 128.5 36.5 128 37.5 129.5 37 132.5 39 132 41.5 133.5 42 133 43 134 42 135.5 42 136.5 44 136.5 46 137.5 45.5 137.5 43.5 138.5 41.5 135 39 134 36.5 134 35.5 135 34zM34.5 32.5 34 32.5 34 34 32.5 35.5 31.5 35.5 32 36 31.5 37.5 33 36.5 35 36.5zM20.5 32 21.5 34 21.5 32zM142.5 31.5 140.5 32 140 33.5 141.5 33.5zM40.5 31.5 40 33.5 40.5 34 42 34 42.5 35 43.5 35 44 34.5 42 33 42 32zM54 30 54 33 55 33.5 55.5 35.5 55.5 34 54.5 32.5zM25.5 29 26 31.5 27 33 27.5 33 27.5 32 28.5 30.5 26.5 29zM144.5 28.5 145.5 32 146.5 32.5 146.5 31 148.5 30 149.5 30 151 31.5 151 33.5 151.5 34 155 32 154 32 152 30 152 28.5 151.5 28 150 30 148.5 30 148 29.5 148 28 147.5 28.5 146 28zM138 28 137 30 135.5 29 134.5 31.5 137 32 137.5 31.5 137 30.5zM13.5 30 13.5 30.5 15 30.5 16.5 29.5 18 29.5 19.5 30.5 19.5 28.5 19 28 15.5 28zM131 25.5 131 27.5 129.5 31.5 129.5 33 131.5 27.5zM46.5 25 44.5 26 44.5 26.5 45.5 26.5zM49 24.5 49.5 26 49 28 49.5 28 49.5 26.5 50 26zM27 24 27 24.5 27.5 24.5zM16 23.5 15.5 24.5 16.5 25 17 24zM23 23 22.5 23.5 22.5 26 23 27 22 29 22.5 30.5 23.5 30 23.5 28.5 24.5 26 24.5 25zM149.5 23.5 150 24 152 24 153 26 155 25 155 23 152.5 24.5 151.5 23 150.5 22.5zM13 21.5 13.5 22.5 15 22 13.5 22zM50.5 18.5 51 20.5 50 22 52.5 22.5 52.5 19 52 18.5zM34.5 16.5 34.5 18 36.5 19.5 36.5 20.5 38.5 21.5 39.5 21.5 40 20.5 41.5 19.5 41.5 19 41 19.5 38.5 19 37 17.5 37 16.5zM45 15 44.5 16 43 16 43 17 43.5 17 44.5 18.5 45.5 17 45 16.5 46 15.5zM18.5 15 19 15.5 20.5 15 20 15.5zM41.5 12 37.5 12.5 37 13 39 14 40.5 14 41.5 13zM146.5 11.5 145 12.5 143.5 15 140.5 14.5 139 16.5 139.5 19.5 140.5 19.5 142.5 21.5 143 23 145 23 144.5 21.5 143.5 22 141.5 20.5 141.5 19 142 18.5 146.5 18 147.5 17 147.5 15.5 146 14.5 147 13zM141.5 11 141.5 12 142 12zM54.5 10 54 10 53.5 11.5 54 11.5zM49.5 9 49 10.5 51 13 51.5 13 52 12zM143 9 144 10.5 145 10 145.5 9 145 8.5 143.5 8.5zM24 7.5 24 8 24.5 8zM149 7 148.5 7.5 149 9.5 150.5 11 152 10.5 150 7.5zM6.5 5.5 5 8 6 10 7 10 10 12 11 11.5 13 13 11.5 11.5 11 9.5 9.5 11 8.5 9 6.5 7.5zM28.5 5 28.5 5.5 29.5 6 30.5 5.5 30 5zM141.5 5 140.5 4.5 139.5 5.5 139.5 7.5 138.5 8.5 137.5 8.5 136 7.5 132.5 7 132 9 130 10 130 11.5 132.5 14.5 132 15.5 133.5 17 134.5 16.5 136 18 136 16 134 14.5 133.5 13.5 135 13 137.5 10.5 140.5 10.5 141 7.5 140.5 7zM14 4.5 14 5.5 15.5 6.5 15.5 8 16 8.5 17.5 8.5 17.5 7.5 15 6 15 4.5zM0 4.5 0 5.5 2 6 3.5 7.5 3.5 6zM44.5 3.5 44 4 44 6 47 6.5 47.5 5 47 4.5 46 5zM142.5 3 143 4.5 144.5 5 146 6.5 147 6 147.5 5 147 4 145.5 3zM126.5 2 126.5 3.5 127.5 5 128.5 5 128.5 3.5 127.5 1.5zM21.5 2 21 1.5 19.5 1.5 19 3 17.5 4 17 5 21 4.5 21.5 4zM28.5 1 29 2 29.5 1.5zM138 1 140 1 141 0 137.5 0zM131 0 131 2.5 131.5 3 133 2 134 2.5 133 1.5 133 0zM54 1 56.5 1.5 57.5 0 54.5 0zM13 .5 14 0 13 0z"/>
<path stroke="#4e1c62" stroke-opacity="0.75" stroke-width="1.2" stroke-linecap="round" d="M19.2 55.8h0M149.2 46h0M70.5 62.7h0M133.2 2.3h0M67.1 89.2h0M67.4 102.9h0M42 3.9h0M3.2 53.2h0M133.7 15.2h0M107.4 91.5h0M18 49.7h0M3.6 47.9h0M16.6 14.5h0M39.1 92.9h0M132.2 48.3h0M126.3 13.2h0M96.6 89.3h0M123.2 89.2h0M61 33.2h0M115.3 82.1h0M65.5 46h0M62 110h0M41.2 19.9h0M82.8 55.4h0M22.9 16.2h0M43.9 17.7h0M150.6 92.2h0M34.1 18.7h0M154.6 9.2h0M89 53.7h0M120.1 5.9h0M153.3 101.5h0M114.3 86.7h0M98.9 78.4h0M126.4 53.8h0M59.9 48h0M145 77.9h0M155.4 15h0M114.4 49.3h0M62.9 76.4h0M93.7 61.5h0M119.7 44h0M146.9 94.2h0M112.8 44.9h0M117.5 76.5h0M137.3 32h0M132.8 38.6h0M27.9 10.2h0M89.2 55.7h0M13.1 73.9h0M123.2 12.9h0M82.7 82.3h0M124.1 16.3h0M131.4 26.6h0M60.5 27.8h0M65.6 3.4h0M52.8 83.4h0M117.1 58.7h0M103.1 53.9h0M49.6 67.6h0M132.3 43.3h0M146.5 73.5h0M14.2 5.3h0M151.3 57.4h0M142.2 15.9h0M126.6 25.4h0M147.8 12h0M90.6 56.3h0M40.9 20.5h0M49.8 30.2h0M74.1 49.2h0M22.7 26.4h0M19.8 51.6h0M16.3 10.8h0M147.4 95.9h0M150 42.3h0M135.8 40.6h0M59.1 5.7h0M17.5 38.6h0M114.7 63.8h0M106.1 112.5h0M124.2 27.5h0M19.3 22.1h0M54.1 77h0M56 48.7h0M20.2 31.5h0M117.3 73.1h0M89 62.1h0M118.9 90.1h0M117.7 71.9h0M143 29h0M69.1 43.1h0M149.7 114.9h0M146.2 76h0M64.1 108.9h0M17.5 14.4h0M41.9 29.5h0M48.9 100.8h0M106.1 58.8h0M59.9 73.8h0M136.5 48.4h0M22.5 4.6h0M136.1 10.5h0M45.2 16.5h0M68.5 94.4h0M89.2 110.2h0M78.2 90.4h0M75.9 77.8h0M55.5 26h0M127.2 32.1h0M84.4 52.1h0M43.5 40.7h0M64.8 114.5h0M133.6 51.5h0M49.9 100h0M82.3 95.9h0M140.8 35.2h0M133.5 40h0M73.5 99.4h0M63.3 88.8h0M10 76h0M28.2 45.1h0M89 89.8h0M53.1 83.6h0M16.8 10h0M149.9 112.8h0M71 92.6h0M59.4 103.2h0M17.9 47.1h0M24 77.4h0M129.8 49.8h0M34.1 42.3h0M120.8 59.6h0M137.8 91.7h0M57.2 25.8h0M30.8 17.7h0M115.8 42.4h0M69.3 83.4h0M121.6 39.3h0M105.9 110.7h0M93.7 78.5h0M109.7 49.9h0M38.6 97.9h0M149.9 105.5h0M146.4 11.5h0M53 15.5h0M121.2 1.5h0M123.8 88.9h0M75.4 98.1h0M117.2 39.5h0M54.3 57h0M72.3 45.3h0M150.9 19.8h0M46.4 105.6h0M56.6 9h0M54.8 84.7h0M77.5 51.4h0M22.3 33.4h0M79.5 54.7h0M13.6 41.3h0M46.3 30.9h0M36.6 99h0M22.7 75.7h0M85.2 54.2h0M27.5 33.8h0M27.9 51.3h0M45.8 29.5h0M46.4 31.9h0M144.8 26.8h0M68.7 87.8h0M62 35.2h0M47.3 76.8h0M133.6 23.2h0M132.9 9.7h0M119.8 4.3h0M116.7 .3h0M48.2 116.3h0M53.6 93.3h0M81.3 79.2h0M90.1 87.8h0M46 115.9h0M20.3 15.1h0M5.2 75.5h0M53 33.5h0M77.5 111.2h0M66.7 102.1h0M67.1 109.8h0M64 67.7h0M94.1 82.9h0M39.1 13.4h0M24 62.2h0M135.1 16.7h0M71.9 50.3h0M23.8 84.4h0M123.2 71.5h0M145.1 30h0M143.6 6.8h0M107.4 109.2h0M33.6 91.1h0M71.5 62.9h0M38.2 88.4h0M83.6 96.5h0M56.1 101.4h0M130.1 13.3h0M134 79.1h0M41.9 35.9h0M22.7 9.9h0M9 3.3h0M43.6 118.5h0M128.1 37.4h0M52.9 34h0M130.1 8.2h0M147.1 109h0M133.6 42.1h0M94.7 90.2h0M98 78.1h0M146.4 19.5h0M35.4 12.2h0M56.1 78.7h0M22.4 15.2h0M8.4 8.5h0M131.8 44.6h0M96 60.3h0M117.4 97.9h0M45.9 88.5h0M129.4 55.1h0M79.6 62.1h0M115.5 97.9h0M138.1 90.7h0M27 53.3h0M151.6 59.5h0M60 14.2h0M58.3 71.1h0M86.4 65.6h0M85.9 71.7h0M150 93.3h0M133.8 22.8h0M45.4 50h0M40.2 106.7h0M121.5 83.6h0M23 16.4h0M17.8 42.5h0M115.9 100.8h0M130.7 14.3h0M86.7 72.2h0M147.1 5.1h0M88.1 57.6h0M4.6 65.9h0M122 52.7h0M42.7 36.1h0M97.9 73.7h0M131.7 85.5h0M79.8 72.8h0M95.3 59.4h0M123.5 29.7h0M151.9 46.4h0M28.8 6h0M134.5 .8h0M74.4 47.6h0M131.6 37.2h0M151.5 87.9h0M31.5 66.9h0M58.5 42.1h0M107.5 116.3h0M121.5 77.6h0M88.9 105.7h0M130.1 5.9h0M31.2 78.8h0M127.4 9.2h0M54.2 63.4h0M42.3 64.8h0M138.5 48.2h0M141.1 4.7h0M60.8 5.4h0M66.1 68.6h0M109.2 117.2h0M115.7 66.6h0M149.1 80.2h0M149.8 106.8h0M17.2 11.3h0M58.8 87.5h0M89.1 82.1h0M123.6 85.8h0M24.4 89.4h0M90.6 63h0M20.2 .6h0M41 28.6h0M149.8 55.3h0M47.6 59.6h0M61.2 6.5h0M35.2 80.2h0M13.2 32.9h0M124.5 2.9h0M69.9 90h0M47.4 84.3h0M130.2 6.9h0M87.9 64.5h0M90.3 88h0M138.1 41.6h0M74.5 69.7h0M25.1 60.8h0M39.2 12.7h0M92.5 63.3h0M24.2 35.7h0M54.5 92.3h0M119.9 37.6h0M104.4 91.1h0M79.4 94.1h0M134.8 53.9h0M147 110.5h0M36.1 4.3h0M67.2 115.7h0M125.6 31.9h0M56.1 40.3h0M2.6 70.9h0M116.4 1.3h0M83.4 102.5h0M81.2 62.4h0M43.2 21.4h0M16.9 23.8h0M150.4 115.5h0M142 2.4h0M126.3 27.8h0M48.3 101h0M155.3 13.2h0M41 .3h0M65.2 87.3h0M110 115.8h0M137.7 89.5h0M102 83.1h0M91 110.4h0M77.4 67.9h0M13.6 4.4h0M35.2 8.3h0M148.7 22.3h0M115 89.3h0M88.1 98.4h0M153.1 86.6h0M148.8 83.4h0M56.6 43.6h0M79.1 115.6h0M67.2 100h0M43.8 98.9h0M143.5 79.3h0M16.2 41.9h0M97 51.2h0M99.7 56h0M108.4 47.7h0M78.9 76.7h0M136.6 18.8h0M48.4 23.4h0M75.4 83.5h0M123.2 88.1h0M65.7 5.1h0M12 14.8h0M50.3 27h0M23.1 39.4h0M52.4 51h0M101 65h0M130 .9h0M132 .3h0M66.8 49.5h0M37.9 98.1h0M22 21.2h0M153.1 32.3h0M64.9 1.8h0M154.5 25.2h0M136.7 3.4h0M15 52h0M64.1 94.7h0M8.6 53.1h0M28.4 13.5h0M150.9 103.5h0M15.6 43.5h0M36.8 96.4h0M73.9 115h0M123.7 52.1h0M149.3 16.8h0M61 4.8h0M149.4 19.5h0M148.3 105.8h0M63.6 87.3h0M44.9 110.9h0M126.2 15.9h0M151.7 8.4h0M49.2 40.7h0M137.6 27.9h0M21.8 80.4h0M60 37.9h0M125.2 37.8h0M66.6 85.1h0M49.7 82.4h0M83 61.1h0M15.5 78h0M25.4 19.3h0M94.4 63.5h0M20.7 53.5h0M139.9 79.6h0M51.5 6.8h0M116.4 80.6h0M45.9 15.9h0M120.1 65h0M57.7 108.7h0M131.5 36.6h0M150.2 14.7h0M105.1 111.7h0M118.2 44.9h0M26.7 54.7h0M129.6 9.7h0M72 100.5h0M27.2 43.2h0M16.1 28.1h0M74.1 70.7h0M109.7 116.9h0M119.1 60.3h0M56.1 86.3h0M120 77h0M43.8 5.9h0M49.3 29.7h0M26 77.8h0M2.5 65.1h0M51.7 84.8h0M24.1 72.1h0M137.1 13.9h0M19.5 50.4h0M151.3 115.6h0M130.5 16.8h0M116.6 117.7h0M134.6 5.8h0M139.2 17h0M117 111h0M137.8 82h0M137.6 27.2h0M118 81.4h0M115.8 52.3h0M14.6 53h0M146.1 99h0M150.8 42.7h0M65.3 39.7h0M4.3 64.6h0M115.5 80.8h0M15.8 29.1h0M60.5 107.3h0M6.7 10.4h0M49.5 39.7h0M116.5 48.1h0M49.8 54.7h0M120.9 63.1h0M132.8 86.3h0M83.7 106.2h0M67.2 69h0M45.8 117.8h0M91.4 77.8h0M150.2 41.5h0"/>
<path stroke="#4e1c62" stroke-opacity="0.75" stroke-width="1.6" stroke-linecap="round" d="M113.2 78.1h0M141.9 36.3h0M31.7 19.6h0M32.3 56h0M115.6 119.1h0M146.8 32.4h0M54.9 24.7h0M124.2 26.6h0M54.9 49.4h0M22.9 46.1h0M43.8 99.6h0M44.7 35.8h0M61 88.8h0M106.3 90.6h0M146.9 117.1h0M145.6 52.3h0M123 11.8h0M135.6 17.1h0M130.8 2h0M58.2 21.5h0M85 104.6h0M122.5 33.6h0M79.8 110.2h0M125.5 30.2h0M77.2 105.6h0M26.9 36.7h0M29.1 14.5h0M56.2 39.8h0M33 47.3h0M52.9 16.5h0M31.9 88.1h0M138.8 54.1h0M23.2 86.4h0M140.7 79h0M14.4 33.7h0M145 3.7h0M25.4 70.8h0M87.3 76.8h0M11.1 13.8h0M79.2 63.5h0M146.2 29.4h0M93.3 72.1h0M37 86.6h0M117.6 44.6h0M135.1 2.6h0M47.3 24.8h0M114.2 46.6h0M151.3 58.2h0M147.3 111.5h0M149.5 41.5h0M64.5 69.3h0M112.8 50.8h0M123.8 86.6h0M148.9 59.6h0M69.9 109.5h0M52 105h0M152.2 18.5h0M27.8 35.3h0M13.8 41.6h0M130.6 79.1h0M64.8 53.9h0M129.9 7.7h0M81.7 112.4h0M86.7 100h0M91.6 72h0M74.9 116.9h0M67.1 103.2h0M23.6 9.9h0M117.8 44.2h0M142 82h0M111.6 44.5h0M50.2 16.2h0M49.1 37.4h0M112.9 79.1h0M80.6 78.3h0M23.9 45.1h0M126.8 42.3h0M149.7 37h0M56.1 102h0M131.5 .6h0M99.1 49.7h0M68.2 100.6h0M108.6 110.3h0M150.6 56.7h0M65.4 94.7h0M35.1 12.6h0M70.3 48.3h0M27.8 7.5h0M111.5 69h0M58.3 41h0M64.2 69.5h0M45.3 15.6h0M153 47h0M99.7 57h0M113.5 46.1h0M51.4 52.8h0M131.5 81.7h0M153.5 85h0M24.2 70.9h0M142.9 51.4h0M68.8 93.2h0M6.8 4.7h0M14.3 51.3h0M34.1 57h0M27.7 82.3h0M82 53.5h0M151.6 93.5h0M28.6 69.6h0M23.3 22.3h0M60.1 103.8h0M153 12h0M52.4 54.6h0M82.3 86h0M28.2 26.4h0M96.1 51.4h0M138.9 2h0M132.7 7.1h0M130.9 29.9h0M150.2 78.7h0M51.4 113.8h0M136.2 6.8h0M49.6 4h0M139.1 27h0M121.1 8.8h0M143.3 13.6h0M58 98.8h0M7.8 10.8h0M140.3 35.8h0M138.5 80.2h0M136 23.7h0M52.9 8.5h0M136.6 13.1h0M34.7 42.1h0M11.8 11.4h0M130 18.1h0M76.3 54.6h0M18.8 42.5h0M69.2 77.6h0M151.1 81.3h0M81.7 114.1h0M117.1 89.5h0M48.3 5.5h0M153.2 105.3h0M13.8 52.6h0M135 50.7h0M103.3 85.5h0M143.5 44h0M153.6 46.4h0M134.7 48.4h0M48.7 3.3h0M30.1 5.1h0M118.3 113.4h0M54.9 12.6h0M91.2 69h0M34.1 49.7h0M60.4 33.4h0M138.6 87h0M64.7 114.6h0M60.9 35.5h0M34.4 10.5h0M50.6 14.6h0M103.7 67.6h0M82.1 111.6h0M30 68.6h0M62.7 47.6h0M67.8 99.7h0M28.7 8.4h0M63.5 8.5h0M109.6 52h0M33.3 19.1h0M57.5 6.2h0M82.8 79.7h0M21.1 13.9h0M151.9 21.7h0M117.9 42.1h0M152.9 85.7h0M54.8 92.6h0M23.2 10.6h0M52.4 35.3h0M108 58.3h0M130.3 20.5h0M152.2 116.6h0M35.3 47.8h0M60.4 101.7h0M42.5 2.5h0M117.4 66.7h0M153.8 86.9h0M33.3 58.5h0M58.1 5.9h0M8.1 9.5h0M38.1 92.8h0M145.8 105.7h0M144.4 100.8h0M37.3 98.5h0M144.4 25.5h0M2.1 12.5h0M146.9 29.1h0M139.3 1.1h0M51.1 87.1h0M61.3 56.6h0M92.6 77.9h0M54.2 25.8h0M137.6 90.4h0M68.1 115.3h0M32.4 63.6h0M104.3 48.7h0M146.3 13.5h0M108.1 64.3h0M64 39.1h0M128.4 42.2h0M55.9 78.4h0M79 62.9h0M47.9 40.6h0M30.2 86.7h0M51.1 98.8h0M153.1 93h0M117.2 113.3h0M43.4 3.2h0M150.7 62.6h0M15.1 51.9h0M82.4 110.5h0M56.2 89.4h0M153.4 18.1h0M60.8 35.7h0M82.6 110.2h0M125.9 49.3h0M138.3 48.2h0M38.2 56.7h0M91.1 84.1h0M117.9 96.7h0M55.8 91.1h0M47.9 76.1h0M88.2 95.5h0M120.5 64.1h0M117.9 94.9h0M39.7 21.2h0M77.9 77h0M113.3 77.6h0M153.5 100.5h0M58.4 117.5h0M16.8 22.9h0M45.2 91.5h0M89.8 82.8h0M20.3 1.6h0M60.2 71.5h0M93.9 84h0M42.5 99.3h0M108.4 111.6h0M151.8 9.4h0M35.1 58.4h0M61.4 44.7h0M155 111.8h0M132.4 81.9h0M65.6 49.5h0M61.7 2.1h0M117.9 68.4h0M149.1 48.2h0M40.2 7.5h0M32 50.7h0M114.9 109.2h0M68.8 53.3h0M62 42.7h0M38.7 19.9h0M118.3 84.3h0M11.2 10.2h0M91 85.6h0M51 34.9h0M58.8 69.7h0M56.7 30.4h0M77.3 46.7h0M100.4 50.8h0M6.6 75.1h0M15.2 31h0M141.4 85.7h0M75.1 78h0M108.9 86.2h0M104.8 87.2h0M86.3 99h0M21.6 49.1h0M54.1 17.6h0M81.9 55.1h0M149.7 19.5h0M67.5 52.6h0M117.9 106.8h0M102.5 65.4h0M51.9 88.5h0M119.1 52.8h0M5.2 76.3h0M54.5 48.3h0M73.5 99.8h0M23.9 46.3h0M77 77.7h0M106.5 107.8h0M60.6 96.8h0M92.4 54.6h0M118.9 84h0M13.2 7.4h0M111.3 67.6h0M97.4 79.9h0M66.4 101.5h0M116.1 106.7h0M27.9 33.5h0M50 22.9h0M110.6 57.4h0M124.8 78.2h0M90 89.1h0M63.3 34.8h0M62.1 106.5h0M65.9 51.8h0M153.5 12h0M142.7 52h0M107.5 96.2h0M56.8 49h0M44 50.7h0M149.6 6.7h0M46.1 117.3h0M52.7 38h0M49.2 2.6h0M147.6 59.8h0M26.8 71h0M52.6 18.3h0M111.9 56.3h0M28.6 34.8h0M113.2 80.3h0M15 52.5h0M16.2 7.6h0M41.3 .5h0M26.3 51.3h0M117.5 76.1h0M57.6 101.7h0M7.2 1.2h0M20.5 82.7h0M151.3 92.1h0M151.9 86.2h0M51.1 71.5h0M49.4 9.6h0M80.1 71.2h0M148.1 14.8h0M76.1 77.7h0M61.5 7.5h0M50.9 15.8h0M102.9 83.2h0M4.1 56.1h0M115 117.7h0M16.2 82.3h0M114 104.1h0M52.3 94.2h0M32.5 35.6h0M81 93.4h0M64 113.9h0M118.8 69.8h0M114.7 76.7h0M72.9 105.9h0M53.3 4.1h0M129.9 78.4h0M10.5 78h0M130.1 25.9h0M83.1 85h0M50 114.4h0M97.5 52.8h0M82.7 86.3h0M123.5 46.9h0M108.6 54.5h0M155.3 21.6h0M62 31h0M2.6 45.1h0M46.9 23.7h0M36.4 17.9h0M15.8 42.7h0M126.1 .8h0M59.1 17.4h0M30.9 54.5h0M24.1 30.8h0M43.4 110.9h0M140.8 4.7h0M5.2 7.2h0M112.1 48.2h0M69.9 105.7h0M125.3 83.2h0M67.5 95.3h0M43.4 57h0M50 100.9h0M58.2 97.2h0M22.4 49.5h0M119.3 .3h0M37.5 4.9h0M51.5 35h0M117 40.4h0M56.6 32.5h0M54.2 64.3h0M67.1 44.6h0M52.2 38.3h0M147 101.4h0M96.7 59h0M130.4 37.6h0M153.5 100h0M59.4 27.8h0M47.2 16.1h0M98.5 80.8h0M35.1 101.8h0M147.3 98.2h0M2.6 12.7h0M138.6 44.2h0M134.3 41.6h0M154.2 9.1h0M47.7 57.2h0M116.2 115.2h0M31.2 13.3h0M147.7 108h0M65.1 4.4h0M89 88.4h0M44.8 63.2h0M143.3 52.6h0M63.1 101.7h0M135 2.2h0M119.3 68.5h0M140.7 88.6h0M142.9 21h0M37.9 49.8h0M83.9 52.8h0M56.8 68.3h0M132.9 6.9h0M82.7 100.3h0M115.9 75.8h0M24.1 9.2h0M57.9 88.1h0M9.9 11.8h0M47.8 23.1h0M18 78.3h0M110.3 46.2h0M114.6 108.3h0M148.9 16h0M85.1 103.9h0M103.1 60.5h0M4.1 55.3h0M56.7 115.7h0M53.9 26.3h0M52.4 68.2h0M134.2 6.7h0M58.6 6.6h0M18.9 13.5h0M21.5 30.8h0M137.2 47h0M58.8 36.9h0M105.8 70.9h0M43.5 4.2h0"/>
</g>
<clipPath id="q4"><rect x="0" y="0" width="155.3" height="119"/></clipPath>
<g transform="translate(587.1,210.6)" clip-path="url(#q4)">
<rect width="157.3" height="121" fill="#cf86b2"/>
<path fill="#c0609a" fill-rule="evenodd" d="M119.5 119 122 119 122 118.5 120.5 118zM107 117 106 117 104.5 119 106.5 119zM13 115.5 12 114 10 114 9.5 113.5 8.5 114 7.5 113.5 6.5 114 3.5 114 1 117 0 117 0 119 10 119 11.5 117 13 117zM8 111 9.5 112.5 10 112zM134.5 110 134 110 134 111zM121 95 121 95.5 121.5 95.5 121.5 95zM17.5 95 17 95.5 17.5 95.5zM60 86.5 59.5 88 60.5 89 62 88.5 61.5 87zM23.5 71.5 23.5 72 24.5 72 24.5 71.5zM125.5 69.5 124 69 123 70.5 123 71.5 125.5 70.5zM127 63.5 127 64.5 127.5 64.5 127.5 63.5zM2 50.5 1.5 51 0 51 0 57.5 2 59 0 62 0 67 1.5 69.5 3.5 69 5.5 66.5 6 67 6 68.5 7 68 6.5 67 7 65.5 6.5 64 7 63.5 6.5 63.5 6.5 64.5 5.5 65.5 4 63.5 6 61 7 61 7.5 62.5 8.5 62.5 9.5 61.5 9.5 59 7.5 57.5 7.5 55.5 4.5 52 3.5 52.5zM2 63 3 64 3 65.5 2.5 66 1.5 66 .5 65zM2.5 60.5 4 59.5 5.5 60 5 61 3 61zM50.5 49 49.5 49 49.5 50 50 50zM132.5 44 133 44.5 134 44 134.5 43 133 43zM110 39 109.5 40 110 40zM97.5 38.5 97 39.5 99 41 99 42.5 99.5 42.5 99.5 41 101 40 98.5 38.5zM155 35.5 154 35.5 152 37 152.5 40 151 41 150 42.5 148.5 43 148.5 43.5 150 44.5 149.5 47 152 49 152 53.5 151.5 54 150 54 150 55 151 54.5 153 56 154 56 155 54.5 155 49 154 48.5 155 47 154 45 155 44.5zM87.5 34 88 35 88.5 35 88.5 33.5zM48 32 48 33 49 32.5zM59 31 58.5 31.5 59 32 59 33.5 59.5 33.5 60 31.5zM71 30 70.5 31.5 71.5 32.5 72.5 32.5 72.5 31zM154 25.5 154 27.5 153 28.5 153 29.5 155 30 155 25.5zM37 6.5 36 6.5 34.5 7.5 35 8 36 7 37 7zM125.5 0 119 0 118 1 119 2.5 120 2 121 3 120 5.5 120.5 6.5 121.5 6.5 123.5 3.5 123.5 2zM72.5 0 72.5 1 73.5 1.5 74.5 3 75.5 3 77 4.5 79 3.5 80.5 3.5 82 5 84.5 6 85.5 7.5 91 6.5 92.5 7.5 94 7.5 95.5 9 98 8.5 98.5 7.5 100.5 6 101.5 6 103 7 103 5 101.5 3 99.5 3 98.5 4 99 5.5 98 6.5 96.5 6.5 94.5 4 93.5 4 92.5 3 91.5 3.5 90 3 89.5 1.5 90.5 .5 92.5 .5 93 1 93.5 0zM0 7 0 12 2 13.5 1 15 0 15 0 48.5 1.5 49 1 48.5 1 47 3 46 3 45.5 1.5 44.5 2.5 43.5 2.5 40 4 38.5 2 36.5 2 34.5 3.5 33 6 33 7.5 35 9 35.5 10.5 37.5 9 39 6.5 39.5 6.5 42 4.5 45 5.5 46 5.5 47 6.5 47 8 46 9 47 11 50.5 11 52.5 10.5 53 14 57 17 55.5 18 56 19.5 55.5 18.5 54 20.5 52.5 20 51 20.5 50.5 22 50.5 21.5 46.5 22 46 24 46 24.5 46.5 24 48.5 25 49 25.5 50 23.5 51 23.5 52.5 22.5 55 24 56.5 26.5 56 27.5 57.5 29 57 30 58 32 58.5 35 60.5 34.5 61.5 33.5 61.5 31.5 63 26.5 60 25 62 24 62 22 59.5 22.5 58.5 21.5 58 19 59.5 17.5 59.5 17.5 60.5 16.5 61.5 17 65 19 66.5 18.5 65.5 19 64 23 65 24.5 64 25 64.5 25 67.5 27 67.5 28 69 30 69.5 32 68 33 71 33.5 71.5 35 71 36 71.5 37 73 37 76 36 77 33.5 77 28 72 27 74 26.5 78 26 78.5 23.5 78 22.5 77 22.5 75.5 20.5 74 19.5 75 20 76 19 78 18 79 16 78.5 15 77 15 75 16 74 15.5 73.5 14 74.5 13 74 15 70.5 15 67.5 16 66 14 64.5 10.5 64.5 9.5 66.5 9.5 67.5 10.5 69 9 70.5 9.5 71 10 76 11 76.5 11 81 10.5 81.5 8.5 81.5 8.5 83.5 7 84.5 4.5 82.5 4.5 80 2 83 2 85 1.5 85.5 0 84.5 0 86 1.5 88.5 0 90.5 2 90.5 4 91.5 5.5 93.5 6 93.5 7.5 92 9 92 9.5 91.5 9.5 90 8.5 89 7.5 89 6 86.5 7 85.5 11.5 85 13.5 86 15.5 88 17.5 87 19 89.5 21 91 22 90.5 22 88.5 22.5 88 24 88 24.5 88.5 26 86 27.5 86 28.5 85 28.5 84 26 84 25.5 83.5 25.5 82.5 26.5 81.5 27.5 81.5 29.5 83.5 29.5 87 28.5 88.5 29 89.5 26.5 91 25 90.5 23 91 26 94 26 95 24 96 23.5 97.5 24.5 97.5 25.5 98.5 29 98.5 31 99.5 31 97.5 31.5 97 34 98 37.5 100.5 37.5 103 36.5 104 35.5 104 34 102.5 32.5 103.5 31 102.5 30.5 101 28.5 101 28 101.5 28 104.5 29 105.5 25 109 23.5 106.5 22.5 106.5 21.5 105.5 21.5 104.5 20 103.5 20 101.5 19 100.5 17.5 101 15.5 98.5 16 96.5 14.5 97 13.5 96 13.5 95 12.5 95 12.5 96.5 12 97 10.5 96.5 9.5 97 9 95.5 8.5 95.5 8.5 96.5 9.5 97 9 98.5 7 97.5 5.5 97.5 3.5 99 2.5 98 2.5 96.5 1 94 1 92.5 0 92.5 0 112 1.5 111.5 3 109 5.5 108.5 7.5 107 6 102.5 6 101.5 7.5 101 11.5 103 11.5 103.5 10 104.5 12.5 103.5 13.5 102.5 15 102.5 16.5 104.5 16.5 106 18 108 17 109 16 111.5 16.5 112.5 19.5 114 20 116 19 117 18 116.5 16.5 117.5 16 119 24.5 119 24.5 117.5 23 117 19 113.5 20.5 111.5 21 112 24.5 111.5 25.5 109.5 27 110 28 112 26.5 113 26.5 114.5 27.5 115.5 26 116.5 26 119 39.5 119 39.5 117.5 37.5 115 37.5 114 35 113 34 112 33 112.5 32 111.5 32 109.5 33.5 108 36 108 37.5 109.5 38 112 40 113 40 114 41 115 41 116.5 42.5 119 49 119 49 117.5 50.5 115.5 53.5 117.5 52 118 51.5 119 53.5 119 53 118 53.5 117.5 56 117.5 56.5 119 60.5 119 60.5 118 59 115.5 59.5 114 57.5 113.5 56 115 51 115 50 112.5 48.5 112 48.5 109.5 49.5 108.5 55.5 108.5 56.5 109 57.5 110.5 56.5 111.5 55 111.5 54.5 112 54.5 113 56 113.5 59 110.5 59 109.5 61 108 62 106 61.5 105.5 60 105.5 58.5 103.5 57 103.5 54.5 100.5 53.5 100.5 53.5 102.5 52.5 103.5 52 103 50.5 103 50 103.5 49.5 102.5 51 101 52.5 100.5 51 100 49.5 101 49 100 47 98.5 47 97 48.5 96 49.5 99 51.5 99 52.5 98 53.5 98 54.5 99.5 57 99.5 57.5 99 58.5 99.5 61 99.5 62.5 100.5 63.5 100 64.5 101.5 65.5 101.5 67 100 68.5 100 70 97 71 96.5 72 98.5 72 100.5 73.5 101.5 71 104 70 104 69.5 106.5 72 109 73.5 109 76.5 112 77.5 114 76.5 115.5 75 115.5 74 114.5 74 113 73.5 112.5 69 112.5 68.5 113 65 113.5 64 114.5 64.5 115.5 64 116.5 64.5 119 76.5 119 76.5 118 77.5 117 80.5 117 83 115.5 84.5 116 86 117.5 88.5 117.5 89 119 99.5 119 99.5 117 98 115.5 98.5 113 97.5 112 98.5 110 100.5 108.5 100.5 107.5 101.5 106.5 103 108 104.5 107.5 105.5 108 106 110 107.5 112 106.5 113.5 106.5 114.5 108 115 111 113.5 111 113 109 113 108 112 110.5 111 111.5 110 112.5 110 116.5 113 116.5 114.5 115 115.5 115.5 116.5 121 117 123.5 115.5 124 114.5 125 114.5 128.5 117 129 119 142 119 143 117.5 143 116.5 144 115.5 145 115.5 147 118.5 146.5 119 153 119 153 118 151.5 115.5 152.5 114.5 155 113.5 155 108 153 108 150.5 106.5 148 108 144 107.5 142.5 105 141 104 139 104 138 103 138 101.5 139.5 100.5 139.5 99 141 98 142.5 99 143.5 99 145 101.5 146 100 149 100 149.5 99.5 150.5 100.5 150 101 150.5 102.5 153.5 102.5 155 103.5 155 92.5 153.5 93.5 152.5 92.5 152.5 91.5 150 89.5 153 86 155 86.5 155 71 154.5 71.5 153.5 71 153.5 69.5 155 69 155 66.5 153 67 151.5 65.5 152.5 63 151 61 151.5 59.5 153.5 58 150.5 57.5 150 56 149.5 56 149 57.5 148 58 145.5 56 145 54.5 143 54 143 54.5 145.5 55.5 145.5 57.5 144 59.5 145.5 60.5 145 61 145.5 63.5 147.5 63.5 148 65 147 65.5 147.5 67.5 145 69.5 144 69.5 143 68.5 141.5 69 141 67.5 141.5 67 143 67 142 66 142 62.5 143.5 60.5 141.5 58.5 138.5 58 138 58.5 137.5 58 137.5 54 139 52 138 50.5 138 48.5 139 48 140.5 49.5 140 51.5 141 51.5 142 48.5 143.5 47 146 47.5 146.5 47 146.5 45.5 145.5 44 144.5 43.5 141 45 140.5 46 139.5 46.5 138.5 45.5 138.5 45 140 44 139 42.5 139.5 42 139.5 40.5 138.5 40.5 136.5 42 136 43 136.5 44 132.5 46 131.5 45.5 130 46.5 129 46.5 128 45.5 128 43.5 129 42.5 131 43 131 41.5 130 40.5 130 39.5 131.5 37.5 130 36.5 130 34 131 32 133 34.5 133 37 135.5 36.5 137 38.5 139.5 38.5 140 38 141 40 142.5 37.5 143.5 38 148.5 38 148.5 36 148 35.5 148.5 35 148.5 32 150.5 31 150.5 27 150 26.5 148.5 26.5 148 27 145 26.5 143 25.5 142.5 24 143 23.5 143 21.5 144.5 20 144.5 18.5 145 18 147.5 18.5 149.5 16 151 17 150.5 21.5 152.5 22 153.5 19.5 152 20.5 151.5 20 151.5 18.5 152.5 17.5 153.5 17.5 153.5 16 155 15 155 0 154.5 0 154.5 1.5 152.5 3 152 4 150.5 4 148.5 0 145.5 0 145.5 1.5 147.5 3 148 5.5 147 6.5 145.5 6.5 142.5 9.5 141.5 9 140 10 139 9 139.5 6.5 141 5.5 141.5 4.5 141 3.5 143 0 129.5 0 129.5 1.5 130.5 1 131.5 1.5 134 1 135 2 135.5 4 131 6 130 9 130 11 131.5 11.5 132 12.5 129.5 14.5 130 15 129.5 16.5 131 16.5 132 17.5 132 19 133.5 19 134.5 20 134 22 132.5 23 131.5 23 131 21.5 129.5 21.5 129.5 22.5 130.5 23.5 130.5 25.5 128 28.5 126.5 27.5 126 28 124.5 27.5 122 25 122.5 23 121 21.5 121 20.5 122.5 20 125.5 22 126.5 22 127.5 20.5 127.5 18 128 17 126.5 16.5 124.5 17 123 15.5 122 17 121 17 120 18 119 17 120 16 121 16 121.5 15 121.5 13 122 12.5 121.5 10.5 122 9.5 120.5 9.5 119.5 7.5 118.5 7.5 117 6 116.5 4.5 114 6 114 7.5 112.5 10 114 9 115 9 118.5 12 119.5 12 120 13 118.5 14.5 117 14 115.5 16 113.5 16 112.5 14 110.5 14 109.5 13 109.5 10.5 111 9.5 111 9 109.5 9 108.5 8 109 6.5 108.5 6.5 107.5 5 109 3.5 111.5 3.5 113 1.5 112 0 106 0 105.5 .5 105.5 2 107.5 5 106.5 6 105 6 104.5 6.5 104.5 8 101.5 11 103.5 14 103.5 15.5 104.5 16.5 104.5 18 104 18.5 101 18 100 18.5 99 20 98 20 97.5 19.5 97.5 18 96.5 17.5 96.5 15.5 97 15 96.5 12 95.5 13 94 13 90 15.5 90 18 86.5 22.5 85.5 22 81 17 80 16.5 77.5 17 77 16 76 16 77 17 77 18.5 76 19.5 76.5 25.5 78 27 78 29 78.5 29.5 78 30 78 32.5 79 33.5 78.5 34 78.5 38 76.5 39.5 76.5 41.5 77.5 43.5 77 44 75 44 74.5 43.5 74.5 42 73 40 73.5 39.5 73 37 71.5 35.5 71.5 34 70.5 34.5 70 36 68 36 68 37.5 68.5 38 68 38.5 65 38.5 64 37.5 62.5 37.5 60.5 34.5 59 36 58.5 37.5 57.5 37.5 57 36.5 55.5 35.5 54 35.5 53.5 35 51.5 36 52 38 50.5 39.5 51.5 41.5 50.5 43 50 47.5 51.5 47.5 52.5 48.5 51.5 50 55 52.5 55 55 53 56.5 52.5 57.5 51 57.5 50.5 58 49 57 49 56.5 50.5 55.5 48 54.5 46.5 53 46 51 44 49.5 40.5 49 41 52.5 39.5 54 38.5 54 37.5 53 36 53 35.5 52.5 33.5 52.5 32.5 53.5 30.5 53.5 29 51.5 28 51.5 27 50.5 25.5 47.5 27 45.5 30 45.5 30.5 46.5 33 46.5 33.5 48 32.5 49 34 50 35 50 36.5 48 38 48 38 47 39 46 40 46.5 42.5 45 43 44 41.5 43 42.5 41.5 44 42.5 45.5 42.5 45 41.5 45 39 43.5 37.5 41 33 40.5 29 40 28.5 37 30.5 36.5 31.5 38.5 33 38.5 35 39 35.5 38.5 36.5 35 36.5 34.5 35 33 35.5 32 35 29 35 28.5 34 29 33.5 31.5 33.5 33 32.5 33 30.5 32.5 30 33 28.5 32.5 27.5 33.5 25.5 34.5 25.5 35.5 26.5 36.5 26.5 37.5 25.5 39.5 27 41.5 27 43.5 26 46 26 47.5 25 52 25.5 53 25 53.5 23.5 55 23 55 21.5 55.5 21 57.5 21.5 58.5 20.5 60 20.5 61 19 62.5 18.5 63.5 19 62.5 20.5 62.5 22.5 64 23.5 65 25 63.5 26.5 61 26.5 60.5 27.5 59.5 28 59.5 29 61 28.5 63 29.5 68 28 68.5 28.5 68 29.5 68.5 30 70.5 28.5 70.5 27.5 69.5 26 66 25.5 65 24.5 66.5 23 66 22.5 66 19.5 67.5 17 68 15 69.5 13.5 71.5 13.5 73 14.5 73.5 13.5 76 11.5 76 10.5 74 9 70.5 9.5 69.5 8.5 68 4.5 68.5 1 69.5 .5 69.5 0 64 0 63.5 .5 65.5 3 65.5 4.5 66 5 66 8 65 9 65.5 10 67.5 11.5 66 14 62.5 15 63 16 63 17.5 62.5 18 61 18 60.5 17.5 61 15.5 57.5 12.5 54 12.5 52.5 10.5 51 12.5 49.5 10.5 49.5 9.5 50.5 8 52 7.5 54.5 5 56 5 56.5 5.5 56.5 7 57.5 8.5 57.5 9.5 60.5 10 60.5 8 62 6.5 60.5 5 61 4 61 1.5 60 0 48.5 0 47.5 2 46.5 1.5 45.5 0 28.5 0 29 4.5 28.5 5 27 5 27 6 28 7 28 9.5 25.5 10.5 24.5 10.5 23.5 9 21 10.5 19 8.5 18.5 7.5 19 7 16.5 8 14 5.5 14 4 13.5 3.5 13.5 2 14 1.5 15.5 2.5 16.5 1 19 3 20 3 23 1 26 1.5 25 0 15.5 0 15 .5 12.5 0 11.5 1.5 10.5 1.5 9.5 0 6 0 6.5 1.5 8.5 3.5 7 5.5 9 8 9 11.5 11 14 11 16.5 11.5 17 11 18.5 8.5 18.5 7 16 7.5 15.5 8.5 16 9 15.5 8.5 14 8 14.5 6.5 14 7.5 12.5 7 10 8 9 7 8 5.5 8 3 6.5 .5 6.5zM29.5 113.5 30.5 113 31 114.5 30 115zM141.5 112.5 142 112 143 112.5 142.5 113zM5 108 5.5 107.5 6 108 5.5 108.5zM109 105 110 106 110 107 109 108 107 108 106.5 107zM.5 105.5 1.5 104.5 3.5 105 4.5 106.5 3.5 107.5 2.5 107.5 1 106.5zM122 101 123 103 122 103.5 121.5 102.5 120.5 103.5 122.5 104.5 123.5 106 123.5 107.5 121 110 118.5 111 117 111 116 110 116 109 118 105.5 119.5 104 119 102.5 120.5 101zM131.5 99.5 133 100 133 101.5 134 102.5 134 103.5 135.5 104.5 135.5 108.5 137 107.5 138 108.5 137.5 109 139 107.5 139.5 108 139.5 109.5 141 111 140.5 112.5 139 113 138.5 114 136.5 115 135 115 134.5 115.5 133.5 115 130.5 110.5 131 109.5 130 107.5 133 105 130.5 101zM101 99 102.5 99 103 99.5 103 103 102.5 103.5 101.5 103.5 99.5 101zM147.5 96 148 95 149.5 95.5 148.5 96.5zM45.5 91.5 47.5 94.5 47.5 96 46 99 47.5 100 47.5 101.5 48.5 103.5 48 104 48 106 45.5 109 44 110 43 108.5 40 106.5 38.5 102.5 39.5 99.5 40 100 42.5 99.5 42.5 98 42 97.5 45.5 94.5 44.5 93zM86 90 86.5 89.5 87 90.5 86.5 91zM50.5 91 51 89.5 52 89.5 53 90.5 52 91.5zM148 90 147 93.5 144.5 94.5 142 94 142 94.5 140.5 95.5 140.5 97.5 139.5 99 136.5 97 135.5 97 133.5 98.5 132 98.5 131.5 98 131.5 95.5 129.5 93 131 91.5 133 91.5 135 90.5 136 90.5 137.5 91.5 138 91 141 91 141.5 90.5 141.5 88.5 143 87.5 145.5 87.5 146.5 89zM33.5 86.5 34.5 85.5 36.5 85.5 38.5 87.5 38.5 89 39.5 89 40.5 90 40.5 91.5 40 92 36.5 92 34.5 89 34.5 87.5 34 87.5zM48.5 81 53.5 81.5 56.5 83.5 58 82.5 60 79.5 61 79.5 61.5 81 63 82 63 83 66 86.5 64.5 87 64.5 87.5 65.5 88 67 87.5 69.5 88 70.5 87 70.5 84.5 71.5 83.5 72.5 83.5 75 86 75.5 87.5 73 89 72 87.5 71.5 88.5 72.5 90 70.5 92 67 91 64 91.5 63.5 90.5 63 90.5 64.5 92 65 94 64.5 94.5 62.5 94.5 60.5 97.5 59.5 96.5 59.5 95.5 55.5 92 55.5 91 54.5 90 54.5 88.5 55.5 88 55.5 87 54 86 51.5 86 50.5 86.5 50 86 50 84 48 81.5zM45 78.5 45.5 78 46 78.5 45.5 79zM131.5 77.5 132 77 133.5 77 134 78 133 78.5zM110 77 110.5 78 109 79 108.5 78zM142.5 76.5 144 78 144.5 80.5 143.5 81.5 142.5 81.5 141 82.5 140.5 83.5 137.5 86 135.5 86.5 134.5 88 133.5 88 133 87.5 133.5 86 133 82.5 135 79.5 138 80 139.5 78 140.5 78zM38 77 38.5 76.5 39 77 41 77 42.5 78 43 79.5 44.5 79.5 45 80 44.5 82.5 44 83 43 82.5 42 80.5 39.5 81 39 80 40 78.5 39 78.5zM28.5 75 29 74.5 29.5 75.5 29 76zM41.5 74.5 42.5 74 43 75 42 75.5zM150 72.5 151 73.5 150 74.5 149 74.5 148 77 146.5 78 145 76.5 145.5 74 147 73zM44.5 71 45.5 71.5 45.5 73 46 72.5 49.5 75.5 49.5 76.5 48.5 77.5 47.5 76.5 46.5 76.5 45.5 77.5 43.5 77.5 43 76.5 44.5 75.5 44 74.5 44 71.5zM83.5 67 84.5 66.5 85.5 68 85 68.5 84 68zM32 68 32 67 33.5 65.5 34 65.5 35 67 35.5 67 36 66 38.5 66 39 65.5 40 65.5 41.5 67 42.5 66.5 43 67 42.5 68 41.5 68 40 69.5 38 69.5 37 70.5 34.5 70.5 34 69.5zM89.5 63 90 64 88.5 65.5 87.5 65.5 87 65zM97 62.5 97.5 62 99.5 62.5 100 63 100 64.5 99.5 65 101 65.5 103.5 65.5 105 64 105.5 64.5 105.5 67 107.5 67 108 67.5 109 67 110 68 110 70 111 71.5 111 74 113 72.5 115.5 76 114 77.5 113 77 113 75.5 112 75 111 75.5 110.5 77 108 76.5 106 74 106 71.5 105.5 71.5 105.5 72.5 104.5 73 103 71 101.5 71.5 100 71 100 72.5 98.5 74 97.5 74 96 72.5 96 71 95.5 70.5 96 69 97 69 99 67.5 99 66.5 97 64.5zM88 62.5 88.5 62 89 62.5 88.5 63zM102.5 57.5 106 60 104.5 62 103 61.5 103 59.5 102 58.5zM101.5 57.5 102 57 102.5 57.5 102 58zM93.5 55 94.5 56 93.5 57.5 92.5 56.5zM41.5 54.5 43.5 56 43.5 57.5 40.5 59.5 39.5 58.5 39.5 57.5 40.5 57 39.5 55.5 40.5 54.5zM112.5 49.5 115.5 50 117 48 118 48 119.5 50.5 123 53 124 51.5 124 49.5 125.5 48.5 128 48.5 128.5 49 128 54.5 126.5 55 122 58.5 121 58.5 120.5 57.5 119.5 58 120 59.5 122.5 61 124 64.5 124.5 64.5 124.5 62 125.5 61 125 59 126 58 127.5 59 128 61 129.5 61.5 131.5 61 132.5 62 132.5 66 131 67.5 132 70.5 131 71 130.5 75 128.5 77.5 126 78 124 75.5 124 73.5 122.5 73 121.5 71.5 119 71.5 115.5 70 114.5 68.5 113 67.5 113 66 112 65 112 63 111 60.5 111 59.5 112 59 112 57.5 110.5 56 110.5 54.5 111.5 53.5 111 52.5zM122.5 46 123 46.5 122.5 48 121.5 47zM78 46.5 79.5 46 80 47.5 79.5 48zM58.5 47 59.5 46 62.5 46.5 65 44.5 67.5 45.5 69.5 44 70 44.5 70 46.5 71 46.5 72.5 47.5 72.5 48.5 71.5 49.5 72 51 71.5 53 72.5 54.5 70 56.5 69 55.5 69.5 53 67 50.5 66 48.5 64.5 49.5 63.5 49.5 62.5 50.5 60 51 59 50 59.5 48.5zM10.5 43.5 11.5 43 12.5 44 13.5 44 14.5 43 15.5 44.5 18.5 47 19 49 18.5 49.5 13 45.5 11.5 46 10.5 45zM82 40 83 41 82.5 43 81.5 44 80.5 43.5 78.5 44.5 77.5 43 78.5 42 79.5 42 79.5 41 80.5 40zM30 40 31 40 33.5 42 33.5 44 32.5 45 31 45 30.5 44.5 30.5 43 29.5 42 29.5 40.5zM86 39.5 87 39.5 89 42 91 42.5 92 43.5 91.5 44 90 44 88.5 46 86.5 46 85.5 45 84.5 46.5 84 50.5 87.5 51.5 89 52.5 89.5 53.5 87.5 54.5 86.5 56 84.5 56 84 56.5 84.5 58 84 59.5 81 59 80 58 79 58 77.5 59 75.5 61.5 74 62 71 61.5 69 63.5 68.5 65.5 67 66.5 67 67.5 68 68.5 72.5 69 75 67.5 76 65.5 79 65 80 66 80 67.5 78.5 69 77.5 69 77 70 78 72.5 79 72.5 79.5 73.5 81 74 83.5 76 82.5 77 84.5 78.5 83 81.5 83.5 83 86 82.5 88 80 87 77.5 88 77 89.5 75 92 74.5 93.5 75.5 97.5 76 98.5 77.5 96 79.5 96 81 95 82.5 94.5 85 93.5 86 91.5 86.5 92.5 88.5 93.5 88.5 93.5 87.5 96.5 84 99 84.5 103.5 89 105 88.5 106.5 86.5 107.5 86.5 109.5 85 110.5 86.5 110.5 88 109 90 109.5 91 112 90.5 114.5 89 114.5 88 111.5 84.5 112.5 83.5 114.5 83 116 81 116.5 81.5 118.5 81.5 120 83 122.5 82.5 122.5 82 119.5 81 119.5 79.5 121 78.5 126 81.5 127.5 83 128.5 85.5 128 87.5 127 88.5 124 88 123 89 123 90 122 91.5 122.5 93.5 123.5 93.5 125.5 95.5 125.5 96.5 121.5 98 119.5 100 118.5 99.5 119 96.5 118 94.5 116.5 95 115 97 113.5 97 113 97.5 111 97.5 107.5 95 105 97 102.5 97 102 96.5 103 95.5 104.5 95.5 103.5 94.5 103.5 93 104 92.5 103.5 91.5 98 92 95 90.5 92 91.5 92 93.5 93.5 94.5 93.5 96 96 97.5 96 99 94 102.5 92.5 102 92 99.5 90 97 89 97 88 98 86 98.5 84 101 85 102.5 86.5 102 87.5 103 88.5 103 91 106.5 89.5 111.5 91 112 91.5 114.5 92.5 116 92.5 117.5 91.5 118.5 90.5 117.5 88.5 117 87 115 85.5 114.5 87 114 87.5 113 85.5 111.5 84 109 83 109.5 81.5 109 78.5 109.5 77 108.5 77 105.5 75.5 105 76 103.5 75 102.5 75.5 101 79 98.5 79.5 98.5 80.5 100 81.5 100 81.5 97.5 82 96.5 87.5 90.5 87.5 89.5 89 88 89 85.5 84.5 84 84 85 84.5 86.5 82.5 88 80.5 88 80 87.5 79 90 78 91 77 91 76 90 76 89 77 88 78 88 78.5 86 80 84.5 81.5 85 82 83.5 80.5 83 80.5 84 79.5 84.5 77.5 82.5 77.5 79.5 78 79 77.5 78.5 75 78 74 79 72 79 71.5 79.5 70.5 77 70.5 76 72.5 74.5 71.5 73.5 70 73.5 68.5 74.5 66.5 74 63 75.5 62 75.5 61 74.5 62.5 76.5 62.5 78 62 78.5 60.5 76.5 58 75 58 74.5 59 73.5 60 73.5 60 73 58 70 58 68 57.5 67.5 58 66.5 59 67 60.5 70.5 62 71 61.5 70 63.5 67.5 63 64.5 64 63.5 64 63 63 63 62 62 62.5 61 62 58.5 60 60 60 63 59 64.5 58 64.5 57.5 63.5 56 63.5 54 61 54 60 55 59 57.5 59 57.5 57.5 60 54 61 54 62.5 55.5 62.5 56.5 63.5 58 66.5 55.5 68.5 55.5 70 57.5 73 57.5 74 56.5 77 56 77 54.5 77.5 54 81.5 54 82 53 80.5 52 82 50 81.5 47 82.5 46.5 82.5 45 84 44 83.5 41.5 84 41 85 41.5 85 40.5zM58.5 39.5 59.5 41.5 59 42 57 41zM84 39 85 40 83.5 41 83 40zM104 51.5 104.5 51 104.5 49 105.5 47.5 105.5 45.5 107 44.5 108 43 109 43.5 109 45.5 109.5 46 111.5 45.5 111.5 43.5 109.5 43 108.5 42 108.5 40.5 107.5 39.5 105.5 40 104 39 106 36.5 107.5 36.5 109.5 38 111.5 38 113.5 39.5 114.5 39.5 114.5 39 116 38 118 38 119 39 121.5 38.5 123 39 126 42.5 126 44 124.5 46 123 46.5 121.5 45.5 118.5 45.5 117.5 46.5 116 46.5 114 48.5 108.5 50 108.5 51 107.5 52 105 52.5zM121.5 36 122 35.5 123 36 122.5 36.5zM28 35.5 28.5 37 27.5 38 25.5 38.5 25 37.5zM10.5 37.5 12 35.5 13.5 35.5 15 36.5 15 37 13 38.5 11.5 38.5zM25.5 33.5 26 33 26.5 34 26 34.5zM147 33 147.5 32.5 148 33 147.5 33.5zM117 29.5 118 29 118.5 30 117.5 30.5zM122.5 29.5 123.5 28 126 28 127 29 126 30 125 30 123.5 31zM145 27.5 143.5 30 141.5 29.5 139 32.5 137.5 32 137.5 30 138.5 29 140.5 29 140 28 141 27 144.5 27zM18 27.5 19 27 20 28.5 19 29.5 18 28.5zM81.5 27.5 83.5 26.5 85.5 26.5 88.5 28.5 91 28.5 92.5 27.5 92.5 26.5 93.5 25.5 94 26 98 25.5 99.5 27 99.5 28 98.5 29 96 28.5 93.5 30 93.5 31.5 95 33 96.5 33.5 100 33.5 100.5 35 102.5 36.5 102 37 102.5 38 102 40 103 41.5 102 43 102.5 44.5 100.5 46 100.5 48 100 48.5 100 49.5 102.5 52 103 53.5 101.5 55.5 100.5 55.5 97.5 53.5 97.5 52.5 98.5 51.5 98 50 99 49 98.5 48 97.5 47.5 97 48 97.5 49.5 97 50 95 50 93.5 49.5 92 47 90 46 91 45.5 92 44 94.5 43.5 95 44.5 93.5 46.5 95 47 96 46.5 95 43.5 94 43 93 41.5 95 40 95 38 98 37 98.5 36 95.5 35.5 93.5 38 92 37 90.5 37 89.5 36 88.5 36 88.5 36.5 87 37.5 80 30 80 29zM30 23 31 24 31 25 28.5 27 28 25.5 29.5 24.5 29 23.5zM26 22 27 22 28 23 26.5 25 25 23.5zM2 22 3 21 7.5 21 9 20.5 12 22.5 12 23.5 13.5 25 13 27 12 28 8 27.5 7 26 5.5 26 3.5 24.5zM93.5 21.5 94 20 95 21 94 22zM52.5 19 53.5 18.5 54 19.5 53.5 20zM116 18 116.5 18.5 116.5 21 114 24.5 115.5 25 116.5 27 116 27.5 112.5 27.5 111.5 26 109.5 26.5 109.5 28 111 29 112.5 28 114.5 29.5 112.5 32 111 32 109.5 34 108.5 34 107.5 33 107 33.5 105 31 105 30 106 29 106.5 27 104.5 26.5 102.5 24 103 19.5 104 18.5 105 19.5 106 21.5 106 23.5 105.5 24 107 25 108.5 24.5 108.5 24 106.5 22.5 106.5 21.5 108 19.5 111 20.5 114 17.5zM20 16.5 21 17.5 19.5 18.5 19 17.5zM64.5 15 65 16 64 16.5 63.5 16zM18.5 13.5 20.5 15 20.5 16 20 16.5 18.5 16.5 17 18.5 15 17 16 16 16.5 14 17 13.5zM14.5 13 15.5 12.5 16.5 13.5 15.5 14zM44 11 45 11 46.5 12.5 46 14 46.5 14.5 47 14 48 14.5 48 18.5 46.5 19.5 46.5 20.5 45 22 44 20.5 41.5 18.5 39 20 37.5 19 38.5 15.5 41 16 42 15 44 15 44 13.5 43.5 13 43.5 11.5zM138.5 9 139 9.5 138 11 136.5 11.5 136 10 137 9zM137 6 137.5 5.5 138 6 137.5 6.5zM137.5 5.5 138 5 138.5 5.5 138 6zM154 3.5 154.5 3 155 3.5 154.5 4zM33.5 3 35 4 37.5 4 39.5 5.5 39.5 7 37 9 35 10 35 11.5 35.5 12 32 14.5 32.5 18.5 34 19.5 33.5 20 33.5 22.5 32 23 31 22.5 29.5 20.5 28 20.5 26.5 18.5 27 17 26.5 15.5 28 13.5 28 12 29.5 10.5 30 7 30.5 6.5 32 6.5 32.5 7 31 5zM9 3.5 9.5 3 10.5 4.5 10 5zM45 .5 45.5 .5 48 3.5 47.5 5 47 4.5 45.5 4.5 44.5 3.5 44 2z"/>
<path fill="#d5e7db" fill-rule="evenodd" d="M149 118.5 149 119 149.5 119 149.5 118.5zM152 118 152 119 153 119 153 118.5zM138.5 116 139.5 116.5 139.5 116zM151 114.5 151 115 151.5 115zM137 114 137 114.5 138 114.5zM107 114 107.5 114.5 109 114.5 109.5 114 108 113.5zM126 113 126 114.5 126.5 115 127 113.5zM96.5 113.5 97 114 99 113.5 97.5 113zM133.5 110 134 111.5 136 111 135.5 111 134.5 109.5zM96.5 109 96.5 110.5 97.5 110.5 97.5 109zM155 108 154.5 108.5 155 108.5zM105.5 105.5 105.5 106 106 106 106 105.5zM155 102.5 154.5 103.5 155 103.5zM149 103 148 104 146 102.5 144 104 142 103 141 104.5 139.5 104.5 138.5 106.5 137.5 106 137 106.5 137 107.5 138 108.5 137 112 137.5 112.5 139 112 139.5 113 141 113 142 114 142 115 143 115.5 144.5 115.5 145.5 114.5 145 113.5 145.5 113 147.5 113.5 148.5 112.5 149.5 112.5 150 110 151 109.5 152 107.5 150.5 106.5 151 104.5 149.5 106 148 105 149 104zM143.5 114 144 113.5 144.5 114.5 144 115zM103.5 101 103.5 103 104 103 104 101zM105.5 99 105 99.5 105.5 100zM109 98 108 99 108 100 109 101 110 101 109.5 99.5 110.5 99zM148 97.5 148 98.5 149 99 148.5 97.5zM99 97.5 99 98 100.5 98zM154.5 96.5 154.5 97 155 97 155 96.5zM142.5 93 141.5 93.5 141 95.5 142.5 95 143 94zM100.5 90 99.5 90.5 100.5 90.5zM121.5 89.5 121 89.5 120.5 90.5 121 92 120.5 93.5 121 94 122.5 91.5 121.5 90.5zM154 88.5 153 88.5 153 89.5 153.5 89.5zM142 90.5 140 89.5 136.5 90.5 136 89.5 137 89 137.5 87 136.5 87.5 137 88 136.5 88.5 135 88.5 135 89.5 136 90.5 135 91.5 132 91 131 90 132 88.5 131.5 88 129.5 88.5 128.5 90.5 127 91.5 126 91.5 125.5 90.5 124.5 90 124 90.5 124 92.5 123 93.5 123 95 122 96 121.5 95.5 122 97 123.5 96 124.5 97 124.5 98 121 99 119 100.5 118.5 101.5 122 99.5 122.5 101 123.5 101.5 123.5 99.5 125.5 98.5 126.5 98.5 127.5 100 129 99.5 130 101 132.5 101.5 135.5 99 136.5 99 137 99.5 135.5 101 136.5 102 136 103 136.5 103 138 100.5 139 100.5 140 99.5 140.5 101 141 101 140.5 100.5 142.5 98 140.5 99 139 98 139 96.5 138.5 96 139.5 95 140 92.5 141.5 91.5zM129.5 98.5 130.5 98 131.5 99 130 99.5zM131.5 85 132.5 86 133.5 85.5zM120.5 85 118.5 85.5 119 88.5 120 88.5 120.5 87.5zM111 85 110.5 85.5 111 85.5zM143.5 84.5 145 84.5 144.5 84zM130.5 82.5 130.5 83 131 83zM121.5 82.5 123.5 83 123.5 82.5zM91.5 80 92 82 92.5 80.5zM118.5 79.5 118 80.5 118.5 80.5zM140 76.5 140 77 140.5 77zM104 76.5 104 78 105.5 79 106 77.5 105 76.5zM122.5 75.5 122 76 122 77.5 123.5 77.5zM94 74 94 74.5 94.5 74.5 94.5 74zM131.5 73 131 73.5 131.5 73.5zM92.5 72.5 93 73 93 72.5zM118 71.5 118.5 72 119 71.5zM116 71 117 73 117.5 72.5zM101.5 71.5 100 71 100 73 97.5 75 98 76 99.5 76 100 75.5 100 73.5zM140 70.5 139.5 71 140 71zM134 70.5 134.5 71.5 135 71.5 135 71zM141.5 70 141.5 70.5 142 70.5 142 70zM108 69.5 107.5 70 108.5 71 108 71.5 108 73 108.5 73.5 107 74 107 75.5 108 75.5 109 77.5 108 78 108 79.5 110.5 79 110.5 77.5 111 77 112.5 78.5 112.5 80.5 115 80 115 79.5 112.5 77.5 112.5 77 114.5 75.5 115 74 114.5 72 113.5 71.5 112 71.5 111.5 72 109 71.5zM74 68 73 67.5 72 68.5 70.5 68 69.5 68.5 72 69.5 73.5 69zM97 67 97 67.5 97.5 67.5 97.5 67zM69.5 72.5 69.5 74 70 74 71 75.5 72.5 75 73 75.5 72.5 76 74 77 76.5 77.5 76.5 76.5 75 77 73.5 75.5 74 74 75 75 78 75 78.5 75.5 78 76.5 80 77.5 80 76.5 81 75 80 74 79.5 74.5 78.5 74 78 72.5 79 70.5 78 70.5 77 69 78.5 67.5 79.5 69 80 68.5 80.5 69 81.5 68.5 81 68 79 68 77.5 67 76.5 67.5 77 69 76 70.5 75 71 74.5 70.5 72 70.5zM70.5 73 71.5 72.5 72 73.5 71 74zM118 65 119.5 66.5 119.5 67.5 120 67.5 120 66 119 65zM153.5 64 154 66.5 152 68 150.5 65.5 148.5 68 146.5 67.5 146 66 144.5 66.5 144 66 143.5 66.5 142 66 143.5 68.5 144 71 145.5 72 145 74.5 142.5 75.5 142.5 76 144 76 145 77.5 144 78.5 142.5 78 142 78.5 143.5 80.5 143 82 144 83 147 84 146 82.5 145 83 144 82.5 144 81.5 145 81 145 79.5 145.5 79 147.5 80.5 148 82.5 149 82.5 148.5 81 150 80.5 151 82.5 152 83 152.5 82.5 151 81 152 80.5 153.5 82 154 83.5 155 84 155 65.5 154.5 65.5zM125.5 63 125.5 63.5 126 63.5 126 63zM106.5 63 106 63.5 106.5 64.5 107 64zM133 61 132.5 61.5 133 61.5zM146.5 59 146 59.5 145.5 63 146.5 62.5 146 61zM118 58.5 117.5 58.5 117.5 59.5zM140 58.5 139.5 58 136.5 60.5 139.5 60zM107 58.5 110.5 58 112.5 59 113 57.5 109.5 57zM136.5 54.5 136 55.5 137 56zM153.5 54 153.5 55.5 154 55.5 154 54zM133.5 53.5 132.5 54 133 54.5zM155 52.5 154.5 53 155 53zM116.5 53 118 55 117.5 56 119 56 120 57 119.5 57.5 119.5 60 121 60.5 119 62 120.5 64 121.5 64 122 62.5 123.5 62.5 124 63 124.5 62.5 123 60.5 124.5 59.5 126.5 61.5 126 60.5 127.5 60 128 60.5 127.5 61.5 129.5 62.5 132 60.5 131.5 59 133 58.5 133 58 132 58.5 131 57.5 130.5 55 131.5 53.5 130 52.5 127.5 53 125.5 54.5 125 54 125 52.5 124 52.5 123 51 122 51.5 122.5 52 123 51.5 124 52.5 122.5 53 122.5 54 121.5 54.5 120 52 120.5 51.5 118 51 118 52 119 53 118 54 117.5 53zM121 61.5 121.5 61 122.5 61.5 122 62zM96.5 51 96.5 52 97 52 97 51zM141 50.5 140.5 51 141 51zM92.5 50 93 51 94 51 94 50.5zM111.5 49.5 110.5 50 111 51zM148 48 148 48.5 148.5 48.5 148.5 48zM140 47.5 140 48.5 141 49 141.5 48zM124 47 124.5 48 127.5 47.5 127.5 46.5 126.5 47 124.5 46.5zM105 46 104 47 104 48.5 104.5 49 106 47zM94.5 46 95.5 46.5 95.5 45.5zM109.5 44 110 45.5 111.5 44.5 111.5 44zM148 41.5 147.5 42 147.5 43.5 149 43.5 149 42zM120.5 41 120.5 41.5 121 41.5 121 41zM114.5 41 115 42 115.5 41.5zM114.5 38 113.5 38 114 39.5zM102.5 37.5 102 39 104 41 104.5 40.5 103 39 103.5 38zM127.5 34.5 127 34.5 127 35zM125 31.5 125 33 125.5 33zM105 31 105.5 32 107.5 32.5zM106 29 106 30 107 30 107 29.5zM111 27 110.5 27 110.5 28zM149.5 26.5 147.5 27.5 148.5 29 150 28zM103 26.5 103 27 104.5 27 105.5 28 105 27zM99.5 25.5 99.5 26 100 26zM138 23.5 137.5 23.5 137.5 24.5 138.5 25.5 138 26 136.5 26 135.5 23.5 133 25 132 25 130.5 27 129 27.5 128 26 127 25.5 126.5 27 125 28 125 29.5 128 31 129 32.5 129 35 126 37.5 126 38.5 125 39 125 40 126 40 127.5 37.5 130 39 129.5 40.5 128.5 40.5 126.5 42 127.5 45 128 45 128 43.5 129 43 129.5 42 130.5 44 132 43 134.5 46 135 46 134.5 44.5 135 43.5 137 45 140.5 42 141 42.5 142.5 42 141.5 40.5 141 37.5 139.5 38 138.5 37 138.5 36 139.5 35.5 139.5 33.5 140 33 142.5 34 142.5 33.5 141.5 32.5 141.5 31.5 140.5 31.5 140 32.5 139 32.5 138 31 138.5 30.5 138.5 28.5 137.5 27 138 26.5 139 27.5 140 26.5 140 25zM138.5 41.5 139.5 41 140 42 139 42.5zM125.5 39 126 38.5 126.5 39 126 39.5zM128 37 129 36.5 129.5 37.5 128.5 38zM131 23.5 130 23.5 130.5 24.5 130 25 130.5 25.5 130.5 24.5 131.5 24zM119.5 23.5 119 24.5 120 25zM154.5 22 154.5 23.5 155 23.5 155 22zM125.5 21.5 125.5 22 126 22 126 21.5zM150.5 20.5 150.5 21 151 21zM116.5 20.5 117.5 20 116.5 20zM119.5 19.5 118.5 20 119 20.5zM100.5 18.5 100 19 100.5 20.5 101.5 19.5 101.5 19zM147 17.5 147 18 147.5 18 147.5 17.5zM143 16 143 16.5 143.5 16.5zM131 15 131.5 16 132 15.5zM112.5 14 111.5 14 111 15.5 112 15.5zM141 13 141 13.5 141.5 13.5 141.5 13zM106 12.5 105.5 13 106 15.5 108 15.5 109 14 108.5 14.5 107 14.5zM105 9.5 104 10 103.5 11 104.5 11zM132.5 6.5 132.5 7.5 133.5 7zM142.5 4.5 140 4.5 140 6 138.5 6.5 137.5 7.5 137.5 8.5 138.5 8.5 139.5 6.5zM110.5 1.5 111.5 3.5 112 2.5zM119 1 118.5 1.5 119 1.5zM142.5 0 142 1 143 1.5 143 3 145 4 143.5 6.5 142 7.5 144.5 7 146 9 145.5 10.5 144.5 11 142.5 10.5 142.5 11 143.5 12 146 12 148.5 13.5 150 13 151.5 14.5 150 16 149 14.5 146 14.5 145.5 15.5 146.5 16 148 15.5 151 16.5 152 15.5 153.5 15.5 155 14.5 155 0 154.5 0 155 .5 154 1 153.5 0 150 0 150 .5 151.5 .5 152 1 151 2 149 1.5 147.5 3 146.5 3 145.5 1.5 146 .5 146.5 1 147.5 .5 147.5 0 145 0 144 2 142.5 1 143 0 143.5 .5 143.5 0zM131 .5 132 0 131 0z"/>
<path fill="#dcaac6" fill-rule="evenodd" d="M21 68.5 20 68.5 20.5 69.5zM22 59 4 61 4.5 72 5.5 72.5 5.5 74 4.5 75 5 86 6.5 85 7.5 85 8.5 86.5 10.5 87 11.5 85.5 12 87 14.5 88.5 13.5 90 11 90 9.5 88.5 7.5 88.5 6 87.5 5 87.5 6 114 22 114 22 96.5 20.5 97.5 19 96.5 19.5 95.5 21 95.5 22 94.5 22 93 21 93.5 20 93 20 92 22 90.5 22 74 21.5 73.5 22 71 19.5 70.5 18 69 18 68 19 67 21 67.5 22 66.5zM19.5 110.5 20 110 20.5 110.5 20 111zM12.5 108.5 14 106 17.5 107.5 17.5 108.5 15 110zM10.5 106 12 106.5 11 108 11.5 111 11 111.5 7 109.5 7.5 107.5zM6.5 101 7 101 9 103.5 8 105 5.5 102zM20.5 101 21 100 22 100.5 21 101.5zM14.5 97.5 16.5 97.5 19 99 17.5 101 16.5 99.5 15.5 99.5 15.5 102.5 19 102 20 103 18.5 104.5 16 104 16.5 105 16 105.5 14.5 105 14.5 104 13 102.5 13.5 101 12.5 100zM15.5 95 16 95.5 15 97 14 96zM5.5 96 7.5 94.5 8.5 96 11 96 11.5 95.5 12.5 97 12 97.5 10 97 9 99 7 98zM10.5 92 12 93 11 94.5 9.5 94 9.5 93zM16 89.5 18.5 91 17.5 92.5 16 92.5 15 91.5 15 90.5zM16.5 86.5 18 86 19 87 19 88 18.5 88.5 17 88.5 16.5 88zM18.5 83.5 20.5 85 20.5 86.5 20 87 18.5 86.5 17.5 85zM13.5 82 13.5 81 14.5 80.5 15 81.5 14 82.5zM20.5 78.5 21.5 79.5 21.5 80.5 21 81 19.5 81 19 80zM12.5 79 13 78.5 13.5 79 13 79.5zM10.5 77 11 77.5 11.5 81.5 10 82 8.5 80.5 7.5 80.5 7 81.5 8.5 83.5 7.5 84.5 6.5 84.5 5 82.5 6 79.5 7.5 78zM13.5 76.5 14 78 13 78.5 12.5 77.5zM16.5 76 17.5 77 17 78 15.5 77zM17.5 72 19.5 71 20.5 72 20.5 73 19.5 73.5 18 73zM14 71 14.5 71.5 14.5 74 13 74.5 12.5 74zM7 70.5 9.5 71.5 9 72.5 9 74 9.5 74.5 8 77 7 77 6 76 6.5 75 6.5 71zM12 69.5 12.5 69 13 69.5 12.5 70zM7.5 69.5 7.5 69 9 68 12 69 9.5 70.5zM5.5 66 6 67 5 68 4.5 67zM7.5 66.5 8 65.5 7.5 65 8.5 64.5 9.5 65.5 8 67zM12 62 13.5 63 13 64.5 12 64.5 11 63.5zM15 61 16 63 17 63.5 17 65 17.5 65.5 17 66.5 16 65.5 14.5 65.5 14 66 13.5 65 14.5 64.5 13.5 62.5zM6.5 60.5 7 61 6.5 62.5 5.5 61.5zM15 60 16 59.5 16.5 61 15.5 61.5z"/>
<path fill="#8e3c86" fill-rule="evenodd" d="M64.5 111.5 64 113 64.5 114.5 65 114.5 65 111.5zM118.5 52.5 117.5 51.5 116 51.5 115 52 114.5 53 115 54 116 54zM121.5 44.5 121.5 45 122 45zM126.5 10 126 10.5 126 12 127.5 15 128.5 14 128.5 11.5 127.5 10zM104.5 4 104.5 6 105.5 6.5 105.5 5.5zM74.5 1 74 2.5 75 3.5 76 2.5 75.5 1.5zM99.5 1.5 100.5 2.5 103.5 2 104.5 3 106.5 1.5 107 0 99.5 0zM126 6.5 120 6 120 7 118.5 8 116.5 6 114.5 6 113.5 5 114.5 4 115.5 4.5 115.5 2.5 115 2 113.5 2 112 0 111 0 111.5 3 109 5.5 108 9 104.5 11.5 100.5 11.5 99 10 99.5 7.5 98 7 96 5 95 3 95.5 0 94.5 0 94.5 1 93.5 2 87 2.5 84 5 84 7.5 83 8.5 78.5 9 76.5 8 74.5 8 74 8.5 74 10.5 73 11.5 70.5 11.5 69.5 10.5 69.5 8.5 70 8 69.5 5 68 5 66.5 6.5 62 6 59 3.5 59 1 59.5 0 57 0 56 1.5 53.5 1.5 53 2 54.5 6.5 57.5 6.5 58 7 58 9.5 57 10.5 53.5 10.5 52 9.5 52 8 50.5 6.5 50.5 5 52 3 50 2 49 1 49 0 46.5 0 46 1.5 46.5 5.5 46 6 42 6 39.5 4 38.5 4.5 38 7 38.5 7.5 40 7.5 42 9 42 11 41 13 38.5 14 38.5 14.5 39.5 14.5 40.5 13.5 41.5 13.5 42.5 15 40.5 19 40.5 20.5 41.5 23 40 25.5 38 24 38 22.5 37.5 22 36.5 22 35.5 24 37.5 28.5 38.5 29.5 39 34 40 34.5 43 33.5 44.5 35 44.5 37 42 40 42 41 43.5 42.5 43.5 43.5 42 45 37.5 45.5 37.5 48.5 36.5 49.5 35.5 49.5 34 47.5 36 45 36.5 40.5 35.5 39 34.5 39 33.5 42 33.5 45.5 32.5 49 31 50 30 50 27.5 48.5 30 51.5 30 52.5 29 53.5 27.5 53.5 27 53 24.5 53 22.5 51 21 51 19 52.5 18.5 55 15 58.5 15 59 16 59.5 16.5 58.5 19 56.5 20.5 56.5 21.5 57.5 21.5 61.5 22 63 20.5 64.5 19 64.5 18 63.5 16 63 16 67 14 69.5 15 71 17 71 17 69 18 68 19.5 68 22 70.5 22.5 75 20.5 76 19 74.5 19.5 72.5 18.5 72 18 74 16 76 13.5 76.5 12.5 78 13 79.5 15 79.5 17 78 18 78 19 79 18 81 15.5 83.5 12.5 84.5 16 88 12.5 92 14 94 17 95.5 18.5 97.5 17.5 98.5 16 98.5 15 97.5 15 96.5 13.5 96 12.5 98 14.5 100 16 102.5 16 105 15.5 106 16 106.5 17.5 106.5 18.5 107.5 18 110.5 21.5 113 21.5 115 21 116.5 19.5 117.5 18 115 16 114.5 15.5 114 15.5 110.5 14 108.5 13 108.5 12 109.5 12 112 11.5 112.5 12 114 15 115 18 119 62.5 119 62.5 116 60.5 114.5 60.5 112 57.5 111 57 110 57 107.5 58 106.5 58 104.5 59 103.5 61.5 105 67.5 104.5 68.5 103.5 68.5 103 65.5 100.5 65.5 99.5 66.5 98 66.5 96.5 64.5 95.5 64 92.5 62 91 60.5 91 59 89.5 59.5 86 61 84.5 61 83 62 82 67 82.5 68 81 68 80 65 78 64.5 76.5 62.5 74 62.5 72.5 65 70.5 65 69.5 63.5 67.5 64 64 62.5 62 63 61.5 65 61.5 65.5 62 68.5 62 69 61.5 69 59 66 55.5 66.5 53.5 70 49.5 70 47.5 71 46.5 73.5 46.5 74 47 72.5 49 72.5 50.5 72 51 72 52 73 53 74 53 76.5 51 78 51 80 49 81.5 49 83 50.5 85 51 86.5 49 89 48.5 90 49.5 90 51 92.5 52 94 52 96 53.5 97.5 53.5 98 52.5 96.5 51.5 95 51.5 92.5 48.5 92.5 47.5 93.5 46.5 96.5 46.5 99 50 101.5 50 103.5 51.5 104.5 56.5 105 57 106.5 57 107 56.5 111 57 111.5 56.5 110.5 53.5 113 52 115.5 49.5 115.5 44.5 117.5 42.5 119 42 122 38.5 123 38 125 38.5 126 39.5 126 42.5 128.5 44 129 43.5 129 42 128 40.5 128 38.5 130 35.5 129.5 35 128.5 35.5 125.5 35 125 33.5 126 31.5 123.5 30 123.5 28.5 125.5 27 128 29.5 129 29.5 127.5 27 126 27.5 125 26.5 125 23 124 20.5 123 19.5 123 18 124 16.5 122.5 13 122.5 11.5 126 7.5zM119 15 120 15 121.5 16.5 121 20.5 120.5 21 119 20 119 18 118.5 17.5 118.5 15.5zM47.5 6 49 8 49 10 46 11.5 45 11 44 9.5 46 6.5zM86.5 4.5 88.5 3 92 7 94 7.5 95.5 9 95 10 93.5 11 89.5 10.5 87 8 86.5 7zM42 0 42 1.5 44 1.5 44.5 1 44.5 0z"/>
<path fill="#7a2e78" fill-rule="evenodd" fill-opacity="0.8" d="M17.5 118 18 119 23 119 22 118 19 117zM20 109 21 110 25 110 25 108.5 23.5 107.5 21 107.5zM28.5 119 38.5 119 39.5 116.5 42 116.5 43.5 119 48.5 119 48.5 115 49 114.5 48.5 110.5 49 109.5 52 106.5 54 107 57 109.5 57 107.5 58 106.5 58 104.5 55.5 103.5 53 103.5 51.5 104.5 49 105 48 107 45.5 109.5 42.5 109.5 39.5 106.5 37 105 30 102.5 28.5 106 28.5 109.5 29.5 110.5 31.5 111 32.5 108.5 34.5 107 36.5 107.5 39 110.5 39 111.5 40 113 40 115.5 39 116.5 37 116.5 34 114.5 33 114.5 31.5 115.5 28.5 115.5 28 116zM13 97 12.5 98 15.5 101.5 16 103.5 17.5 105 18.5 105 19 104.5 19 102.5 16 100.5 14.5 97.5zM50 93.5 51 98.5 53 97.5 55.5 97.5 57.5 98.5 61.5 98.5 64.5 101 66 101 65.5 99.5 66.5 98 66.5 96.5 65.5 96 64 96 62.5 97 60 97 58.5 95 55.5 92.5 50.5 93zM21.5 76.5 20 77.5 19.5 79 15.5 83.5 12.5 84.5 13.5 85.5 14.5 85.5 20.5 88.5 21.5 88 25.5 84 25.5 80.5zM13.5 76.5 12.5 78.5 13 79.5 15 79.5 15.5 79 14 76.5zM63.5 75.5 63 76.5 63 79 65.5 82.5 67 82.5 68 81 68 80 67 79 66 79zM28.5 75.5 27.5 77.5 27.5 81 30 84 30.5 86 28 90 26 92 26 97.5 26.5 98 28.5 98 30.5 96 32.5 96 35.5 98.5 37.5 99 38.5 95.5 40.5 97 42.5 97 44 95 44.5 92.5 47 90.5 49 91.5 50 91 51 89 51 87 49.5 85 48 81 45.5 81 43.5 82.5 41.5 82.5 39.5 81 37.5 78 32 77 30 75zM35 85 36.5 85 38.5 86 42 89 42 90.5 38.5 94 36 92 33 88 33 86.5zM19.5 52 18.5 54.5 19.5 53zM110.5 51.5 108.5 51.5 106 53 103.5 52 104 52.5 104.5 56.5 105 57 106.5 57 107 56.5 110 57 110 55 111 53zM86 46.5 85.5 47.5 85.5 50 87.5 48.5 89 48.5 90 49.5 90 51 92 51.5 92.5 50.5 92.5 47.5 92 46.5 91 46 87 46zM37.5 46 39.5 45.5 37.5 45.5zM103 45 101 47.5 101.5 49 102.5 49.5 103.5 46.5zM102.5 42 103.5 44 104 43.5 107 43.5 107.5 43 106.5 41.5 103 41.5zM35.5 39 34.5 39 33.5 42 34.5 43.5 33.5 46 34 47.5 36 45 36.5 43.5 36.5 40.5zM88 38 88 39 90.5 41 92 41 92 39 90.5 38zM43.5 38 42 40 42.5 41.5 44 41.5 44.5 41 44.5 39.5zM81.5 47 81 46.5 79.5 48 77.5 48 76.5 47 76.5 44.5 75 44 73.5 42.5 73.5 40 73 39 70.5 37 70.5 35 69.5 36.5 66.5 39 64.5 39 60 37.5 59.5 38.5 60.5 40 60.5 41.5 59 42.5 57 41.5 56.5 40.5 56.5 38 54.5 36 52.5 35.5 51.5 37.5 51.5 44 52 44.5 52 48 53 49.5 53.5 51.5 56.5 54 55 56 51.5 59 49.5 59 48 57 45.5 55 46 54 46 51 44.5 50 42.5 50 41 52 42 54 45.5 55.5 43.5 59 39 58 37.5 56 37.5 54.5 36 53 34.5 53 31 55 29 53.5 24.5 53 24 52.5 24 54 25 55 28.5 56.5 30 56 34.5 59 36 59 36.5 59.5 36.5 61 33 63.5 30.5 64 28.5 62 23.5 62.5 21.5 60 21.5 61.5 22 62 21.5 63.5 23 63.5 26 66.5 30 68 32.5 68 33.5 65.5 35 64.5 36.5 64.5 38.5 65.5 42 65.5 43 65 44 66 44.5 68 43.5 69 39.5 70 37.5 71.5 38.5 74.5 40 75.5 43 71.5 45 69.5 46 69.5 47 70.5 47.5 73 50 74 51 75 51 79 59.5 83.5 60 83 59.5 82.5 60 78.5 59.5 77.5 56 74.5 56 72 57.5 70.5 60.5 69.5 63 67 63 65 62.5 64 61.5 63.5 58.5 64.5 56 64.5 54 63.5 52.5 66 51.5 65.5 51.5 64 53.5 61.5 54 60 57.5 57 58 55.5 59.5 54 61 54 63.5 56 64.5 56 66 55 67.5 52 65 50 64 50 62 51.5 60 52 58.5 50 59.5 47 63.5 42 67 43.5 69 43.5 70.5 45 73.5 46 74.5 47 72.5 51 73 53 74 53 76.5 51 78 51 80 49 81.5 49 82 49.5zM79.5 32 79 32.5 79 37.5 78 39 78 40.5 79.5 41 81.5 39.5 84.5 39.5 86 38.5 84.5 36.5 84 34 81 32zM39.5 30 38.5 30.5 39 31.5 39 34 40 34.5 41.5 34 41 33 41 31zM128.5 28.5 128 29.5 129 29.5zM62 28.5 62.5 29 65.5 29 68.5 27 66.5 26 64 26 62 27.5zM118.5 22.5 117 22.5 115 24 114.5 27 116 28.5 118.5 28 119.5 27 119.5 23.5zM121.5 17 121 19 123 19.5 123.5 17zM77 18.5 77.5 20 77.5 26 79 28 82 26.5 86.5 26.5 88.5 28 90.5 28 91.5 27 91.5 23.5 92.5 22.5 94 22.5 95.5 24 99 25 100 26.5 100 28 98.5 30 95 29.5 94.5 30 94.5 31.5 95.5 32.5 99 33 101 35 104 36.5 108 36 111 38.5 114 37 117 37 119 38 123 37.5 125 38.5 126.5 41 127.5 41 128 40.5 128 38.5 130 35.5 129.5 35 128.5 35.5 125.5 35 124 37 123 37 121.5 35.5 122.5 33 121.5 31 120.5 31 119.5 32 119.5 33 121 35 119 36.5 117 35 117 32.5 116.5 32 115 32 114 33 110 33.5 108 34.5 105.5 33.5 104 31.5 104 27.5 101 24 101 22 103 20 103 19 100 20.5 97 20.5 96 19.5 96.5 18.5 96.5 14.5 95.5 13.5 94.5 13.5 90.5 16.5 89 21 87 22.5 83 20.5 80 17.5 77.5 17.5zM60.5 16 55 12.5 50.5 13 49 14 49.5 15 50.5 15.5 53.5 15.5 55 17 55 18.5 54 19.5 49 19.5 45 22 42.5 21.5 41 20.5 41 22.5 41.5 23 40 25.5 38 24 38 22.5 37.5 22 36.5 22 35.5 24 36.5 25.5 40.5 25.5 41 26 46 25 48 24 52 24.5 53.5 23.5 56 20 59 19 60.5 17zM103 11.5 104.5 16 106.5 17 108.5 19.5 110 19.5 113.5 17 114.5 17 116.5 18.5 119 19 118.5 17.5 118.5 15.5 119 15 117.5 15 115.5 16 112 16 110.5 15.5 109 14 108.5 11 111 9 110.5 8.5 108 8 108 9 106.5 10.5 104.5 11.5zM67 7.5 66.5 8.5 66.5 14.5 66 15.5 66.5 15.5 68.5 13 71.5 13 72.5 13.5 74 11.5 73.5 11 73 11.5 70.5 11.5 69.5 10.5 69.5 9 68 7.5zM112 8.5 112 9 113.5 9.5 117 9.5 119 11.5 120 11.5 120 9 116.5 6 114 6zM84 5 84.5 6 86.5 6.5 86.5 4.5 88.5 3 91.5 6.5 94 7.5 96.5 7.5 97 7 96.5 5.5 93.5 5.5 92.5 5 90 2 89.5 2.5 87 2.5zM52 3 49.5 1.5 50 2 50 4 48.5 5.5 46.5 5.5 46 6 42 6 39.5 4 41 6 40 7.5 42 9 42 11 40.5 13.5 39 13.5 38.5 14.5 39.5 14.5 40.5 13.5 41.5 13.5 42 14.5 43.5 13 43.5 11.5 44.5 10.5 44 9.5 46.5 6 47.5 6 49 8 49 10 48 10.5 49.5 9.5 49.5 8.5 50.5 7 50.5 5zM74.5 1 74 1.5 75.5 3 76 2.5 75.5 1.5zM107 0 106.5 0 106.5 1.5zM53.5 1.5 53 3 54 4.5 56 4.5 57 5.5 57 6.5 58 7 58 9.5 60.5 9 61 8.5 61 6.5 59 3.5 59 1 59.5 0 57 0 56 1.5zM42 1.5 44 1.5 44.5 0 42 0z"/>
<path fill="#b05a9a" fill-rule="evenodd" fill-opacity="0.8" d="M52 118.5 52 119 53 119zM27 117 26.5 117.5 26.5 119 27.5 119 27.5 117.5zM22.5 117 22 117.5 22.5 119 24 119 24 118zM51 115 51.5 116 54 116.5 53.5 115.5zM46.5 115 45.5 115 44 116 43.5 117 45.5 118zM22 115.5 21.5 115 21 116zM58.5 114 57 116.5 57 117.5 58.5 117.5 59.5 119 61 119 60.5 117.5 59 116 60 114.5zM48 114 48.5 114.5 49 114zM32 113.5 32 114.5 34.5 116 33.5 115 33.5 114zM34 112 36.5 114 36.5 115.5 37.5 116.5 37 113 36 113 35 111.5zM53.5 111 54 112.5 56 112.5 56.5 112 55 112zM14 110.5 13.5 111 14 111.5 13.5 113.5 15 114zM37.5 109 37.5 111 38 111.5 37.5 110.5 38 109zM18.5 109 18 109.5 18.5 111zM39.5 108.5 39.5 109 40.5 109 40.5 108.5zM47.5 107.5 46.5 108 47 109 46 109.5 45.5 111 47.5 111 47.5 109.5 47 109zM27 107.5 26.5 108.5 27.5 109.5 28.5 112 26.5 113.5 27 114 28.5 114 29.5 112.5 29 112 29 110.5 27.5 109 29 107.5zM19 105 19 105.5 21 105.5 21 105zM48.5 104.5 48.5 105 50 106 50 105zM38 103 36.5 104.5 35 105 37.5 106 38 107.5 38.5 107.5 38.5 106.5 37.5 105.5 38.5 104.5 39.5 104.5zM29.5 101.5 29 101.5 28 103 28.5 103zM26 101 26 101.5 26.5 101.5 26.5 101zM56.5 98.5 55 98.5 53.5 101 54 102 54 104.5 55 104.5 56 103.5 54.5 100 55 99.5 56.5 99.5zM40.5 99 42 99 42 98.5 41 98zM38 98 37.5 99 38 99zM29.5 96.5 28.5 97.5 30.5 100 31.5 100 31.5 98 33 97.5 33 97 31 98zM24 96 22.5 97.5 24.5 97zM64 95.5 65.5 96.5 65.5 96zM17.5 94.5 17 95.5 18 95.5zM28 94 28 94.5 29 94.5 29 94zM38 92.5 38 94 38.5 94.5 39 93zM49 91.5 47 92 47.5 96 46 99 46.5 99 48 101 48 100 47 99 47 97 48 96 49.5 96 49.5 93.5 48.5 92.5 49.5 92 51 93 50.5 92zM41.5 90.5 41 92 42 92zM33.5 90.5 33.5 92 34 92.5 33.5 94.5 34.5 94.5 34.5 90.5zM14 90.5 13.5 91.5 14.5 93 14.5 91zM54 89 53.5 89 53.5 89.5zM19 89 19 89.5 20 89.5 20 89zM25 86.5 24 87.5 24.5 88.5 25 88zM39 86 38.5 86.5 39 87.5 38 89 38.5 89.5 40 89.5 39.5 88 40.5 87.5 40.5 86zM53 86 54.5 88 55.5 87.5 55.5 87 53.5 85.5zM15 85.5 15 87 15.5 87.5 15.5 85.5zM27.5 84.5 27 85 27.5 85.5zM51.5 84 52 84.5 52 84zM14.5 84 14 84 13.5 85 14 85zM42 83.5 42 84 44.5 86 45.5 85.5 46 84.5 44.5 84.5 43 83.5zM31 83.5 31 85 32 84zM18 82 16.5 82.5 17 83.5 18 83zM54.5 81 54.5 81.5 55.5 81.5zM30.5 79.5 30.5 80 31 80 31 79.5zM65.5 79 63.5 78.5 62 80.5 63 80.5 64 79.5 65.5 79.5zM14.5 78.5 14.5 79.5 15.5 79zM43.5 78 43 78.5 43.5 79 44 78.5zM27.5 77 27.5 78 28.5 78 28.5 77.5zM46.5 76.5 46.5 78 47.5 79.5 49.5 79.5 51 80.5 51.5 82 52 82 51.5 80 50 80 48.5 78.5 48.5 77zM17.5 74.5 18.5 74.5 21 77 21.5 77 22 75.5 20.5 76 19 74.5zM36.5 74.5 37 75 37.5 74.5 39 75.5 39 74.5 37.5 74.5 37 74zM43 73.5 43 75 44 75.5 44.5 75 44 74.5 44 73zM55 72.5 55 73 56.5 74 57 75.5 58.5 73.5 57 74zM24.5 71.5 23.5 71.5 23.5 72.5 24 72.5zM61.5 70.5 61.5 71 63 72 64 71 64 70.5zM41 70 40.5 70.5 41 71.5 41.5 71.5 42 70.5zM47 67.5 46.5 67.5 46.5 69.5 47.5 68.5zM15.5 67.5 14 69.5 15 70 15.5 71 17 71 17 69 16 69.5 15.5 69zM42.5 66 42 65.5 41.5 66zM55.5 64 55.5 65.5 57 65 57 64zM36.5 64 35.5 65 35 67 36 67 38 68.5 38 70 38.5 70 38 67 37 66 37.5 64.5zM49.5 63.5 49.5 64.5 50 64.5 50 63.5zM52.5 61 52.5 61.5 53.5 62 53 61zM42.5 61.5 45.5 62.5 45.5 61zM38.5 61.5 40 62 39 61zM24.5 59 26.5 61.5 26.5 63 27.5 63 28.5 64 27.5 65 28 66.5 29 67 29.5 66 29 64.5 30 64 31 65.5 32 65 31 63.5 29.5 63.5 27 61 27 60 25.5 59zM62 58.5 59.5 60.5 60.5 62.5 60.5 65 61 65.5 62.5 64 62 63 62 61 62.5 60.5zM56 57.5 56 58.5 57.5 59 57.5 58.5zM109 57 111 57 110.5 56.5zM24 56 24.5 57 24.5 56zM56 54.5 56 55.5 56.5 55.5 56.5 54.5zM45 56.5 48 57 49 55.5 50.5 55.5 50.5 55 47 55 46.5 54.5 45.5 55zM33 54 31.5 54.5 31.5 55 33 55zM24 53.5 26.5 54 27 53 24 53zM96 51.5 96 52 97 52zM85.5 50 84.5 50 85 51zM109 50 110.5 51 111.5 51 111.5 49.5zM91 50 92.5 51 94.5 51 92.5 49.5zM53 49.5 52.5 50.5 53 50.5zM74 51 74.5 51.5 75.5 51 76 51.5 76.5 51 78 51 79 50 78.5 49 77.5 49.5 76 49 75 50 74 50zM33 49 31.5 49.5 33 49.5zM101.5 48.5 101 49 101.5 49zM50 48.5 49 49.5 49.5 50 50.5 49.5zM65.5 48.5 66 49.5 67 49.5 66.5 48zM62 46 62 46.5 62.5 46.5 62.5 46zM37.5 45.5 37.5 48 39 49 38 51 38.5 51 39.5 49.5 42.5 50.5 41.5 48.5 39 48.5 37.5 47zM95 45 94.5 46.5 96 46.5 95.5 45zM74.5 45 74 45 74 46.5zM50.5 45 49 47 49.5 47.5 51 46.5zM42 45 42.5 45.5 42.5 47 43 47 42.5 45.5 43 44.5zM105 44 104 47 104 50 104.5 49 107 47 107 46.5 106 46.5 105 45.5 105.5 44.5zM59 44 58 44 57.5 45 58.5 45zM111.5 43.5 109.5 43.5 109.5 46 111.5 45zM83 43 83 43.5 83.5 43.5zM52.5 42.5 51.5 43 52.5 46.5 53 46 52 44.5 52.5 44zM90 41.5 89 42 90 42zM114.5 40.5 114 41.5 115.5 42 115.5 41zM106.5 40 106.5 40.5 107.5 40.5 107.5 40zM63 40 62.5 40.5 62.5 42 64 43.5 63.5 45 66.5 44.5 67.5 42.5 65.5 42zM98 39.5 98 40 99 40.5 99.5 40zM61 39.5 60.5 40 61 40zM125.5 38.5 126 39.5 126 42.5 127.5 43.5 127.5 42 126 41 126 39zM47.5 38 48 38.5 48 38zM114.5 37.5 113.5 38 113.5 39.5 114.5 39.5 115 38zM102 37.5 102 39.5 103 40 103.5 41 105 41 103.5 39 103.5 37.5zM90 37.5 90 39 91 40 93.5 40.5 95 39.5 94 38.5 92.5 38.5 92 37.5zM85 37 84.5 38 86 38.5 86 37.5zM55.5 36.5 56.5 38 56 39.5 56.5 39.5 57 38.5 56.5 37zM119.5 36 118.5 36.5 119 37zM64 36 64 37 64.5 37 64.5 36zM108 35.5 108 36 108.5 36zM116 33 116 33.5 116.5 33.5 116.5 33zM88 33 87.5 34.5 88.5 34.5zM122 32.5 122 33.5 123 34zM39.5 32.5 39 34 40 34.5 40.5 33zM47.5 32 48 33 49 32.5zM54 31.5 54 32 54.5 32 54.5 31.5zM125 31 125 31.5 125.5 31.5 125.5 31zM96.5 31 96.5 31.5 97 31.5 97 31zM59 31 58.5 31.5 59 33 60.5 34.5 60 36 61.5 36.5 62.5 35 63.5 35 60 33 62 31.5zM71.5 30.5 71 31 71.5 31.5 72 31zM49.5 31 51 30.5 49.5 30.5zM69 30 68.5 29.5 67 30.5 68.5 30.5zM46 29 45.5 29.5 46 30 46.5 29.5zM40 29.5 39.5 29 39 30zM84.5 28.5 84.5 29 85 29 85 28.5zM83.5 29 83 28.5 82.5 29.5zM79 28.5 79 29.5 77.5 30.5 80 32.5 81 31.5 79.5 30 79.5 28.5zM110.5 26.5 110 28 111 28.5 111.5 27zM66.5 26.5 65.5 26.5 65 27.5 66 27.5zM103 26 103 27.5 104.5 27.5 105.5 28.5 105.5 30 104.5 31.5 105.5 32.5 107 32.5 107.5 33 108 32.5 106.5 31 107.5 29.5 105.5 27 104.5 27zM100.5 25.5 99 26 100 26.5zM76.5 24.5 76.5 25 77.5 25zM52 24.5 50 24.5 49 25.5 49.5 26.5 51.5 25.5zM105.5 24 105.5 24.5 107 24.5 106.5 23.5zM45 23.5 44 24.5 46 26 46.5 23.5zM122.5 23 122 23.5 122.5 24zM118 24 118 24.5 120 25.5 120.5 25 120 24.5 120 23zM116 22 116 23 116.5 23zM102 21.5 102 23.5 102.5 22.5zM89 21.5 88.5 23 89.5 23.5 89.5 22zM80 21.5 79.5 23 80 23.5 81.5 23.5 82 25 83 25.5 84 23 83.5 22.5 82 23zM57.5 21 58 22 57.5 23 58.5 23.5 59 23zM77 20 76 20 75.5 21 76.5 21.5zM84.5 19.5 83.5 19.5 84 20.5zM119.5 20.5 119 19 118.5 19.5 117 19.5 116 20.5 117.5 20 119 21zM105.5 19 105.5 19.5 106 19.5 106 19zM46 19 46.5 20 47.5 20.5 48 20 47.5 19zM41.5 18.5 40.5 19 40.5 20.5 41.5 23 41 24 41.5 23.5 41 21 43.5 20zM100.5 18 100 18.5 100 20.5 101 20.5 102 19.5 102 19zM63.5 17 63.5 18 65.5 17.5 66 18.5 64.5 20.5 64 20 63 20.5 63 22 64 22.5 65 21 65.5 21.5 65.5 23 66.5 23.5 67 23 67 22 66 20.5 66.5 20 66.5 17 65 17.5zM82 16 80.5 17 81 18 81.5 18zM72.5 16 72.5 17 74 17 73.5 16zM49 15.5 48.5 17 49.5 16.5zM77 15.5 76 15 75 16.5 76.5 16.5zM62.5 14 62.5 15 63.5 15 63.5 14zM112.5 13.5 111 14.5 111 15.5 112.5 15zM50.5 13.5 52 16.5 51 17.5 51.5 18 52.5 17 54 17.5 55 19 55 20 55 18.5 56 17.5 56 17 55 16.5 56 14 54 13.5 52.5 15 51.5 13.5zM43 13.5 42.5 13.5 42 14.5 42.5 14.5zM105 13 106 16 108.5 15.5 109.5 14 109 12.5 109 13.5 108 14.5 106.5 13.5 106.5 12.5zM69.5 12.5 68.5 12.5 68.5 13.5 69 13.5zM62 11.5 63 13 64.5 12.5 63.5 11.5zM47.5 11 47 11.5 47.5 11.5zM88 10.5 89 11.5 88 14.5 89 14 90.5 15.5 91.5 15 93 16 93.5 15.5 93 15 93 13.5 91.5 14.5 91 13.5 92.5 12.5 92.5 11.5 90.5 10.5zM118 10 118 11 118.5 11 118.5 10zM122 9.5 122.5 11 122.5 9.5zM73.5 11 74 11.5 77.5 11.5 78.5 9.5 80 9.5 81.5 11.5 82.5 11.5 83 9 82.5 8.5 80.5 8.5 80 9 78.5 9 78 8.5 78.5 9 78 10 75 10.5 74 9.5zM126 7.5 125.5 7.5 125 8.5zM98.5 7.5 98 9 98.5 9zM67 6.5 66.5 7.5 67 7.5zM91 5.5 93.5 6.5 94.5 5 94 4.5 91.5 4.5zM86 4.5 86 7 86.5 7 86.5 4.5zM60 4.5 59.5 4 59 4.5zM53.5 3 54 4.5 54.5 4.5 55 3.5zM48.5 2 48 3 49 3.5 49 2zM111 4 112.5 2 114 2 115 3 115.5 3 115 2 113.5 2 112.5 1 112 2 111.5 1.5zM43.5 1 43 1 43 1.5zM111 0 111 .5 111.5 .5 111.5 0zM102.5 0 103 .5 104.5 .5 104.5 0z"/>
<path fill="#d8486c" fill-rule="evenodd" d="M18.5 3 18.5 5 18 5.5 18.5 7.5 19 8 20.5 6.5 21.5 6.5 22.5 7.5 22.5 9 19 13 17.5 13.5 17.5 15.5 19 16.5 17.5 20 20 24 24.5 22.5 24 21 25 20 26.5 20 28.5 21.5 28.5 23.5 27.5 24.5 27.5 25.5 30 25.5 30.5 22.5 32 21.5 33 21.5 35 23 34.5 25.5 36 26 38.5 26 39.5 24 41 23 42.5 21 43.5 21.5 44.5 23 49 22 49.5 21 48 19.5 48 18 47 16.5 48.5 15.5 48.5 14 49.5 12.5 49.5 11.5 48.5 10.5 48.5 9 51.5 5.5 51.5 3.5 49.5 1.5 49 0 36 0 34.5 2 34 2 33.5 1 32 2 28 1 27 0 25.5 0 26 .5 26 2 21.5 6 20.5 5 20.5 3zM37 1.5 37.5 1 39 1.5 41 1 41.5 1.5 41.5 3 40.5 4 38 4 37 2.5z"/>
<path stroke="#6a2468" stroke-opacity="0.75" stroke-width="1.2" stroke-linecap="round" d="M2.5 100.5h0M140.2 70.5h0M118.3 95.5h0M126.5 13.9h0M141 102h0M136.6 114.8h0M89.6 71.3h0M19.5 68.9h0M10.5 51.5h0M31.9 48.6h0M2.1 63.6h0M128.8 18.9h0M11.3 104.7h0M82.4 85.8h0M125.8 99h0M95.8 53.8h0M139.7 57.4h0M115.6 87h0M77 8h0M85 55.2h0M72.3 108.9h0M75.3 58.4h0M59.7 2.5h0M1.6 57.8h0M128.7 .6h0M23 5h0M152.8 31.3h0M18.3 11.8h0M151.6 41.1h0M14.4 37.5h0M117.8 77h0M153.4 90.3h0M69.7 100.2h0M99 93.3h0M149.7 61.5h0M137.6 104.4h0M11.6 44.2h0M133.3 48.3h0M80.2 61.3h0M133.5 109h0M47.3 8.4h0M25.7 45.6h0M1.4 88.6h0M8.9 96h0M24.7 41.1h0M101.2 88h0M94.9 62.7h0M71.8 113.5h0M72.2 47h0M27.9 53.1h0M.9 33.2h0M1.7 43.4h0M10.7 4.5h0M69.2 114.2h0M124.8 15.5h0M80.2 7.4h0M26.4 41.3h0M132.2 62.7h0M6.6 74.3h0M89.6 63.6h0M91 83.7h0M1.3 78.4h0M118.5 90.9h0M130.6 64.3h0M81.2 60.4h0M8.8 54.6h0M9.4 3.6h0M128.9 70h0M35.2 5.7h0M104.4 91.3h0M10.1 91.7h0M109.6 105.2h0M30.9 19.6h0M23.4 27.3h0M79.4 63.3h0M9.4 12.4h0M139.4 37.3h0M84.3 71.3h0M10.5 47.4h0M11.2 100.1h0M22.3 43.6h0M18.8 12.1h0M17.3 41.6h0M92 97.8h0M13.8 116.2h0M6.3 64.1h0M3 2.4h0M80.1 117.3h0M77.4 94h0M106.8 7.9h0M137.1 83.7h0M129.6 101.2h0M84.4 81.4h0M12.7 45.6h0M64 2.9h0M99.6 50.6h0M69.6 53.8h0M80.1 62h0M37.2 36.7h0M134.9 23.9h0M129.1 47.6h0M18.8 34.8h0M117.3 95.5h0M132 9.1h0M2.4 101.5h0M75.6 103.8h0M5.5 32.7h0M17.8 58.4h0M85.2 75.7h0M140.8 88.5h0M6.3 69.4h0M149 18.8h0M134.1 77.1h0M118.3 108.6h0M13.7 38.3h0M19.4 32.2h0M117.6 92.4h0M99.2 116.2h0M16.2 79.8h0M61.7 1.8h0M96.1 65.5h0M6 67.4h0M125.4 3.2h0M126.7 73.3h0M139.3 46.4h0M113.6 111.6h0M128 3.3h0M12.5 13.8h0M5.4 112.3h0M125.8 10h0M150.4 41.6h0M72.8 4h0M118.4 78.6h0M125.9 4.6h0M87.4 93.7h0M39.2 10.2h0M119.9 113.7h0M12.3 30.3h0M113.2 117h0M131.6 4.4h0M123.3 64h0M88.3 8.4h0M73.1 94.2h0M89.3 75.9h0M101.3 67.7h0M107.6 2.4h0M20.7 14.9h0M3.8 70.5h0M1.1 94.4h0M96.3 60.3h0M67.1 90.8h0M4.8 21.1h0M7.7 69.3h0M26.7 42h0M94.4 78.5h0M76.9 56.1h0M61.1 89.4h0M22.4 15.7h0M14.7 22.2h0M112.4 87h0M84.7 112.2h0M144.3 57.8h0M4.3 1.4h0M9.3 49.9h0M29.6 46.3h0M12.6 16.5h0M136.4 57.2h0M2.5 69h0M123 104.7h0M84.5 91.4h0M120.3 81.6h0M129.9 25.7h0M97.1 94.6h0M137.4 76.8h0M86 80.8h0M128.9 100.8h0M73.5 115.8h0M123.2 89.1h0M154.7 106.5h0M.2 114.7h0M153.8 66.1h0M22.3 12.1h0M155 24.4h0M105.6 59.4h0M124 15.6h0M73.5 94.7h0M7.8 63.3h0M127.3 85.4h0M115.2 56.4h0M10.6 66.9h0M151 23h0M6.1 89.9h0M30.8 37.6h0M144.4 44.1h0M80.2 6.7h0M139.3 104h0M3.1 37.3h0M137.4 15.5h0M92.9 76.5h0M127.7 101.7h0M96.2 84h0M37.1 41.3h0M108.5 64.8h0M84.8 60.5h0M31.7 7.1h0M74.9 96.7h0M87.8 103.5h0M88.1 1h0M14.3 72.5h0M3 41.1h0M66.7 91h0M94.8 83.5h0M3.8 73.4h0M137.1 109.7h0M117.7 117.3h0M102.5 114.3h0M16 2.5h0M19.8 49.6h0M86.7 2.1h0M113.9 116h0M4.4 62.3h0M75.8 87.5h0M7.6 23.8h0M98.1 49.5h0M130.2 14.2h0M95.3 115.4h0M85.2 76h0M63.7 83.9h0M152.3 57.9h0M53.4 4.9h0M65.6 86h0M106.6 97.8h0M116.8 104.5h0M7.5 29.6h0M116.8 77.4h0M15.3 56.8h0M23.6 28.9h0M9.7 98.4h0M144.3 93.2h0M125.5 61.1h0M128 102.8h0M101.8 7.2h0M7.2 35.6h0M9.1 114.7h0M14.5 39.1h0M148 59.3h0M8.8 2.3h0M118 82h0M2.9 9.8h0M14.1 36h0M96.5 57h0M117.4 44.2h0M102.9 61.6h0M18.6 47.1h0M136.7 86.5h0M152.4 100.7h0M95.6 112h0M118 80.7h0M78.9 108.4h0M94.6 78h0M93.3 64.9h0M139.3 16.6h0M124.1 116.2h0M67.7 64.1h0M144.9 116.2h0M131.3 12.6h0M73.5 47.1h0M61.8 106.4h0M78.1 5.4h0M91.2 8.6h0M146.9 98.7h0M77.1 62.4h0M103.6 98.9h0M123.8 43.8h0M24.7 49.8h0M79.7 99.7h0M10.9 17h0M76 80.7h0M124.1 50.4h0M32.9 11.8h0M130.2 .7h0M142 83.4h0M90.7 104.9h0M131.8 10.3h0M80.3 99.6h0M117.7 112.5h0M22.2 34h0M38.2 5.4h0M70.9 49.6h0M69.6 94.6h0M72 105.3h0M82.8 7.3h0M8.1 45.7h0M98.7 61.8h0M84.7 63.2h0M14 62h0M133.6 78.3h0M7.4 72.6h0M75.2 67.2h0M1.8 74h0M140.9 97.3h0M90 104.2h0M1.3 115.9h0M83.9 113.1h0M20.2 51.3h0M137.1 47.7h0M81.8 69.9h0M104.6 63.8h0M12.9 62.9h0M86.7 110.7h0M103.5 79.9h0M0 64.4h0M118.4 119.2h0M69.2 73.6h0M20.7 72.4h0M152.4 87.1h0M128.5 21.8h0M59 107.5h0M133.5 109.3h0M104.9 68h0M116.1 54.9h0M1.7 41.3h0M124.5 64.3h0M18.3 7.7h0M69 52.2h0M15.2 7.7h0M123.9 74.6h0M12 5.1h0M10.6 106h0M1.5 47.8h0M79.9 79.5h0M76.1 56.7h0M18.2 17.9h0M15.9 30.5h0M107.4 89.9h0M89.4 116.4h0M6.8 78.1h0M88.6 61.1h0M135.4 113.2h0M5.3 70.2h0M28 3.1h0M126.6 111.8h0M130.3 47.4h0M117.6 119.4h0M4.7 18.4h0M100.2 101.8h0M116.7 69.4h0M136.9 3.1h0M28.8 19.3h0M5.9 70.5h0M116.9 109.9h0M76.6 97.7h0M121.5 44.8h0M.2 54h0M102.2 4.8h0M30.8 8.6h0M134 46.7h0M22.4 6.9h0M110.1 91.2h0M38.2 12.2h0M148.8 94.1h0M138.5 115.9h0M98.7 54.6h0M112.2 67.7h0M135.5 74.8h0M151.8 87.1h0M20 5.5h0M5.5 51h0M3.6 116.7h0M1.2 13.5h0M.1 80h0M97.4 55h0M87 5.1h0M6.8 6.3h0M29.2 35.1h0M12.1 45h0M85.8 84.9h0M32.2 20.5h0M88.6 85.9h0M117.1 61h0M19.4 60.3h0M10.5 14.3h0M91.1 9.4h0M63.2 112.8h0M114.7 97.7h0M107.1 92.8h0M147.9 60.5h0M115.2 82.3h0M4.7 31.2h0M1.2 24.4h0M10.9 114.2h0M124.5 108.4h0M135 74.8h0M3.6 8.4h0M143.1 9.8h0M85.9 58.2h0M78.7 78.8h0M8.5 61.7h0M129.2 103.8h0M23.8 20.5h0M149.5 45.8h0M114.7 98.7h0M154.7 32.1h0M98.5 63.6h0M148.8 56.5h0M32.2 39.1h0M105.6 73.8h0M122.5 110.4h0M26.8 26.2h0M91.2 82.4h0M140.4 66.9h0M4.8 116.3h0M29.9 24.4h0M120.6 89.5h0M24.6 9.6h0M86.5 111.1h0M22.9 50.3h0M99 93.3h0M144.6 45.3h0M77 61.5h0M115.9 102.7h0M141.8 58.6h0M21.1 36.5h0M79.6 116.7h0M142.8 16.5h0M140.7 72.1h0M2.8 113.5h0M123.9 67.3h0M2.4 113.9h0M127.7 69.6h0M5.8 3h0M23.1 10.7h0M132.9 109.5h0M23.4 42.5h0M81.5 63.2h0M14 10.8h0M109.5 70.3h0M137.3 26h0M11.3 15.6h0M142.3 71.8h0M81.4 63h0M23.4 32h0M131.1 73.1h0M31.1 24.8h0M96.7 103h0M100.1 94.7h0M33.8 3h0M98.6 92.5h0"/>
<path stroke="#6a2468" stroke-opacity="0.75" stroke-width="1.6" stroke-linecap="round" d="M25.8 4.6h0M18.4 59.2h0M101.3 83.7h0M97.4 80.3h0M76.4 64.4h0M130.1 4h0M83.4 61h0M134.1 1.9h0M49.7 .9h0M147.2 117.4h0M147.1 85.8h0M110.8 88h0M126.8 67.3h0M95.1 50.6h0M127.2 44.8h0M6.9 117.2h0M83.4 114.8h0M11.9 61h0M34.7 11.4h0M63.2 74.1h0M102.2 84.2h0M102.8 111.5h0M74.9 69h0M115.5 117.8h0M2.9 97.9h0M97.7 51.5h0M2.1 24.3h0M113.5 92.2h0M114.7 106.8h0M133.1 55.4h0M.3 17.7h0M37.1 46.2h0M146.1 49.8h0M128.8 3.4h0M9.9 81.1h0M112.8 106.2h0M5.1 106.9h0M104.3 110.2h0M101.7 52.2h0M19.9 69.3h0M2.5 63h0M70.4 111.5h0M7.3 109.1h0M141.2 1.2h0M59.8 89h0M117.4 60.6h0M9 95.5h0M67.4 108.9h0M64.7 73.6h0M32.1 26.5h0M81.4 61.4h0M141.7 7.8h0M7.1 50.9h0M12.7 91.6h0M22.4 2.5h0M32.2 2.8h0M77.4 8.5h0M15.6 24.7h0M72.2 116.4h0M28.6 32.3h0M78.6 105.6h0M139.7 28.5h0M20.1 17.6h0M105.9 4h0M26.5 46h0M16.7 37.6h0M140.7 50.2h0M.8 21.1h0M118 46.3h0M25.2 50h0M99.3 73h0M78.7 84.5h0M103.8 112.1h0M4.7 4.3h0M106.2 92.4h0M75.6 97.3h0M96.1 .1h0M144.9 100.1h0M140.5 56.9h0M93.1 71.6h0M144.5 14.5h0M116.5 98.5h0M80.7 101h0M72.3 5.1h0M120.8 115.1h0M152.1 46.4h0M92 115.5h0M103.2 86h0M24.4 1.1h0M27.4 1.4h0M24.5 12.2h0M127.5 .3h0M71.1 119.1h0M109 103.9h0M81.8 101.4h0M89.9 52.9h0M102.4 82.9h0M126.8 65h0M139.8 48.9h0M109.8 81.3h0M117 83h0M27.1 4.9h0M3.8 58.8h0M115.3 93.7h0M140.5 62.4h0M27.3 19.8h0M138.1 113.4h0M23.4 12.6h0M19.5 6.8h0M1.3 38.2h0M72.7 115.6h0M5.4 105.1h0M111.8 64.2h0M17.2 60.4h0M18 24.3h0M150.8 86.6h0M67.7 98.6h0M37.2 17.1h0M89.4 54.7h0M31.9 26.6h0M135.1 59.5h0M123.9 70.1h0M18.6 61h0M120.2 82.9h0M150.1 37.4h0M92 80h0M121.6 101.8h0M149.9 60h0M70.8 48.3h0M122.2 50.6h0M31.9 14.9h0M131 67.2h0M102.6 118.7h0M104.9 102.9h0M2.8 118.5h0M144.9 116.9h0M123.1 .8h0M124.6 77.3h0M69.6 64.9h0M129 14h0M151.8 48.2h0M12 37.4h0M150.6 35.9h0M92.6 59.9h0M104.3 99.7h0M13.5 68.6h0M64.2 74.9h0M153.9 106.3h0M3.9 42.5h0M129.3 79.7h0M126 42.8h0M117.8 55.4h0M30.2 9.4h0M10.7 7.1h0M126.6 44.6h0M143.5 56.7h0M151.4 54.4h0M102.9 81.5h0M98.3 73.1h0M112.6 86.9h0M131.6 3.4h0M75.1 114.8h0M12.4 7.9h0M33.6 38.2h0M134.9 79h0M119.5 108.7h0M146.6 65.5h0M6.7 81.9h0M107.7 79.2h0M25.3 31h0M95.5 104.9h0M20.2 9.3h0M.3 40.3h0M69.2 .2h0M153.3 17.6h0M150.4 26.6h0M13.5 55.5h0M10.7 118.6h0M9.2 45.4h0M145 46.3h0M150.3 115.8h0M21.8 31.3h0M147.1 50.9h0M84.7 100.8h0M28.7 11.6h0M148.6 19.5h0M29.2 48.5h0M132.6 119.3h0M115 88.2h0M15.4 17.7h0M32 33.5h0M92.3 85.9h0M65.1 76.1h0M84.5 101.1h0M80.4 105.4h0M10.6 108.6h0M87.6 108.5h0M97.7 97.9h0M13.2 55h0M11.2 116.7h0M21.5 14.9h0M137.5 82.8h0M93.2 90.6h0M112 63.6h0M132.7 46.7h0M116.8 56.8h0M65.5 70.7h0M144.8 45.9h0M115.5 78.8h0M63.7 90.7h0M82.5 97.1h0M43.7 4.4h0M153.6 104.3h0M96.5 86.6h0M22 41.1h0M91.3 75.1h0M124.7 68.3h0M149 14.5h0M150.5 34.4h0M106.3 89.6h0M155 28.9h0M4 36.8h0M88.7 82.7h0M15 2.1h0M62.3 84.9h0M139.3 10.8h0M39.8 39.3h0M135 58.8h0M128.6 4.4h0M91.7 74.8h0M122.2 82.1h0M94 115.3h0M106.2 68h0M143.5 5.4h0M149.3 99.7h0M23.6 38.3h0M6.4 108.4h0M146 101.4h0M67 87.2h0M79.4 108.1h0M28.4 6.7h0M3.6 28.1h0M84 65.2h0M100.9 112.5h0M144.4 118.7h0M14 101.7h0M73.4 118.4h0M12.7 64.8h0M103.9 100.2h0M11 91.7h0M141.6 118.8h0M124.5 109.2h0M34 27.1h0M80.1 55.7h0M91.5 65.2h0M153.2 16.5h0M153.5 105.7h0M13.1 80.5h0M2.4 67h0M132.1 54.1h0M18.9 49.9h0M27.3 9.5h0M151.3 59.7h0M103.8 90.7h0M62 114.2h0M37.7 18.6h0M126.6 117.9h0M69.9 112.8h0M154.2 20.8h0M9 19h0M9.2 20.7h0M153 61.3h0M3.4 34.6h0M75.7 81.8h0M154.9 118.5h0M93.2 64.1h0M101.8 93.4h0M137 67.4h0M124.7 73h0M137.6 89.6h0M16.5 1.3h0M22.1 7.9h0M89.2 83.5h0M153.5 35.9h0M67.8 67.5h0M150.2 61.2h0M12 97.3h0M67.2 5h0M23.7 47.3h0M19.7 3.5h0M28.2 46.9h0M111.2 59.9h0M10.4 16.6h0M16.2 27.7h0M15.5 75.2h0M69.7 79.2h0M115.5 92.8h0M2.2 100h0M102.2 67.4h0M17 72.2h0M114.9 71.4h0M140.2 34.2h0M11.8 55.3h0M97 58.3h0M33.7 4.6h0M139.9 47.4h0M11.3 66.9h0M150 62.7h0M12.1 13.3h0M22 50.3h0M39.4 9h0M92.9 100.4h0M25.3 51.4h0M131.2 64.3h0M8.9 44.5h0M8.7 1.3h0M107.1 66.8h0M41.2 42.1h0M6.1 84.5h0M137.4 115h0M73.7 98.9h0M.4 69.5h0M88.3 108.2h0M18.5 69.1h0M27 46.1h0M84.1 84.2h0M155.5 87.6h0M134.1 64.7h0M130.8 113.5h0M146.4 55.7h0M114.1 68.7h0M141.4 83.3h0M134.7 18.3h0M3.9 6.1h0M134.7 67.6h0M90.2 87.5h0M6.2 31.6h0M12 64.8h0M12.4 61.6h0M116.4 1.8h0M8 13.6h0M.3 20.9h0M120.5 3.8h0M95 91h0M66.6 112.7h0M88.9 104h0M138.1 77h0M69.3 53.4h0M14.5 61.7h0M73.8 55.7h0M7.3 41.4h0M2.7 116.4h0M75.2 62.5h0M114.1 97.2h0M100.3 87.1h0M16.7 55.8h0M143.9 30.7h0M3.9 86.6h0M141.7 68.3h0M66.5 116.5h0M30.6 35.6h0M60.7 110.2h0M92.3 71.6h0M68.1 116.3h0M148.3 1.3h0M126.6 53.4h0M136.7 86.1h0M11.2 8.5h0M120.9 3h0M40.1 3.1h0M71.7 79.4h0M10.9 52.5h0M20.3 32.2h0M75.2 95.1h0M68.8 71.3h0M13.9 31.4h0M12.7 81.3h0M144.7 85.2h0M92.5 68.4h0M91.4 112.3h0M9.2 74.9h0M126.1 9.3h0M.1 4.3h0M69.2 55.8h0M145.5 65.5h0M149.7 84.2h0M121.6 98.6h0M71.9 76.9h0M16 46.1h0M78.5 89.1h0M.8 24.5h0M109.3 68.9h0M131.8 109h0M24.5 28.4h0M34.6 26.1h0M3.1 114.4h0M21.1 43.9h0M154.7 28.1h0M18.1 53.4h0M94.3 117.1h0M53.7 5.5h0M143.1 103.2h0M130.8 84.1h0M9.2 24.7h0M19.9 34.6h0M112.4 101.9h0M29.7 33.4h0M67.7 5.2h0M113.4 65.9h0M68.8 79.4h0M117.5 59.4h0M110 104.2h0M6.9 92.6h0M78.1 77.2h0M7 91.5h0M89.1 107.3h0M128 101.2h0M124.1 80.2h0M100.2 103.5h0M109.9 85.4h0M89.4 60.7h0M119.6 74.8h0M77.2 6.8h0M130.1 50.7h0M17.3 72h0M153.2 98.6h0M77.7 105.2h0M106.8 61.7h0M48.5 9.2h0M13 10.9h0M111.8 69.4h0M6 108.8h0M15.9 20.1h0M130 105.7h0M125.3 77.4h0M21.1 71.2h0M28.5 4.9h0M130.1 111.7h0M145.7 100h0M127.5 81.9h0M16.1 61.9h0M92.8 62.4h0M70.8 90h0M124.6 6h0M41.3 41.6h0M11.5 29.7h0M74.7 76h0M74.5 60.4h0M99.2 51.1h0M51.9 2.4h0M24 30.8h0M113 52.8h0M146.2 97.5h0M9 26.4h0M19.8 113.2h0M10.4 99.3h0M12.7 51.7h0M104.6 67.5h0M135.5 10.4h0M88.2 112.2h0M109.6 96.2h0M118.3 107.4h0M15.2 1.6h0M32.1 10.3h0M116 50.8h0M136.4 110.1h0M65.5 119.1h0M7 46.8h0M154.5 85h0M88.5 63.3h0M154.2 33.7h0M35.2 10.6h0M89.6 57.4h0M98.3 77.6h0M57.7 7.1h0M82.5 79.6h0M143.8 43.3h0M67.4 98.6h0M107.4 113.7h0M69.2 71.3h0M75.7 68.9h0M124.8 116.8h0M83.5 54.9h0M116 114.2h0M88.9 66.5h0M102.6 70.4h0M146.3 80.6h0M91.4 89h0M34.9 33h0M115.1 86.9h0M101 63h0M138.2 69.2h0M96.2 3h0M30.5 25.2h0M15.4 11h0M128.7 86.7h0M33.9 6.1h0M10.6 96.2h0M127.5 51.7h0M120.3 70.3h0M132.1 115.5h0M140.6 78.6h0M71.6 2.5h0M131.4 20h0M115.9 62.2h0M117.2 81.9h0M101.9 84.1h0M92.6 108.2h0M108.6 85.7h0M15.6 8.2h0M98.6 105.7h0M119.5 79.1h0M26.1 15.5h0M134.2 5.7h0M118.4 98.3h0M75.2 111h0M14.4 43.7h0M144.6 25.7h0M116.1 94.9h0M78.7 5.1h0M110.1 80.4h0M38.4 32.6h0M39.1 2h0M39.3 22h0M65.4 73.7h0M5.3 75.3h0M70.7 107h0M1.3 27.9h0M125.1 83.8h0M6 31.7h0M128.5 103.9h0M109.8 111.4h0M114.8 95.3h0M66 113.5h0M114 77.8h0M.7 86.7h0M116.4 80.8h0M18.1 21.4h0M4 85.9h0M70.8 105.8h0M121.9 44.2h0M136.4 23.1h0M117.3 99.5h0M93.3 83.1h0M149.6 39.9h0M91.2 66.1h0M9.7 103.5h0M154.7 43.2h0M79.4 73.5h0M64.4 92.1h0M131.2 103.1h0M86 118.6h0M149.5 62.1h0M132.4 8.4h0M12.5 21.1h0M2.6 67.4h0M104.2 116.7h0M73.8 6.4h0M98.4 108.2h0M9.5 53.4h0M86.2 75.7h0M3.7 47.4h0M70.6 1.8h0M78.4 3.9h0M85.6 66h0M.4 39.1h0M65.8 86.8h0M26.9 43.7h0M122.2 106.5h0M6.9 98.8h0M142.7 64.8h0M84.9 83.9h0M97.8 96h0M146.5 86.1h0M97.6 116.9h0M106.7 83.4h0M149.8 .3h0M98.6 116.2h0M96.8 75h0M2.6 67.7h0M11 13.8h0M92.2 82.8h0M67.5 1.9h0M.3 62.6h0M141.7 19.6h0M71.5 108.1h0M39.8 40.4h0M136.6 23.1h0M126.4 78.7h0M121.6 42.4h0M10 34.9h0M4.1 81.4h0M143.1 15.6h0M127.1 50.8h0M35.1 38h0M135.9 81.2h0"/>
<path stroke="#6a2468" stroke-opacity="0.75" stroke-width="2" stroke-linecap="round" d="M126.6 68.3h0M65.6 109.9h0M106.9 86.3h0M1.7 95.1h0M32.4 39.8h0M137.1 46.3h0M86.2 1.1h0M118.6 88.5h0M74.8 6.4h0M65.9 118.2h0M71.4 81.3h0M21.6 44h0M19.7 60.5h0M63.9 1.5h0M9.1 50.6h0M39 12.3h0M146.9 48.6h0M8.3 96.5h0M2 50.7h0M86.4 105.2h0M25.4 3.8h0M127.5 18h0M151.1 19.3h0M142.2 33h0M138.4 72.2h0M77.8 70h0M154.8 104.1h0M84.3 106h0M41.3 34.7h0M10.2 54.8h0M13.9 23.7h0M14 37.4h0M8.9 77.9h0M107.3 95.8h0M139.8 46.6h0M127 64.6h0M2.5 46h0M148.8 39.6h0M68.3 2h0M32.3 27.8h0M36.7 17.1h0M93.1 102.5h0M153.6 23h0M93.9 86.9h0M71.4 10.4h0M137.7 67.4h0M6.9 97.7h0M39 36.6h0M53.4 3.9h0M10.1 49.6h0M114.5 94h0M151.7 34.7h0M150.3 96.5h0M75.2 66h0M3.5 55.2h0M87.5 111.1h0M127 65.4h0M87.3 84.4h0M.3 85.1h0M104.5 86.6h0M106.3 115.7h0M102.9 60.6h0M95.8 115.1h0M119.6 106.5h0M4.1 46.5h0M144.2 63.9h0M102 77h0M87.4 69.5h0M121.5 46.1h0M142.9 15.3h0M110.4 96.9h0M3.8 63.9h0M81.9 62.7h0M35.4 34.3h0M120.8 78.5h0M148.5 90.7h0M35.1 15.9h0M90.4 106.8h0M85.5 105.1h0M107.9 5.2h0M117.8 68.3h0M10 39.7h0M154 57.4h0M4 32.7h0M25.2 48.7h0M106.4 99.5h0M127 5.3h0M4.4 93.2h0M101.4 115.2h0M120.9 67.8h0M106.5 4.7h0M147.4 42.4h0M117.3 5.1h0M139.9 17.4h0M136.3 87h0M32.2 43.4h0M3.2 47h0M22.9 22.1h0M14.6 76.1h0M5 32.1h0M102.7 84.9h0M144.4 46.6h0M99.9 83.4h0M142.2 25.8h0M81.7 94.9h0M10.4 39.3h0M30.5 24.2h0M23.3 30.4h0M2.8 110.5h0M145 43.3h0M18.9 5.9h0M83.9 75.9h0M146.3 44.8h0M123.8 2.4h0M129.6 19.1h0M78.5 119.1h0M147.1 93.3h0M7.9 2.4h0M142.2 18.5h0M36.4 39.5h0M142.4 83.6h0M6 56.3h0M115.8 99.2h0M39.8 3h0M2.5 1.5h0M91.8 113.7h0M111 116h0M77.1 75.7h0M128.6 103.4h0M144.2 76.7h0M31.3 28.3h0M40.2 19.6h0M17.1 .3h0M2.3 90h0M128.5 73h0M40.3 15.5h0M103.1 113.3h0M14.3 24h0M142.8 30.5h0M92.7 74h0M89 1.7h0M90.5 107.5h0M118.5 92.6h0M73.7 89.4h0M151.2 24.5h0M108.3 81.7h0M136.7 104.3h0M127.2 89.6h0M125.6 17.9h0M141.6 52.8h0M13.9 90.1h0M142.8 68.4h0M145.3 117.1h0M73.6 77.3h0M68.9 84.3h0M82.6 61.8h0"/>
<path stroke="#5a1e62" stroke-opacity="0.6" stroke-width="1.2" stroke-linecap="round" d="M50.3 85.6h0M59.7 94.6h0M112.8 23.7h0M110 35.8h0M95.8 4.6h0M44.9 85.7h0M25.4 94.2h0M17.3 93.5h0M36.3 51.5h0M48.8 54.7h0M73.9 39.5h0M26.8 95.2h0M19.2 74.2h0M34.4 100.6h0M105.2 24.7h0M116.6 30.1h0M59.1 43.7h0M78.5 11.5h0M34 84.9h0M76.4 9.2h0M92.2 47.5h0M35.7 62.6h0M68.8 12.4h0M117.9 17h0M61.6 30.4h0M65.7 27.1h0M68.3 16.7h0M38.6 117.2h0M40.4 116.7h0M98.4 37.4h0M45.7 85.7h0M90.1 30.6h0M62.6 14.2h0M54.7 16.8h0M105.3 29h0M13.2 93.3h0M79.8 12.1h0M52.2 60.2h0M63.6 12h0M39.6 80.2h0M106.7 40.2h0M68 80.3h0M112.1 23.9h0M32.7 51.9h0M16.6 77.7h0M21 94.1h0M50.7 56h0M35.5 54.4h0M51.7 35.3h0M64.4 31.2h0M57 49.2h0M111.4 32.4h0M90.4 45.5h0M57.9 116.2h0M43.4 116.4h0M48.1 48.7h0M44.1 98.7h0M29.6 82.6h0M41 33.8h0M108.7 9.2h0M27.3 65.7h0M101.1 45.3h0M64.1 54h0M64.3 78.4h0M115 15h0M44.3 84h0M114.4 12.3h0M70.7 43.2h0M58.1 17.3h0M40.8 55.9h0M106 41.1h0M45.1 18.4h0M18.4 117.1h0M43.7 73.1h0M80.6 24.3h0M93.7 26.3h0M51.9 36.5h0M109.6 43.5h0M45.5 52h0M35.8 92h0M41.8 67.1h0M45.2 43.6h0M42.5 23.7h0M121.4 20.7h0M113.2 21.9h0M56.3 83.3h0M100.7 .6h0M113.9 51.2h0M38.9 89.2h0M122 27h0M49.5 22.7h0M62.9 38.9h0M40.3 118.4h0M57.8 15.5h0M39.7 52.5h0M49 23.9h0M86.2 41.4h0M54.3 26.6h0M18.8 91.3h0M57.6 76.9h0M78.8 26h0M109.4 28.4h0M80.6 28.9h0M54.7 44.2h0M29.7 70.5h0M95.4 30.9h0M52.7 15.2h0M34.6 85h0M124.5 27.3h0M58.2 12.2h0M46.4 118.4h0M114.4 5.9h0M48.5 83.6h0M78.4 22.2h0M73.7 12.7h0M81.9 48.7h0M31.7 102.4h0M18.9 109.2h0M47.8 85.9h0M58.2 103.4h0M48.5 25.5h0M101.8 13.4h0M41.8 49.6h0M28.9 102.8h0M51.6 69h0M59.2 49.5h0M63 48h0M27.7 111.9h0M114.5 7.1h0M67.7 17.2h0M105 11.1h0M40.2 62.2h0M127.5 39.5h0M22.1 76.8h0M24.7 95.2h0M47.7 51.5h0M31.7 64.9h0M117.7 17.4h0M39.8 32.3h0M89.5 29.6h0M57.5 71.7h0M37 94.5h0M20.7 102.3h0M116.8 23.3h0M58.9 47.5h0M22.8 95.3h0M34.8 100.4h0M98.2 29.9h0M23.2 67h0M95.4 3.1h0M22.3 90.3h0M75.1 17.5h0M93.6 5.5h0M51.2 81.1h0M120.7 7.1h0M53.8 61.7h0M59.3 21.4h0M32.6 78.1h0M45.1 25.6h0M27.5 84.9h0M40.6 79.4h0M68 52.5h0M27.6 73h0M108.7 31.5h0M14.5 110.9h0M112.1 39.6h0M27.4 54.2h0M41.2 112.8h0M41.5 52.1h0M61.2 11.9h0M41.9 86.9h0M38.6 101h0M43 93.6h0M53.2 64.8h0M33.4 59.8h0M69.5 25.6h0M50.9 89.5h0M34 82.3h0M41.1 21.1h0M27.3 109.1h0M53.5 99.7h0M105 22.9h0M95.4 11.5h0M54.1 70.3h0M65.4 17h0M37.8 64.1h0M57.4 35.9h0M111.7 28.3h0M107.3 13.1h0M61.7 117.3h0M44.9 38h0M68.1 40.4h0M21.9 84.6h0M31.2 118.8h0M75.5 19.7h0M88.3 48.2h0M44 100.4h0M86.6 24h0M120.1 13.4h0M37.2 106.6h0M20.6 103.9h0M113.9 51.7h0M33.6 69.2h0M53.9 82.4h0M21.3 84.7h0M76.2 20.5h0M35.8 90.7h0M42.2 55h0M57.1 33.3h0M18.4 82.6h0M94.3 5.9h0M37.4 118.9h0M37.8 119.1h0M66.3 82.2h0M53.1 80.9h0M105.8 47.8h0M38.9 86.2h0M30.3 73.7h0M51.2 63.2h0M61.4 16.5h0M84 44.8h0M55.5 12.2h0M58.3 12.5h0M60.8 48.8h0M39.9 94.4h0M121.2 16.5h0M23.3 74.5h0M42 72.5h0M108.6 25.9h0M18.1 119.3h0M119.1 13.8h0M87.2 43.1h0M14.2 85.4h0M71.7 31.3h0M79.2 12.6h0M78.1 47.2h0M51.7 26.2h0M66.4 38.6h0M52.3 73.1h0M36.9 108.4h0M58.9 79.4h0M65.7 36.5h0M24.9 93.2h0M15 112.3h0M44.8 78.6h0M62.9 97.7h0M104.5 28h0M49.2 115.1h0M104.1 27.4h0M97.8 14.4h0M46.3 46h0M61.2 54.9h0M51.7 42.3h0M115.9 40h0M57.9 1.6h0M94.6 37.1h0M44.1 114.5h0M63.2 57.2h0M23.3 56.1h0M28.1 97.7h0M102 46.2h0M98 28.6h0M67.1 25.1h0M28.7 93.9h0M40.2 7.9h0M56.7 52h0M53.2 53.1h0M55.9 27h0M61.8 99.3h0M78.3 27.8h0M108.5 9.2h0M33.3 97.5h0M117.7 40.8h0M50.5 27.5h0M70.6 37.1h0M40.3 60.6h0M120.9 9.3h0M43.9 53.4h0M47.7 109.4h0M41.5 96.6h0M22.9 82.3h0M51.3 41h0M50.9 88.6h0M31.5 51.6h0M15.2 91.5h0M52.7 50h0M54.3 18.2h0M61.3 37.2h0M65 99h0M52.1 104.7h0M88.7 20h0M37 24.7h0M26.7 70.6h0M56.6 40.4h0M44.9 92.4h0M59.2 66.2h0M81.1 45.8h0M99.9 41.2h0M91 39.5h0M63.6 34.3h0M49.8 11.8h0M121.5 37.4h0M59.8 47.4h0M125.2 23.2h0M30.2 78.3h0M27.6 90.6h0M59.9 85.2h0M38.1 117.6h0M57.3 50.4h0M16.6 91.1h0M31.3 51.4h0M57.8 21.6h0M45.7 107.5h0M33.5 93.5h0M65.7 42.9h0M39.8 58.2h0M22.8 94.5h0M108.7 42.8h0M101.3 36.7h0M48.4 21.9h0M34.8 59.5h0M103.3 44.4h0M69 25.3h0M56.8 24.8h0M71.2 16.4h0M104.5 18h0M56.7 85h0M64.3 18.7h0M115 34.4h0M94.7 13.2h0M115.9 30.2h0M110.8 20h0M79.9 25.7h0M96.6 14.2h0M42.9 54.1h0M19.8 97.1h0M31.3 63.6h0M55.6 77.3h0M53.8 100.3h0M88 31.7h0M80.2 43.5h0M59.4 90.6h0M72.5 52.7h0M20.1 93.8h0M63.6 95.8h0M105.6 24.8h0M64 38.9h0M61.5 52.7h0M48.7 10.8h0M75.1 21.7h0M40.4 99.8h0M36 68.7h0M38 93.2h0M65.7 98.4h0M29.1 73.6h0M52.2 14.8h0M92.1 24.1h0M45.9 56.2h0M61.4 58.1h0M51.8 49.4h0M95.2 6.2h0M35.4 54.1h0M38 61.2h0M78.8 49h0M63.9 69.6h0M24.8 92h0M30.2 103.4h0M18 94.6h0M70.9 26.8h0M42.9 80.9h0M96.5 33h0M103.2 47.6h0M68.3 38.3h0M97.8 33.8h0M94.5 28.2h0M104.2 54.5h0M65.3 45.8h0M55.3 98.8h0M71 36.8h0M54.3 86.6h0M43.7 9h0M72.2 40.5h0M39.4 72.6h0M31.5 71.9h0M21 101.1h0M109.7 55.8h0M50.6 100.4h0M48.6 56.9h0M50 61.5h0M53.9 21.9h0M33 62.6h0M41.7 100.3h0M94.4 19.8h0M90.5 11h0M37.9 49.9h0M99.4 33.5h0M61.7 34.6h0M124.8 30.8h0M64.8 6.6h0M16.6 95.8h0M33.4 83.5h0M119 14.6h0M58.9 46.3h0M51.8 119.5h0M81.9 31.8h0M37.7 87h0M13.2 91.7h0M93.8 17.7h0M102.9 35.7h0M117.4 51.8h0M52.8 78.9h0M52.9 112.2h0M22 83.8h0M19.7 90h0M43.1 11.2h0M43.8 107.5h0M28.1 102.4h0M47.7 16.2h0M50.8 56h0M73.8 27.3h0M61.9 16.3h0M104.3 20.7h0M57.5 14.4h0M74.4 51.8h0M108.8 53.2h0M112.1 35.8h0M74.5 24h0M55.5 59.3h0M39.2 57.9h0M42.7 72.5h0M41.5 25.8h0M42.5 87.5h0M54.5 10.8h0M47.1 40.7h0M52.3 115.5h0M38.5 61.5h0M20.8 55.7h0M26.8 76.1h0M42.9 81.2h0M111 34.3h0M61.5 48.4h0M57 95.8h0M78.4 31.1h0M63.9 48.3h0M84.7 32.2h0M89.8 36.8h0M63.1 11.6h0M70.6 37.5h0M122.5 8h0M59.6 54.8h0M63.9 82.5h0M47.5 67.6h0M57.5 26.1h0M64.3 101.5h0M30.1 111.3h0M37.8 83.6h0M45.7 108.9h0M65.6 82.4h0M113.6 50.9h0M55.7 52.9h0M35.7 70.9h0M19.6 91.4h0M61.2 69.6h0M55.4 47.7h0M30.8 102.2h0M51.1 79.9h0M18.4 67.3h0M55.1 22.5h0M51.1 13.2h0M110.1 36.1h0M62.5 69.5h0M46 118.7h0M41.8 18.6h0M63.6 38.6h0M111.8 33.7h0M109.4 25.4h0M69.1 43.7h0M21.4 94.7h0M56.4 55.4h0M14.3 78.1h0M37.7 117.5h0M61.6 116.4h0M47.7 44.1h0M58.8 36.1h0M62.8 9.1h0M76.1 33.8h0M27.5 104.7h0M56.2 64.7h0M58.5 70.6h0M66.3 20.7h0M56.3 11.3h0M39.9 94.5h0M27.1 63.7h0M59.5 35h0M53.2 16.9h0M26.4 62.4h0M70.1 26.4h0M59.3 62.1h0M76.4 40.7h0M115.5 16.1h0M50.1 95.2h0M26.7 67.2h0M75.1 30.3h0M55.4 97.2h0M27.3 69.9h0M46.9 87.2h0M77.7 25.3h0M42.1 68.4h0M44.1 15.1h0M103 23.8h0"/>
<path stroke="#5a1e62" stroke-opacity="0.6" stroke-width="1.6" stroke-linecap="round" d="M105.4 15.7h0M32 93.5h0M23.4 54.6h0M97.3 29.4h0M123.9 34.6h0M41 50h0M51.5 58.9h0M42.7 74.2h0M94.2 20.3h0M86.6 46.6h0M30.3 89.7h0M61.2 64.9h0M91.2 17.6h0M117.8 21.5h0M115.7 3.9h0M43.9 116.8h0M117.1 24.8h0M44.5 34.1h0M47.7 14.5h0M53 103.9h0M110.9 38.6h0M55.7 28.9h0M24.8 107.6h0M45.7 53.4h0M48.3 53.8h0M62.1 73.2h0M22.7 115.2h0M27.6 107.5h0M35.2 90.9h0M23.9 67.8h0M33.6 72.9h0M88.5 16.1h0M54.4 89h0M29.4 75.1h0M48.1 88.7h0M73.3 52.8h0M62.5 64.4h0M49.8 35.8h0M64.8 57.1h0M90.2 26.4h0M24.2 64.9h0M97.6 20.4h0M22.7 83.9h0M99.4 25.4h0M73.4 38.1h0M43.9 116.2h0M97.7 24.2h0M27.4 84.3h0M51.3 88.2h0M25.2 71.3h0M53.2 37.1h0M65 20.6h0M53.5 71.8h0M50 71.2h0M51.8 7.8h0M49 84.3h0M41.5 93.8h0M83.6 33h0M66.7 24.6h0M38.4 93.4h0M112.7 27.7h0M118.9 14.1h0M67.1 42.7h0M35.1 72.3h0M51.5 3.3h0M31.8 59.8h0M37.7 115.8h0M49 26.8h0M40.6 53.5h0M32.9 75.4h0M117.3 15.4h0M101.9 16.1h0M49.7 40.4h0M39.2 83.5h0M61.4 102.3h0M53.5 39.5h0M103.5 13.6h0M20.7 68.5h0M18.6 68.3h0M48.2 76.6h0M48.1 45.9h0M48.4 19.6h0M105.9 2.4h0M41 6.8h0M62.4 49.9h0M28.1 117.4h0M45.3 62.4h0M63 14.5h0M88.5 42.4h0M55.2 73.2h0M23.3 52.4h0M34.4 86.4h0M50.1 43.5h0M80.9 29.8h0M108.5 26.6h0M35.1 69h0M44.4 59.6h0M63.7 32.6h0M64.1 41.7h0M121.9 28.2h0M61.5 35.6h0M46 57.7h0M95.1 13.3h0M19.9 98.1h0M25.1 87.8h0M88.3 44.9h0M105.7 40.9h0M102 12h0M77.4 44h0M76.1 36.1h0M117.5 22.7h0M49.2 110.9h0M69 10.2h0M27.9 111h0M25.6 74.8h0M106.3 36.3h0M53.6 26.9h0M112.4 47.8h0M38 102.4h0M54 71.9h0M54.7 35.6h0M42.7 118.7h0M84.1 34.6h0M56.6 11.8h0M46.3 19.7h0M100.9 25.4h0M62.1 28h0M58 112.2h0M63.7 26h0M111.8 52.9h0M26 90.2h0M86.7 21.7h0M95.4 40h0M86.8 30.8h0M38.1 28.4h0M57.3 102.2h0M30.6 93.6h0M117 37.2h0M124.2 30.9h0M44.4 67.7h0M113.5 46.9h0M104.8 24h0M62.7 35.5h0M119.7 25.4h0M115.2 27.6h0M106.8 37h0M50.3 50h0M50.8 58.8h0M95.5 42.5h0M117.1 28.1h0M63.7 25.3h0M23.4 114.6h0M89.7 25.3h0M99.3 8.6h0M26.1 113.8h0M42.4 96.7h0M25.5 72.1h0M93 44.1h0M124.5 7.5h0M36.3 93.6h0M48.7 117.9h0M109.4 16.3h0M44.1 45.6h0M112.1 37.5h0M81.7 39.2h0M121 30.7h0M61.3 13.1h0M70.8 34.3h0M76.6 32.4h0M98.6 48.6h0M52.6 21.7h0M58.3 60.9h0M113.8 31.2h0M116.3 35.4h0M42.5 108.4h0M68.7 13h0M51.3 62.2h0M118.7 23h0M59.1 58.7h0M44.9 99.7h0M48 84.6h0M13.4 114.6h0M79.2 49.3h0M47.8 23.8h0M40.1 101.2h0M18.3 83.1h0M75.5 22.3h0M87.2 48.5h0M43.8 13.1h0M39.2 60h0M97.1 53.8h0M66 80.9h0M22.2 117.6h0M103.5 34.3h0M45.8 87.6h0M84 38.1h0M21.9 108.2h0M36.9 88.9h0M42.6 106.7h0M42 84.4h0M18.6 94.4h0M29.9 93.4h0M35.2 44.4h0M26.1 99.2h0M57.8 82.1h0M86.5 14.3h0M113.7 38.6h0M50.4 99h0M56.9 112.6h0M39 25h0M58 93.1h0M43.5 108.4h0M54.2 12.1h0M109.6 26.6h0M53.9 103.1h0M50.7 54h0M26.2 90.5h0M30.6 52.6h0M102.8 29.8h0M22.9 84.8h0M24 101.9h0M109.3 34.6h0M72.1 13.3h0M49.4 91.4h0M55.2 4.7h0M49.4 62.5h0M35.3 79h0M106.9 32.8h0M106.4 31.5h0M109 25.7h0M63.2 72h0M81.5 35.7h0M41.1 100.5h0M62.2 103.8h0M67.8 60.4h0M43.8 17.4h0M61.3 16.1h0M53.8 96.3h0M44.4 81.7h0M91 23.6h0M82.3 15.5h0M58 30.5h0M42.2 71.1h0M123 27.4h0M106.5 55.9h0M40.2 14.5h0M95.2 13h0M57.2 1.6h0M59 54.5h0M57.5 116.7h0M111.9 10.7h0M118.1 9.2h0M16.4 89.1h0M99.2 19.1h0M100.8 15.8h0M55.5 90.7h0M64.5 37.8h0M110.5 52.8h0M87.6 9.8h0M62.9 36.6h0M43.3 81.5h0M35.8 50.4h0M68.8 46.6h0M49.2 67.5h0M33 63.2h0M103.9 48.7h0M124.2 31.8h0M26.8 108.2h0M27.3 96.7h0M111.3 36.7h0M123.2 15.5h0M63.9 103.5h0M42.8 45.8h0M63.7 71.3h0M101.8 19.6h0M115.7 47.8h0M70.5 7.3h0M65.9 44.8h0M29.8 78.3h0M86 49h0M49 23.5h0M105.9 13.9h0M42.3 52.8h0M20.6 53h0M54.1 114h0M29.5 119.2h0M16.6 83.9h0M69.6 27.9h0M99.1 9.9h0M34.6 66.2h0M60.9 16.5h0M61.3 91.4h0M42.2 117.4h0M109.1 33.3h0M120.3 27.5h0M16.5 104h0M112.2 10h0M112.1 44.6h0M37.7 46.6h0M37.6 26.3h0M27.6 94.3h0M36.7 98.9h0M78.7 41.8h0M54.9 19.1h0M70.3 37.7h0M24.8 87h0M101 35.2h0M48.9 47.7h0M56.1 100.6h0M102.1 31.2h0M59.6 46.5h0M111.2 13.6h0M18.9 95.2h0M42.4 97.3h0M60.3 92.5h0M54.1 95.3h0M60.8 82.5h0M48.7 74.7h0M48.9 38.3h0M58 24.2h0M101.1 22.2h0M116.8 16.4h0M22.6 100.4h0M62 40.8h0M55.3 29.7h0M78.1 45.7h0M110.1 28.4h0M25.7 100.5h0M88.4 10.7h0M19.4 99.7h0M48.5 34.5h0M91.8 23.9h0M86.1 12.7h0M30 68.8h0M36.3 101.7h0M43.9 61.5h0M44.4 112.5h0M32.9 71.3h0M101.4 .8h0M70.4 11.6h0M85.1 5.8h0M35.7 100.4h0M56.9 78.4h0M111.4 13.3h0M99.3 48.3h0M30.8 117.6h0M38.9 75.3h0M57.2 81.3h0M120 31.2h0M109.1 14.9h0M24.6 74h0M51.2 45.1h0M112.6 12.2h0M28.1 63.4h0M78.6 32h0M43.7 42.5h0M41.7 29.9h0M45.3 50.9h0M117.8 21.9h0M23.7 118.7h0M26.6 90.9h0M28.7 81.7h0M56 111.7h0M97.1 16.4h0M80.2 45h0M22.6 59.5h0M117.6 37.5h0M76.8 14.1h0M45.9 54.7h0M101.2 39.8h0M113.2 17.9h0M59.4 75.3h0M31.4 110.4h0M31.8 70.2h0M65.3 34.4h0M51.9 87.4h0M126 32.8h0M100.7 24.9h0M87.7 9.4h0M76.8 39.2h0M47.8 90.5h0M97.3 28.8h0M87.8 2.8h0M93 26.9h0M98.3 32.1h0M75.2 8h0M54.5 29.4h0M49.8 111.8h0M54.6 24.3h0M66.2 29.9h0"/>
<path stroke="#4e1c62" stroke-opacity="0.8" stroke-width="1.2" stroke-linecap="round" d="M134.6 29.4h0M124.4 47.5h0M134.7 24.6h0M146.2 8.4h0M117.6 53.7h0M155.3 10h0M112.1 14.6h0M147.9 77.1h0M149.2 10.5h0M133.9 43.7h0M138.1 90.1h0M142.3 1.1h0M149.7 70.1h0M154.3 80.2h0M155.3 79.7h0M135.5 95.5h0M126.7 42.4h0M136.5 38.6h0M70.5 73.2h0M111.9 14.1h0M107.7 74.8h0M153.4 2.1h0M110.7 76.1h0M134.5 37.4h0M136.9 35.4h0M154.9 97.1h0M140.1 111.6h0M154.3 8.5h0M137.2 111.6h0M74.6 72.5h0M137.6 90.1h0M131.2 92.6h0"/>
<path stroke="#4e1c62" stroke-opacity="0.8" stroke-width="1.6" stroke-linecap="round" d="M143.5 105.5h0M107.7 32.5h0M147.5 106.4h0M131.3 38.7h0M148.5 112.7h0M132.7 37.5h0M136.1 27.4h0M152.1 9.6h0M151.9 70.2h0M141.9 110.9h0M136.7 54.9h0M109.4 76.7h0M129.9 93.9h0M129.9 100.3h0M139.8 6.6h0M148.1 73.4h0M152.2 73.2h0M119.6 55.6h0M146.5 63h0M122.3 77.9h0M125.2 28.8h0M108.1 72.1h0M133.8 29.4h0M149 109.4h0M127.1 58.7h0M145.6 107.8h0M107.8 75.5h0M131.5 91.7h0"/>
</g>
<text transform="translate(2.1,21.7) scale(0.8946,1)" x="-0.06" y="0" font-size="29.5" fill="#000">A</text>
<text transform="translate(397.4,21.7) scale(0.9745,1)" x="-2.42" y="0" font-size="29.5" fill="#000">B</text>
<text transform="translate(1.9,212.3) scale(0.9581,1)" x="-1.5" y="0" font-size="29.5" fill="#000">C</text>
<text transform="translate(1.9,435.6) scale(0.9501,1)" x="-2.42" y="0" font-size="29.5" fill="#000">D</text>
<text transform="translate(177.9,435.6) scale(0.9256,1)" x="-2.42" y="0" font-size="29.5" fill="#000">E</text>
<text transform="translate(394.2,435.6) scale(0.9571,1)" x="-2.42" y="0" font-size="29.5" fill="#000">F</text>
<text transform="translate(575.4,436) scale(0.9554,1)" x="-1.48" y="0" font-size="29.5" fill="#000">G</text>
<line x1="169.8" y1="9.6" x2="169.8" y2="106" stroke="#8c8c8c" stroke-width="2"/>
<line x1="168.8" y1="105" x2="321.5" y2="105" stroke="#8c8c8c" stroke-width="2"/>
<line x1="167.5" y1="37.5" x2="169.8" y2="37.5" stroke="#8c8c8c" stroke-width="1.2"/>
<line x1="167.5" y1="64.5" x2="169.8" y2="64.5" stroke="#8c8c8c" stroke-width="1.2"/>
<line x1="167.5" y1="91.5" x2="169.8" y2="91.5" stroke="#8c8c8c" stroke-width="1.2"/>
<line x1="211.2" y1="95.4" x2="211.2" y2="88.6" stroke="#000000" stroke-width="1.7"/>
<line x1="209.6" y1="89.4" x2="212.8" y2="89.4" stroke="#000000" stroke-width="1.6"/>
<rect x="204.35" y="95.25" width="13.7" height="9.75" fill="#e60012" stroke="#000" stroke-width="1.7"/>
<line x1="234.25" y1="103.6" x2="234.25" y2="101.9" stroke="#000000" stroke-width="1.7"/>
<line x1="232.65" y1="102.7" x2="235.85" y2="102.7" stroke="#000000" stroke-width="1.6"/>
<rect x="227.35" y="103.45" width="13.8" height="0.85" fill="#fff" stroke="#000" stroke-width="1.7"/>
<line x1="280.5" y1="31.3" x2="280.5" y2="18.1" stroke="#000000" stroke-width="1.7"/>
<line x1="278.9" y1="18.9" x2="282.1" y2="18.9" stroke="#000000" stroke-width="1.6"/>
<rect x="272.75" y="31.15" width="15.5" height="73.85" fill="#e60012" stroke="#000" stroke-width="1.7"/>
<line x1="303.6" y1="102.2" x2="303.6" y2="100.2" stroke="#000000" stroke-width="1.7"/>
<line x1="302" y1="101" x2="305.2" y2="101" stroke="#000000" stroke-width="1.6"/>
<rect x="296.65" y="102.05" width="13.9" height="2.25" fill="#fff" stroke="#000" stroke-width="1.7"/>
<polyline points="217.6,82.7 217.6,15.6 274.9,15.6 274.9,19.4" fill="none" stroke="#000000" stroke-width="1.8"/>
<path d="M247.5 5.6L247.5 3.35M247.5 5.6L249.88 4.9M247.5 5.6L248.97 7.42M247.5 5.6L246.03 7.42M247.5 5.6L245.12 4.9" stroke="#000" stroke-width="1.35" stroke-linecap="butt"/>
<text transform="translate(131.55,25.5) scale(1.0804,1)" x="-0.57" y="0" font-size="15.04" fill="#000">3100</text>
<text transform="translate(131.45,52.51) scale(1.1140,1)" x="-0.72" y="0" font-size="14.34" fill="#000">2100</text>
<text transform="translate(133.55,79.81) scale(1.0479,1)" x="-1.1" y="0" font-size="14.48" fill="#000">1100</text>
<text transform="translate(139.95,106.91) scale(1.1207,1)" x="-1.1" y="0" font-size="14.48" fill="#000">100</text>
<text transform="translate(121.55,104.15) rotate(-90) scale(0.9614,1)" x="-1.55" y="0" font-size="16.84">IL-1β (pg/ml)</text>
<text transform="translate(182.5,133.8) rotate(-62) scale(1.0000,1)" x="-23.64" y="6.08" font-size="17" fill="#000">Saline</text>
<text transform="translate(205,133.8) rotate(-62) scale(1.0000,1)" x="-13.06" y="5.85" font-size="17" fill="#000">WT</text>
<text transform="translate(226.9,133.8) rotate(-62) scale(1.0000,1)" x="-19.88" y="5.85" font-size="17" fill="#000">S325</text>
<text transform="translate(251,133.8) rotate(-62) scale(1.0000,1)" x="-23.64" y="6.08" font-size="17" fill="#000">Saline</text>
<text transform="translate(274,133.8) rotate(-62) scale(1.0000,1)" x="-13.06" y="5.85" font-size="17" fill="#000">WT</text>
<text transform="translate(296,133.8) rotate(-62) scale(1.0000,1)" x="-19.88" y="5.85" font-size="17" fill="#000">S325</text>
<line x1="172.1" y1="165" x2="233.5" y2="165" stroke="#000000" stroke-width="2"/>
<line x1="237.3" y1="165" x2="299.6" y2="165" stroke="#000000" stroke-width="2"/>
<text transform="translate(170.2,181.3) scale(1.0300,1)" x="-0.88" y="0" font-size="17.5" fill="#000">GLMN</text>
<text transform="translate(221.5,175.7) scale(1.0463,1)" x="-0.49" y="0" font-size="10" fill="#000">+/+</text>
<text transform="translate(244,181.3) scale(1.0134,1)" x="-0.88" y="0" font-size="17.5" fill="#000">GLMN</text>
<text transform="translate(294.5,175.7) scale(1.2074,1)" x="-0.49" y="0" font-size="10" fill="#000">+/-</text>
<line x1="173.1" y1="213.8" x2="173.1" y2="310.2" stroke="#000000" stroke-width="1.8"/>
<line x1="172.2" y1="309.3" x2="320" y2="309.3" stroke="#000000" stroke-width="1.8"/>
<line x1="170.5" y1="238.1" x2="173" y2="238.1" stroke="#000000" stroke-width="1.2"/>
<line x1="170.5" y1="261.9" x2="173" y2="261.9" stroke="#000000" stroke-width="1.2"/>
<line x1="170.5" y1="285.6" x2="173" y2="285.6" stroke="#000000" stroke-width="1.2"/>
<line x1="211.55" y1="282.3" x2="211.55" y2="276.5" stroke="#000000" stroke-width="1.7"/>
<line x1="209.95" y1="277.3" x2="213.15" y2="277.3" stroke="#000000" stroke-width="1.6"/>
<rect x="203.55" y="282.15" width="16" height="27.05" fill="#e60012" stroke="#000" stroke-width="1.7"/>
<line x1="235.1" y1="308.2" x2="235.1" y2="300.3" stroke="#000000" stroke-width="1.7"/>
<line x1="233.5" y1="301.1" x2="236.7" y2="301.1" stroke="#000000" stroke-width="1.6"/>
<rect x="227.35" y="308.05" width="15.5" height="1.15" fill="#fff" stroke="#000" stroke-width="1.7"/>
<line x1="281.5" y1="237" x2="281.5" y2="229.1" stroke="#000000" stroke-width="1.7"/>
<line x1="279.9" y1="229.9" x2="283.1" y2="229.9" stroke="#000000" stroke-width="1.6"/>
<rect x="273.75" y="236.85" width="15.5" height="72.35" fill="#e60012" stroke="#000" stroke-width="1.7"/>
<line x1="304.95" y1="302.1" x2="304.95" y2="293.1" stroke="#000000" stroke-width="1.7"/>
<line x1="303.35" y1="293.9" x2="306.55" y2="293.9" stroke="#000000" stroke-width="1.6"/>
<rect x="296.95" y="301.95" width="16" height="7.25" fill="#fff" stroke="#000" stroke-width="1.7"/>
<polyline points="219.4,275.9 219.4,224.8 275.4,224.8 275.4,227.8" fill="none" stroke="#000000" stroke-width="1.8"/>
<path d="M251 214.4L251 211.7M251 214.4L253.85 213.57M251 214.4L252.76 216.58M251 214.4L249.24 216.58M251 214.4L248.15 213.57" stroke="#000" stroke-width="1.35" stroke-linecap="butt"/>
<text transform="translate(116.65,216.62) scale(1.0509,1)" x="-0.52" y="0" font-size="12.92" fill="#000">5000000</text>
<text transform="translate(122.15,240.42) scale(1.0427,1)" x="-0.52" y="0" font-size="12.92" fill="#000">500000</text>
<text transform="translate(129.45,264.22) scale(1.0483,1)" x="-0.52" y="0" font-size="12.92" fill="#000">50000</text>
<text transform="translate(135.55,288.02) scale(1.0531,1)" x="-0.52" y="0" font-size="12.92" fill="#000">5000</text>
<text transform="translate(141.05,310.02) scale(1.0370,1)" x="-0.52" y="0" font-size="12.92" fill="#000">500</text>
<text transform="translate(90.3,380.6) rotate(-90) scale(0.9575,1)" x="-0.35" y="0" font-size="15.5">The number of viable bacteria</text>
<text transform="translate(106.3,352.6) rotate(-90) scale(0.9569,1)" x="-1.04" y="0" font-size="15.5">in the lungs (cfu/lung)</text>
<text transform="translate(180.4,338.6) rotate(-62) scale(1.0000,1)" x="-23.64" y="6.08" font-size="17" fill="#000">Saline</text>
<text transform="translate(203.4,338.6) rotate(-62) scale(1.0000,1)" x="-13.06" y="5.85" font-size="17" fill="#000">WT</text>
<text transform="translate(225.9,338.6) rotate(-62) scale(1.0000,1)" x="-19.88" y="5.85" font-size="17" fill="#000">S325</text>
<text transform="translate(250.4,338.6) rotate(-62) scale(1.0000,1)" x="-23.64" y="6.08" font-size="17" fill="#000">Saline</text>
<text transform="translate(273,338.6) rotate(-62) scale(1.0000,1)" x="-13.06" y="5.85" font-size="17" fill="#000">WT</text>
<text transform="translate(295.5,338.6) rotate(-62) scale(1.0000,1)" x="-19.88" y="5.85" font-size="17" fill="#000">S325</text>
<line x1="168" y1="368.8" x2="229" y2="368.8" stroke="#000000" stroke-width="2"/>
<line x1="233.2" y1="368.8" x2="294.9" y2="368.8" stroke="#000000" stroke-width="2"/>
<text transform="translate(166.3,387.2) scale(1.1488,1)" x="-0.78" y="0" font-size="15.5" fill="#000">GLMN</text>
<text transform="translate(216.5,382) scale(1.1404,1)" x="-0.46" y="0" font-size="9.5" fill="#000">+/+</text>
<text transform="translate(237.8,387.2) scale(1.1652,1)" x="-0.78" y="0" font-size="15.5" fill="#000">GLMN</text>
<text transform="translate(288.7,382) scale(1.1945,1)" x="-0.46" y="0" font-size="9.5" fill="#000">+/-</text>
<text transform="translate(474.9,83.4) scale(1.0552,1)" x="-1.07" y="0" font-size="23.5" fill="#000">Saline</text>
<text transform="translate(649.2,84) scale(1.0253,1)" x="-0.1" y="0" font-size="23.5" fill="#000">WT</text>
<text transform="translate(420.62,180.35) rotate(-90) scale(0.9481,1)" x="-1.2" y="0" font-size="23.87">GLMN</text>
<text transform="translate(412.12,115.15) rotate(-90) scale(0.8959,1)" x="-0.66" y="0" font-size="13.5">+/+</text>
<text transform="translate(420.62,305.55) rotate(-90) scale(0.9405,1)" x="-1.2" y="0" font-size="23.87">GLMN</text>
<text transform="translate(411.52,240.75) rotate(-90) scale(0.9481,1)" x="-0.66" y="0" font-size="13.5">+/-</text>
<line x1="71.9" y1="454" x2="71.9" y2="572" stroke="#8c8c8c" stroke-width="2"/>
<line x1="70.9" y1="571" x2="135.3" y2="571" stroke="#8c8c8c" stroke-width="2"/>
<line x1="81.95" y1="561.8" x2="81.95" y2="558.5" stroke="#000000" stroke-width="1.7"/>
<line x1="80.35" y1="559.3" x2="83.55" y2="559.3" stroke="#000000" stroke-width="1.6"/>
<rect x="76.65" y="561.65" width="10.6" height="8.85" fill="#000000" stroke="#000" stroke-width="1.7"/>
<line x1="94.4" y1="560.5" x2="94.4" y2="558" stroke="#000000" stroke-width="1.7"/>
<line x1="92.8" y1="558.8" x2="96" y2="558.8" stroke="#000000" stroke-width="1.6"/>
<rect x="88.95" y="560.35" width="10.9" height="10.15" fill="#e60012" stroke="#000" stroke-width="1.7"/>
<line x1="113.45" y1="520" x2="113.45" y2="510.3" stroke="#000000" stroke-width="1.7"/>
<line x1="111.85" y1="511.1" x2="115.05" y2="511.1" stroke="#000000" stroke-width="1.6"/>
<rect x="108.05" y="519.85" width="10.8" height="50.65" fill="#000000" stroke="#000" stroke-width="1.7"/>
<line x1="126.1" y1="483.9" x2="126.1" y2="471.1" stroke="#000000" stroke-width="1.7"/>
<line x1="124.5" y1="471.9" x2="127.7" y2="471.9" stroke="#000000" stroke-width="1.6"/>
<rect x="120.55" y="483.75" width="11.1" height="86.75" fill="#e60012" stroke="#000" stroke-width="1.7"/>
<polyline points="114.5,503.3 114.5,462.6 120.8,462.6 120.8,467.9" fill="none" stroke="#000000" stroke-width="1.8"/>
<path d="M117.9 454.5L117.9 451.71M117.9 454.5L120.85 453.64M117.9 454.5L119.72 456.76M117.9 454.5L116.08 456.76M117.9 454.5L114.95 453.64" stroke="#000" stroke-width="1.35" stroke-linecap="butt"/>
<text transform="translate(51.95,456.51) scale(1.0198,1)" x="-0.64" y="0" font-size="14.76" fill="#000">80</text>
<text transform="translate(51.95,486.6) scale(0.9713,1)" x="-0.79" y="0" font-size="15.61" fill="#000">60</text>
<text transform="translate(51.95,515.3) scale(0.9371,1)" x="-0.36" y="0" font-size="15.75" fill="#000">40</text>
<text transform="translate(51.95,544) scale(0.9621,1)" x="-0.79" y="0" font-size="15.75" fill="#000">20</text>
<text transform="translate(60.05,572.6) scale(0.8980,1)" x="-0.61" y="0" font-size="15.61" fill="#000">0</text>
<text transform="translate(42.91,563.55) rotate(-90) scale(0.8764,1)" x="-1.44" y="0" font-size="17.6">LDH release (%)</text>
<text transform="translate(83.8,593.9) scale(1.0000,1)" x="-1.43" y="0" font-size="18.8" fill="#000">1</text>
<text transform="translate(107.45,593.56) scale(1.0767,1)" x="-1.47" y="0" font-size="19.28" fill="#000">1.5</text>
<text transform="translate(142.45,593.06) scale(0.9888,1)" x="-1.07" y="0" font-size="17.34" fill="#000">(hrs)</text>
<text transform="translate(23.4,620.4) scale(1.0424,1)" x="-0.03" y="0" font-size="16.7" fill="#000">ATP/LPS treatment</text>
<line x1="217.6" y1="451.5" x2="217.6" y2="568.3" stroke="#8c8c8c" stroke-width="2"/>
<line x1="216.6" y1="567.3" x2="350.6" y2="567.3" stroke="#8c8c8c" stroke-width="2"/>
<line x1="262.4" y1="567.5" x2="262.4" y2="570" stroke="#8c8c8c" stroke-width="1.2"/>
<line x1="307" y1="567.5" x2="307" y2="570" stroke="#8c8c8c" stroke-width="1.2"/>
<line x1="229.95" y1="490.7" x2="229.95" y2="478.2" stroke="#000000" stroke-width="1.7"/>
<line x1="228.35" y1="479" x2="231.55" y2="479" stroke="#000000" stroke-width="1.6"/>
<rect x="226.05" y="490.55" width="7.8" height="76.95" fill="#fff" stroke="#000" stroke-width="1.7"/>
<line x1="240.05" y1="482.1" x2="240.05" y2="477.1" stroke="#000000" stroke-width="1.7"/>
<line x1="238.45" y1="477.9" x2="241.65" y2="477.9" stroke="#000000" stroke-width="1.6"/>
<rect x="235.55" y="481.95" width="9" height="85.55" fill="#000000" stroke="#000" stroke-width="1.7"/>
<line x1="250.4" y1="468.6" x2="250.4" y2="459.5" stroke="#000000" stroke-width="1.7"/>
<line x1="248.8" y1="460.3" x2="252" y2="460.3" stroke="#000000" stroke-width="1.6"/>
<rect x="246.25" y="468.45" width="8.3" height="99.05" fill="#e60012" stroke="#000" stroke-width="1.7"/>
<line x1="273.95" y1="558.6" x2="273.95" y2="552.4" stroke="#000000" stroke-width="1.7"/>
<line x1="272.35" y1="553.2" x2="275.55" y2="553.2" stroke="#000000" stroke-width="1.6"/>
<rect x="270.05" y="558.45" width="7.8" height="9.05" fill="#fff" stroke="#000" stroke-width="1.7"/>
<line x1="284.05" y1="555.4" x2="284.05" y2="547.5" stroke="#000000" stroke-width="1.7"/>
<line x1="282.45" y1="548.3" x2="285.65" y2="548.3" stroke="#000000" stroke-width="1.6"/>
<rect x="279.55" y="555.25" width="9" height="12.25" fill="#000000" stroke="#000" stroke-width="1.7"/>
<line x1="294.4" y1="521.2" x2="294.4" y2="504.1" stroke="#000000" stroke-width="1.7"/>
<line x1="292.8" y1="504.9" x2="296" y2="504.9" stroke="#000000" stroke-width="1.6"/>
<rect x="290.25" y="521.05" width="8.3" height="46.45" fill="#e60012" stroke="#000" stroke-width="1.7"/>
<line x1="317.8" y1="567" x2="317.8" y2="565" stroke="#000000" stroke-width="1.7"/>
<line x1="316.2" y1="565.8" x2="319.4" y2="565.8" stroke="#000000" stroke-width="1.6"/>
<rect x="314.05" y="566.85" width="7.5" height="0.65" fill="#fff" stroke="#000" stroke-width="1.7"/>
<line x1="327.9" y1="564" x2="327.9" y2="560.2" stroke="#000000" stroke-width="1.7"/>
<line x1="326.3" y1="561" x2="329.5" y2="561" stroke="#000000" stroke-width="1.6"/>
<rect x="323.25" y="563.85" width="9.3" height="3.65" fill="#000000" stroke="#000" stroke-width="1.7"/>
<line x1="338.7" y1="561.2" x2="338.7" y2="553.9" stroke="#000000" stroke-width="1.7"/>
<line x1="337.1" y1="554.7" x2="340.3" y2="554.7" stroke="#000000" stroke-width="1.6"/>
<rect x="334.25" y="561.05" width="8.9" height="6.45" fill="#e60012" stroke="#000" stroke-width="1.7"/>
<polyline points="286,540.9 286,499 291,499 291,503.2" fill="none" stroke="#000000" stroke-width="1.8"/>
<path d="M288 491.3L288 488.51M288 491.3L290.95 490.44M288 491.3L289.82 493.56M288 491.3L286.18 493.56M288 491.3L285.05 490.44" stroke="#000" stroke-width="1.35" stroke-linecap="butt"/>
<text transform="translate(197.85,477.21) scale(1.0356,1)" x="-0.34" y="0" font-size="14.62" fill="#000">40</text>
<text transform="translate(197.85,524.91) scale(1.0633,1)" x="-0.74" y="0" font-size="14.62" fill="#000">20</text>
<text transform="translate(206.15,569.21) scale(0.9780,1)" x="-0.58" y="0" font-size="14.76" fill="#000">0</text>
<text transform="translate(191.02,567.25) rotate(-90) scale(0.8884,1)" x="-1.48" y="0" font-size="18.03">LDH release (%)</text>
<text transform="translate(235.6,593.4) rotate(-63) scale(1.0000,1)" x="-13.83" y="6.19" font-size="18" fill="#000">WT</text>
<text transform="translate(279,613.9) rotate(-63) scale(1.0000,1)" x="-36.83" y="4.65" font-size="18" fill="#000" font-style="italic">ΔipaH7.8</text>
<text transform="translate(328.5,597.9) rotate(-63) scale(1.0000,1)" x="-21.05" y="6.2" font-size="18" fill="#000">S325</text>
<line x1="443.9" y1="454.5" x2="443.9" y2="567.8" stroke="#8c8c8c" stroke-width="2"/>
<line x1="442.9" y1="566.8" x2="508.1" y2="566.8" stroke="#8c8c8c" stroke-width="2"/>
<line x1="453.6" y1="557.1" x2="453.6" y2="549.5" stroke="#000000" stroke-width="1.7"/>
<line x1="452" y1="550.3" x2="455.2" y2="550.3" stroke="#000000" stroke-width="1.6"/>
<rect x="448.35" y="556.95" width="10.5" height="9.05" fill="#006f35" stroke="#000" stroke-width="1.7"/>
<line x1="466.25" y1="541.4" x2="466.25" y2="533.3" stroke="#000000" stroke-width="1.7"/>
<line x1="464.65" y1="534.1" x2="467.85" y2="534.1" stroke="#000000" stroke-width="1.6"/>
<rect x="460.55" y="541.25" width="11.4" height="24.75" fill="#8fc31f" stroke="#000" stroke-width="1.7"/>
<line x1="486.15" y1="498.3" x2="486.15" y2="491.5" stroke="#000000" stroke-width="1.7"/>
<line x1="484.55" y1="492.3" x2="487.75" y2="492.3" stroke="#000000" stroke-width="1.6"/>
<rect x="480.75" y="498.15" width="10.8" height="67.85" fill="#006f35" stroke="#000" stroke-width="1.7"/>
<line x1="498.85" y1="470.3" x2="498.85" y2="462.7" stroke="#000000" stroke-width="1.7"/>
<line x1="497.25" y1="463.5" x2="500.45" y2="463.5" stroke="#000000" stroke-width="1.6"/>
<rect x="493.25" y="470.15" width="11.2" height="95.85" fill="#8fc31f" stroke="#000" stroke-width="1.7"/>
<polyline points="488.5,485 488.5,459.6 495,459.6 495,463.3" fill="none" stroke="#000000" stroke-width="1.8"/>
<path d="M490.7 449L490.7 446.21M490.7 449L493.65 448.14M490.7 449L492.52 451.26M490.7 449L488.88 451.26M490.7 449L487.75 448.14" stroke="#000" stroke-width="1.35" stroke-linecap="butt"/>
<text transform="translate(419.25,457.03) scale(1.1355,1)" x="-0.9" y="0" font-size="11.79" fill="#000">100</text>
<text transform="translate(424.75,479.23) scale(1.2598,1)" x="-0.51" y="0" font-size="11.79" fill="#000">80</text>
<text transform="translate(424.75,502.13) scale(1.1707,1)" x="-0.65" y="0" font-size="12.78" fill="#000">60</text>
<text transform="translate(424.75,524.33) scale(1.1396,1)" x="-0.29" y="0" font-size="12.78" fill="#000">40</text>
<text transform="translate(424.75,547.23) scale(1.1701,1)" x="-0.64" y="0" font-size="12.78" fill="#000">20</text>
<text transform="translate(433.05,569.43) scale(1.0310,1)" x="-0.5" y="0" font-size="12.78" fill="#000">0</text>
<text transform="translate(408.51,573.65) rotate(-90) scale(1.0160,1)" x="-1.36" y="0" font-size="16.64">LDH release (%)</text>
<text transform="translate(456.8,587.4) scale(1.0000,1)" x="-1.43" y="0" font-size="18.8" fill="#000">1</text>
<text transform="translate(480.45,587.07) scale(1.0971,1)" x="-1.42" y="0" font-size="18.7" fill="#000">1.5</text>
<text transform="translate(515.05,586.51) scale(1.0674,1)" x="-1" y="0" font-size="16.15" fill="#000">(hrs)</text>
<text transform="translate(402.4,619.8) scale(1.0320,1)" x="-0.03" y="0" font-size="16.8" fill="#000">ATP/LPS treatment</text>
<line x1="622.6" y1="461.4" x2="622.6" y2="574" stroke="#8c8c8c" stroke-width="2"/>
<line x1="621.6" y1="573" x2="742.8" y2="573" stroke="#8c8c8c" stroke-width="2"/>
<line x1="661" y1="573.3" x2="661" y2="576" stroke="#8c8c8c" stroke-width="1.2"/>
<line x1="702" y1="573.3" x2="702" y2="576" stroke="#8c8c8c" stroke-width="1.2"/>
<line x1="637" y1="501.7" x2="637" y2="493.6" stroke="#000000" stroke-width="1.7"/>
<line x1="635.4" y1="494.4" x2="638.6" y2="494.4" stroke="#000000" stroke-width="1.6"/>
<rect x="631.95" y="501.55" width="10.1" height="71.75" fill="#006f35" stroke="#000" stroke-width="1.7"/>
<line x1="648.65" y1="480" x2="648.65" y2="470.1" stroke="#000000" stroke-width="1.7"/>
<line x1="647.05" y1="470.9" x2="650.25" y2="470.9" stroke="#000000" stroke-width="1.6"/>
<rect x="643.75" y="479.85" width="9.8" height="93.45" fill="#8fc31f" stroke="#000" stroke-width="1.7"/>
<line x1="676.75" y1="540.9" x2="676.75" y2="529.4" stroke="#000000" stroke-width="1.7"/>
<line x1="675.15" y1="530.2" x2="678.35" y2="530.2" stroke="#000000" stroke-width="1.6"/>
<rect x="671.75" y="540.75" width="10" height="32.55" fill="#006f35" stroke="#000" stroke-width="1.7"/>
<line x1="688.5" y1="494.6" x2="688.5" y2="483.1" stroke="#000000" stroke-width="1.7"/>
<line x1="686.9" y1="483.9" x2="690.1" y2="483.9" stroke="#000000" stroke-width="1.6"/>
<rect x="683.45" y="494.45" width="10.1" height="78.85" fill="#8fc31f" stroke="#000" stroke-width="1.7"/>
<line x1="716.4" y1="569.6" x2="716.4" y2="566" stroke="#000000" stroke-width="1.7"/>
<line x1="714.8" y1="566.8" x2="718" y2="566.8" stroke="#000000" stroke-width="1.6"/>
<rect x="711.75" y="569.45" width="9.3" height="3.85" fill="#006f35" stroke="#000" stroke-width="1.7"/>
<line x1="727.75" y1="563.6" x2="727.75" y2="557.4" stroke="#000000" stroke-width="1.7"/>
<line x1="726.15" y1="558.2" x2="729.35" y2="558.2" stroke="#000000" stroke-width="1.6"/>
<rect x="722.75" y="563.45" width="10" height="9.85" fill="#8fc31f" stroke="#000" stroke-width="1.7"/>
<polyline points="677.9,521.6 677.9,481.6 684,481.6 684,485" fill="none" stroke="#000000" stroke-width="1.8"/>
<path d="M680.5 474.2L680.5 471.41M680.5 474.2L683.45 473.34M680.5 474.2L682.32 476.46M680.5 474.2L678.68 476.46M680.5 474.2L677.55 473.34" stroke="#000" stroke-width="1.35" stroke-linecap="butt"/>
<text transform="translate(603.15,464.59) scale(0.9395,1)" x="-0.81" y="0" font-size="16.03" fill="#000">60</text>
<text transform="translate(603.15,501.6) scale(0.9281,1)" x="-0.35" y="0" font-size="15.18" fill="#000">40</text>
<text transform="translate(603.15,538.8) scale(0.9529,1)" x="-0.76" y="0" font-size="15.18" fill="#000">20</text>
<text transform="translate(610.85,576.11) scale(0.9537,1)" x="-0.57" y="0" font-size="14.48" fill="#000">0</text>
<text transform="translate(587.58,554.25) rotate(-90) scale(0.8760,1)" x="-1.37" y="0" font-size="16.74">LDH release (%)</text>
<text transform="translate(641.5,595.6) rotate(-63) scale(1.0000,1)" x="-13.83" y="6.19" font-size="18" fill="#000">WT</text>
<text transform="translate(674.5,613.9) rotate(-63) scale(1.0000,1)" x="-36.83" y="4.65" font-size="18" fill="#000" font-style="italic">ΔipaH7.8</text>
<text transform="translate(714.7,602) rotate(-63) scale(1.0000,1)" x="-21.05" y="6.2" font-size="18" fill="#000">S325</text>
<line x1="51" y1="660.1" x2="51" y2="785.3" stroke="#8c8c8c" stroke-width="2"/>
<line x1="50" y1="784.3" x2="147.7" y2="784.3" stroke="#8c8c8c" stroke-width="2"/>
<line x1="84.2" y1="784.2" x2="84.2" y2="787" stroke="#8c8c8c" stroke-width="1.2"/>
<line x1="115.8" y1="784.2" x2="115.8" y2="787" stroke="#8c8c8c" stroke-width="1.2"/>
<line x1="62" y1="783" x2="63.5" y2="783" stroke="#000000" stroke-width="1.5"/>
<line x1="94.75" y1="754.9" x2="94.75" y2="749.4" stroke="#000000" stroke-width="1.7"/>
<line x1="93.15" y1="750.2" x2="96.35" y2="750.2" stroke="#000000" stroke-width="1.6"/>
<rect x="91.05" y="754.75" width="7.4" height="29.45" fill="#1a1311" stroke="#000" stroke-width="1.7"/>
<line x1="104.15" y1="736" x2="104.15" y2="726.4" stroke="#000000" stroke-width="1.7"/>
<line x1="102.55" y1="727.2" x2="105.75" y2="727.2" stroke="#000000" stroke-width="1.6"/>
<rect x="100.15" y="735.85" width="8" height="48.35" fill="#e60012" stroke="#000" stroke-width="1.7"/>
<line x1="126.95" y1="719.8" x2="126.95" y2="710.2" stroke="#000000" stroke-width="1.7"/>
<line x1="125.35" y1="711" x2="128.55" y2="711" stroke="#000000" stroke-width="1.6"/>
<rect x="123.25" y="719.65" width="7.4" height="64.55" fill="#1a1311" stroke="#000" stroke-width="1.7"/>
<line x1="136.35" y1="690.8" x2="136.35" y2="673.1" stroke="#000000" stroke-width="1.7"/>
<line x1="134.75" y1="673.9" x2="137.95" y2="673.9" stroke="#000000" stroke-width="1.6"/>
<rect x="132.35" y="690.65" width="8" height="93.55" fill="#e60012" stroke="#000" stroke-width="1.7"/>
<polyline points="127.6,701 127.6,666.5 133.3,666.5 133.3,672.3" fill="none" stroke="#000000" stroke-width="1.8"/>
<path d="M131.3 659.4L131.3 656.61M131.3 659.4L134.25 658.54M131.3 659.4L133.12 661.66M131.3 659.4L129.48 661.66M131.3 659.4L128.35 658.54" stroke="#000" stroke-width="1.35" stroke-linecap="butt"/>
<text transform="translate(25.45,680.2) scale(0.8970,1)" x="-0.79" y="0" font-size="15.61" fill="#000">600</text>
<text transform="translate(25.45,716.21) scale(0.9411,1)" x="-0.34" y="0" font-size="14.62" fill="#000">400</text>
<text transform="translate(25.45,750.71) scale(0.9574,1)" x="-0.74" y="0" font-size="14.62" fill="#000">200</text>
<text transform="translate(40.15,785.31) scale(0.9496,1)" x="-0.58" y="0" font-size="14.76" fill="#000">0</text>
<text transform="translate(14.43,769.05) rotate(-90) scale(1.0747,1)" x="-1.56" y="0" font-size="16.95">IL-1β (pg/ml)</text>
<text transform="translate(43.25,806.08) scale(1.2433,1)" x="-0.66" y="0" font-size="17.02" fill="#000">0.5</text>
<text transform="translate(91.1,806.4) scale(1.0000,1)" x="-1.34" y="0" font-size="17.6" fill="#000">1</text>
<text transform="translate(114.85,806.08) scale(1.2155,1)" x="-1.32" y="0" font-size="17.27" fill="#000">1.5</text>
<text transform="translate(150.15,805.91) scale(1.0770,1)" x="-1" y="0" font-size="16.15" fill="#000">(hrs)</text>
<text transform="translate(21.6,834.2) scale(1.0107,1)" x="-0.03" y="0" font-size="17.2" fill="#000">ATP/LPS treatment</text>
<line x1="211.6" y1="673.3" x2="211.6" y2="785.6" stroke="#8c8c8c" stroke-width="2"/>
<line x1="210.6" y1="784.6" x2="372.8" y2="784.6" stroke="#8c8c8c" stroke-width="2"/>
<line x1="252.5" y1="783.9" x2="252.5" y2="786.5" stroke="#8c8c8c" stroke-width="1.2"/>
<line x1="293" y1="783.9" x2="293" y2="786.5" stroke="#8c8c8c" stroke-width="1.2"/>
<line x1="333.5" y1="783.9" x2="333.5" y2="786.5" stroke="#8c8c8c" stroke-width="1.2"/>
<line x1="221.8" y1="782" x2="221.8" y2="779" stroke="#000000" stroke-width="1.7"/>
<line x1="220.2" y1="779.8" x2="223.4" y2="779.8" stroke="#000000" stroke-width="1.6"/>
<rect x="218.35" y="781.85" width="6.9" height="2.05" fill="#fff" stroke="#000" stroke-width="1.7"/>
<line x1="231.1" y1="782" x2="231.1" y2="779" stroke="#000000" stroke-width="1.7"/>
<line x1="229.5" y1="779.8" x2="232.7" y2="779.8" stroke="#000000" stroke-width="1.6"/>
<rect x="226.95" y="781.85" width="8.3" height="2.05" fill="#000000" stroke="#000" stroke-width="1.7"/>
<line x1="241.15" y1="781.1" x2="241.15" y2="778.5" stroke="#000000" stroke-width="1.7"/>
<line x1="239.55" y1="779.3" x2="242.75" y2="779.3" stroke="#000000" stroke-width="1.6"/>
<rect x="236.95" y="780.95" width="8.4" height="2.95" fill="#e60012" stroke="#000" stroke-width="1.7"/>
<line x1="263.5" y1="733.7" x2="263.5" y2="726.3" stroke="#000000" stroke-width="1.7"/>
<line x1="261.9" y1="727.1" x2="265.1" y2="727.1" stroke="#000000" stroke-width="1.6"/>
<rect x="260.05" y="733.55" width="6.9" height="50.35" fill="#fff" stroke="#000" stroke-width="1.7"/>
<line x1="272.55" y1="731.7" x2="272.55" y2="727.8" stroke="#000000" stroke-width="1.7"/>
<line x1="270.95" y1="728.6" x2="274.15" y2="728.6" stroke="#000000" stroke-width="1.6"/>
<rect x="268.65" y="731.55" width="7.8" height="52.35" fill="#000000" stroke="#000" stroke-width="1.7"/>
<line x1="281.9" y1="701.5" x2="281.9" y2="690.4" stroke="#000000" stroke-width="1.7"/>
<line x1="280.3" y1="691.2" x2="283.5" y2="691.2" stroke="#000000" stroke-width="1.6"/>
<rect x="278.15" y="701.35" width="7.5" height="82.55" fill="#e60012" stroke="#000" stroke-width="1.7"/>
<line x1="303.7" y1="776.2" x2="303.7" y2="772.4" stroke="#000000" stroke-width="1.7"/>
<line x1="302.1" y1="773.2" x2="305.3" y2="773.2" stroke="#000000" stroke-width="1.6"/>
<rect x="300.25" y="776.05" width="6.9" height="7.85" fill="#fff" stroke="#000" stroke-width="1.7"/>
<line x1="312.75" y1="771.3" x2="312.75" y2="766.6" stroke="#000000" stroke-width="1.7"/>
<line x1="311.15" y1="767.4" x2="314.35" y2="767.4" stroke="#000000" stroke-width="1.6"/>
<rect x="308.85" y="771.15" width="7.8" height="12.75" fill="#000000" stroke="#000" stroke-width="1.7"/>
<line x1="322.55" y1="730.8" x2="322.55" y2="725.5" stroke="#000000" stroke-width="1.7"/>
<line x1="320.95" y1="726.3" x2="324.15" y2="726.3" stroke="#000000" stroke-width="1.6"/>
<rect x="318.35" y="730.65" width="8.4" height="53.25" fill="#e60012" stroke="#000" stroke-width="1.7"/>
<line x1="344" y1="781.1" x2="344" y2="779" stroke="#000000" stroke-width="1.7"/>
<line x1="342.4" y1="779.8" x2="345.6" y2="779.8" stroke="#000000" stroke-width="1.6"/>
<rect x="340.55" y="780.95" width="6.9" height="2.95" fill="#fff" stroke="#000" stroke-width="1.7"/>
<line x1="353.35" y1="777.1" x2="353.35" y2="775" stroke="#000000" stroke-width="1.7"/>
<line x1="351.75" y1="775.8" x2="354.95" y2="775.8" stroke="#000000" stroke-width="1.6"/>
<rect x="349.15" y="776.95" width="8.4" height="6.95" fill="#000000" stroke="#000" stroke-width="1.7"/>
<line x1="363.4" y1="772.8" x2="363.4" y2="768" stroke="#000000" stroke-width="1.7"/>
<line x1="361.8" y1="768.8" x2="365" y2="768.8" stroke="#000000" stroke-width="1.6"/>
<rect x="359.25" y="772.65" width="8.3" height="11.25" fill="#e60012" stroke="#000" stroke-width="1.7"/>
<polyline points="273,723.5 273,684.6 279.3,684.6 279.3,689.8" fill="none" stroke="#000000" stroke-width="1.8"/>
<path d="M277 678.7L277 675.91M277 678.7L279.95 677.84M277 678.7L278.82 680.96M277 678.7L275.18 680.96M277 678.7L274.05 677.84" stroke="#000" stroke-width="1.35" stroke-linecap="butt"/>
<polyline points="312.9,762.9 312.9,719.7 319.6,719.7 319.6,723.5" fill="none" stroke="#000000" stroke-width="1.8"/>
<path d="M317.3 713L317.3 710.21M317.3 713L320.25 712.14M317.3 713L319.12 715.26M317.3 713L315.48 715.26M317.3 713L314.35 712.14" stroke="#000" stroke-width="1.35" stroke-linecap="butt"/>
<text transform="translate(178.15,675.41) scale(0.9541,1)" x="-1.06" y="0" font-size="13.91" fill="#000">1600</text>
<text transform="translate(178.15,702.82) scale(1.0051,1)" x="-1.01" y="0" font-size="13.21" fill="#000">1200</text>
<text transform="translate(184.15,730.42) scale(1.0328,1)" x="-0.57" y="0" font-size="13.06" fill="#000">800</text>
<text transform="translate(184.15,758.81) scale(0.9479,1)" x="-0.32" y="0" font-size="14.05" fill="#000">400</text>
<text transform="translate(198.05,785.72) scale(0.9127,1)" x="-0.51" y="0" font-size="13.06" fill="#000">0</text>
<text transform="translate(174.61,770.75) rotate(-90) scale(0.9377,1)" x="-1.57" y="0" font-size="17.06">IL-1β (pg/ml)</text>
<text transform="translate(232.6,802.7) rotate(-62) scale(1.0000,1)" x="-2.66" y="4.25" font-size="16" fill="#000">-</text>
<text transform="translate(270.8,805.6) rotate(-63) scale(1.0000,1)" x="-13.83" y="6.19" font-size="18" fill="#000">WT</text>
<text transform="translate(301.8,825.7) rotate(-63) scale(1.0000,1)" x="-36.83" y="4.65" font-size="18" fill="#000" font-style="italic">ΔipaH7.8</text>
<text transform="translate(344.4,812.5) rotate(-63) scale(1.0000,1)" x="-21.05" y="6.2" font-size="18" fill="#000">S325</text>
<line x1="433.9" y1="669.9" x2="433.9" y2="788" stroke="#8c8c8c" stroke-width="2"/>
<line x1="432.9" y1="787" x2="547.3" y2="787" stroke="#8c8c8c" stroke-width="2"/>
<line x1="472" y1="786.8" x2="472" y2="789.5" stroke="#8c8c8c" stroke-width="1.2"/>
<line x1="510" y1="786.8" x2="510" y2="789.5" stroke="#8c8c8c" stroke-width="1.2"/>
<rect x="443.05" y="785.65" width="20.3" height="1.15" fill="#006f35" stroke="#000" stroke-width="1.7"/>
<line x1="485.6" y1="761.7" x2="485.6" y2="756.5" stroke="#000000" stroke-width="1.7"/>
<line x1="484" y1="757.3" x2="487.2" y2="757.3" stroke="#000000" stroke-width="1.6"/>
<rect x="480.95" y="761.55" width="9.3" height="25.25" fill="#006f35" stroke="#000" stroke-width="1.7"/>
<line x1="496.75" y1="746" x2="496.75" y2="735.6" stroke="#000000" stroke-width="1.7"/>
<line x1="495.15" y1="736.4" x2="498.35" y2="736.4" stroke="#000000" stroke-width="1.6"/>
<rect x="491.95" y="745.85" width="9.6" height="40.95" fill="#8fc31f" stroke="#000" stroke-width="1.7"/>
<line x1="523.5" y1="733.4" x2="523.5" y2="728.5" stroke="#000000" stroke-width="1.7"/>
<line x1="521.9" y1="729.3" x2="525.1" y2="729.3" stroke="#000000" stroke-width="1.6"/>
<rect x="518.85" y="733.25" width="9.3" height="53.55" fill="#006f35" stroke="#000" stroke-width="1.7"/>
<line x1="534.5" y1="698.6" x2="534.5" y2="690.1" stroke="#000000" stroke-width="1.7"/>
<line x1="532.9" y1="690.9" x2="536.1" y2="690.9" stroke="#000000" stroke-width="1.6"/>
<rect x="529.85" y="698.45" width="9.3" height="88.35" fill="#8fc31f" stroke="#000" stroke-width="1.7"/>
<polyline points="524.3,714.6 524.3,682.7 530.3,682.7 530.3,688.5" fill="none" stroke="#000000" stroke-width="1.8"/>
<path d="M533 673.2L533 670.41M533 673.2L535.95 672.34M533 673.2L534.82 675.46M533 673.2L531.18 675.46M533 673.2L530.05 672.34" stroke="#000" stroke-width="1.35" stroke-linecap="butt"/>
<text transform="translate(403.55,672.42) scale(0.9364,1)" x="-1.05" y="0" font-size="13.77" fill="#000">1200</text>
<text transform="translate(410.25,711.22) scale(0.9386,1)" x="-0.6" y="0" font-size="13.77" fill="#000">800</text>
<text transform="translate(410.25,750.81) scale(0.9173,1)" x="-0.32" y="0" font-size="13.91" fill="#000">400</text>
<text transform="translate(423.75,789.61) scale(0.9022,1)" x="-0.54" y="0" font-size="13.91" fill="#000">0</text>
<text transform="translate(401.95,779.05) rotate(-90) scale(1.0169,1)" x="-1.64" y="0" font-size="17.81">IL-1β (pg/ml)</text>
<text transform="translate(441.45,808.69) scale(1.3037,1)" x="-0.63" y="0" font-size="16.17" fill="#000">0.5</text>
<text transform="translate(488.3,809) scale(1.0000,1)" x="-1.31" y="0" font-size="17.2" fill="#000">1</text>
<text transform="translate(514.75,808.69) scale(1.2600,1)" x="-1.25" y="0" font-size="16.41" fill="#000">1.5</text>
<text transform="translate(549.85,808.94) scale(1.1998,1)" x="-0.9" y="0" font-size="14.54" fill="#000">(hrs)</text>
<text transform="translate(402.4,837.3) scale(1.0166,1)" x="-0.03" y="0" font-size="17.1" fill="#000">ATP/LPS treatment</text>
<line x1="612" y1="667.8" x2="612" y2="785" stroke="#8c8c8c" stroke-width="2"/>
<line x1="611" y1="784" x2="762.4" y2="784" stroke="#8c8c8c" stroke-width="2"/>
<line x1="649" y1="783.9" x2="649" y2="786.5" stroke="#8c8c8c" stroke-width="1.2"/>
<line x1="688" y1="783.9" x2="688" y2="786.5" stroke="#8c8c8c" stroke-width="1.2"/>
<line x1="725" y1="783.9" x2="725" y2="786.5" stroke="#8c8c8c" stroke-width="1.2"/>
<line x1="625.4" y1="777.9" x2="625.4" y2="773" stroke="#000000" stroke-width="1.7"/>
<line x1="623.8" y1="773.8" x2="627" y2="773.8" stroke="#000000" stroke-width="1.6"/>
<rect x="620.75" y="777.75" width="9.3" height="6.15" fill="#006f35" stroke="#000" stroke-width="1.7"/>
<line x1="636.75" y1="775.2" x2="636.75" y2="771.6" stroke="#000000" stroke-width="1.7"/>
<line x1="635.15" y1="772.4" x2="638.35" y2="772.4" stroke="#000000" stroke-width="1.6"/>
<rect x="631.75" y="775.05" width="10" height="8.85" fill="#8fc31f" stroke="#000" stroke-width="1.7"/>
<line x1="663.4" y1="706.8" x2="663.4" y2="697.1" stroke="#000000" stroke-width="1.7"/>
<line x1="661.8" y1="697.9" x2="665" y2="697.9" stroke="#000000" stroke-width="1.6"/>
<rect x="658.65" y="706.65" width="9.5" height="77.25" fill="#006f35" stroke="#000" stroke-width="1.7"/>
<line x1="674.5" y1="679.8" x2="674.5" y2="674.9" stroke="#000000" stroke-width="1.7"/>
<line x1="672.9" y1="675.7" x2="676.1" y2="675.7" stroke="#000000" stroke-width="1.6"/>
<rect x="669.85" y="679.65" width="9.3" height="104.25" fill="#8fc31f" stroke="#000" stroke-width="1.7"/>
<line x1="700.7" y1="733.4" x2="700.7" y2="725.1" stroke="#000000" stroke-width="1.7"/>
<line x1="699.1" y1="725.9" x2="702.3" y2="725.9" stroke="#000000" stroke-width="1.6"/>
<rect x="696.05" y="733.25" width="9.3" height="50.65" fill="#006f35" stroke="#000" stroke-width="1.7"/>
<line x1="711.8" y1="694.2" x2="711.8" y2="682.7" stroke="#000000" stroke-width="1.7"/>
<line x1="710.2" y1="683.5" x2="713.4" y2="683.5" stroke="#000000" stroke-width="1.6"/>
<rect x="707.05" y="694.05" width="9.5" height="89.85" fill="#8fc31f" stroke="#000" stroke-width="1.7"/>
<line x1="737.95" y1="769.5" x2="737.95" y2="767" stroke="#000000" stroke-width="1.7"/>
<line x1="736.35" y1="767.8" x2="739.55" y2="767.8" stroke="#000000" stroke-width="1.6"/>
<rect x="733.15" y="769.35" width="9.6" height="14.55" fill="#006f35" stroke="#000" stroke-width="1.7"/>
<line x1="749.05" y1="761.4" x2="749.05" y2="754.1" stroke="#000000" stroke-width="1.7"/>
<line x1="747.45" y1="754.9" x2="750.65" y2="754.9" stroke="#000000" stroke-width="1.6"/>
<rect x="744.45" y="761.25" width="9.2" height="22.65" fill="#8fc31f" stroke="#000" stroke-width="1.7"/>
<polyline points="664.6,691.1 664.6,670.8 671.3,670.8 671.3,674.7" fill="none" stroke="#000000" stroke-width="1.8"/>
<path d="M665.8 662.7L665.8 659.91M665.8 662.7L668.75 661.84M665.8 662.7L667.62 664.96M665.8 662.7L663.98 664.96M665.8 662.7L662.85 661.84" stroke="#000" stroke-width="1.35" stroke-linecap="butt"/>
<polyline points="701.9,723.3 701.9,677.7 708.5,677.7 708.5,681.4" fill="none" stroke="#000000" stroke-width="1.8"/>
<path d="M704.5 669L704.5 666.21M704.5 669L707.45 668.14M704.5 669L706.32 671.26M704.5 669L702.68 671.26M704.5 669L701.55 668.14" stroke="#000" stroke-width="1.35" stroke-linecap="butt"/>
<text transform="translate(579.35,686.41) scale(0.9580,1)" x="-1.07" y="0" font-size="14.05" fill="#000">1200</text>
<text transform="translate(585.75,719.01) scale(0.9871,1)" x="-0.61" y="0" font-size="14.05" fill="#000">800</text>
<text transform="translate(585.75,752.32) scale(1.0482,1)" x="-0.3" y="0" font-size="13.06" fill="#000">400</text>
<text transform="translate(599.95,785.72) scale(1.1247,1)" x="-0.52" y="0" font-size="13.21" fill="#000">0</text>
<text transform="translate(576.84,770.95) rotate(-90) scale(0.9710,1)" x="-1.43" y="0" font-size="15.45">IL-1β (pg/ml)</text>
<text transform="translate(629.7,802.7) rotate(-62) scale(1.0000,1)" x="-2.66" y="4.25" font-size="16" fill="#000">-</text>
<text transform="translate(666,811) rotate(-63) scale(1.0000,1)" x="-13.83" y="6.19" font-size="18" fill="#000">WT</text>
<text transform="translate(697.3,826.2) rotate(-63) scale(1.0000,1)" x="-36.83" y="4.65" font-size="18" fill="#000" font-style="italic">ΔipaH7.8</text>
<text transform="translate(739,812.5) rotate(-63) scale(1.0000,1)" x="-21.05" y="6.2" font-size="18" fill="#000">S325</text>
<rect x="53.4" y="879.7" width="7.5" height="7.1" fill="#000000" stroke="#000" stroke-width="1.4"/>
<text transform="translate(64.2,889) scale(1.1008,1)" x="-0.85" y="0" font-size="17" fill="#000">GLMN</text>
<text transform="translate(117.1,883.5) scale(1.1205,1)" x="-0.49" y="0" font-size="10" fill="#000">+/+</text>
<rect x="53.4" y="896.4" width="7.2" height="7.5" fill="#e8402a" stroke="#000" stroke-width="1.4"/>
<text transform="translate(64.2,906) scale(1.1008,1)" x="-0.85" y="0" font-size="17" fill="#000">GLMN</text>
<text transform="translate(117.8,899.6) scale(1.0621,1)" x="-0.49" y="0" font-size="10" fill="#000">+/-</text>
<rect x="222.9" y="871.5" width="7.2" height="6.5" fill="#fff" stroke="#000" stroke-width="1.4"/>
<text transform="translate(233.7,880.9) scale(1.0514,1)" x="-0.07" y="0" font-size="17" fill="#000">WT</text>
<rect x="222.9" y="888.5" width="7.2" height="6.8" fill="#000000" stroke="#000" stroke-width="1.4"/>
<text transform="translate(234.4,897.8) scale(1.0816,1)" x="-0.85" y="0" font-size="17" fill="#000">GLMN</text>
<text transform="translate(286.9,892.5) scale(1.0685,1)" x="-0.49" y="0" font-size="10" fill="#000">+/+</text>
<rect x="222.9" y="905.3" width="7.2" height="6.5" fill="#e8402a" stroke="#000" stroke-width="1.4"/>
<text transform="translate(234.4,914.2) scale(1.0816,1)" x="-0.85" y="0" font-size="17" fill="#000">GLMN</text>
<text transform="translate(286.9,909) scale(1.0984,1)" x="-0.49" y="0" font-size="10" fill="#000">+/-</text>
<rect x="465.1" y="882.3" width="8.9" height="5.8" fill="#006f35" stroke="#000" stroke-width="1.4"/>
<text transform="translate(479.5,892.4) scale(1.1348,1)" x="-0.84" y="0" font-size="16.5" fill="#000">CTL</text>
<rect x="465.1" y="899.5" width="8.9" height="5.8" fill="#8fc31f" stroke="#000" stroke-width="1.4"/>
<text transform="translate(479.5,908.2) scale(1.1364,1)" x="-0.83" y="0" font-size="16.5" fill="#000">GLMN</text>
<rect x="629.6" y="882.3" width="8.9" height="5.8" fill="#006f35" stroke="#000" stroke-width="1.4"/>
<text transform="translate(643.8,892.4) scale(1.1314,1)" x="-0.84" y="0" font-size="16.5" fill="#000">CTL</text>
<rect x="629.6" y="899.5" width="8.9" height="5.8" fill="#8fc31f" stroke="#000" stroke-width="1.4"/>
<text transform="translate(643.8,908.2) scale(1.1364,1)" x="-0.83" y="0" font-size="16.5" fill="#000">GLMN</text>
</svg>
</body></html>
